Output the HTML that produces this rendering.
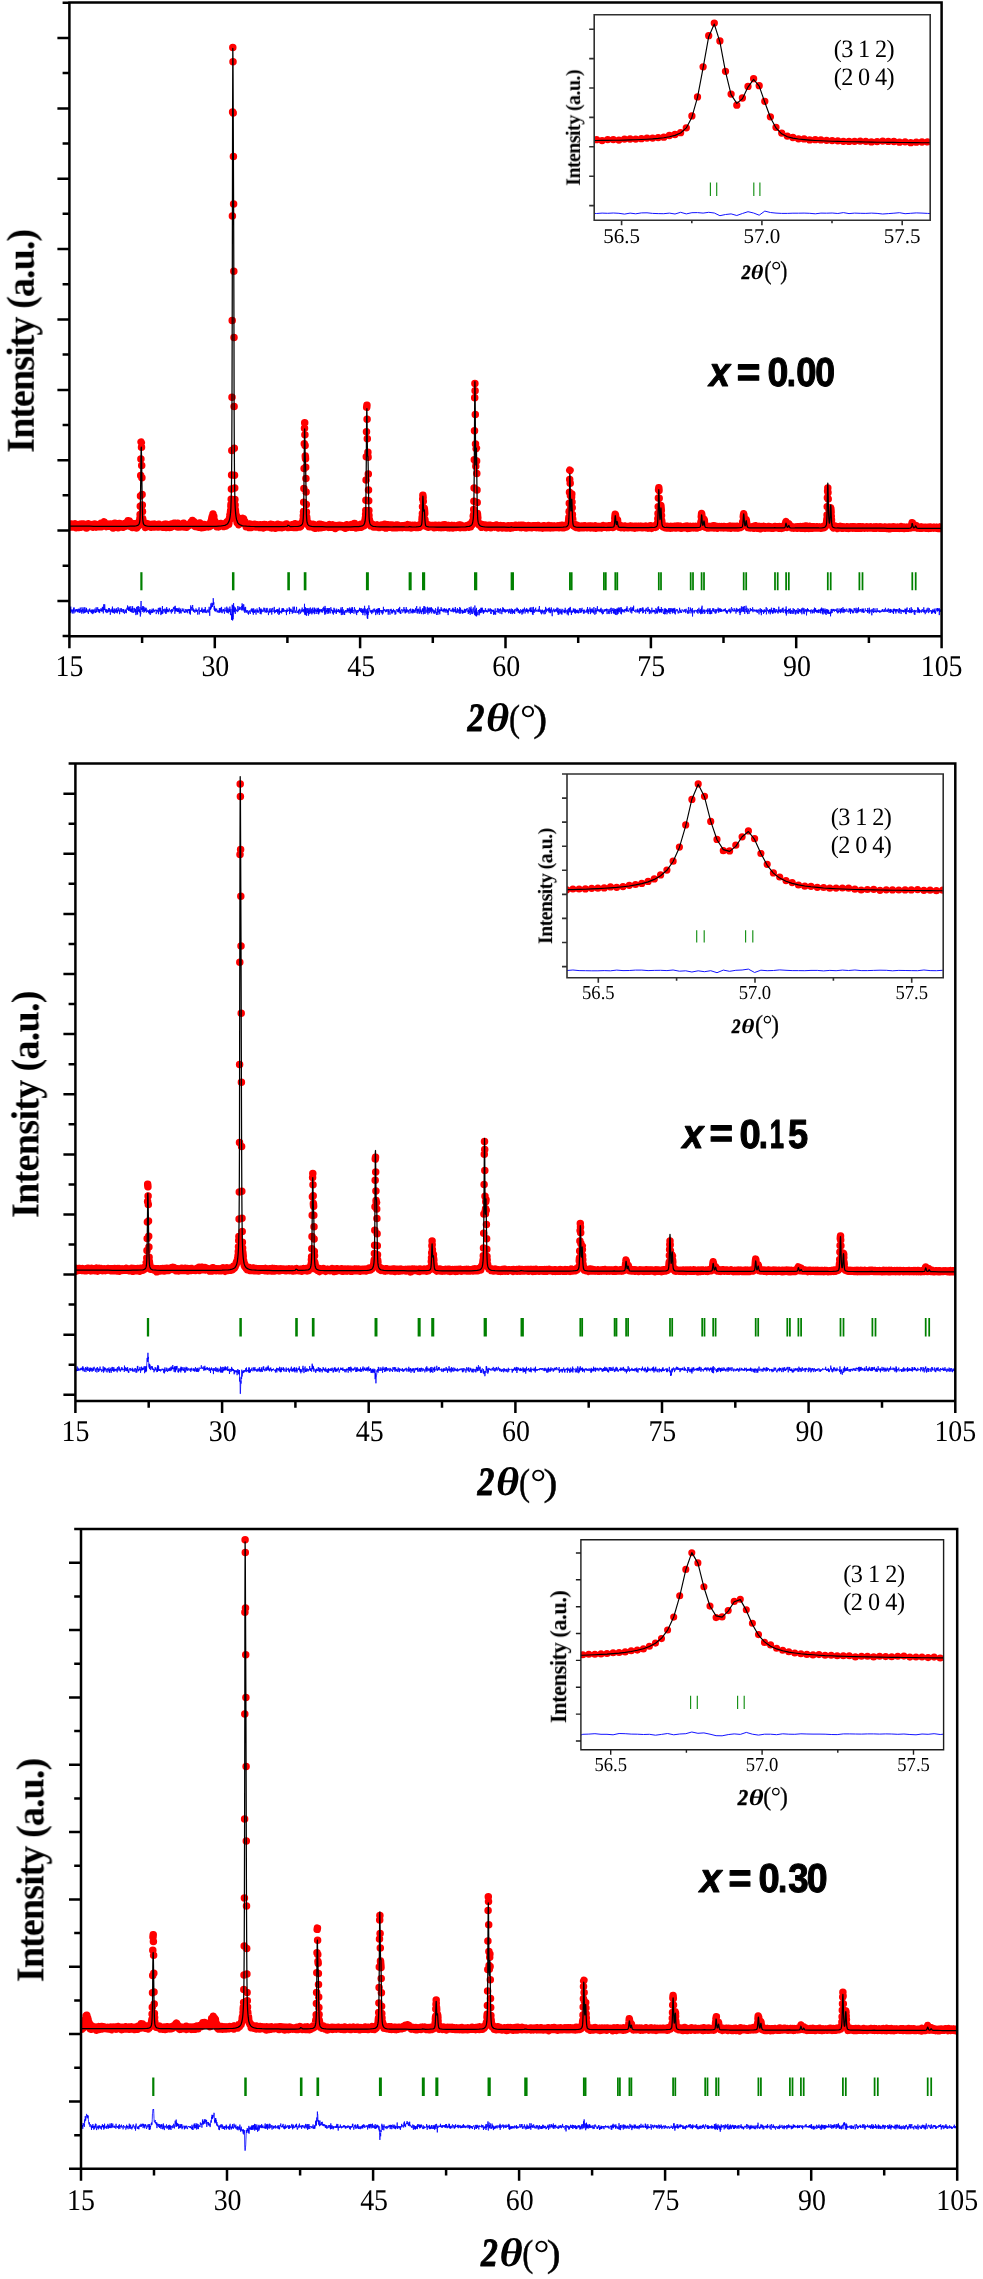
<!DOCTYPE html>
<html><head><meta charset="utf-8"><title>XRD Rietveld refinement</title>
<style>html,body{margin:0;padding:0;background:#fff}svg{display:block}text{fill:#000;text-rendering:geometricPrecision}</style></head>
<body>
<svg width="983" height="2279" viewBox="0 0 983 2279" font-family="Liberation Serif, serif">
<rect width="983" height="2279" fill="#fff"/>
<g><clipPath id="cp3"><rect x="69.4" y="-17.5" width="872.2" height="653.8"/></clipPath><path clip-path="url(#cp3)" d="M69.4,524.1h0l.2,1.1l.2,.3l.2,1.7l.2,-1.4l.2,.1l.2,-.2l.2,.4l.2,-.5l.1,.4l.2,.7l.2,-1.9l.2,0l.2,-.7l.2,1.5l.2,.3l.2,.2l.2,.8l.2,-2.1l.2,1.7l.2,.1l.2,-.8l.2,-1.5l.2,1.1l.2,1.1l.1,-.3l.2,-1.1l.2,.6l.2,.6l.2,-.5l.2,-.8l.2,-1.1l.2,2.8l.2,-.6l.2,.2l.2,1.4l.2,-1.3l.2,.1l.2,-1.9l.2,1.1l.2,1.3l.1,-1.9l.2,.8l.2,1.2l.2,-1l.2,0l.2,.3l.2,-.8l.2,1.9l.2,-1.7l.2,-1.1l.2,.2l.2,-.2l.2,0l.2,-.4l.2,2.3l.2,-1.7l.1,2.3l.2,-1.1l.2,1.2l.2,-2.6l.2,-.2l.2,1.3l.2,-1.7l.2,2.1l.2,-.7l.2,0l.2,1l.2,-1.2l.2,-1.3l.2,2.5l.2,-1.6l.2,.9l.1,-1.7l.2,1.1l.2,-.2l.2,.1l.2,.3l.2,1.4l.2,-2.4l.2,2.4l.2,-1.4l.2,-.3l.2,1.2l.2,-.8l.2,-.9l.2,1.1l.2,.7l.2,1.7l.2,-1.6l.1,-.4l.2,0l.2,.4l.2,-1.2l.2,.8l.2,-.4l.2,-.6l.2,1.3l.2,-.5l.2,-2.1l.2,1.1l.2,1.8l.2,-1l.2,-.5l.2,-.6l.2,.9l.1,.6l.2,.2l.2,-1.2l.2,.3l.2,.7l.2,-.3l.2,.2l.2,-1l.2,1.2l.2,-1l.2,-.3l.2,.3l.2,1.2l.2,-1.9l.2,1.7l.2,-.9l.1,1l.2,.8l.2,-1.6l.2,-.1l.2,.3l.2,-.3l.2,.8l.2,.1l.2,-.5l.2,-1.8l.2,1l.2,1.1l.2,-.9l.2,.9l.2,-.1l.2,-1.1l.1,1.2l.2,1l.2,-.7l.2,-.8l.2,-.1l.2,-.9l.2,1.7l.2,-1.3l.2,.3l.2,.5l.2,-.8l.2,.2l.2,1.2l.2,-1.6l.2,1.9l.2,-1.1l.1,.1l.2,-.4l.2,1l.2,-.6l.2,.1l.2,-1l.2,1.5l.2,-.7l.2,.3l.2,.8M101.2,523.2h0l.2,2.4l.2,1.2l.2,-2.7l.2,2.2l.2,-1.4l.1,-.6l.2,1.2l.2,-.3l.2,-.1l.2,-.6l.2,1.3l.2,-.5l.2,-1.3l.2,-1.3l.2,.3l.2,-1.1l.2,1.1l.2,1.3l.2,-.3l.2,2.1l.2,-.9l.2,.2l.1,-1.1l.2,-.2l.2,1.4l.2,.1l.2,1l.2,-1.1l.2,-.3l.2,-.1l.2,1.1l.2,-2.3l.2,.7l.2,1.1l.2,.4l.2,-.2l.2,-.4l.2,.2l.1,-.4l.2,-.3l.2,-.5l.2,.2l.2,1.1l.2,-.4l.2,.6l.2,.2l.2,-2.1l.2,2l.2,-2.1l.2,2l.2,-.5l.2,-.7l.2,.9l.2,-.3l.1,.5l.2,.2l.2,-.3l.2,.4l.2,-1.9l.2,1.5l.2,-1.6M113.2,528h0l.2,-2.3l.2,-.5l.2,.7l.2,-1.1l.2,.3l.2,.8l.2,-.6l.2,-2l.1,2.2l.2,-.1l.2,.7l.2,-.5l.2,1.2l.2,-.9l.2,-2.3l.2,1.2l.2,.3l.2,-.3l.2,-.7l.2,1.1l.2,-1.3l.2,.9l.2,.7l.2,-1.3M118,527.7h0l.2,-1.5l.2,-.7l.2,1l.2,-.7l.2,.4l.2,0l.2,-2.8l.2,1.8l.2,.5l.2,-1.1l.2,1.3l.2,-1l.2,.5l.2,-1.1l.2,2.6l.2,-1.9l.1,.6l.2,1.1l.2,-1.9l.2,1.6l.2,-2.1l.2,1l.2,-.2l.2,.5l.2,-.7l.2,2.4l.2,-1.7l.2,.6l.2,-.8l.2,.3l.2,-.6l.2,1.3l.1,-2.4l.2,-.4l.2,2.1l.2,-.2l.2,-.3l.2,-1l.2,-.7l.2,2.7l.2,-.7l.2,.2l.2,-.1l.2,.3l.2,-2.3l.2,1.3M127.2,521.9h0l.2,.3l.1,1.7l.2,-.2l.2,-.6l.2,-2.3l.2,2.3l.2,.7l.2,-1.6l.2,-.3l.2,1.2l.2,-2.2l.2,1.7l.2,.1l.2,1.6l.2,-.6l.2,.4l.2,2.3l.1,-2.2l.2,2.2l.2,-1.5l.2,1.5M131.4,523.3h0l.2,1.7l.2,-.4l.2,0l.2,2l.2,.9l.2,-1.7l.2,-1.1l.2,.8l.2,-.7l.2,-.1l.2,2.1l.1,-1.5l.2,-1.5l.2,2.2l.2,1.3l.2,-1.6l.2,.2l.2,-.8l.2,1.1l.2,-.9l.2,2l.2,-2.7l.2,-.7l.2,.2l.2,2.5l.2,-1.7l.2,3M136.9,524.8h0l.1,.3l.2,.8l.2,-1.3l.2,.1l.2,-.9l.2,.6l.2,-.2l.2,1.9l.2,-1l.2,-.9l.2,-1.1l.2,-.2l.2,-2.2l.2,1.8l.2,-2l.2,-2.6M140.1,514.5h0M140.3,506.3h0M140.5,496h0M140.7,475.6h0M140.9,459.1h0M141.1,442.1h0l.2,.5M141.5,447.3h0M141.7,465.4h0M141.9,477.8h0M142.1,494.6h0M142.3,505.1h0M142.5,511.4h0M142.7,518.8h0l.2,2.6l.2,1l.1,-.4l.2,2.8l.2,-1.6l.2,1.8l.2,.1l.2,-.5l.2,-.6l.2,1.1l.2,.1l.2,-.4l.2,.3l.2,2.3l.2,-2l.2,-.4l.2,-.8l.2,-.8l.1,1.3l.2,.5l.2,1l.2,-.9l.2,-.6l.2,-.4l.2,1.9l.2,-.9l.2,-.5l.2,-.9l.2,1.4l.2,.7l.2,.1l.2,-.2l.2,.2l.2,-1.2l.1,-.2l.2,.3l.2,-.4l.2,1.4l.2,-.7l.2,.7l.2,-.4l.2,-1l.2,1.1l.2,1.5l.2,-1.3l.2,.4l.2,.6l.2,-.6l.2,-1.4l.2,-.6l.1,1.8l.2,-1.3l.2,-.1l.2,2l.2,-1l.2,0l.2,-.1l.2,1.4l.2,-1l.2,-1.2l.2,-.1l.2,-.5l.2,1.8l.2,-1.8l.2,1l.2,1.7l.2,-1.8l.1,.9l.2,-.7l.2,.5l.2,-1.1l.2,.8l.2,.5l.2,-1.1l.2,.6l.2,.6l.2,-1.4l.2,1.4l.2,.2l.2,-.1l.2,.8l.2,-.8l.2,-2l.1,2.3l.2,-.7l.2,.9l.2,-.4l.2,-1.8l.2,.5l.2,1.3l.2,-.5l.2,.7l.2,-.1l.2,.1l.2,0l.2,-1l.2,-.2l.2,.1l.2,.5l.1,1l.2,-1.1l.2,.7l.2,-1.4l.2,.2l.2,-.1l.2,.9l.2,1.2l.2,-2.3l.2,-.2l.2,2.2l.2,-1.3l.2,-.9l.2,1.9l.2,-2.4l.2,1.8l.1,.6l.2,-2l.2,.9l.2,.7l.2,-1.2l.2,2.3M166.3,524.3h0l.2,2.2l.2,-.9l.2,.5l.2,-.7l.2,-.3l.2,1.4l.2,-1.3l.2,.8l.2,.4l.1,-.4l.2,.6l.2,-.1l.2,-1.5l.2,.9l.2,-1l.2,.6l.2,1.1l.2,.8l.2,-1l.2,-.8l.2,.2l.2,.7l.2,-1.5l.2,2.2l.2,-.4l.2,-1.1l.1,-1.7l.2,1.4l.2,1.2l.2,-1.4l.2,-.1l.2,-.2l.2,1.1l.2,.3l.2,-.9l.2,-.3l.2,-1.1l.2,-.6l.2,2.4l.2,-.3l.2,-.5l.2,.1l.1,-.8l.2,-.1l.2,.1l.2,-1.1l.2,1.4l.2,.8l.2,.4l.2,-.5l.2,0l.2,.8l.2,-2.3l.2,.5l.2,.7l.2,.5l.2,.7l.2,-.5l.1,-2.4M177.9,527.1h0l.2,-2l.2,-.5l.2,.6l.2,.5l.2,-.8l.2,1.6l.2,-1.3l.2,-.7l.2,2.1l.2,-.2l.2,-.7l.2,-.7l.2,-.3l.2,.6l.1,1.1l.2,.3l.2,-1.1l.2,-.1l.2,1.2l.2,-.9l.2,-.2l.2,-.6l.2,1.6l.2,-1.2l.2,1.4l.2,-.6l.2,-.3l.2,-1.3l.2,-1.4l.2,2.4l.1,-.2l.2,-.4l.2,1.9l.2,-1.7l.2,1.6l.2,-2.3l.2,.2l.2,.7l.2,1.1l.2,-2l.2,1.1l.2,.2l.2,-.4l.2,1.8l.2,-1.7l.2,-.5l.2,.6l.1,.1l.2,.9l.2,-1.3l.2,.3l.2,.2l.2,.4l.2,-1.2l.2,-.4l.2,.6l.2,-.5l.2,-.5l.2,-.3l.2,1l.2,.2l.2,0l.2,-.6l.1,-.7l.2,-.6l.2,1.1l.2,-.8l.2,.8l.2,-2.4l.2,1.4l.2,-.9l.2,.9l.2,-.6l.2,.4l.2,-2.5l.2,1.4l.2,.6l.2,.9l.2,-.2l.1,-1l.2,-.8M193.8,524.8h0l.2,-.3l.2,-.5l.2,.7l.2,1.2l.2,-1.4l.2,-.4l.2,2.3l.2,-1.5l.2,-.5l.2,.1l.2,1.3l.2,-2.2l.2,1.6l.1,1.2l.2,-1.5l.2,1.8l.2,-1.6l.2,1.7l.2,-1.6l.2,1.1l.2,-1.4l.2,.3l.2,.3l.2,.3l.2,-.8l.2,2.3l.2,-1.8l.2,0l.2,-.1l.1,-.2l.2,-2.3l.2,2.8l.2,-.5l.2,.5l.2,-1.1l.2,2.9M201,524.5h0l.2,1.9l.2,1.3l.2,-1l.2,-.7l.2,-.3l.2,.2l.2,-.7l.2,.7l.1,0l.2,1.7l.2,-2.2l.2,-.4l.2,1.2l.2,1.1l.2,-.4l.2,-2.4l.2,1.8l.2,.1l.2,.1l.2,-1.2l.2,1l.2,.2l.2,.5l.2,-1.1l.2,-.9l.1,.9l.2,-.8l.2,.6l.2,0l.2,0l.2,.1l.2,-.8l.2,.4l.2,.9l.2,-.6l.2,.1l.2,-.4l.2,.2l.2,-.2l.2,1.5l.2,-1.6l.1,-.9l.2,2.2l.2,-2.7l.2,.9l.2,.2l.2,1.1M210.3,523.1h0l.2,1.4l.2,-1l.2,-1.7l.2,.9l.2,-.8l.2,-.7l.2,-1.9l.2,-1.6l.2,-.5l.1,-.6l.2,.4l.2,-.8l.2,.8l.2,-3l.2,2.4l.2,2.9l.2,-.4l.2,-2.3M214,520.6h0l.2,-.2l.2,-.1l.2,2.4l.2,-1.5l.2,.1l.2,3l.1,-1.4l.2,2.3l.2,.4l.2,-.9l.2,.3l.2,.8l.2,-1.1l.2,2l.2,-.5l.2,.3l.2,-1.6l.2,0l.2,.1l.2,1.7l.2,-1.2l.2,-.3l.1,1.7l.2,-.7l.2,-1.2l.2,-.1l.2,.4l.2,-.3l.2,.2l.2,.1l.2,.3l.2,.6l.2,-.6l.2,.2l.2,-2.4l.2,1.8l.2,.2l.2,.1l.2,-.1l.1,.1l.2,-.7l.2,.5l.2,-.8l.2,1.3l.2,-.9l.2,-.5l.2,1.7l.2,-1.2l.2,-.1l.2,.5l.2,.1l.2,1.1l.2,-2.7l.2,1.8l.2,.3l.1,-1.8l.2,2.2l.2,-2.6l.2,.4l.2,-.2l.2,.6l.2,.8l.2,.6M226.4,522.7h0l.2,1.6l.2,-.1l.2,-2.1l.2,2l.2,-.6l.2,-.2l.2,-.3l.1,.6l.2,-.7l.2,-2.1l.2,.1M228.7,524.3h0l.2,-1.4l.2,-2.9l.2,-.1l.2,-.5l.2,-2.3l.2,2.1M230.1,514.6h0l.2,-.2l.2,-2.3l.2,-1.9M230.9,506.6h0l.1,-2.4M231.2,499.3h0M231.4,489h0M231.6,475.1h0M231.8,450.6h0M232,397.2h0M232.2,320.4h0M232.4,216h0M232.6,112.1h0M232.8,47.6h0M233,61.7h0M233.2,112.9h0M233.4,156.5h0M233.6,203.9h0M233.8,271.3h0M234,337.4h0M234.1,406.5h0M234.3,448.2h0M234.5,475.2h0M234.7,488.1h0M234.9,499.5h0M235.1,505.1h0M235.3,509.5h0l.2,2.6l.2,2.8l.2,-1.1l.2,1.9l.2,.7l.2,2.8l.2,-2.6M236.9,521h0l.2,1.6l.2,-1.3l.1,0l.2,-.2l.2,2l.2,-1.3l.2,-.8l.2,2.7l.2,0l.2,1l.2,-1.7l.2,-.6l.2,.1l.2,-.1l.2,-.6l.2,1.1l.2,-.9l.2,1.6l.1,-.4l.2,-1.3l.2,.8l.2,-1.7l.2,-1.2l.2,.7l.2,.8l.2,-.2l.2,-2.5l.2,2.1l.2,-1.1l.2,.3l.2,-.3l.2,-1.1l.2,1.9l.2,1.1l.1,-2.7l.2,1.6l.2,-.1l.2,1.1l.2,-.3l.2,-.1l.2,.3l.2,2l.2,.4l.2,-.3l.2,.5l.2,-.1l.2,1.4l.2,1.6l.2,-2.2l.2,-.2l.1,.3l.2,-.8l.2,.8l.2,1.1l.2,-1.1l.2,.9l.2,-1l.2,.8l.2,-.1l.2,.2l.2,.1l.2,1.3l.2,-1.2l.2,1.8l.2,-2.2l.2,-.4l.1,-.8l.2,1.3l.2,.9l.2,.7l.2,-2.8l.2,2.7l.2,-1.8l.2,2.5l.2,-1.8l.2,-.6l.2,.3l.2,.3l.2,.7l.2,0l.2,-1.5l.2,.5l.1,.5l.2,-.3l.2,.9l.2,-1.6l.2,-.1l.2,1.6l.2,-.7l.2,-.8l.2,1.4l.2,-2.1l.2,.4l.2,1.4l.2,-1l.2,-.5l.2,2.3l.2,-1.5l.2,.6l.1,.1l.2,-.8l.2,1l.2,.7l.2,0l.2,-1.1l.2,-.5l.2,.5l.2,.1l.2,-.1l.2,-1l.2,.6l.2,1l.2,-.3l.2,-1.2l.2,1.4l.1,-.2l.2,-.2l.2,.8l.2,-1.6l.2,2.4l.2,-2.8l.2,1.5l.2,.6l.2,-1.2l.2,1.6l.2,-1.8l.2,-.1l.2,1l.2,-.1l.2,-1.1l.2,1.3l.1,-.5l.2,-.3l.2,-.9l.2,1.6l.2,-.5l.2,-.8l.2,2.8l.2,-1.7l.2,1.2l.2,0l.2,-2.9l.2,1.3l.2,-.9l.2,1.3l.2,-.6l.2,.7l.1,.1l.2,-.3l.2,-.2l.2,-1.1l.2,1.3l.2,-.4l.2,.5l.2,-.3l.2,1.1l.2,-1.8l.2,1.2l.2,-.4l.2,.2l.2,-.9l.2,.3l.2,.4l.1,-.1l.2,-.1l.2,-.4l.2,.2l.2,-.6l.2,-.2l.2,.8l.2,1.4l.2,-2.3l.2,-.3l.2,1.9l.2,0l.2,1.3l.2,-2.2l.2,1.4l.2,-2.2M271.8,527.9h0l.1,-1.9l.2,-.5l.2,.8l.2,.3l.2,-.8l.2,.6l.2,-.1l.2,-.2l.2,.4l.2,-.3l.2,-.8l.2,.9l.2,-.4l.2,.7l.2,-1.2l.2,1.6l.1,-1.7M275.2,528.3h0l.2,-1.6l.2,.5l.2,-1.9l.2,.5l.2,1.2l.2,-.5l.2,-1.5l.2,1.1l.2,-.5l.2,1.6l.2,0l.2,-1.6l.2,-1.3l.2,2.2l.1,-.9l.2,1.2l.2,-1.7l.2,1.3l.2,0l.2,1.1l.2,-1.1l.2,-.5l.2,-.9l.2,2l.2,-1.7l.2,1l.2,0l.2,.5l.2,.6l.2,-.4l.1,-2.1l.2,2.1l.2,-.6l.2,-1.1l.2,2.4l.2,-1.9l.2,.7l.2,-.5l.2,-.6l.2,.8l.2,0l.2,-.7l.2,.1l.2,1l.2,-.4l.2,.9l.1,-2l.2,1.9l.2,-1.1l.2,-1.1l.2,.7l.2,.8l.2,.3l.2,-.1l.2,-1.1l.2,.4l.2,.3l.2,-2l.2,2.6l.2,-.3l.2,-.1l.2,-.5l.1,-.1l.2,.3l.2,-.9l.2,.1l.2,.6l.2,1.8l.2,-2.5l.2,1.4l.2,-.2l.2,-.4l.2,.9l.2,-.2l.2,-.7l.2,.4l.2,-.5l.2,.9l.2,-.5l.1,.7l.2,-.6l.2,-.4l.2,.4l.2,.9l.2,-1l.2,-.2l.2,-.8l.2,.9l.2,.3l.2,.5l.2,-2.4l.2,2.3l.2,.1l.2,-.7l.2,1.2l.1,-2.2l.2,.7l.2,-.3l.2,1.2l.2,-.4l.2,-1.1l.2,0l.2,-1.5l.2,1.3l.2,2.3l.2,-1.5l.2,.3l.2,-1.1l.2,.9l.2,-.5l.2,.6l.1,-.7l.2,-.7l.2,1.6l.2,1.1l.2,-.8l.2,-2.1l.2,1.1l.2,.4l.2,.5l.2,-1.7l.2,.6l.2,.3l.2,.3l.2,-.4l.2,.1l.2,-.8l.1,-.6l.2,2.6l.2,-.5l.2,-1.3l.2,-.2l.2,1.2l.2,-.9l.2,-.4l.2,-.1l.2,-.2l.2,-.7l.2,-1.2l.2,-.4l.2,-.4l.2,-.5l.2,0l.1,-1.8M303.3,515.7h0M303.5,511.6h0M303.7,502.2h0M303.9,488.6h0M304.1,468.4h0M304.3,443.7h0M304.5,428.2h0M304.7,422.7h0M304.9,434.8h0M305.1,445.5h0M305.3,456h0l.2,2.7M305.7,467.2h0M305.9,478.6h0M306.1,492h0M306.3,504.5h0M306.4,511.9h0M306.6,516.5h0l.2,2.1l.2,2.7l.2,.6l.2,1.2l.2,1l.2,-.6l.2,.1l.2,1.3l.2,-1.8l.2,2.2l.2,-1.1l.2,.4l.2,1.9l.2,-1.3l.1,1.3l.2,-1.1l.2,-.5l.2,-.9l.2,.9l.2,1.9l.2,-.9l.2,-1.4l.2,1.1l.2,-1.3l.2,2l.2,-.1l.2,.7l.2,-.8l.2,-1.2l.2,1.7l.1,-1.3l.2,.3l.2,-.3l.2,.8l.2,-.2l.2,-1.5l.2,2.5l.2,-1.5l.2,-.5l.2,.8l.2,-.9M314.8,528.3h0l.2,-2l.2,.6l.2,-.5l.2,-.2l.1,-.5l.2,1l.2,-1.3l.2,1.9l.2,-1.9l.2,.9l.2,1.1l.2,.1l.2,0l.2,-.6l.2,-.8l.2,-.9l.2,.4l.2,1.6l.2,.7l.2,-1.5l.1,.8l.2,-.9l.2,.4l.2,-2.4M319.6,527.5h0l.2,-1.5l.2,-1.1l.2,1.6l.2,.3l.2,-1.8l.2,2.8l.2,-.3l.2,-.4l.2,-1.2l.2,-.2l.2,.6l.2,-1.7l.1,1.8l.2,-.2l.2,.3l.2,-1.2l.2,.9l.2,.3l.2,-1.5l.2,.3l.2,.2l.2,1.7l.2,-.2l.2,-.6l.2,0l.2,.1l.2,-.1l.2,-.6l.1,1.2l.2,-.9l.2,.4l.2,.1l.2,-.2l.2,-.7l.2,.3l.2,.8l.2,-.8l.2,.1l.2,-.2l.2,.5l.2,-.9l.2,.4l.2,1.1l.2,.1l.1,.1l.2,-1.3l.2,.8l.2,-.2l.2,-.2l.2,-1l.2,-.7l.2,1.7l.2,-1.5l.2,1l.2,-.5l.2,1.1l.2,.7l.2,-1.2l.2,-.6l.2,2l.1,-1.1l.2,-.2l.2,-.2l.2,1.2l.2,-.4l.2,-1.1l.2,-.6l.2,1.2l.2,-.6l.2,.6l.2,-.2l.2,.6l.2,-.1l.2,.2l.2,-.5l.2,-.7l.1,.7l.2,-.4l.2,1l.2,-1l.2,2.8l.2,-1.3l.2,-.7l.2,1l.2,-1.7l.2,.3l.2,.8l.2,-.7l.2,1.1l.2,-.4l.2,-.4l.2,.9l.1,-1.9l.2,1.2l.2,-1.2l.2,.8l.2,-.3l.2,.9l.2,-.5l.2,.1l.2,-.4l.2,-.9l.2,1.4l.2,-.3l.2,-.3l.2,-.4l.2,.7l.2,.2l.2,.1l.1,-.4l.2,-.1l.2,.6l.2,-.3l.2,-.7l.2,.5l.2,.4l.2,-.9l.2,0l.2,.1l.2,0l.2,.7l.2,-.4l.2,-.1l.2,.1l.2,1.4l.1,-1.3l.2,-.2l.2,-.1l.2,.5l.2,-.2l.2,1.3l.2,-.2l.2,1l.2,-1.9l.2,-1.3l.2,-.1l.2,2l.2,-1.2l.2,-.5l.2,1.1l.2,1.2l.1,-2.4l.2,1.3l.2,0l.2,-1.5l.2,.9l.2,-.3l.2,-.5l.2,1.2l.2,.6l.2,-1.3l.2,.6l.2,-.5l.2,.2l.2,.8l.2,-.5l.2,.2l.1,-.1l.2,-.1l.2,-.3l.2,.1l.2,1.1l.2,-1.4l.2,1.5l.2,-2.6l.2,2.1l.2,-.5l.2,-1l.2,1.1l.2,.8l.2,.1l.2,-1.3l.2,-.1l.1,-.3l.2,.4l.2,.6l.2,-.7l.2,-.7l.2,1.6M354.5,523.5h0l.2,2.9l.2,-1.2l.2,-.5l.2,.7l.2,.5l.2,-.3l.2,-.5l.2,2.9l.2,-2.3l.2,.6l.1,.3l.2,-.6l.2,-.1l.2,-.2l.2,.7l.2,-1.2l.2,2.3l.2,-.8l.2,.2l.2,-1l.2,.4l.2,-.7l.2,.9l.2,-1.5l.2,.3l.2,1l.1,.8l.2,-.4l.2,.3l.2,-2.2l.2,.4l.2,1.5l.2,-2.5l.2,1.7l.2,1.4l.2,-2.6l.2,-.2l.2,.9l.2,.6l.2,-1.7l.2,1.3l.2,-.5l.1,-.5l.2,0l.2,.5l.2,.3l.2,-1.7l.2,2.2l.2,-2.4l.2,-.3l.2,-.7l.2,.2l.2,-1.2l.2,-1.4l.2,.5l.2,-2.9M365.6,514.3h0M365.8,510.5h0M365.9,500.2h0M366.1,480.1h0M366.3,456.8h0M366.5,431.8h0M366.7,407.3h0l.2,-2M367.1,419.3h0M367.3,438.8h0M367.5,456.2h0l.2,-.7M367.9,452.3h0M368.1,457.3h0M368.3,473.9h0M368.5,489.9h0M368.7,500.7h0M368.9,510.6h0M369,515.4h0M369.2,519.6h0l.2,0l.2,1.3l.2,.9l.2,2l.2,1l.2,0l.2,-1.2l.2,2.2l.2,-1.8l.2,-.7l.2,2l.2,-.2l.2,-.8l.2,.2l.2,1.3l.1,-.3l.2,-.2l.2,.4l.2,-.6l.2,.3l.2,-.7l.2,2.3l.2,-2.1l.2,.3l.2,.7l.2,-.4l.2,-.4l.2,.6l.2,.4l.2,-.4l.2,.8l.1,.4l.2,-.3l.2,0l.2,-.7l.2,-.4l.2,.4l.2,-.9l.2,1.1l.2,.4l.2,.1l.2,.1l.2,-.4l.2,-1.2l.2,2.1l.2,-1.5l.2,.5l.1,-.6l.2,.9l.2,-.8l.2,.8l.2,-.8l.2,1.8l.2,-1.7l.2,-.1l.2,1.6l.2,-1.7l.2,1.4l.2,-1.5l.2,.7l.2,-.5l.2,.2l.2,1.1l.1,-1.9l.2,.3l.2,1.5l.2,-1.1l.2,.1l.2,.8l.2,.2l.2,-1.6l.2,1.2l.2,-.9l.2,-.7l.2,1l.2,.9l.2,-1.2l.2,1.6l.2,-.3l.1,-2.7l.2,2.6l.2,-.8l.2,1l.2,-.7l.2,-.2l.2,2l.2,-1.4l.2,-.9l.2,-.1l.2,.3l.2,.9l.2,-.9l.2,.6l.2,.2l.2,-.5l.1,-1.6l.2,2.2l.2,-1.3l.2,.5l.2,1.2l.2,-.4l.2,-.5l.2,.2l.2,-.5l.2,.9l.2,0l.2,-1.4l.2,.7l.2,.6l.2,-.6l.2,-1.2l.2,1.6l.1,.6l.2,-1.6l.2,-.7l.2,.5l.2,1.7l.2,.5l.2,-2.2l.2,.9l.2,-.4l.2,.5l.2,-1.3l.2,1.1l.2,.2l.2,-.3l.2,.9l.2,-.9l.1,.2l.2,1.4l.2,-.7l.2,.1l.2,.2l.2,-1.3l.2,-.5l.2,.5l.2,1.3l.2,.2l.2,-1.8l.2,.8l.2,-.2l.2,.8l.2,.5l.2,-2.8l.1,1.9l.2,-.3l.2,.6l.2,-1.7l.2,1.2l.2,-.1l.2,-.1l.2,0l.2,-1l.2,2.2l.2,-1.6l.2,.8l.2,-.1l.2,.1l.2,-.7l.2,1.2l.1,-.5l.2,-.8l.2,.8l.2,-.1l.2,-.5l.2,.2l.2,.2l.2,-.2l.2,.6l.2,-1.2l.2,1.3l.2,.4l.2,-1.4l.2,1.2l.2,-.2l.2,-.5l.1,-.6l.2,.7l.2,0l.2,0l.2,-.5l.2,.6l.2,-.5l.2,-.8l.2,1.1l.2,.1l.2,.4l.2,-.2l.2,.4l.2,-.1l.2,-.4l.2,-.6l.2,-.1l.1,.6l.2,-.5l.2,1.1l.2,-2.2l.2,-.3l.2,1.7l.2,-.4l.2,.3l.2,-.5l.2,.9l.2,.6l.2,-1.7l.2,1.3l.2,-1.1l.2,.9l.2,-.1l.1,-1.1l.2,-.4l.2,1.2l.2,.2l.2,-.5l.2,.6l.2,.8l.2,-1.1l.2,1.5l.2,-1.8l.2,.6l.2,-.4l.2,1.1l.2,-.5l.2,-.9l.2,-.5l.1,.4l.2,.3l.2,1l.2,-1.2l.2,.3l.2,.3l.2,-1.1l.2,1.4l.2,-1.7l.2,1.6l.2,0l.2,-.3l.2,.8l.2,-.6l.2,-.4l.2,1.2l.1,-.6l.2,.4l.2,-.7l.2,-1l.2,1l.2,-.1l.2,-.3l.2,.9l.2,-1l.2,.5l.2,.1l.2,.7l.2,-.7l.2,-1.2l.2,-.2l.2,1l.1,-.3l.2,.3l.2,.5l.2,.4l.2,-2.5l.2,1.8l.2,-1l.2,-1.1l.2,1.3l.2,-.4l.2,-.6l.2,.1l.2,-1.1l.2,-.6M422,519.9h0l.2,-2.9M422.4,513.4h0M422.5,506.7h0M422.7,499h0M422.9,495.3h0l.2,2.3M423.3,501.2h0M423.5,508.2h0l.2,2.4l.2,-.6l.2,1l.2,-2.7l.2,2.2l.2,3M424.9,519.4h0l.2,2.3l.2,1.2l.2,1.5l.1,1.5l.2,-1.5l.2,1.1l.2,-.2l.2,1.1l.2,-1.3l.2,1l.2,.3l.2,-1l.2,-.1l.2,1.4l.2,-1.3l.2,-.4l.2,1l.2,1.2l.2,-1.4l.1,-.3l.2,1.4l.2,-1.8l.2,1.3l.2,0l.2,-.8l.2,.6l.2,-.7l.2,.8l.2,-.2l.2,.2l.2,-.1l.2,-.2l.2,0l.2,.6l.2,-.8l.1,.6l.2,-.8l.2,.4l.2,.5l.2,.4l.2,-.5l.2,-.9l.2,.8l.2,-.5l.2,.7l.2,.1l.2,.3l.2,.8l.2,-1.5l.2,.2l.2,.1l.1,-.6l.2,1.2l.2,-1.8l.2,2.1l.2,-1.1l.2,.9l.2,-.6l.2,-.9l.2,1.7l.2,-1.1l.2,.1l.2,-.1l.2,0l.2,-.4l.2,.2l.2,.1l.1,-.3l.2,.1l.2,.6l.2,.7l.2,-1.3l.2,.7l.2,-1.3l.2,1.4l.2,.5l.2,-1.5l.2,1.2l.2,.4l.2,-1.7l.2,1.7l.2,-1.8l.2,1.5l.2,-.9l.1,.1l.2,1.3l.2,-1.1l.2,.3l.2,-.4l.2,-.2l.2,-.7l.2,1.1l.2,0l.2,-1.5l.2,.9l.2,0l.2,1.5l.2,-.1l.2,-.6l.2,-.2l.1,-.4l.2,-1.4l.2,2.5l.2,-.5l.2,-.7l.2,.2l.2,-.5l.2,.9l.2,.4l.2,-1.9l.2,1l.2,1.1l.2,-.6l.2,-.2l.2,1l.2,-1.5l.1,.4l.2,.3l.2,.2l.2,-1.4l.2,1.1l.2,.4l.2,.8l.2,-.6l.2,-1.1l.2,-.5l.2,1.7l.2,.5l.2,-1.3l.2,.1l.2,-.6l.2,1l.1,-.5l.2,1.2l.2,-.4l.2,-.4l.2,-.1l.2,-.6l.2,-.5l.2,1.7l.2,-2l.2,1.6l.2,-.2l.2,-1l.2,2.2l.2,-.6l.2,-.4l.2,-.5l.1,-.7l.2,0l.2,1.3l.2,-1.1l.2,.8l.2,-1.2l.2,1.1l.2,-.9l.2,1.4l.2,-1.2l.2,1.4l.2,-1l.2,1.1l.2,-.9l.2,.4l.2,.1l.2,-.8l.1,-.3l.2,.4l.2,-.1l.2,-.3l.2,-.3l.2,.1l.2,.4l.2,-1l.2,1.6l.2,-.8l.2,1.2l.2,-2.3l.2,1.7l.2,-.2l.2,-.8l.2,1l.1,.4l.2,.6l.2,-1l.2,-1.5l.2,1.2l.2,-1l.2,.6l.2,.8l.2,.6l.2,-.8l.2,-.5l.2,.6l.2,-.3l.2,-.3l.2,.6l.2,.7l.1,-.7l.2,-.6l.2,.9l.2,.2l.2,-.1l.2,-.5l.2,-.1l.2,0l.2,.8l.2,-.9l.2,.4l.2,.2l.2,.6l.2,-.5l.2,-.3l.2,-.5l.1,-.2l.2,.2l.2,-.1l.2,.8l.2,-1.3l.2,0l.2,.1l.2,.7l.2,-.3l.2,.2l.2,.6l.2,-.7l.2,.8l.2,.1l.2,-1.7l.2,0l.1,-.3l.2,.9l.2,-.4l.2,-.5l.2,.6l.2,1.1M470.6,523.6h0l.2,.6l.2,-.2l.2,.7l.2,.4l.2,-.9l.2,-.4l.2,1l.2,-1.1l.2,-1.3l.2,-1.3l.1,0l.2,-.1l.2,-.5M473.3,515.9h0l.2,-1.1M473.7,509.4h0M473.9,501.3h0M474.1,487.9h0M474.3,459.7h0M474.5,430.7h0M474.7,397.8h0M474.9,383.5h0M475.1,390.7h0M475.3,414.6h0M475.5,444.1h0M475.7,461.5h0M475.8,466.3h0M476,460.8h0M476.2,448.7h0l.2,-.5M476.6,461h0M476.8,473.4h0M477,490h0M477.2,502.5h0M477.4,513.4h0l.2,2.8l.2,1.6M478,521.4h0l.2,.8l.2,.3l.2,2l.2,-1.3l.1,-.2l.2,.6l.2,-.3l.2,1.2l.2,.3l.2,.3l.2,.5l.2,.4l.2,-.1l.2,-.4l.2,.4l.2,-.4l.2,.1l.2,-.3l.2,.8l.2,1.2l.1,-.8l.2,-1.9l.2,.9l.2,.8l.2,-.1l.2,-.1l.2,.3l.2,-.4l.2,-.3l.2,-.3l.2,1l.2,0l.2,.1l.2,-.3l.2,-.6l.2,1.2l.1,-1.9l.2,1.1l.2,-.4l.2,1.3l.2,-.3l.2,.1l.2,-.4l.2,1.4l.2,-1.6l.2,1.4l.2,-1.3l.2,-.4l.2,.7l.2,0l.2,0l.2,.1l.1,-.3l.2,-.4l.2,.1l.2,-.5l.2,.9l.2,.4l.2,0l.2,.4l.2,-.5l.2,.1l.2,-1.4l.2,.7l.2,-.7l.2,2.3l.2,-1.4l.2,-.5l.2,.5l.1,.5l.2,-.4l.2,0l.2,0l.2,-.1l.2,-.4l.2,.5l.2,-.1l.2,.2l.2,-.3l.2,.7l.2,-.8l.2,.6l.2,-.7l.2,.9l.2,-.4l.1,.1l.2,.5l.2,-1.2l.2,.4l.2,.2l.2,-.7l.2,.9l.2,-.2l.2,-.7l.2,-.8l.2,1.5l.2,-1l.2,.9l.2,.6l.2,-.8l.2,-.4l.1,.6l.2,-.1l.2,.9l.2,.7l.2,-1.5l.2,1l.2,-.8l.2,.4l.2,-.5l.2,-.4l.2,1.5l.2,-.9l.2,0l.2,-.9l.2,.8l.2,.5l.1,-.1l.2,-1.4l.2,1.6l.2,-.6l.2,-.1l.2,.8l.2,-.2l.2,.7l.2,-.6l.2,-.9l.2,.2l.2,1.3l.2,-2l.2,1.6l.2,-.2l.2,-1.5l.1,.7l.2,.3l.2,-.9l.2,.9l.2,-.3l.2,.6l.2,-.3l.2,0l.2,-.7l.2,1l.2,-.2l.2,1.1l.2,-.2l.2,-1.4l.2,.6l.2,0l.2,-.6l.1,.6l.2,-.3l.2,.2l.2,1.1l.2,-1.6l.2,-.5l.2,.2l.2,.6l.2,-.1l.2,0l.2,-.7l.2,.2l.2,.9l.2,-.1l.2,0l.2,.2l.1,0l.2,-.3l.2,1.4l.2,-1.8l.2,.5l.2,.4l.2,-.7l.2,.4l.2,-1.1l.2,1.5l.2,-.7l.2,-.2l.2,.7l.2,.2l.2,-1l.2,.5l.1,.4l.2,.3l.2,-1.2l.2,-.5l.2,1.2l.2,-.6l.2,-.3l.2,0l.2,1l.2,-.7l.2,-.1l.2,-1l.2,1.3l.2,-.5l.2,.1l.2,.1l.1,1l.2,-.8l.2,-.7l.2,1.1l.2,-.3l.2,.5l.2,-.6l.2,0l.2,-.2l.2,.6l.2,0l.2,.1l.2,-.5l.2,.1l.2,-1.2l.2,1.7l.1,-.8l.2,.7l.2,0l.2,-.9l.2,.4l.2,-.1l.2,1.1l.2,-2.3l.2,.3l.2,1.6l.2,.4l.2,-.4l.2,-.5l.2,.6l.2,-.6l.2,.5l.2,-1.9l.1,1.6l.2,.2l.2,-1.4l.2,.9l.2,.2l.2,0l.2,-.3l.2,.6l.2,-.3l.2,.3l.2,.5l.2,-.6l.2,-.3l.2,-.8l.2,.8l.2,.3l.1,-.2l.2,-.3l.2,1.6l.2,-1l.2,.9l.2,-.2l.2,-.6l.2,-.3l.2,-.1l.2,0l.2,-.7l.2,.5l.2,0l.2,.4l.2,-1.3l.2,.4l.1,1l.2,0l.2,-.7l.2,-.1l.2,.7l.2,-.8l.2,1.3l.2,-.6l.2,-.6l.2,.8l.2,-.4l.2,.1l.2,.2l.2,.9l.2,-.9l.2,-.3l.1,0l.2,-.3l.2,-.1l.2,.7l.2,-.1l.2,-1l.2,.4l.2,.5l.2,.1l.2,-.7l.2,0l.2,.7l.2,-.3l.2,.2l.2,0l.2,-1l.1,1.7l.2,-1.1l.2,1l.2,-.2l.2,-.9l.2,1.2l.2,-.2l.2,.2l.2,-.3l.2,-.5l.2,-.5l.2,1l.2,-.9l.2,1.2l.2,-1.9l.2,1.5l.1,0l.2,-.4l.2,.1l.2,.1l.2,.9l.2,-1.4l.2,.1l.2,.6l.2,.4l.2,-.8l.2,-.5l.2,1.6l.2,-.3l.2,-.7l.2,.5l.2,-.2l.2,-.2l.1,-.5l.2,0l.2,-.1l.2,.1l.2,.8l.2,1l.2,-1.5l.2,-.1l.2,0l.2,.6l.2,-1.4l.2,2l.2,-1.4l.2,.1l.2,-.1l.2,-.3l.1,.5l.2,.1l.2,.3l.2,-.5l.2,.2l.2,-.3l.2,1.1l.2,.2l.2,-.9l.2,-.2l.2,1.1l.2,-.3l.2,-.3l.2,-.4l.2,0l.2,-.4l.1,.7l.2,-.4l.2,-.4l.2,.8l.2,-1.4l.2,1.5l.2,-.3l.2,1.1l.2,-1l.2,.3l.2,0l.2,-.5l.2,.8l.2,-.8l.2,1.3l.2,-.9l.1,-1l.2,.7l.2,-.3l.2,.9l.2,.2l.2,-1.5l.2,.2l.2,.1l.2,.5l.2,-.7l.2,.9l.2,-.6l.2,0l.2,.9l.2,-1.3l.2,.7l.1,-.4l.2,1.3l.2,-.2l.2,-.4l.2,-.5l.2,-.4l.2,.4l.2,.3l.2,-.4l.2,.5l.2,-.2l.2,-.2l.2,.6l.2,-.6l.2,1l.2,-.3l.2,-.8l.1,.7l.2,-.6l.2,.1l.2,.2l.2,-.9l.2,.6l.2,.6l.2,-.1l.2,-.3l.2,.9l.2,-1.5l.2,.7l.2,.9l.2,-.4l.2,-1.4l.2,.7l.1,-1.1l.2,1.2l.2,-.3l.2,-.8l.2,-.1l.2,1.7l.2,-1l.2,1l.2,-.3l.2,.7l.2,-1.3l.2,.9l.2,-.1l.2,-1.6l.2,.6l.2,.6l.1,.9l.2,-1.2l.2,1.4l.2,-.8l.2,-.9l.2,-.1l.2,.3l.2,-.4l.2,.3l.2,.6l.2,-.5l.2,-1.1l.2,1l.2,-.3l.2,-.2l.2,1.1l.1,-.3l.2,.2l.2,-1.4l.2,.3l.2,.3l.2,-.2l.2,-1.6l.2,-.6l.2,-.4l.2,-.7l.2,-2.2l.2,-2.9M569.1,511.4h0M569.3,503.3h0M569.5,492.2h0M569.7,479.4h0M569.8,470.2h0l.2,.1M570.2,483.3h0M570.4,495.4h0M570.6,502.9h0M570.8,508h0l.2,2.1l.2,-2.9M571.4,502.4h0M571.6,497.1h0M571.8,494h0M572,502.1h0M572.2,507.7h0M572.4,514.4h0M572.6,518.4h0l.2,2.7l.2,1.8l.1,1.8l.2,.6l.2,-.9l.2,.7l.2,.3l.2,-.1l.2,1l.2,-1.1l.2,1.3l.2,.3l.2,0l.2,-.4l.2,-1.6l.2,1.6l.2,-.1l.2,-.7l.1,1.1l.2,.6l.2,-.4l.2,-.1l.2,.7l.2,-.7l.2,-.2l.2,-1.1l.2,.7l.2,.4l.2,.4l.2,.1l.2,.7l.2,-1l.2,1.2l.2,-1.1l.1,-1l.2,1.1l.2,-.4l.2,.7l.2,.5l.2,-1.1l.2,.3l.2,-.4l.2,.2l.2,-.3l.2,.6l.2,-.5l.2,-.3l.2,.8l.2,-.1l.2,-.7l.1,.3l.2,.4l.2,.7l.2,-.7l.2,-.9l.2,1l.2,-.1l.2,.4l.2,-.5l.2,0l.2,-.2l.2,.5l.2,.3l.2,-1.7l.2,1l.2,.6l.1,-.4l.2,-.4l.2,-.3l.2,.4l.2,.4l.2,-.5l.2,1l.2,-.2l.2,-1.2l.2,.6l.2,.1l.2,.3l.2,.3l.2,-.7l.2,.1l.2,-.9l.1,1.4l.2,-.5l.2,.2l.2,.3l.2,-1.4l.2,.2l.2,.6l.2,.9l.2,-.9l.2,-.1l.2,.6l.2,.5l.2,-1.8l.2,1.7l.2,-1.3l.2,.9l.2,-.2l.1,-.7l.2,1.1l.2,-.4l.2,-.1l.2,-.7l.2,.1l.2,.5l.2,.7l.2,-1.3l.2,.9l.2,-.4l.2,1.1l.2,-.9l.2,-.3l.2,.4l.2,-.5l.1,-.3l.2,-.2l.2,1.1l.2,.5l.2,.5l.2,-1.1l.2,.7l.2,-1.1l.2,1.4l.2,-1.7l.2,.5l.2,.9l.2,-1l.2,-.1l.2,0l.2,.3l.1,-.4l.2,.1l.2,.4l.2,-.2l.2,.8l.2,-1.1l.2,1l.2,-.5l.2,.5l.2,-1.1l.2,.4l.2,.6l.2,-.7l.2,.3l.2,-.5l.2,.4l.1,0l.2,.1l.2,.7l.2,-1.1l.2,-.1l.2,.9l.2,-.8l.2,-.3l.2,.1l.2,-.2l.2,.1l.2,.7l.2,-1.5l.2,1.1l.2,.4l.2,-1.1l.1,1.2l.2,-.8l.2,.9l.2,-1l.2,-.1l.2,.9l.2,-.6l.2,-.1l.2,.5l.2,-.3l.2,.3l.2,.3l.2,.2l.2,-.7l.2,-.1l.2,-.1l.2,.1l.1,-.1l.2,.6l.2,-1.1l.2,1.3l.2,-.8l.2,.4l.2,.1l.2,-1.2l.2,.8l.2,.8l.2,-.8l.2,.5l.2,-1.3l.2,1.4l.2,-.4l.2,.3l.1,0l.2,-.7l.2,-.2l.2,-.1l.2,.7l.2,.2l.2,-.6l.2,.5l.2,-1.1l.2,1.6l.2,-1.1l.2,.9l.2,-.2l.2,.3l.2,-.3l.2,-1.1l.1,.4l.2,-.1l.2,-.7l.2,-1.4l.2,-2.2M614.8,518.3h0l.2,-2.2l.2,-1.9l.2,.3l.2,1.6M615.8,520.1h0l.2,1.4l.2,2.4l.2,.5l.2,-1.4l.2,-.5l.1,-1.1l.2,-.4l.2,-1.1l.2,-.1l.2,2.6l.2,1.3l.2,1.5l.2,-.1l.2,1.2l.2,-1.6l.2,1.6l.2,.2l.2,-.6l.2,1.3l.2,-.1l.2,0l.1,-.2l.2,-1.1l.2,1.5l.2,-1.8l.2,.8l.2,-.3l.2,.7l.2,.9l.2,-.1l.2,-1.3l.2,.8l.2,-.3l.2,0l.2,-.6l.2,.1l.2,.5l.2,.1l.1,-.4l.2,1l.2,-.2l.2,.4l.2,-.2l.2,.3l.2,-1.2l.2,.5l.2,-1l.2,1.1l.2,-.3l.2,.4l.2,-.7l.2,.1l.2,.5l.2,-.3l.1,.5l.2,-.1l.2,.2l.2,-.9l.2,.9l.2,.1l.2,-1l.2,.5l.2,.6l.2,-.1l.2,-.2l.2,.2l.2,-.5l.2,.6l.2,0l.2,-1l.1,-.4l.2,.1l.2,.9l.2,-.5l.2,.4l.2,-1l.2,.7l.2,-.1l.2,-.7l.2,.4l.2,.5l.2,.6l.2,-.3l.2,.5l.2,-1.5l.2,.9l.1,-.5l.2,.3l.2,.4l.2,-.5l.2,0l.2,.2l.2,0l.2,-.2l.2,.7l.2,-.5l.2,.2l.2,.2l.2,-.5l.2,1.2l.2,-.4l.2,-.6l.1,-.9l.2,.5l.2,.7l.2,-1.1l.2,.6l.2,.4l.2,-.2l.2,-.8l.2,.3l.2,.8l.2,.1l.2,-.8l.2,.9l.2,-.4l.2,-.5l.2,.8l.1,-.1l.2,-.5l.2,.2l.2,-.7l.2,.6l.2,-.3l.2,0l.2,.6l.2,-.7l.2,-.2l.2,.7l.2,.2l.2,-.2l.2,-.8l.2,.7l.2,.3l.2,.3l.1,-.6l.2,.7l.2,-1.1l.2,.8l.2,.2l.2,-1.1l.2,.4l.2,-.1l.2,.7l.2,-.9l.2,.3l.2,0l.2,-.3l.2,-.1l.2,.5l.2,-.8l.1,.5l.2,.3l.2,-.3l.2,.2l.2,-.7l.2,.7l.2,.2l.2,-.1l.2,-.4l.2,1.2l.2,-.2l.2,-.5l.2,-.3l.2,-.1l.2,.4l.2,.7l.1,.2l.2,-.9l.2,.1l.2,-.3l.2,-.4l.2,.9l.2,-1.1l.2,.9l.2,-.1l.2,-.2l.2,1l.2,-2.1l.2,1.3l.2,-.7l.2,.9l.2,.4l.1,-.2l.2,0l.2,.4l.2,.3l.2,-1.7l.2,.8l.2,-.5l.2,-.5l.2,.8l.2,-.3l.2,-.5l.2,.3l.2,.1l.2,.6l.2,-.1l.2,-.8l.1,.4l.2,-.6l.2,0l.2,.1l.2,-.2l.2,.2l.2,-.6l.2,1.7l.2,-.9l.2,-.7l.2,-.9l.2,1.6l.2,-.9l.2,-.9l.2,-1.1l.2,.1l.2,-.6M657.8,518.7h0M658,513.5h0M658.2,506.7h0M658.4,498h0M658.6,489.8h0l.2,-2l.2,2.6M659.2,498.3h0M659.4,507.3h0M659.6,514.2h0M659.8,517.7h0l.2,.4l.2,.2M660.4,514.4h0M660.6,511.4h0M660.8,508h0l.1,-2.5l.2,2.5l.2,2.5M661.5,515.6h0M661.7,520.6h0l.2,2.2l.2,2.5l.2,-.8l.2,.7l.2,.4l.2,1.1l.2,-1.4l.2,.3l.2,1l.2,.2l.2,0l.1,-.6l.2,.2l.2,.3l.2,.1l.2,.6l.2,-.3l.2,.6l.2,-1.4l.2,.6l.2,0l.2,.2l.2,.3l.2,.6l.2,-.6l.2,-.2l.2,0l.1,-.6l.2,0l.2,.9l.2,-.1l.2,-.9l.2,1.6l.2,-.9l.2,-.5l.2,.3l.2,.3l.2,-.6l.2,.6l.2,.2l.2,-.6l.2,.2l.2,-.3l.1,-.3l.2,-.1l.2,1.8l.2,-1.3l.2,-.1l.2,-.1l.2,.5l.2,0l.2,-.3l.2,.6l.2,.4l.2,-1.2l.2,.1l.2,.9l.2,-1.1l.2,.9l.2,-.6l.1,.8l.2,-.6l.2,.4l.2,-.1l.2,-.4l.2,-.2l.2,.8l.2,-1.2l.2,1.1l.2,.4l.2,-.6l.2,-1.1l.2,1.2l.2,.4l.2,-.3l.2,-.5l.1,-.1l.2,0l.2,-.3l.2,-.4l.2,.9l.2,-.2l.2,.2l.2,-.2l.2,-.4l.2,.4l.2,.7l.2,-.9l.2,-.3l.2,.6l.2,-.8l.2,.4l.1,1.2l.2,-.5l.2,.4l.2,-.3l.2,.1l.2,-.5l.2,-.2l.2,1.3l.2,-1.3l.2,.4l.2,-.5l.2,.6l.2,.9l.2,-1l.2,-.2l.2,0l.1,.2l.2,.4l.2,0l.2,-.1l.2,.1l.2,-.5l.2,-.1l.2,-.2l.2,.2l.2,.2l.2,-.3l.2,.3l.2,.4l.2,-.9l.2,.5l.2,0l.1,-.6l.2,.3l.2,-.1l.2,-.6l.2,.4l.2,.1l.2,.4l.2,1l.2,.2l.2,-.7l.2,-1.5l.2,1.1l.2,.2l.2,-.5l.2,-.3l.2,.4l.1,-.1l.2,.1l.2,.3l.2,.1l.2,.8l.2,-1.1l.2,0l.2,-.2l.2,-.4l.2,1.1l.2,0l.2,-.9l.2,1.2l.2,-.9l.2,.1l.2,-.2l.2,.6l.1,-.6l.2,.8l.2,-1l.2,.4l.2,.2l.2,-.3l.2,-.5l.2,1.1l.2,-.3l.2,.5l.2,-1.1l.2,.1l.2,.8l.2,-.3l.2,.4l.2,-.5l.1,-.5l.2,.7l.2,-.2l.2,.7l.2,-1.5l.2,1.3l.2,-.6l.2,.2l.2,-.7l.2,.6l.2,.1l.2,.4l.2,-1.2l.2,1.4l.2,-1.6l.2,.1l.1,-.3l.2,1.3l.2,-.1l.2,-.5l.2,-.6l.2,1l.2,-1.2l.2,1.1l.2,-1.2l.2,0l.2,-.6l.2,-.9l.2,-2.1l.2,-.9M701.3,516.6h0l.2,-1.7l.1,-1.5l.2,1.6l.2,1.8M702.2,519.9h0l.2,2.8l.2,1.8l.2,-.9l.2,1.2l.2,-1l.2,-.5l.2,-2.2l.2,-1.5l.2,-.4l.2,.4l.2,1.4M704.6,524.8h0l.1,.4l.2,1.1l.2,-.5l.2,.5l.2,.9l.2,-1.3l.2,.8l.2,-.6l.2,1.1l.2,-.7l.2,-.2l.2,.8l.2,-.3l.2,.2l.2,.2l.2,-.3l.2,1.1l.1,-1.3l.2,.3l.2,.7l.2,-.9l.2,1.2l.2,-.4l.2,-1l.2,.3l.2,.5l.2,-.9l.2,.8l.2,-.1l.2,-.1l.2,-.3l.2,.1l.2,.7l.1,-.3l.2,-.4l.2,-.3l.2,.4l.2,-.2l.2,0l.2,.8l.2,-.3l.2,-1.1l.2,1.1l.2,-.5l.2,.9l.2,-1.9l.2,1.7l.2,-.6l.2,0l.1,1l.2,-.6l.2,-.6l.2,.8l.2,-.7l.2,.5l.2,-.7l.2,-.4l.2,1.5l.2,-.7l.2,.5l.2,.1l.2,-.4l.2,-.1l.2,-.1l.2,0l.1,1.2l.2,-.8l.2,.7l.2,-1l.2,-.3l.2,.3l.2,.3l.2,-.4l.2,-.1l.2,.1l.2,.5l.2,-.1l.2,-.7l.2,.5l.2,-.1l.2,.1l.1,-.2l.2,0l.2,.4l.2,0l.2,-.1l.2,-.1l.2,-.2l.2,.8l.2,-1.2l.2,1.1l.2,-.5l.2,.5l.2,-.2l.2,-.2l.2,-.3l.2,.1l.1,-.2l.2,.5l.2,-.9l.2,1.4l.2,-.8l.2,0l.2,.3l.2,-.1l.2,.3l.2,-.5l.2,.3l.2,-.5l.2,.2l.2,0l.2,.1l.2,.4l.2,-.7l.1,0l.2,.5l.2,.3l.2,-.2l.2,-.7l.2,1.2l.2,-.9l.2,.3l.2,-.5l.2,1l.2,-.9l.2,.7l.2,-.7l.2,-.5l.2,.8l.2,-.9l.1,.8l.2,-.3l.2,-.7l.2,.6l.2,.2l.2,1.2l.2,-.6l.2,-.5l.2,.5l.2,.1l.2,-.7l.2,.9l.2,-.2l.2,-.8l.2,-.5l.2,1.2l.1,-.4l.2,-.2l.2,.5l.2,.1l.2,-.5l.2,.6l.2,-.1l.2,-1.2l.2,1.7l.2,-1.7l.2,.2l.2,.9l.2,-.8l.2,.4l.2,.5l.2,-.1l.1,0l.2,-1l.2,1.2l.2,.1l.2,-.4l.2,.1l.2,-1.2l.2,1.1l.2,.1l.2,.1l.2,0l.2,.5l.2,-.9l.2,.3l.2,-.2l.2,-.6l.1,0l.2,.1l.2,.8l.2,-.4l.2,.2l.2,-.1l.2,-.1l.2,.1l.2,-.7l.2,.7l.2,-1l.2,.4l.2,.2l.2,-.4l.2,.2l.2,-.2l.2,-1l.1,.1M742.7,522.2h0l.2,1.3l.2,-2.3M743.3,516.6h0l.2,-1.7l.2,-1.1l.2,1.4l.2,2.3M744.3,520.7h0l.2,1.5l.2,2.3l.2,.5l.2,-.1l.2,0l.2,-.2l.1,-.8l.2,-1.1l.2,-1.2l.2,-1.9l.2,1.5l.2,1.3l.2,1.2l.2,1.1l.2,.5l.2,.8l.2,.6l.2,.6l.2,-.6l.2,.3l.2,0l.2,.5l.1,-.5l.2,-.2l.2,.4l.2,-.3l.2,.3l.2,.1l.2,-.6l.2,.6l.2,-.2l.2,.8l.2,-1l.2,.5l.2,-.1l.2,.1l.2,-.3l.2,.4l.1,.2l.2,-.5l.2,0l.2,.3l.2,-.5l.2,-.2l.2,.8l.2,-.5l.2,0l.2,.9l.2,-.2l.2,.4l.2,-1.5l.2,.8l.2,0l.2,-.5l.1,-.4l.2,.5l.2,-.5l.2,.2l.2,-1.1l.2,2l.2,-.2l.2,.1l.2,-.6l.2,.7l.2,-.7l.2,1.1l.2,-1.2l.2,.2l.2,-.4l.2,.3l.2,.3l.1,-.1l.2,1l.2,-.8l.2,-.1l.2,-.7l.2,.7l.2,.7l.2,-1.6l.2,1.3l.2,-.4l.2,.5l.2,1l.2,-1.8l.2,.6l.2,-.6l.2,.6l.1,-.5l.2,-.4l.2,.4l.2,.3l.2,.2l.2,-.2l.2,.5l.2,-.6l.2,-.2l.2,.9l.2,-.1l.2,-1.3l.2,.8l.2,-.8l.2,.5l.2,0l.1,.2l.2,-.7l.2,.2l.2,.6l.2,.8l.2,-.3l.2,-.5l.2,.4l.2,-.7l.2,.1l.2,0l.2,-.1l.2,.2l.2,-.1l.2,.1l.2,.5l.1,-.4l.2,0l.2,-.4l.2,.5l.2,.3l.2,-1.2l.2,.5l.2,-.2l.2,-.2l.2,.8l.2,-.6l.2,.4l.2,.5l.2,-.5l.2,0l.2,-.2l.1,.4l.2,0l.2,.3l.2,-.8l.2,1.2l.2,-.8l.2,.2l.2,0l.2,-.3l.2,.2l.2,.6l.2,.2l.2,-.1l.2,-.5l.2,-.2l.2,0l.1,-.1l.2,-.1l.2,.2l.2,.4l.2,-.4l.2,0l.2,-1l.2,.3l.2,.8l.2,-.3l.2,-.5l.2,.4l.2,-.3l.2,.4l.2,-.1l.2,-.1l.2,.5l.1,0l.2,-.1l.2,-.7l.2,.3l.2,.7l.2,-.9l.2,.2l.2,-.2l.2,.3l.2,.1l.2,.9l.2,-1l.2,.9l.2,-.6l.2,-.9l.2,.7l.1,-.1l.2,.4l.2,-.4l.2,.7l.2,-.4l.2,-.3l.2,.3l.2,.3l.2,.5l.2,-.7l.2,.1l.2,-.1l.2,-.5l.2,1l.2,-1.1l.2,.9l.1,-1.7l.2,.5l.2,.3l.2,.6l.2,-.5l.2,0l.2,.2l.2,-.1l.2,-.9l.2,.1l.2,-1.5l.2,-.5l.2,-.6l.2,-1.7l.2,-.6l.2,.8l.1,-.1l.2,2l.2,0l.2,1.1l.2,2.1l.2,-.9l.2,.6l.2,-1.3l.2,.6l.2,-.6l.2,-.7l.2,.2l.2,-1l.2,-.5l.2,1.4l.2,.1l.1,1l.2,-.7l.2,.4l.2,1.1l.2,.1l.2,-.2l.2,.3l.2,0l.2,.2l.2,-.9l.2,-.2l.2,.7l.2,.9l.2,-.1l.2,-.8l.2,.7l.2,-.2l.1,-.3l.2,.3l.2,-.7l.2,1l.2,-.5l.2,.5l.2,-.6l.2,.9l.2,-.6l.2,-.6l.2,.7l.2,-.4l.2,.3l.2,-.2l.2,.2l.2,-.4l.1,.7l.2,-.4l.2,-.4l.2,.6l.2,-.6l.2,0l.2,.2l.2,1l.2,-1.6l.2,1.2l.2,-.5l.2,-.1l.2,-.5l.2,.6l.2,.4l.2,-.6l.1,-.4l.2,1l.2,-.6l.2,.2l.2,-.1l.2,.2l.2,-.2l.2,-.1l.2,-.7l.2,1.7l.2,-1.4l.2,.6l.2,.4l.2,.2l.2,-1.1l.2,1.2l.1,-1.4l.2,1.3l.2,-.7l.2,.5l.2,.2l.2,-.3l.2,-1.1l.2,.7l.2,0l.2,-.3l.2,-.1l.2,.9l.2,-.6l.2,.2l.2,.2l.2,.7l.1,-1.3l.2,.1l.2,.5l.2,-1.6l.2,1.9l.2,-.4l.2,-.2l.2,.4l.2,-.3l.2,-.6l.2,1l.2,.4l.2,-.5l.2,.1l.2,-.2l.2,.1l.2,-.2l.1,-1l.2,.9l.2,-.8l.2,.9l.2,.2l.2,.6l.2,-.9l.2,-.1l.2,-.9l.2,1.8l.2,-.4l.2,-.2l.2,0l.2,-.1l.2,.3l.2,-.3l.1,.4l.2,0l.2,-.5l.2,-.4l.2,.7l.2,.5l.2,-.5l.2,-.2l.2,0l.2,-.5l.2,.9l.2,-.3l.2,.1l.2,-.9l.2,.5l.2,.3l.1,.2l.2,-.7l.2,.9l.2,-1l.2,0l.2,.2l.2,.2l.2,0l.2,-.3l.2,.4l.2,-.4l.2,.9l.2,-1.1l.2,.6l.2,-.6l.2,.4l.1,.3l.2,-.1l.2,.2l.2,-.6l.2,.9l.2,0l.2,-1l.2,.3l.2,.5l.2,-.6l.2,.7l.2,-.5l.2,.5l.2,-.8l.2,.3l.2,-.1l.1,.9l.2,-.4l.2,.2l.2,-.5l.2,-.2l.2,.7l.2,-.5l.2,-.2l.2,-.2l.2,.2l.2,-.2l.2,-.4l.2,1.2l.2,-1.2l.2,1l.2,-.6l.1,.3l.2,-.5l.2,.1l.2,-.7l.2,1.2l.2,-1.3l.2,.1l.2,-.4l.2,.6l.2,-1.1l.2,.2l.2,-.6l.2,-.3l.2,-1.3l.2,-2.2l.2,-2.2M827.1,515h0M827.2,506.7h0M827.4,497.8h0M827.6,491.1h0M827.8,487.9h0M828,492.6h0M828.2,499h0M828.4,508.3h0M828.6,513.7h0M828.8,518.2h0l.2,2.2l.2,1.7l.2,.6l.2,.2l.2,-2.1l.2,.1M830.2,517.2h0M830.3,511.4h0l.2,-2.2l.2,-1.5l.2,1.5l.2,3M831.3,516.3h0M831.5,520.1h0M831.7,523.2h0l.2,1.4l.2,.5l.2,.9l.2,0l.2,1l.2,-.9l.2,.6l.2,.1l.1,.3l.2,.8l.2,-1.4l.2,.8l.2,-.2l.2,.1l.2,-.4l.2,.5l.2,-.8l.2,.5l.2,.5l.2,0l.2,-1.2l.2,1.4l.2,-.2l.2,.3l.1,-.5l.2,.1l.2,-.5l.2,.9l.2,.2l.2,-1.3l.2,1.8l.2,-1.1l.2,.7l.2,-.9l.2,.6l.2,-.6l.2,.4l.2,-.2l.2,.6l.2,-.5l.1,-.1l.2,0l.2,-.3l.2,0l.2,-.7l.2,1.6l.2,-.7l.2,.2l.2,-.2l.2,-.3l.2,-.3l.2,.2l.2,1l.2,0l.2,0l.2,-.4l.2,.6l.1,-.5l.2,.6l.2,-.6l.2,0l.2,-.5l.2,.5l.2,.1l.2,-.4l.2,.6l.2,-.8l.2,.5l.2,-.2l.2,.3l.2,-.2l.2,.2l.2,.1l.1,-.3l.2,-.2l.2,.8l.2,-.6l.2,-.3l.2,.5l.2,-.6l.2,.2l.2,.7l.2,-.2l.2,-.8l.2,.1l.2,.3l.2,.1l.2,.9l.2,-.8l.1,.6l.2,-.6l.2,0l.2,0l.2,-.2l.2,.1l.2,.5l.2,-.3l.2,-.5l.2,-.4l.2,1.2l.2,-.6l.2,-.3l.2,.3l.2,.2l.2,-.5l.1,-.2l.2,.6l.2,.4l.2,.2l.2,-.8l.2,-.2l.2,.5l.2,-.1l.2,.1l.2,-.8l.2,1.1l.2,-.6l.2,.5l.2,-.5l.2,.1l.2,-.3l.1,.5l.2,.2l.2,0l.2,.1l.2,-.7l.2,.4l.2,.6l.2,-.7l.2,.2l.2,.5l.2,-.5l.2,-.1l.2,.2l.2,0l.2,.2l.2,0l.2,-1.2l.1,1.2l.2,-.7l.2,0l.2,.1l.2,.8l.2,-1.2l.2,.7l.2,-1l.2,1l.2,.3l.2,-.9l.2,.6l.2,-.2l.2,-.3l.2,.7l.2,.2l.1,-.5l.2,-.4l.2,.4l.2,0l.2,-.6l.2,.1l.2,.4l.2,-.7l.2,.9l.2,-.2l.2,.4l.2,-.5l.2,-.2l.2,.4l.2,.5l.2,-.6l.1,.2l.2,-.2l.2,.5l.2,-.5l.2,.4l.2,-.6l.2,.3l.2,.1l.2,-.1l.2,-.2l.2,-.4l.2,.7l.2,-.2l.2,.4l.2,-.3l.2,.5l.1,-.4l.2,-.6l.2,.5l.2,.1l.2,.1l.2,.1l.2,-.5l.2,.4l.2,.1l.2,-.9l.2,.2l.2,.3l.2,.4l.2,-.8l.2,-.2l.2,.7l.1,-.1l.2,-.1l.2,-.3l.2,.3l.2,.1l.2,.2l.2,.1l.2,-.3l.2,0l.2,.2l.2,.3l.2,-.3l.2,.1l.2,-.2l.2,-.3l.2,0l.1,-.2l.2,1.2l.2,-1.2l.2,1l.2,-.6l.2,.2l.2,-.3l.2,.6l.2,-.6l.2,.9l.2,-1.1l.2,.8l.2,-1.1l.2,.9l.2,-.1l.2,0l.2,-.2l.1,.2l.2,.1l.2,.1l.2,-.2l.2,-.4l.2,.5l.2,-.2l.2,.2l.2,0l.2,-.3l.2,.1l.2,.5l.2,-.6l.2,.2l.2,-.1l.2,-.7l.1,.7l.2,.6l.2,-1l.2,.8l.2,-.1l.2,0l.2,-.4l.2,.7l.2,-.3l.2,.1l.2,-.5l.2,.1l.2,.1l.2,0l.2,.3l.2,.1l.1,-.7l.2,.5l.2,-.2l.2,.2l.2,.2l.2,.1l.2,-.6l.2,-.6l.2,.7l.2,-.5l.2,.6l.2,-.1l.2,-.2l.2,.6l.2,-.4l.2,.2l.1,-.4l.2,.9l.2,-1.1l.2,.1l.2,.2l.2,0l.2,.2l.2,0l.2,-.2l.2,.6l.2,-.2l.2,-.1l.2,-.9l.2,.8l.2,-.8l.2,.9l.1,.9l.2,-1l.2,-.1l.2,-.6l.2,.9l.2,-.4l.2,.4l.2,-.4l.2,-.1l.2,.5l.2,-.6l.2,.1l.2,.5l.2,-.6l.2,.5l.2,-.4l.2,.4l.1,.1l.2,-.7l.2,-.2l.2,.3l.2,.1l.2,.3l.2,-.8l.2,.6l.2,-.1l.2,.4l.2,.2l.2,-.6l.2,0l.2,.5l.2,-.1l.2,-.2l.1,0l.2,.4l.2,.1l.2,-.3l.2,-.3l.2,-.1l.2,.3l.2,-.7l.2,1l.2,-.2l.2,-.2l.2,0l.2,-.1l.2,.4l.2,0l.2,.2l.1,-.7l.2,.5l.2,-.3l.2,-.3l.2,.3l.2,.5l.2,-.4l.2,-.2l.2,-.5l.2,.5l.2,.4l.2,-1.4l.2,.8l.2,.2l.2,.4l.2,.1l.1,-.4l.2,-.1l.2,.3l.2,-.3l.2,.2l.2,.5l.2,-1.2l.2,1.2l.2,-.9l.2,.5l.2,.6l.2,-.5l.2,-.7l.2,.9l.2,-.3l.2,-.6l.1,.8l.2,-.6l.2,.7l.2,-.5l.2,.1l.2,-.1l.2,.3l.2,-.7l.2,1l.2,-1l.2,.4l.2,.3l.2,-.5l.2,0l.2,.2l.2,.1l.2,-.8l.1,.6l.2,.4l.2,-1l.2,.3l.2,.3l.2,.3l.2,-.7l.2,.5l.2,-.1l.2,0l.2,.2l.2,-1.4l.2,.3l.2,-.7l.2,-.2l.2,-1.8l.1,.7l.2,-2l.2,.8l.2,-.6l.2,1l.2,1.1l.2,1.6l.2,.1l.2,.4l.2,0l.2,-.2l.2,.6l.2,-.5l.2,0l.2,-.2l.2,.3l.1,-.4l.2,-.7l.2,-.3l.2,-.4l.2,.1l.2,0l.2,1l.2,0l.2,.8l.2,-.6l.2,.8l.2,.1l.2,.5l.2,-.7l.2,-.1l.2,.5l.1,-.3l.2,-.3l.2,.9l.2,-.6l.2,.4l.2,-.1l.2,.4l.2,-.4l.2,0l.2,-.2l.2,.4l.2,-.1l.2,-.8l.2,.7l.2,-.2l.2,.1l.1,.5l.2,-.4l.2,0l.2,.5l.2,-1.1l.2,.8l.2,.1l.2,-.3l.2,-.2l.2,0l.2,.2l.2,-.4l.2,.3l.2,.1l.2,-.1l.2,.3l.1,-.1l.2,-.2l.2,.4l.2,0l.2,-.3l.2,.1l.2,0l.2,.2l.2,-.7l.2,.5l.2,-.3l.2,.1l.2,.5l.2,-.4l.2,-.1l.2,-.2l.2,.9l.1,-.1l.2,-.7l.2,.6l.2,0l.2,-.5l.2,.2l.2,-.4l.2,1l.2,-.9l.2,0l.2,.4l.2,.1l.2,-.5l.2,.6l.2,-1l.2,.4l.1,.7l.2,-.4l.2,-.1l.2,-.2l.2,.4l.2,-.2l.2,.1l.2,.1l.2,0l.2,-.3l.2,.2l.2,-.2l.2,0l.2,.2l.2,-.5l.2,.2l.1,.1l.2,.5l.2,-.7l.2,.3l.2,0l.2,.3l.2,-.1l.2,-.6l.2,.3l.2,.2l.2,-.1l.2,.2l.2,-.3l.2,.3l.2,.1l.2,-.6l.1,.4l.2,-.3l.2,.5l.2,-.1l.2,-.3l.2,.1l.2,0l.2,.1l.2,.6l.2,-.8l.2,.2l.2,.5l.2,-.7l.2,-.1l.2,-.3l.2,.6l.1,-.2l.2,.7l.2,-1.2l.2,.7l.2,-.1l.2,.1l.2,.3l.2,.2l.2,-.6" fill="none" stroke="#ff0000" stroke-width="7.5" stroke-linecap="round" stroke-linejoin="round"/><path d="M69.4,526.2l4.1,0l4,0l4.1,0l4.1,0l4.1,0l4,.1l4.1,0l4.1,0l4,0l4.1,0l4.1,0l4,0l4.1,0l4.1,0l4.1,-.1l4,-.1l1.4,-.2l1,-.2l.5,-.2l.4,-.2l.4,-.2l.2,-.2l.2,-.2l.2,-.3l.2,-.3l.2,-.5l.2,-.5l.2,-.8l.2,-1.2l.2,-2l.1,-3.7l.2,-6.9l.2,-11.3l.2,-16.3l.2,-18.6l.2,-13.5l.2,-1.7l.2,7.3l.2,12l.2,15.1l.2,14.5l.2,11l.2,7.2l.2,4.2l.2,2.4l.2,1.4l.1,.8l.2,.6l.2,.4l.2,.4l.2,.3l.2,.2l.2,.2l.4,.2l.4,.2l.4,.2l.7,.2l1.2,.2l3.5,.2l4.1,0l4,.1l4.1,0l4.1,0l4.1,0l4,0l4.1,0l4.1,0l4,0l4.1,0l4.1,0l4,0l4.1,0l4.1,0l4.1,0l4,-.1l2.5,-.2l2.8,-.2l1.5,-.2l1,-.2l.8,-.2l.7,-.2l.4,-.2l.4,-.2l.4,-.2l.4,-.3l.4,-.3l.2,-.2l.2,-.2l.1,-.3l.2,-.3l.2,-.3l.2,-.3l.2,-.4l.2,-.5l.2,-.5l.2,-.6l.2,-.7l.2,-.8l.2,-1l.2,-1.2l.2,-1.5l.2,-1.7l.2,-2.3l.2,-2.9l.1,-3.8l.2,-5.3l.2,-8.5l.2,-14.7l.2,-27.2l.2,-48.3l.2,-76.8l.2,-103.4l.2,-108.1l.2,-63.7l.2,11.6l.2,49.5l.2,47.1l.2,47.7l.2,65.3l.2,72.5l.1,61.3l.2,43.7l.2,27.5l.2,15.9l.2,9.2l.2,5.5l.2,3.8l.2,2.7l.2,2.2l.2,1.7l.2,1.4l.2,1.1l.2,1l.2,.8l.2,.6l.2,.6l.2,.5l.1,.5l.2,.3l.2,.4l.2,.3l.2,.2l.2,.3l.2,.2l.2,.2l.4,.3l.4,.3l.4,.2l.4,.2l.5,.2l.6,.2l.6,.2l1,.2l1.3,.2l2.2,.2l3.8,.2l4.1,.1l4.1,0l4,.1l4.1,0l4.1,0l4.1,0l4,0l4.1,0l4.1,-.1l.2,-.2l.3,-.4l.2,-.4l.2,-.3l.6,.3l.4,.2l.4,.3l.2,.2l.4,.2l.6,.2l4,-.1l3.3,-.2l1.4,-.2l.7,-.2l.6,-.2l.4,-.2l.2,-.2l.4,-.3l.2,-.3l.2,-.3l.2,-.3l.2,-.4l.2,-.6l.2,-.7l.2,-1l.1,-1.4l.2,-2.5l.2,-4.4l.2,-8l.2,-13.4l.2,-19.4l.2,-22.7l.2,-18l.2,-2.8l.2,10.8l.2,12.4l.2,7.5l.2,4l.2,7l.2,12l.2,12.9l.2,10.6l.1,7.3l.2,4.5l.2,2.5l.2,1.5l.2,1l.2,.6l.2,.5l.2,.4l.2,.3l.2,.3l.2,.2l.2,.2l.4,.3l.4,.2l.5,.2l.6,.2l1.2,.2l2.3,.2l4.1,.1l4,0l4.1,.1l4.1,0l4.1,0l4,0l4.1,0l4.1,0l4,0l4.1,-.1l4.1,-.1l1.1,-.2l1.2,-.2l.8,-.2l.6,-.2l.3,-.2l.4,-.3l.2,-.2l.2,-.2l.2,-.2l.2,-.3l.2,-.4l.2,-.4l.2,-.5l.2,-.7l.2,-.9l.2,-1.2l.2,-1.8l.2,-3l.2,-5.5l.1,-9.9l.2,-16.4l.2,-23.6l.2,-27.4l.2,-21.5l.2,-2.5l.2,15.4l.2,18.6l.2,11.4l.2,2.7l.2,-.5l.2,5.3l.2,12.9l.2,15l.2,12.5l.2,8.8l.1,5.4l.2,3l.2,1.8l.2,1.1l.2,.8l.2,.6l.2,.5l.2,.4l.2,.3l.2,.2l.2,.2l.2,.2l.2,.2l.4,.2l.4,.2l.3,.2l.8,.2l1,.2l1.9,.2l4.1,.1l4.1,.1l4,0l4.1,.1l4.1,0l4,0l4.1,0l4.1,-.2l.4,-.2l1.9,.2l1,.2l4,-.1l2.6,-.2l1.1,-.2l.6,-.2l.2,-.2l.4,-.3l.2,-.3l.2,-.4l.2,-.5l.2,-1.1l.2,-1.9l.2,-3.3l.2,-5.1l.1,-6.8l.2,-6.7l.2,-3.6l.2,2.1l.2,5.4l.2,5l.2,2.6l.4,-1.1l.2,-.2l.2,2.2l.2,3.7l.2,3.5l.2,2.7l.2,1.8l.2,1l.1,.6l.2,.3l.2,.3l.4,.3l.4,.2l.8,.2l1.3,.2l4.1,.1l4.1,.1l4.1,0l4,0l4.1,0l4.1,0l4,0l4.1,-.1l4.1,-.1l1.3,-.2l1.4,-.2l1,-.2l.5,-.2l.6,-.2l.2,-.2l.4,-.2l.2,-.2l.2,-.2l.2,-.2l.2,-.3l.2,-.3l.2,-.4l.2,-.5l.2,-.6l.1,-.7l.2,-.9l.2,-1.2l.2,-1.8l.2,-2.7l.2,-4.9l.2,-8.8l.2,-15.3l.2,-23.6l.2,-31.2l.2,-32.1l.2,-17.9l.2,8.6l.2,26.4l.2,26.9l.2,17l.1,4.3l.2,-5.9l.2,-9l.2,-1.9l.2,10.5l.2,17l.2,16.2l.2,12.3l.2,8l.2,4.7l.2,2.7l.2,1.6l.2,1.1l.2,.7l.2,.6l.2,.5l.1,.4l.2,.3l.2,.3l.2,.2l.2,.2l.4,.3l.4,.2l.4,.2l.4,.2l.7,.2l1,.2l1.6,.2l3.6,.2l4.1,0l4.1,.1l4.1,0l4,0l4.1,.1l2.1,-.2l.4,-.2l1.2,.2l1.9,.2l4.1,0l4.1,0l4,0l4.1,0l4.1,.1l4,0l4.1,0l4.1,0l4.1,0l4,0l4.1,-.1l4.1,-.1l1.7,-.2l1.2,-.2l.6,-.2l.3,-.2l.2,-.2l.4,-.4l.2,-.2l.2,-.4l.2,-.4l.2,-.6l.2,-1l.2,-1.7l.2,-3.1l.2,-5.3l.2,-8.3l.2,-11.2l.2,-11.9l.1,-7.7l.2,1.8l.2,9.5l.2,11.2l.2,8.9l.2,4.8l.2,.8l.2,-2.7l.2,-4.6l.2,-4.1l.2,-.4l.2,4.1l.2,6.2l.2,5.7l.2,4.3l.2,2.7l.2,1.7l.1,.9l.2,.5l.2,.4l.2,.3l.2,.2l.4,.3l.4,.2l.6,.2l.9,.2l2,.2l4.1,.1l4,0l4.1,.1l4.1,0l4,0l4.1,0l.8,-.2l3.3,.2l4,-.1l2,-.2l.8,-.2l.2,-.2l.1,-.2l.2,-.4l.2,-.6l.2,-1.2l.2,-1.8l.2,-2.4l.2,-2.7l.2,-1.8l.2,.3l.2,2l.2,2.6l.2,2.1l.2,1.3l.2,.5l.2,-.2l.2,-.9l.1,-1.1l.2,-.9l.4,.9l.2,1.4l.2,1.2l.2,.9l.2,.6l.2,.4l.2,.2l.4,.2l.8,.2l4,.1l4.1,.1l4.1,0l4,0l4.1,0l4.1,0l4,0l4.1,-.1l1.8,-.2l.9,-.2l.8,-.2l.4,-.3l.4,-.3l.2,-.3l.2,-.4l.2,-.5l.2,-.9l.2,-1.5l.1,-2.8l.2,-4.6l.2,-6.6l.2,-8.3l.2,-7.6l.2,-3.1l.2,3.6l.2,7.7l.2,7.8l.2,6l.2,3.6l.2,1.2l.2,-.7l.2,-2.4l.2,-3.6l.2,-3.6l.1,-1.5l.2,1.7l.2,4l.2,4.2l.2,3.4l.2,2.3l.2,1.4l.2,.8l.2,.5l.2,.3l.2,.2l.4,.3l.6,.2l.5,.2l1.6,.2l4.1,.1l4,.1l4.1,0l4.1,0l4,0l4.1,-.2l1.4,.2l4,0l2.7,-.2l1,-.2l.4,-.2l.2,-.2l.2,-.3l.2,-.5l.2,-1l.2,-1.5l.2,-2.3l.2,-2.8l.2,-2.6l.1,-1.1l.2,1.1l.2,2.6l.2,2.7l.2,2.2l.2,1.3l.2,.7l.4,-.4l.2,-1l.2,-1.3l.2,-1.2l.2,-.5l.2,.6l.2,1.4l.2,1.4l.1,1.2l.2,.7l.2,.5l.2,.3l.2,.2l.6,.2l1.4,.2l4,.1l4.1,0l4.1,0l4,0l4.1,0l4.1,0l4.1,0l4,-.1l1,-.2l.8,-.2l.2,-.2l.2,-.2l.2,-.3l.1,-.6l.2,-1l.2,-1.6l.2,-2.5l.2,-3l.2,-2.8l.2,-1.2l.2,1.2l.2,2.7l.2,3l.2,2.3l.2,1.6l.2,.8l.2,.3l.2,-.2l.2,-.6l.1,-1.1l.2,-1.4l.2,-1.3l.2,-.6l.2,.7l.2,1.5l.2,1.5l.2,1.2l.2,.8l.2,.6l.2,.3l.4,.2l.4,.2l1.3,.2l4.1,.1l4.1,0l4,0l4.1,0l4.1,0l4,0l.6,-.2l1.2,.2l4.1,0l4,-.1l.6,-.2l.2,-.2l.2,-.2l.2,-.5l.2,-.8l.2,-.9l.2,-1.1l.2,-.8l.3,.8l.2,1.1l.2,.9l.2,.7l.2,.5l.2,.2l.6,-.2l.2,-.3l.2,-.5l.2,-.5l.2,-.3l.4,.4l.2,.5l.1,.5l.2,.4l.2,.2l.2,.2l.6,.2l4.1,.1l4.1,0l4,0l4.1,0l4.1,0l4,0l4.1,0l2.7,-.2l1.6,-.2l.9,-.2l.4,-.2l.4,-.2l.2,-.2l.2,-.2l.2,-.2l.2,-.4l.2,-.4l.2,-.7l.2,-1.1l.2,-2l.2,-3.5l.2,-5.6l.1,-8l.2,-9.5l.2,-8.7l.2,-3.4l.2,4.3l.2,8.9l.2,9.3l.2,7.5l.2,5.1l.2,3l.2,1.5l.2,.5l.2,-.3l.2,-1.2l.2,-2.4l.2,-3.6l.1,-4.5l.2,-4.3l.2,-1.9l.2,1.9l.2,4.4l.2,4.9l.2,3.9l.2,2.8l.2,1.8l.2,1l.2,.6l.2,.3l.2,.3l.4,.3l.3,.2l.6,.2l1,.2l2.1,.2l4.1,.1l4.1,0l4,0l4.1,.1l4.1,0l1.3,-.2l2.2,.2l1.3,-.2l1.2,.2l4.1,0l4,0l4.1,0l4.1,0l4,0l4.1,.1l4.1,0l4.1,0l4,0l4.1,0l4.1,0l1.7,-.2l.8,-.2l.4,-.4l.2,-.4l.2,-.7l.2,-1l.1,-1l.2,-.9l.4,.5l.2,1.1l.2,.9l.2,.8l.2,.5l.2,.3l.2,.2l1.2,-.3l.1,-.4l.2,-.5l.2,-.5l.2,-.3l.4,.5l.2,.6l.2,.4l.2,.4l.2,.2l.4,.2l1.1,.2l4.1,0l4.1,.1l4.1,0l4,0l4.1,0l2.9,0" fill="none" stroke="#000" stroke-width="1.25" stroke-linejoin="round"/><g stroke="#008000" fill="none"><path d="M141.4,572.2V590.3" stroke-width="2.2"/><path d="M233.2,572.2V590.3" stroke-width="2.5"/><path d="M288.6,572.2V590.3" stroke-width="2.6"/><path d="M305.1,572.2V590.3" stroke-width="2.7"/><path d="M366.8,572.2V590.3M368,572.2V590.3" stroke-width="1.75"/><path d="M409.5,572.2V590.3M410.8,572.2V590.3" stroke-width="1.75"/><path d="M422.9,572.2V590.3M424.3,572.2V590.3" stroke-width="1.75"/><path d="M474.9,572.2V590.3M476.4,572.2V590.3" stroke-width="1.75"/><path d="M511.5,572.2V590.3M513.1,572.2V590.3" stroke-width="1.75"/><path d="M569.9,572.2V590.3M571.7,572.2V590.3" stroke-width="1.75"/><path d="M603.9,572.2V590.3M605.8,572.2V590.3" stroke-width="1.75"/><path d="M615.3,572.2V590.3M617.3,572.2V590.3" stroke-width="1.75"/><path d="M658.8,572.2V590.3M661,572.2V590.3" stroke-width="1.75"/><path d="M690.7,572.2V590.3M693,572.2V590.3" stroke-width="1.75"/><path d="M701.6,572.2V590.3M704,572.2V590.3" stroke-width="1.75"/><path d="M743.7,572.2V590.3M746.2,572.2V590.3" stroke-width="1.75"/><path d="M775,572.2V590.3M777.7,572.2V590.3" stroke-width="1.75"/><path d="M786.1,572.2V590.3M788.8,572.2V590.3" stroke-width="1.75"/><path d="M827.8,572.2V590.3M830.7,572.2V590.3" stroke-width="1.75"/><path d="M859.4,572.2V590.3M862.5,572.2V590.3" stroke-width="1.75"/><path d="M912.3,572.2V590.3M915.7,572.2V590.3" stroke-width="1.75"/></g><path d="M69.4,611.9l.19,-2.3l.2,-1.5l.19,4.5l.2,-1.4l.19,-3.7l.19,5.6l.2,-6.5l.19,5.7l.19,-.5l.2,-2.3l.19,.5l.2,1.3l.19,-1l.19,.7l.2,2.5l.19,-2.6l.19,-1.4l.2,1.4l.19,.6l.2,-.8l.19,.4l.19,-3.3l.2,5.7l.19,-6l.2,3.4l.19,-.1l.19,.2l.2,-.1l.19,1.6l.19,-.9l.2,-1.4l.19,.7l.2,-1.5l.19,2.3l.19,-2.4l.2,-.2l.19,1.6l.2,0l.19,.3l.19,-1.8l.2,.9l.19,2l.19,-2.4l.2,2.5l.19,-1.2l.2,-2.3l.19,1.3l.19,1.5l.2,-.1l.19,.2l.19,1.3l.2,-4l.19,1.9l.2,.3l.19,1.6l.19,-5.1l.2,3.6l.19,-.6l.2,1.2l.19,-.3l.19,-.6l.2,.5l.19,-1.5l.19,3.8l.2,-6.4l.19,4.2l.2,.6l.19,.1l.19,-3.3l.2,1.5l.19,-.7l.2,1.3l.19,1.8l.19,.7l.2,-6.1l.19,3.6l.19,.1l.2,1.8l.19,-3.5l.2,-2.1l.19,4.1l.19,1l.2,-2.1l.19,2l.19,.1l.2,-3.5l.19,.8l.2,-1.8l.19,4l.19,-2.8l.2,2.1l.19,-.4l.2,1.6l.19,-.2l.19,0l.2,-1.4l.19,-.3l.19,3.5l.2,-2.3l.19,-.7l.2,-1.7l.19,.4l.19,1.7l.2,-2.3l.19,-.6l.2,2.7l.19,.8l.19,.1l.2,-1.2l.19,.1l.19,-1.2l.2,2.5l.19,-2l.2,2.8l.19,-1.1l.19,-.7l.2,-1.9l.19,4.5l.19,.2l.2,-4.2l.19,1.8l.2,.4l.19,-1.1l.19,-1.2l.2,3.6l.19,-3.3l.2,-.5l.19,.3l.19,.4l.2,0l.19,2l.19,-3.7l.2,.8l.19,3.4l.2,-1.6l.19,1.7l.19,-.5l.2,-5.1l.19,1.2l.2,3.5l.19,-1.2l.19,1.1l.2,-.9l.19,-2.1l.19,.5l.2,-2.1l.19,1.9l.2,1.6l.19,.7l.19,-2.4l.2,2.5l.19,.9l.19,-3.4l.2,2.6l.19,-2l.2,3.4l.19,-1.8l.19,-1.1l.2,-.2l.19,.9l.2,-1.1l.19,.8l.19,-2.3l.2,3.1l.19,-2.6l.19,.9l.2,1.3l.19,-1l.2,1.8l.19,-4.9l.19,.8l.2,2.5l.19,-.6l.2,-2.7l.19,6.5l.19,-5.6l.2,-3.5l.19,1.9l.19,3.8l.2,-1l.19,1.1l.2,-5.8l.19,2.6l.19,3.1l.2,0l.19,2.2l.19,-2.3l.2,-.9l.19,0l.2,2.5l.19,-2l.19,.8l.2,2.8l.19,-2.6l.2,.8l.19,-1.7l.19,.7l.2,2.3l.19,-1.7l.19,.6l.2,-1.3l.19,1.1l.2,-3.3l.19,2.8l.19,.6l.2,-3.2l.19,2l.2,1.4l.19,-1l.19,.8l.2,3.4l.19,-2.1l.19,-2.7l.2,-.7l.19,2.2l.2,-1.2l.19,1.1l.19,.2l.2,-.9l.19,-2.1l.19,4.1l.2,-6.1l.19,5.4l.2,-.1l.19,-.3l.19,-1.4l.2,2.9l.19,-3l.2,.3l.19,-1.9l.19,2.8l.2,-.1l.19,2.4l.19,-4.8l.2,2.4l.19,-.1l.2,.7l.19,-1.2l.19,1.6l.2,-2.8l.19,3.4l.19,-4.6l.2,2l.19,.7l.2,.3l.19,-1.1l.19,3.2l.2,-3l.19,1.8l.2,-1.3l.19,-3.6l.19,3.7l.2,0l.19,.2l.19,-2.4l.2,2.5l.19,0l.2,-.8l.19,3.8l.19,-3.3l.2,.6l.19,-3.2l.2,.5l.19,.9l.19,.3l.2,1.7l.19,-.6l.19,-2.9l.2,.3l.19,3.6l.2,-1.5l.19,-.2l.19,-1.2l.2,1.7l.19,.5l.19,-.1l.2,-.4l.19,2l.2,-3.7l.19,1.8l.19,-1.5l.2,.3l.19,3.1l.2,.9l.19,-1.3l.19,.1l.2,-1.4l.19,1.5l.19,-2.8l.2,1.4l.19,-1.6l.2,-.3l.19,1.1l.19,2.7l.2,-3.2l.19,-.4l.2,-1.8l.19,1.6l.19,.3l.2,-4.2l.19,1.8l.19,1l.2,1.3l.19,-1.2l.2,2.2l.19,-3.2l.19,3.5l.2,-4.5l.19,3l.19,-2l.2,3.2l.19,-1.2l.2,.2l.19,2l.19,-2.1l.2,1.7l.19,-5l.2,5.6l.19,-.8l.19,-.7l.2,-1.7l.19,3.5l.19,-1.8l.2,2.4l.19,-1.3l.2,-5.2l.19,3.8l.19,-1.8l.2,3.4l.19,1.3l.2,-1.8l.19,-.6l.19,-.3l.2,-.5l.19,-1.8l.19,3.7l.2,.1l.19,.5l.2,-3.5l.19,3.8l.19,-3.3l.2,.6l.19,5.3l.19,-3.8l.2,.9l.19,-2.6l.2,-2.7l.19,4.3l.19,3.1l.2,-3.2l.19,-.3l.2,3.6l.19,-7.8l.19,4.9l.2,-5.5l.19,3.7l.19,1.5l.2,-1.3l.19,1.1l.2,1l.19,-1.1l.19,-1.5l.2,3.2l.19,-5.7l.2,3.4l.19,6.2l.19,-5.3l.2,3.1l.19,-11.7l.19,-1.6l.2,5.6l.19,3.3l.2,-.7l.19,-1.3l.19,.8l.2,3.2l.19,-1.4l.19,-4.3l.2,2.7l.19,-.9l.2,2.9l.19,-1.3l.19,-3.3l.2,6.3l.19,-.5l.2,-2l.19,1.7l.19,-3.5l.2,-1l.19,4.1l.19,-1.9l.2,1.2l.19,-2.2l.2,2.3l.19,-.5l.19,-2.5l.2,4.8l.19,-1.5l.2,.2l.19,.2l.19,-1.8l.2,.9l.19,.4l.19,.9l.2,-.6l.19,.3l.2,-1.2l.19,2l.19,.6l.2,-2.5l.19,.2l.19,3.1l.2,-3.6l.19,2.8l.2,-3.9l.19,.5l.19,5.3l.2,-3.2l.19,.1l.2,-1l.19,-.3l.19,2.7l.2,-3.3l.19,.4l.19,1.8l.2,.8l.19,-4.2l.2,1.1l.19,2.9l.19,-1.2l.2,.8l.19,-.8l.2,-.5l.19,-2.4l.19,2.7l.2,-.2l.19,1.1l.19,-2.2l.2,1.3l.19,-.1l.2,-.4l.19,-1l.19,.8l.2,-.3l.19,.2l.19,-.9l.2,.3l.19,4.2l.2,-2.7l.19,-1.5l.19,.8l.2,.2l.19,-1.1l.2,.2l.19,1.1l.19,1.3l.2,-2.3l.19,.3l.19,-2.5l.2,6.3l.19,-2.6l.2,-.1l.19,.4l.19,-.6l.2,-3.6l.19,2.5l.19,1.2l.2,-3l.19,2.1l.2,.5l.19,-3.3l.19,7.4l.2,-4.7l.19,.5l.2,.9l.19,2l.19,-2.8l.2,3.1l.19,-2.7l.19,-5.4l.2,4.3l.19,3.2l.2,-3.1l.19,-.4l.19,.3l.2,.6l.19,-1.9l.2,1.6l.19,1.8l.19,-.1l.2,-.7l.19,-2.9l.19,.9l.2,.5l.19,.7l.2,2.7l.19,-3.6l.19,-1.1l.2,5l.19,-4.3l.19,.3l.2,-2.7l.19,5.2l.2,-3.4l.19,2.6l.19,.3l.2,-.6l.19,-1.9l.2,2.1l.19,0l.19,-.4l.2,-1l.19,2.2l.19,-1.8l.2,-2.1l.19,.1l.2,1.9l.19,.1l.19,-.6l.2,.4l.19,1l.2,.4l.19,-1.5l.19,1l.2,.6l.19,1.8l.19,-4.3l.2,1.3l.19,-.4l.2,.6l.19,.5l.19,.9l.2,-2.9l.19,1.9l.19,-.7l.2,-2.6l.19,-.5l.2,1.7l.19,-1l.19,1.1l.2,-2.5l.19,0l.2,.2l.19,7l.19,-2.9l.2,-5.1l.19,5.1l.19,.5l.2,-3l.19,2.2l.2,-1.7l.19,2.4l.19,-3.1l.2,.6l.19,.8l.2,1.5l.19,0l.19,.8l.2,-3.7l.19,3.8l.19,-1.7l.2,-1.5l.19,2.2l.2,-1.6l.19,2.6l.19,-4.3l.2,5.9l.19,-2.8l.19,-.1l.2,0l.19,.8l.2,-.7l.19,-2.1l.19,4.1l.2,-1.9l.19,2.6l.2,-3l.19,-.3l.19,.2l.2,.7l.19,-.3l.19,-2.4l.2,2.4l.19,-1l.2,1.1l.19,.6l.19,-.4l.2,.3l.19,-1.8l.2,-.9l.19,.4l.19,2l.2,1.6l.19,-1.6l.19,1.4l.2,-1l.19,1.2l.2,-1.2l.19,-1.5l.19,-.9l.2,.9l.19,2.1l.19,-1l.2,-1.5l.19,.6l.2,2l.19,-.1l.19,-2.3l.2,3.4l.19,-.6l.2,-3.3l.19,.6l.19,-.6l.2,0l.19,1.5l.19,-.8l.2,.3l.19,-1.3l.2,4.3l.19,-4l.19,1l.2,3.3l.19,-3.2l.2,4.2l.19,-4.8l.19,-4.4l.2,5l.19,-.6l.19,-1.2l.2,-1.2l.19,-.5l.2,1.8l.19,2l.19,-2.6l.2,-1.8l.19,-1.3l.19,3.7l.2,1.6l.19,-1.8l.2,3.3l.19,-1.7l.19,.4l.2,1.1l.19,-1.4l.2,-.5l.19,.3l.19,2.8l.2,-1.3l.19,.3l.19,-1.6l.2,.8l.19,.1l.2,-2.6l.19,1.1l.19,1.9l.2,-1.7l.19,1.9l.2,-.3l.19,.1l.19,-1.7l.2,1.6l.19,3.2l.19,-3.2l.2,-.1l.19,-.9l.2,-.8l.19,.5l.19,-.1l.2,-2.7l.19,7.1l.19,-3l.2,-.4l.19,.6l.2,-1.6l.19,1.2l.19,0l.2,-.2l.19,-.7l.2,1.7l.19,-1.9l.19,1.5l.2,-2.7l.19,1.4l.19,-2.7l.2,2.2l.19,.3l.2,2.3l.19,-1l.19,1.7l.2,-3.9l.19,2.7l.19,-1.8l.2,.8l.19,-.1l.2,1.4l.19,-.1l.19,-2.9l.2,1.6l.19,-.6l.2,2.6l.19,-5.8l.19,3.2l.2,-.5l.19,2.9l.19,-2l.2,.8l.19,.1l.2,.5l.19,1.1l.19,-1.8l.2,-.9l.19,-.2l.2,1.5l.19,-1.1l.19,-1.2l.2,.6l.19,.8l.19,1.7l.2,-.2l.19,-2.1l.2,-3.4l.19,2.9l.19,0l.2,6.1l.19,-5.9l.19,-1.2l.2,1.2l.19,-3l.2,2.4l.19,-5.8l.19,4.9l.2,-.2l.19,-2.3l.2,1.2l.19,-4.3l.19,3.5l.2,-.9l.19,1.4l.19,-3.5l.2,1.4l.19,.3l.2,-6.8l.19,2l.19,4.3l.2,-2.2l.19,4.5l.2,3l.19,-3.8l.19,1.9l.2,3.2l.19,-3.3l.19,1.7l.2,1.8l.19,-1.1l.2,-1.3l.19,2.3l.19,.3l.2,-2.1l.19,.6l.19,-1.4l.2,1.4l.19,.5l.2,1.9l.19,-1.7l.19,.9l.2,-.7l.19,0l.2,1.1l.19,.7l.19,-.3l.2,-2l.19,.8l.19,-.7l.2,-2.5l.19,4.7l.2,-3l.19,-1.2l.19,3.7l.2,-1l.19,-1.1l.2,-2.3l.19,2.2l.19,1.7l.2,.8l.19,-5.6l.19,4l.2,-.3l.19,2.6l.2,-.9l.19,-1.9l.19,0l.2,-1l.19,1.3l.19,-.2l.2,-1.4l.19,2.4l.2,-1.8l.19,1.7l.19,.5l.2,1.9l.19,-4.3l.2,-.6l.19,-1.3l.19,2.6l.2,.7l.19,-.2l.19,.4l.2,-1.3l.19,2.3l.2,-.9l.19,-1.7l.19,-2.8l.2,6.1l.19,-3.4l.2,1.1l.19,2l.19,-1.5l.2,-3.2l.19,3.3l.19,2.3l.2,-2.3l.19,.1l.2,-1.9l.19,2.2l.19,-.1l.2,-2l.19,2.7l.19,-5.5l.2,4.4l.19,.7l.2,3.4l.19,-4.2l.19,-2l.2,.3l.19,6l.2,-1.3l.19,5.8l.19,-4.9l.2,5l.19,-15.1l.19,11.2l.2,4.6l.19,-15.1l.2,13.7l.19,.1l.19,-1.7l.2,-14.4l.19,5.4l.2,3.5l.19,-4.9l.19,-.5l.2,5.6l.19,-2.5l.19,-1l.2,2.2l.19,3l.2,-6.3l.19,1.9l.19,.7l.2,-.6l.19,.3l.19,1l.2,-1l.19,0l.2,.1l.19,2.1l.19,-1.5l.2,-.7l.19,-3.9l.2,3.3l.19,.8l.19,1.1l.2,-.8l.19,-1.8l.19,1l.2,-2.9l.19,.7l.2,2.4l.19,-1.2l.19,.2l.2,-1.8l.19,1.8l.2,0l.19,.1l.19,.6l.2,.5l.19,-2.9l.19,-.7l.2,-.4l.19,4.5l.2,-7.1l.19,1.8l.19,-.2l.2,4.5l.19,-4.6l.19,5.4l.2,0l.19,-5.3l.2,-.8l.19,.4l.19,1.7l.2,5.3l.19,-4.1l.2,.9l.19,4.5l.19,-1.1l.2,-2.7l.19,1.6l.19,-3.8l.2,2.8l.19,2.6l.2,-1.5l.19,-.5l.19,2.2l.2,-1.1l.19,-.4l.19,.5l.2,-1.4l.19,.3l.2,1.3l.19,1.9l.19,-2.1l.2,-.2l.19,3.3l.2,-2.5l.19,.1l.19,0l.2,-1.9l.19,.4l.19,1.5l.2,0l.19,-.8l.2,2.6l.19,-2.5l.19,-1.2l.2,.4l.19,-.2l.2,-1.6l.19,.9l.19,1.8l.2,-3l.19,-.3l.19,2.2l.2,1.5l.19,-1.8l.2,-1.4l.19,4.1l.19,-2.1l.2,3.9l.19,-6l.19,-.4l.2,1.9l.19,2.4l.2,-1.6l.19,1.5l.19,.3l.2,-3.1l.19,2.6l.2,-1.8l.19,-.9l.19,1.1l.2,1.5l.19,2.4l.19,-4.1l.2,.2l.19,0l.2,1l.19,-3.2l.19,2.2l.2,1l.19,-1.7l.2,2.7l.19,-2.4l.19,1.5l.2,.7l.19,-.9l.19,-.7l.2,.6l.19,-1.1l.2,-3.3l.19,3.4l.19,-1.9l.2,2l.19,3.4l.19,-.3l.2,-4.9l.19,4.3l.2,-2.4l.19,3.6l.19,-5.6l.2,2.6l.19,-.5l.2,1.4l.19,-1.7l.19,.2l.2,.7l.19,-1.1l.19,-.7l.2,1.9l.19,.4l.2,-.4l.19,-1l.19,-2.8l.2,1.1l.19,2.3l.2,-.1l.19,0l.19,-3.1l.2,4.6l.19,-1.3l.19,-.7l.2,1.5l.19,-.6l.2,.9l.19,-1.2l.19,-2.7l.2,2.7l.19,1.6l.19,-3.1l.2,-1.7l.19,1l.2,1.2l.19,1.8l.19,-1l.2,0l.19,1.1l.2,3.1l.19,-2.3l.19,-1.2l.2,-1.5l.19,-.2l.19,-1.3l.2,4.1l.19,-1.7l.2,.4l.19,-.8l.19,.8l.2,-.2l.19,1.1l.2,-4.1l.19,3.8l.19,-2.5l.2,1.5l.19,3.6l.19,-3.4l.2,.8l.19,-1.7l.2,-1.2l.19,-1.2l.19,1.1l.2,1.7l.19,.4l.19,.6l.2,-1.1l.19,-.1l.2,0l.19,-3.6l.19,6.4l.2,-3.1l.19,.4l.2,.4l.19,1.7l.19,-2l.2,1l.19,-1.6l.19,.6l.2,-.9l.19,2.1l.2,-1.2l.19,-1.3l.19,1.3l.2,1.2l.19,-2.6l.2,4.2l.19,-3.6l.19,-.7l.2,.1l.19,.1l.19,2.1l.2,-1.6l.19,5.1l.2,-4.2l.19,-3.1l.19,6.2l.2,-2.8l.19,1.2l.19,.5l.2,-.4l.19,-1.3l.2,.4l.19,.9l.19,-1.3l.2,-.7l.19,.2l.2,2.8l.19,-2.2l.19,-2.9l.2,3.3l.19,-.4l.19,-2.8l.2,3.6l.19,-2.9l.2,2.8l.19,-3.7l.19,1.9l.2,-1l.19,.8l.2,1.8l.19,-.9l.19,-.5l.2,0l.19,.9l.19,-.5l.2,-.3l.19,.7l.2,-.1l.19,-1l.19,2.6l.2,-2l.19,4.5l.19,-4.8l.2,.9l.19,-2.7l.2,2.8l.19,-.3l.19,.8l.2,-1.9l.19,0l.2,.9l.19,-.7l.19,.6l.2,-.1l.19,-.3l.19,-3l.2,1.8l.19,5l.2,-5.8l.19,2.1l.19,-1.4l.2,2.7l.19,-.9l.19,.2l.2,-1.5l.19,-.6l.2,2.4l.19,-.4l.19,1l.2,-.3l.19,-1.1l.2,3.2l.19,-3l.19,1.3l.2,-.1l.19,-5.2l.19,5.5l.2,.7l.19,-.1l.2,-.4l.19,-4.1l.19,.5l.2,-2.1l.19,4.1l.2,.7l.19,1.4l.19,-2.3l.2,1l.19,-.2l.19,.4l.2,1.3l.19,-2.8l.2,.2l.19,-3.6l.19,4.1l.2,0l.19,-.1l.19,2l.2,-.8l.19,.2l.2,-1.2l.19,.5l.19,0l.2,1.2l.19,-2.9l.2,4.5l.19,-2.7l.19,-2.3l.2,-.6l.19,2.5l.19,-1.6l.2,1.4l.19,0l.2,2.5l.19,-1.5l.19,.5l.2,-.5l.19,-2.6l.2,.7l.19,1l.19,1l.2,-1.6l.19,-3l.19,3.3l.2,-.9l.19,1.5l.2,-.9l.19,-.9l.19,1.9l.2,-.9l.19,-1.5l.19,1.5l.2,1.9l.19,-2.4l.2,-6.4l.19,10.6l.19,0l.2,-5.4l.19,6.1l.2,-7.8l.19,4.7l.19,2.2l.2,-4.7l.19,1.3l.19,5l.2,-4.4l.19,-3.2l.2,1.7l.19,-1.7l.19,4.7l.2,-1l.19,-2.1l.2,-.7l.19,5l.19,1.6l.2,-5.3l.19,3.4l.19,-5.8l.2,6.2l.19,-3.1l.2,.4l.19,-2l.19,2l.2,-2.3l.19,-1.7l.19,4.2l.2,1.7l.19,-2.5l.2,.1l.19,1.5l.19,0l.2,-3.7l.19,5.6l.2,-2.3l.19,-1.2l.19,-.6l.2,-2.6l.19,5.5l.19,-1.4l.2,-1.1l.19,-.1l.2,-.8l.19,2.7l.19,.4l.2,-5.3l.19,6.6l.2,-3.2l.19,-3.1l.19,3.3l.2,-2l.19,1.3l.19,.3l.2,.9l.19,-2.1l.2,4.4l.19,-2.7l.19,-.8l.2,-.3l.19,1.2l.19,-3.5l.2,4l.19,-2.8l.2,2.5l.19,-1.3l.19,3.6l.2,-1.3l.19,-4.8l.2,6.6l.19,-3.2l.19,2l.2,-2.3l.19,-1.2l.19,2.2l.2,-3l.19,2.4l.2,-1l.19,.9l.19,-.6l.2,.4l.19,-1.8l.2,3.2l.19,-.3l.19,-1.1l.2,-1.8l.19,2.3l.19,-1.7l.2,1.1l.19,1.6l.2,-.4l.19,-4.2l.19,1.7l.2,1.3l.19,-1.8l.19,-2.3l.2,.7l.19,1.2l.2,1.9l.19,2.7l.19,-5.1l.2,6.6l.19,-8.9l.2,4.5l.19,.2l.19,2.5l.2,1l.19,-6l.19,4.1l.2,.2l.19,-2.4l.2,1l.19,1l.19,-1.6l.2,.7l.19,-3l.2,5.7l.19,.2l.19,-2.8l.2,-1.8l.19,3.4l.19,-4.6l.2,5.2l.19,-3.9l.2,-1.5l.19,2l.19,1.7l.2,0l.19,-.5l.19,1.4l.2,.7l.19,-1.6l.2,-4.5l.19,3.3l.19,-1.1l.2,1.4l.19,-.8l.2,.9l.19,-1.1l.19,1.4l.2,2.2l.19,-2.7l.19,.5l.2,1l.19,-1.9l.2,4.3l.19,-3.6l.19,-1.3l.2,-1.9l.19,2.7l.19,1l.2,1l.19,-3.8l.2,3.4l.19,-.4l.19,.1l.2,-.1l.19,-1.3l.2,.9l.19,2.5l.19,-3.3l.2,3l.19,-4.8l.19,2.1l.2,.1l.19,.6l.2,-1l.19,1.4l.19,-.9l.2,.7l.19,-2l.2,.8l.19,-1.5l.19,2.8l.2,-1.2l.19,1.8l.19,-2.1l.2,2l.19,-.3l.2,1.1l.19,-3.5l.19,.8l.2,1l.19,.7l.19,-4.6l.2,3.8l.19,3.8l.2,-5.5l.19,2.9l.19,-.9l.2,.4l.19,-5l.2,4.9l.19,2.9l.19,-2.6l.2,1l.19,-2.4l.19,-1.3l.2,.9l.19,-.2l.2,4.4l.19,-3.4l.19,2.2l.2,1.6l.19,-3.2l.2,1l.19,-.5l.19,-1.4l.2,-.9l.19,1.8l.19,-.3l.2,-1.5l.19,.6l.2,1.1l.19,1l.19,-.4l.2,-2.2l.19,-1.7l.19,2.8l.2,-2.5l.19,3.1l.2,-3.4l.19,2.7l.19,-1.1l.2,1l.19,-1.5l.2,3.5l.19,-1.2l.19,-.8l.2,-3.5l.19,3.5l.19,-1.3l.2,2.7l.19,1.7l.2,-4.7l.19,2.8l.19,-3.9l.2,3.6l.19,-2.7l.2,3.6l.19,-4.3l.19,-1.4l.2,.9l.19,5l.19,-5.5l.2,3.5l.19,-.3l.2,-.1l.19,-.5l.19,1.4l.2,.1l.19,2.1l.19,-.9l.2,-3l.19,-2.6l.2,2.5l.19,.8l.19,1.1l.2,-2.2l.19,1.6l.2,.2l.19,-.4l.19,2.7l.2,-2.1l.19,.4l.19,3.3l.2,-4.6l.19,-.5l.2,2.9l.19,-2.5l.19,-.3l.2,.8l.19,-.3l.2,.8l.19,.8l.19,-1.9l.2,-.6l.19,1.4l.19,-.1l.2,-.1l.19,-3.1l.2,3l.19,-2.8l.19,2.3l.2,-.5l.19,1.7l.19,-2.1l.2,2.7l.19,-2.1l.2,-1.8l.19,4.2l.19,-1l.2,-1.2l.19,2.6l.2,-2.7l.19,2.4l.19,-3.7l.2,6.3l.19,-3.2l.19,-1.5l.2,2l.19,-1.8l.2,-2.1l.19,4.3l.19,-2l.2,.4l.19,-5.4l.2,4.2l.19,5.4l.19,-6.9l.2,2.4l.19,.2l.19,1.6l.2,-2.2l.19,.7l.2,.5l.19,2.6l.19,-5.1l.2,1.3l.19,5.1l.19,2.7l.2,-9.9l.19,10.5l.2,-7.7l.19,3.9l.19,-3.2l.2,1.1l.19,-.7l.2,-6.9l.19,3.6l.19,-.1l.2,-.4l.19,-.4l.19,2.8l.2,-.2l.19,1.6l.2,0l.19,-2.1l.19,.1l.2,0l.19,2.1l.2,-1.9l.19,1.6l.19,2l.2,-4.1l.19,-.1l.19,.8l.2,1.4l.19,-1.5l.2,2.2l.19,-3.3l.19,.8l.2,-.4l.19,-.2l.19,-1l.2,3.5l.19,-2.4l.2,-.3l.19,-.8l.19,2.3l.2,0l.19,-.7l.2,-.2l.19,5l.19,-3.7l.2,-1l.19,1.2l.19,-2.6l.2,0l.19,3.8l.2,-2l.19,3.5l.19,-.3l.2,-4.3l.19,-.8l.19,3.3l.2,-4l.19,3.9l.2,-1.3l.19,1.8l.19,-4.5l.2,2.8l.19,4.1l.2,-6.7l.19,3.5l.19,-1.5l.2,.7l.19,-.9l.19,1.1l.2,-.7l.19,.6l.2,.6l.19,1.5l.19,-2.6l.2,.9l.19,-1.5l.2,1.5l.19,1.8l.19,1.2l.2,-4.4l.19,.3l.19,1.5l.2,1.5l.19,-6.6l.2,3l.19,1.3l.19,-1.1l.2,-.1l.19,-.3l.19,-.5l.2,1.1l.19,1l.2,-1.4l.19,.7l.19,1.7l.2,-1.4l.19,-.3l.2,.8l.19,-1.7l.19,1.2l.2,-1.1l.19,2.3l.19,-2.3l.2,.4l.19,.1l.2,.2l.19,-1.1l.19,2.2l.2,3.2l.19,-4l.2,1.1l.19,-2.7l.19,3.3l.2,-.5l.19,-.3l.19,0l.2,.7l.19,2.4l.2,-4.8l.19,.7l.19,-1.2l.2,1.4l.19,-.2l.19,-1.8l.2,2.1l.19,-.5l.2,2.8l.19,-2.6l.19,3l.2,-1.6l.19,-1.8l.2,2.2l.19,-1.5l.19,.6l.2,0l.19,-2.6l.19,2.2l.2,-.1l.19,-.2l.2,1.7l.19,-1.7l.19,.3l.2,-.9l.19,4.5l.2,-.9l.19,-2.5l.19,.3l.2,2.6l.19,-1.8l.19,-1.4l.2,-1.5l.19,-.2l.2,.8l.19,-.3l.19,-.5l.2,1.6l.19,-.2l.19,1.4l.2,-1.5l.19,-1.2l.2,2.4l.19,-2.3l.19,2.8l.2,-4.3l.19,1.5l.2,-.3l.19,1.8l.19,-4.1l.2,6.3l.19,-2l.19,-.6l.2,3l.19,-2.2l.2,2.5l.19,-2.4l.19,-1.2l.2,-.2l.19,-.8l.2,1.3l.19,-.7l.19,-.4l.2,.5l.19,1.2l.19,1.4l.2,-1.2l.19,-.7l.2,-.8l.19,1l.19,-.3l.2,-3.5l.19,4.4l.19,-1.3l.2,-1.2l.19,.2l.2,2.9l.19,1.3l.19,-2.8l.2,2.5l.19,-2l.2,-1.6l.19,2.7l.19,-5.1l.2,5.3l.19,-.9l.19,-1l.2,.7l.19,-.3l.2,-1.4l.19,1.3l.19,1.5l.2,-1.1l.19,0l.2,.7l.19,-1.7l.19,1l.2,2.5l.19,-3.4l.19,-.9l.2,.9l.19,-.5l.2,.3l.19,-.3l.19,1.2l.2,-2.4l.19,2.3l.19,2.4l.2,-.7l.19,-1.8l.2,1l.19,.7l.19,-.6l.2,-.5l.19,-2.6l.2,3.5l.19,-2.6l.19,3.7l.2,-4l.19,3l.19,-2.2l.2,1.5l.19,-2.4l.2,.6l.19,2.9l.19,-1.6l.2,-1.1l.19,.9l.2,.6l.19,1l.19,-.9l.2,-3.5l.19,3l.19,-.2l.2,-.5l.19,-3.3l.2,.3l.19,-1.4l.19,7.1l.2,-1.6l.19,-2.6l.19,2.1l.2,-.8l.19,3.3l.2,-4.3l.19,-.6l.19,2.8l.2,-.5l.19,-1.8l.2,1.4l.19,.9l.19,2.2l.2,-3l.19,0l.19,-4l.2,3.4l.19,2.3l.2,-2.9l.19,1.3l.19,1.3l.2,-1.1l.19,3.1l.19,-3.2l.2,.8l.19,-1.4l.2,-.8l.19,2.2l.19,-3.2l.2,2.1l.19,.4l.2,-2.6l.19,5.9l.19,-3.9l.2,.1l.19,-4.4l.19,7.5l.2,-1.8l.19,-1.5l.2,-3.9l.19,3.3l.19,4.2l.2,-1.9l.19,-1.7l.2,.2l.19,-3.2l.19,4.1l.2,1.1l.19,-1.2l.19,-.9l.2,-.2l.19,-.7l.2,3l.19,-.3l.19,-5.4l.2,6.6l.19,1.1l.19,-2.4l.2,.5l.19,-4.5l.2,.9l.19,2.2l.19,-3.5l.2,3.1l.19,1.1l.2,1.3l.19,-5.6l.19,2.4l.2,.2l.19,1.6l.19,-4.1l.2,2.7l.19,.2l.2,.3l.19,-3.6l.19,6.1l.2,-2l.19,-.5l.2,-.3l.19,-2l.19,3.1l.2,-.4l.19,-.7l.19,-.9l.2,0l.19,3.7l.2,-1.8l.19,-.5l.19,-.8l.2,.5l.19,.1l.19,2.9l.2,-3l.19,1.9l.2,-3.5l.19,-1l.19,3.1l.2,.6l.19,-.1l.2,1.5l.19,1.6l.19,-2.7l.2,.8l.19,-.7l.19,-3.3l.2,1.2l.19,-1.6l.2,6.3l.19,-8.2l.19,5.1l.2,-.7l.19,.5l.2,-.9l.19,2l.19,.1l.2,-1.6l.19,-1.8l.19,4.9l.2,-3.1l.19,-1.5l.2,.3l.19,1.1l.19,-1.4l.2,-1l.19,-1.5l.19,3.2l.2,-1.6l.19,2.3l.2,-1.3l.19,1.1l.19,0l.2,-.7l.19,.2l.2,1.3l.19,-3l.19,.6l.2,1.9l.19,-1.5l.19,-.5l.2,3.2l.19,-1.7l.2,-2.5l.19,2.4l.19,-1l.2,1.3l.19,-1.7l.2,-.1l.19,1.8l.19,1.7l.2,-2.1l.19,.5l.19,-2.3l.2,1.8l.19,-.5l.2,1.1l.19,1.7l.19,-3.1l.2,2.5l.19,-1.1l.19,0l.2,4l.19,-4.6l.2,1.4l.19,-3.3l.19,1.8l.2,-1l.19,-1.2l.2,1.2l.19,-1.3l.19,1.3l.2,1.1l.19,-.3l.19,.5l.2,-.8l.19,1.1l.2,.6l.19,-.9l.19,.5l.2,-.3l.19,-1.3l.2,.8l.19,1.3l.19,-.4l.2,-2.8l.19,1.9l.19,-2.6l.2,1.4l.19,3.1l.2,-.8l.19,-2.3l.19,1.5l.2,1.3l.19,-.6l.19,-1.4l.2,-.4l.19,-.5l.2,1.4l.19,-3.5l.19,5.2l.2,-2l.19,-1.1l.2,4.2l.19,-1.9l.19,.3l.2,-.9l.19,1.1l.19,.8l.2,-.5l.19,-4.1l.2,3.3l.19,1l.19,-1.8l.2,.2l.19,-.6l.2,-.6l.19,1.7l.19,1.9l.2,-3.8l.19,1.7l.19,-.5l.2,-3.6l.19,6.9l.2,-3.2l.19,.2l.19,-2.7l.2,3.4l.19,1.6l.19,-2.6l.2,-.1l.19,.7l.2,-.6l.19,-.9l.19,1.4l.2,-.5l.19,2.9l.2,-3l.19,2.9l.19,-2.9l.2,2l.19,-1l.19,-.3l.2,1.6l.19,-1.1l.2,1.3l.19,-4.2l.19,2.5l.2,-1.7l.19,0l.19,3.2l.2,-2.3l.19,-.7l.2,2.4l.19,-3.2l.19,1.4l.2,-1.2l.19,.9l.2,0l.19,-1l.19,-1.1l.2,3.7l.19,-.1l.19,-.3l.2,-.1l.19,-.8l.2,3.6l.19,-4.3l.19,2.6l.2,-.3l.19,-2.1l.2,-2.7l.19,5.2l.19,.5l.2,-1.9l.19,2.8l.19,1l.2,-6.3l.19,2.1l.2,.5l.19,-4.5l.19,5.4l.2,-1.1l.19,-.5l.19,3.4l.2,-4.9l.19,1.6l.2,1.4l.19,2.1l.19,0l.2,-.9l.19,-4.7l.2,-.9l.19,2.5l.19,1.8l.2,.7l.19,-.3l.19,-.6l.2,-.8l.19,4.1l.2,-9.4l.19,8.3l.19,1.9l.2,-.3l.19,-6l.2,4.3l.19,-1.8l.19,4.4l.2,-8.4l.19,8.3l.19,-4.3l.2,0l.19,-.1l.2,1.5l.19,-.1l.19,1.9l.2,-1.5l.19,-3.2l.19,.6l.2,.1l.19,-1l.2,3.3l.19,1.9l.19,-5.5l.2,3.7l.19,-4.4l.2,3.2l.19,-1.3l.19,1l.2,-1.7l.19,2.8l.19,-5.3l.2,4.3l.19,.6l.2,-4.8l.19,3.1l.19,-2.6l.2,3l.19,-3.7l.2,3.1l.19,.6l.19,-.8l.2,2l.19,-2l.19,3.2l.2,-3.9l.19,1.3l.2,1.1l.19,.2l.19,-1.3l.2,-.7l.19,1.6l.19,-1.7l.2,.7l.19,-2.7l.2,-.3l.19,3.5l.19,-.4l.2,-1.2l.19,1.6l.2,-.8l.19,1.3l.19,-1.3l.2,-.1l.19,0l.19,1.7l.2,-1.6l.19,-.4l.2,-.8l.19,-.9l.19,2.4l.2,.7l.19,-.4l.2,-2.8l.19,2.5l.19,-1.2l.2,1.5l.19,-.2l.19,-.5l.2,0l.19,-2.3l.2,2.8l.19,2.3l.19,-1.3l.2,1.7l.19,-4.5l.19,1.3l.2,-1l.19,2l.2,-1.3l.19,.2l.19,.8l.2,-1.5l.19,1.3l.2,-1.2l.19,1.2l.19,3.6l.2,-5l.19,1.7l.19,1.3l.2,.8l.19,-2.2l.2,3.1l.19,-2.6l.19,-2.1l.2,-1.4l.19,2.2l.2,4.1l.19,-2.3l.19,-.8l.2,-.3l.19,.4l.19,-.9l.2,1.1l.19,-.6l.2,.1l.19,-3.1l.19,2l.2,1.3l.19,.9l.19,-1l.2,-2.9l.19,3.7l.2,-.6l.19,.7l.19,-.9l.2,-.4l.19,-1.9l.2,1.8l.19,.6l.19,2.1l.2,-4.8l.19,-.6l.19,2.3l.2,-1.4l.19,1.6l.2,-.3l.19,.6l.19,-.4l.2,3.5l.19,-3l.2,-.5l.19,.7l.19,-1.3l.2,-2.9l.19,4.8l.19,-1.5l.2,-2.5l.19,1.1l.2,1.4l.19,-1.6l.19,2.4l.2,.8l.19,-2.1l.19,.5l.2,-1.5l.19,3.5l.2,.2l.19,-2.6l.19,1.6l.2,-1.4l.19,.1l.2,0l.19,1l.19,.5l.2,-1.8l.19,-.9l.19,2l.2,-1l.19,.5l.2,-1.1l.19,1.4l.19,.8l.2,-.6l.19,2.1l.19,-3.8l.2,.1l.19,.7l.2,-.5l.19,-1l.19,3.9l.2,-3.4l.19,.2l.2,.6l.19,.7l.19,3.2l.2,-3.2l.19,-1.2l.19,-1.1l.2,.3l.19,3.5l.2,-2.1l.19,.7l.19,3.2l.2,-5.1l.19,1.2l.2,2.4l.19,-2l.19,.2l.2,-.1l.19,2.1l.19,-2l.2,2l.19,.5l.2,-3.6l.19,4.3l.19,-3.3l.2,-1.5l.19,.6l.19,-.8l.2,-.2l.19,.2l.2,2.4l.19,-.4l.19,-.8l.2,1l.19,0l.2,-3.6l.19,3.2l.19,-2.3l.2,2l.19,-1.8l.19,1.5l.2,2.4l.19,-.9l.2,-2.6l.19,1.6l.19,1.5l.2,.8l.19,-2.6l.2,3.1l.19,-2.2l.19,-.4l.2,-.1l.19,2.4l.19,-2.9l.2,-1.1l.19,.8l.2,1l.19,-.1l.19,1.2l.2,-1.7l.19,.6l.19,3.6l.2,-4.4l.19,1.3l.2,-1.1l.19,-.9l.19,4.1l.2,-4.8l.19,2.1l.2,1.3l.19,-1.6l.19,.2l.2,-1.2l.19,.9l.19,-2.9l.2,1.7l.19,1.6l.2,2.6l.19,-2.9l.19,-.3l.2,1l.19,-1l.2,-1.3l.19,2.5l.19,.5l.2,-3.8l.19,.7l.19,2.7l.2,-1.5l.19,-.7l.2,2.5l.19,-1.9l.19,3.4l.2,-2.4l.19,-.9l.19,1.1l.2,-1.5l.19,1.3l.2,-1.3l.19,1l.19,.6l.2,-.6l.19,-2.9l.2,3l.19,-1.1l.19,2.4l.2,-4.6l.19,4.2l.19,-1.8l.2,2.1l.19,-1.8l.2,.7l.19,1.2l.19,-4.8l.2,4.1l.19,2.9l.2,-3.4l.19,-.2l.19,4.2l.2,-4.1l.19,-3.9l.19,5.5l.2,-1.7l.19,-.1l.2,2.3l.19,-1.7l.19,-1.5l.2,.1l.19,1.4l.19,-1.9l.2,.7l.19,-2.1l.2,-.2l.19,4.2l.19,-1.1l.2,-.8l.19,.8l.2,0l.19,-.4l.19,-.6l.2,.8l.19,.4l.19,0l.2,-.1l.19,1l.2,-2.6l.19,2.1l.19,-1.2l.2,.1l.19,-2.6l.2,0l.19,-1.7l.19,5.8l.2,.2l.19,-1.6l.19,-.7l.2,1.6l.19,-.6l.2,2.5l.19,.1l.19,-3.5l.2,1.4l.19,3.1l.19,-1.1l.2,-2.5l.19,1.2l.2,.1l.19,-2.3l.19,2.1l.2,1.5l.19,-2.5l.2,-.1l.19,.5l.19,.6l.2,-1l.19,3.5l.19,-3.7l.2,.9l.19,-1.7l.2,1.5l.19,.2l.19,2.6l.2,-2.3l.19,-4.9l.2,3.4l.19,-1.6l.19,-.3l.2,3.8l.19,-1.5l.19,.3l.2,-1.6l.19,1.1l.2,-1l.19,.2l.19,-.5l.2,-.5l.19,2.5l.19,-.1l.2,-1.3l.19,-1.9l.2,4.4l.19,-1l.19,-1.7l.2,1.1l.19,-3.2l.2,5.5l.19,.2l.19,-4l.2,2.1l.19,1.5l.19,-2.3l.2,.4l.19,.6l.2,-4l.19,2.9l.19,1.1l.2,1.7l.19,3l.19,-5.7l.2,1.1l.19,-1.2l.2,-.7l.19,.3l.19,.2l.2,.4l.19,-2l.2,1.8l.19,1.8l.19,-2l.2,.1l.19,1.8l.19,-2.4l.2,2l.19,-1.8l.2,-.6l.19,.2l.19,-.3l.2,1.3l.19,-.7l.2,1.6l.19,-2.6l.19,.5l.2,-1.7l.19,4.2l.19,-.7l.2,1.7l.19,-1.7l.2,-3.2l.19,7l.19,-4.1l.2,.2l.19,-.6l.19,4l.2,-3.7l.19,-1.8l.2,1.1l.19,1.1l.19,2.1l.2,-.5l.19,-1l.2,.7l.19,-2.9l.19,-.7l.2,5.3l.19,-3.4l.19,1.7l.2,-2l.19,4.2l.2,-5.1l.19,0l.19,-.6l.2,.3l.19,1.8l.2,1.5l.19,-.6l.19,-.8l.2,0l.19,.2l.19,-1.5l.2,2.2l.19,-2l.2,3.1l.19,-2.2l.19,2.3l.2,-5.4l.19,3l.19,-.1l.2,1.4l.19,-1.5l.2,-.3l.19,.9l.19,-.5l.2,.4l.19,.8l.2,2.4l.19,-4.9l.19,1.4l.2,2.6l.19,-2.2l.19,2.4l.2,1.7l.19,-4.9l.2,-2.2l.19,2.3l.19,.8l.2,-1.7l.19,-1.2l.2,3.5l.19,-4.2l.19,4.9l.2,-5.7l.19,1.2l.19,1.8l.2,-.1l.19,1.7l.2,-.7l.19,4.2l.19,-4l.2,.1l.19,1.3l.19,.6l.2,-2.5l.19,.8l.2,.4l.19,-.3l.19,.7l.2,-3.7l.19,2.6l.2,-1.9l.19,2.8l.19,-1.2l.2,-.2l.19,2.3l.19,-2.3l.2,-1.9l.19,4.8l.2,-4.4l.19,2.9l.19,1.5l.2,-3.2l.19,-.1l.2,2.2l.19,.1l.19,-2.4l.2,2.6l.19,-1.5l.19,-1.4l.2,1.1l.19,2.3l.2,-1.7l.19,-1l.19,.8l.2,-.6l.19,2.8l.19,-1.8l.2,1.2l.19,-2.1l.2,-2.2l.19,.9l.19,1.6l.2,-.3l.19,-2.6l.2,4.8l.19,-.7l.19,-1.4l.2,.6l.19,.4l.19,-2.5l.2,3.1l.19,-3.3l.2,.1l.19,-1.4l.19,3.4l.2,-.7l.19,.6l.2,-.3l.19,-.5l.19,1l.2,2.3l.19,-3.3l.19,.7l.2,-1.5l.19,4l.2,-3.2l.19,.1l.19,-.1l.2,2.3l.19,-.2l.19,-.9l.2,0l.19,.7l.2,-.3l.19,-.2l.19,-1.8l.2,.8l.19,1.9l.2,-.4l.19,-3.2l.19,.8l.2,-2.8l.19,5.6l.19,-.2l.2,-3.3l.19,5l.2,-4.3l.19,.3l.19,.7l.2,.7l.19,.3l.2,-.4l.19,-.6l.19,-3.4l.2,.2l.19,2.3l.19,4.2l.2,-4.9l.19,.6l.2,2.9l.19,0l.19,-1.3l.2,.5l.19,-2.8l.19,2l.2,-2.7l.19,2.2l.2,1.8l.19,-1.7l.19,-.9l.2,2.1l.19,-1l.2,2.5l.19,-1.9l.19,-4.4l.2,3.3l.19,1.4l.19,.2l.2,-.2l.19,3l.2,-4.5l.19,1l.19,.1l.2,.4l.19,-3.8l.19,5.8l.2,-4l.19,1.7l.2,-.2l.19,-.4l.19,-.6l.2,-1.1l.19,-3l.2,4.8l.19,-.3l.19,-1.2l.2,1.9l.19,-.7l.19,.1l.2,-1.5l.19,1.7l.2,-.7l.19,1.3l.19,.2l.2,.4l.19,-2.8l.2,1.6l.19,1.1l.19,-3.2l.2,1.7l.19,-1.3l.19,-1.5l.2,2.9l.19,1.5l.2,.9l.19,-3.2l.19,-.6l.2,3.1l.19,1.9l.19,-2.8l.2,-.5l.19,-1.3l.2,4.2l.19,-.7l.19,-1.8l.2,-.3l.19,.4l.2,.3l.19,-2.3l.19,1.8l.2,.2l.19,-1.7l.19,-.5l.2,.6l.19,.5l.2,-1.4l.19,2.2l.19,0l.2,-2l.19,1.3l.2,-1.9l.19,1.3l.19,4.2l.2,-4l.19,0l.19,-.7l.2,-.2l.19,.6l.2,-.4l.19,4l.19,-.5l.2,-2.3l.19,3.5l.19,-.1l.2,-2.4l.19,.2l.2,-2.9l.19,.6l.19,2.7l.2,-1.2l.19,-.4l.2,-2.1l.19,.6l.19,-1.4l.2,6.1l.19,-3.1l.19,-.6l.2,.7l.19,-.3l.2,-2.1l.19,2.6l.19,-.8l.2,.2l.19,-.2l.2,2.9l.19,-2.6l.19,2.3l.2,-4.6l.19,5.8l.19,-2.1l.2,-2.6l.19,3.1l.2,.1l.19,-.6l.19,2.5l.2,-5.4l.19,1.7l.19,4.2l.2,-4.5l.19,-.2l.2,.9l.19,-.9l.19,-1.6l.2,6.5l.19,-4.9l.2,3.6l.19,-5.2l.19,2.7l.2,-2.1l.19,4.6l.19,-6.3l.2,3.5l.19,-.6l.2,1.7l.19,-1.6l.19,-.3l.2,-2l.19,4l.2,-1.7l.19,-3.2l.19,1.3l.2,2.9l.19,.4l.19,1.8l.2,-1.7l.19,-4.8l.2,7.1l.19,-3.4l.19,-1.6l.2,-.4l.19,2.5l.19,-1l.2,-.9l.19,2.1l.2,-1.8l.19,2.5l.19,-.5l.2,-1.5l.19,.7l.2,-.1l.19,-.7l.19,-.7l.2,1.7l.19,1.3l.19,-3.3l.2,-.1l.19,1.6l.2,.1l.19,-1.3l.19,1.2l.2,.2l.19,-2.5l.2,2.2l.19,-2.5l.19,3.7l.2,-5.5l.19,4.5l.19,.2l.2,-.8l.19,.5l.2,-.7l.19,.9l.19,.7l.2,.3l.19,-1.2l.19,.2l.2,-2.3l.19,.3l.2,.6l.19,-.6l.19,-.6l.2,1.2l.19,3l.2,-1.2l.19,-.5l.19,-3.9l.2,3.3l.19,.6l.19,-1.5l.2,4.1l.19,-.1l.2,-4.9l.19,1.1l.19,1.1l.2,-.2l.19,-3.1l.2,3.2l.19,-2.8l.19,3.2l.2,-5.2l.19,4.9l.19,-.2l.2,.1l.19,.3l.2,.9l.19,.2l.19,-1.6l.2,.1l.19,.1l.19,-.8l.2,.6l.19,2.3l.2,-1.9l.19,.4l.19,0l.2,-.3l.19,-1.2l.2,-.3l.19,1l.19,2l.2,-3.6l.19,2.9l.19,-.8l.2,1.5l.19,-1.3l.2,-.2l.19,-.6l.19,-.4l.2,3.8l.19,-4.7l.19,-.1l.2,-.4l.19,3.2l.2,-1l.19,-2.3l.19,3l.2,.4l.19,-3.5l.2,2.5l.19,-.5l.19,.7l.2,-.4l.19,-.9l.19,.7l.2,-2.6l.19,2.5l.2,3.1l.19,-5.8l.19,.9l.2,.2l.19,4.3l.2,-1.8l.19,-.4l.19,.1l.2,.5l.19,-1.2l.19,.4l.2,.5l.19,-.2l.2,-1.3l.19,1.2l.19,3.2l.2,-4.1l.19,.7l.19,-2.6l.2,2.6l.19,-.2l.2,-.4l.19,.5l.19,.6l.2,-.1l.19,1.1l.2,-.6l.19,-4.5l.19,4.3l.2,-1l.19,-1.2l.19,.1l.2,1.6l.19,-.3l.2,3.7l.19,-4.9l.19,1.5l.2,1.6l.19,.3l.2,-.4l.19,-1.8l.19,1.8l.2,-.5l.19,1.9l.19,-3.1l.2,.7l.19,.2l.2,-3.7l.19,2l.19,1.2l.2,1.3l.19,-.4l.19,-1.4l.2,1.8l.19,-.3l.2,-1.6l.19,.9l.19,-1.3l.2,1.5l.19,.8l.2,-2.2l.19,2.3l.19,-1.7l.2,.1l.19,3.4l.19,-.4l.2,-1.4l.19,-1.3l.2,-2.9l.19,2.6l.19,.3l.2,2.2l.19,-3.9l.2,.5l.19,-.2l.19,4l.2,-2.7l.19,1.6l.19,-2.1l.2,-3.6l.19,4.5l.2,-4l.19,-.9l.19,4.4l.2,-1.9l.19,2.4l.19,1.2l.2,-3.5l.19,2.8l.2,.5l.19,-3l.19,2.4l.2,.1l.19,-2.8l.2,1.4l.19,1.8l.19,-5.1l.2,1.5l.19,4l.19,-2.5l.2,-.9l.19,1.1l.2,.1l.19,-.6l.19,-.9l.2,2.5l.19,.7l.2,1.9l.19,-1.8l.19,.2l.2,-2.4l.19,.1l.19,-.5l.2,4.7l.19,-5l.2,-1.3l.19,6.1l.19,-5.1l.2,2.8l.19,-2.4l.19,2.7l.2,-3l.19,0l.2,3l.19,-2l.19,4.2l.2,-1.2l.19,-2.4l.2,-.4l.19,1.3l.19,-1.8l.2,0l.19,3l.19,-3.5l.2,-.7l.19,2.1l.2,-2.7l.19,4.5l.19,-2.1l.2,1.9l.19,.6l.2,1.2l.19,-5.9l.19,2.9l.2,.5l.19,-1.9l.19,2.2l.2,-3.6l.19,.1l.2,1.2l.19,1.8l.19,-.6l.2,-1.5l.19,4.1l.19,-4.8l.2,2.2l.19,-2l.2,4.1l.19,-2.4l.19,-2.1l.2,2.3l.19,-.7l.2,.7l.19,-1.6l.19,4.3l.2,-5.5l.19,3.1l.19,.3l.2,3.1l.19,-4l.2,-.3l.19,-.4l.19,1.7l.2,-.8l.19,-.8l.2,-.2l.19,.8l.19,-1.3l.2,.8l.19,-.1l.19,1.4l.2,-.6l.19,2.4l.2,.5l.19,-1.2l.19,-1.1l.2,.6l.19,1l.19,.3l.2,-1.5l.19,-3.8l.2,2.6l.19,.4l.19,.5l.2,-1.5l.19,2.6l.2,-2.1l.19,.8l.19,1.9l.2,-1.5l.19,1.2l.19,-.3l.2,-1.9l.19,-1.2l.2,.4l.19,.8l.19,.4l.2,-.3l.19,0l.19,.5l.2,-.4l.19,1.5l.2,-.6l.19,-1.7l.19,-.1l.2,-.5l.19,2.2l.2,.2l.19,-.7l.19,.2l.2,-1.7l.19,1.8l.19,1.8l.2,-3.3l.19,-1l.2,1.5l.19,.3l.19,.9l.2,.2l.19,-.7l.2,-.3l.19,.4l.19,2.5l.2,-2.9l.19,2.9l.19,-3.9l.2,-2.4l.19,-.3l.2,4.3l.19,2l.19,-1.1l.2,-1.1l.19,-.9l.19,-.1l.2,.5l.19,.4l.2,-3.4l.19,2.9l.19,-.2l.2,3.1l.19,-2.5l.2,-.6l.19,-.9l.19,1.9l.2,.7l.19,-1.2l.19,-2.8l.2,8.5l.19,-5.3l.2,-.7l.19,0l.19,.8l.2,-.3l.19,-.3l.2,1.8l.19,-.1l.19,.9l.2,-2.7l.19,1.3l.19,-1.2l.2,-.8l.19,.9l.2,.3l.19,-.3l.19,-.5l.2,.4l.19,.8l.19,-1.3l.2,.6l.19,1l.2,.8l.19,.3l.19,-2l.2,-1.8l.19,3.6l.2,1l.19,-3l.19,-.4l.2,.6l.19,-2.5l.19,-.6l.2,3.4l.19,1.5l.2,-.1l.19,-2.3l.19,.6l.2,.9l.19,-2.7l.2,4.8l.19,.3l.19,-4.1l.2,2.5l.19,-.2l.19,-4.8l.2,6l.19,.3l.2,-8.2l.19,7.8l.19,-1.4l.2,.3l.19,-1l.19,-1.4l.2,1.9l.19,-1l.2,1.1l.19,-1.2l.19,-1.5l.2,4.6l.19,-1.1l.2,-2.7l.19,1.9l.19,1.2l.2,-1.3l.19,-1.1l.19,-.1l.2,-.8l.19,.4l.2,0l.19,.9l.19,-.6l.2,1.1l.19,-2l.2,1.1l.19,-.6l.19,3.7l.2,-5.1l.19,.6l.19,-.9l.2,2.6l.19,0l.2,-1l.19,1.8l.19,-.8l.2,3l.19,-1.3l.19,-3.9l.2,2.6l.19,-3.3l.2,2.4l.19,.1l.19,3.5l.2,-3.8l.19,3.1l.2,-2l.19,-.6l.19,-.2l.2,3.1l.19,-2.5l.19,-1.2l.2,1.1l.19,-.6l.2,-2.3l.19,2.5l.19,0l.2,-.1l.19,1l.2,-3.4l.19,2.2l.19,-1l.2,1.4l.19,.7l.19,-.6l.2,1l.19,1.3l.2,-1.7l.19,-2.3l.19,.9l.2,3.4l.19,-2l.19,-1.4l.2,1l.19,1.3l.2,-3.4l.19,1.2l.19,-.2l.2,-.1l.19,-.3l.2,.6l.19,1l.19,-3.7l.2,3.1l.19,-1.5l.19,3.6l.2,-1.5l.19,.6l.2,-1.7l.19,-1.7l.19,2.3l.2,-.6l.19,1l.2,-2.8l.19,3.4l.19,-1.3l.2,1l.19,-2.6l.19,1.9l.2,.9l.19,-2.3l.2,1.6l.19,.1l.19,.4l.2,-.7l.19,.1l.19,-.2l.2,-.9l.19,1.4l.2,-1.1l.19,.3l.19,-.7l.2,1.6l.19,-2l.2,1.2l.19,.4l.19,-1.8l.2,.3l.19,1.3l.19,-2.4l.2,1.5l.19,2.4l.2,-.5l.19,.3l.19,-1.4l.2,2.3l.19,-2.6l.19,1.1l.2,2.5l.19,-3.3l.2,2l.19,-1.5l.19,-.2l.2,.7l.19,-.3l.2,-1.2l.19,.5l.19,.3l.2,-2l.19,2.4l.19,-.3l.2,.7l.19,-2.2l.2,-.8l.19,.7l.19,3.9l.2,-2.7l.19,.2l.2,.4l.19,1.1l.19,-3.8l.2,-1.4l.19,.9l.19,1.3l.2,1.5l.19,-.2l.2,-1.6l.19,-.2l.19,1.9l.2,.8l.19,-.6l.19,-.8l.2,.6l.19,.5l.2,-.3l.19,-2.7l.19,2.4l.2,-.4l.19,1.3l.2,-.4l.19,-1.4l.19,1l.2,-.1l.19,-.1l.19,3.1l.2,-3.4l.19,-2.3l.2,.4l.19,3.6l.19,-.4l.2,-2.8l.19,2.8l.2,.2l.19,-.7l.19,-1l.2,.5l.19,-1.4l.19,1.7l.2,-.2l.19,-1.1l.2,1.2l.19,2l.19,-2l.2,-2.3l.19,1.6l.19,5.1l.2,-3.1l.19,1l.2,-2.2l.19,-2.3l.19,1.1l.2,2.6l.19,-5.8l.2,3.2l.19,.5l.19,1.2l.2,-.6l.19,-.1l.19,.6l.2,-4.3l.19,0l.2,4.9l.19,-5l.19,2.8l.2,2.2l.19,0l.2,-4l.19,-1.8l.19,4.7l.2,3.2l.19,-3.1l.19,.8l.2,-1.9l.19,-.8l.2,.5l.19,.8l.19,-4.5l.2,5.5l.19,1.1l.19,-1.6l.2,1.2l.19,-4.1l.2,3.8l.19,-.5l.19,3l.2,-1.4l.19,-2.4l.2,.6l.19,-2.1l.19,1.8l.2,2l.19,1.3l.19,-.7l.2,-.6l.19,-1.9l.2,.8l.19,.3l.19,-2.7l.2,-1.1l.19,2.9l.2,-1.2l.19,-.3l.19,.6l.2,.2l.19,-1.1l.19,1.4l.2,-.1l.19,-.7l.2,1.5l.19,-1.7l.19,-2.2l.2,2.2l.19,2.7l.19,-1.5l.2,0l.19,.2l.2,-1.6l.19,-.1l.19,.4l.2,.5l.19,1.2l.2,-1.4l.19,.9l.19,.5l.2,-.4l.19,.2l.19,-1.3l.2,0l.19,1.7l.2,.6l.19,-2.3l.19,.9l.2,-.9l.19,1.6l.2,1.5l.19,-2.5l.19,.2l.2,.8l.19,-.2l.19,-1.8l.2,1.4l.19,.2l.2,2.5l.19,.8l.19,-3.5l.2,0l.19,.4l.19,-1.5l.2,1.1l.19,-2.6l.2,2.3l.19,1l.19,-.9l.2,2.3l.19,-2.2l.2,4.5l.19,-6.2l.19,1.6l.2,-.2l.19,1.5l.19,-1.5l.2,1l.19,.2l.2,-1.1l.19,-.2l.19,-.5l.2,4.2l.19,-1.3l.2,-2l.19,2.1l.19,-1.9l.2,.8l.19,-2.3l.19,1.4l.2,-.7l.19,.3l.2,1.5l.19,-.9l.19,-.7l.2,-.1l.19,-3.1l.19,7.3l.2,-2.4l.19,-1.2l.2,-.6l.19,-1.8l.19,1.1l.2,1.6l.19,-.2l.2,-.4l.19,-.2l.19,1.2l.2,-.8l.19,2.7l.19,-3.3l.2,1.3l.19,-1.9l.2,-.3l.19,2.7l.19,-2.1l.2,1.8l.19,2.7l.19,-4.8l.2,1.3l.19,1.6l.2,-1.5l.19,-.7l.19,-2.5l.2,4l.19,-1.6l.2,1.3l.19,1.3l.19,-1.5l.2,-1l.19,3.8l.19,-3.5l.2,2.5l.19,-5.1l.2,2.7l.19,.4l.19,.5l.2,-1l.19,1.4l.2,-3.9l.19,2l.19,1.9l.2,1.3l.19,-2.5l.19,1.7l.2,-2l.19,-1.2l.2,.6l.19,2l.19,-1.1l.2,-1.1l.19,-.4l.19,1.8l.2,1.5l.19,-1.2l.2,0l.19,-.6l.19,2.9l.2,-1.7l.19,-1.5l.2,.6l.19,-4.3l.19,5.5l.2,-2.4l.19,.2l.19,1.4l.2,-.1l.19,.3l.2,-2.2l.19,3.6l.19,-1.2l.2,-1.7l.19,.5l.2,-1.3l.19,3l.19,-1.7l.2,.1l.19,-.2l.19,.4l.2,-2.8l.19,2l.2,.5l.19,1.8l.19,-4.7l.2,3.3l.19,1.7l.19,.1l.2,-.3l.19,-2.3l.2,.3l.19,-.8l.19,.7l.2,.1l.19,.5l.2,-.5l.19,-1.4l.19,4.2l.2,-3.8l.19,3.9l.19,-6.9l.2,9l.19,-4.7l.2,2.8l.19,-2.2l.19,-1.3l.2,1.5l.19,-.9l.2,.7l.19,-1.4l.19,.8l.2,-.7l.19,.6l.19,-1.9l.2,4.8l.19,-3.7l.2,-.8l.19,1.3l.19,-.9l.2,3.4l.19,-.9l.19,-3.6l.2,2.3l.19,3.2l.2,-2.8l.19,2.3l.19,.2l.2,-3.5l.19,.9l.2,.6l.19,-.4l.19,.1l.2,.4l.19,-1.1l.19,3.3l.2,-3.6l.19,-2.1l.2,1.4l.19,1.3l.19,2.6l.2,-4.1l.19,1.1l.2,-.2l.19,-1.1l.19,2.1l.2,.4l.19,-1.4l.19,4.1l.2,-3.2l.19,-.7l.2,3.7l.19,-2.1l.19,-2l.2,.9l.19,-1.2l.19,1.5l.2,1.4l.19,-2.1l.2,.3l.19,.3l.19,2.3l.2,-5.4l.19,2.6l.2,1.4l.19,1.6l.19,-3.1l.2,-.4l.19,2l.19,-3.1l.2,2l.19,.5l.2,-2l.19,1.4l.19,-1l.2,-.3l.19,2.9l.2,.2l.19,.1l.19,-2.9l.2,1.8l.19,-3.4l.19,5.9l.2,-2.1l.19,-1.8l.2,.3l.19,-.2l.19,-2.8l.2,2.2l.19,-1.1l.19,3.7l.2,.8l.19,-1.5l.2,-3.6l.19,6l.19,-2.7l.2,-1l.19,1.2l.2,.1l.19,-2.3l.19,1.5l.2,0l.19,-.5l.19,-1.3l.2,2.6l.19,-.6l.2,4.2l.19,-5.8l.19,2.6l.2,-2l.19,.5l.2,-2.6l.19,3l.19,-1.1l.2,-.9l.19,2.1l.19,-1.6l.2,1.8l.19,.2l.2,-.3l.19,-.3l.19,-.3l.2,-.6l.19,1.7l.19,-.2l.2,-.3l.19,-1.4l.2,2.6l.19,1l.19,-3.2l.2,-.5l.19,-.3l.2,.7l.19,1.4l.19,.1l.2,-1l.19,2.7l.19,-3l.2,-.6l.19,3.1l.2,-.2l.19,-.9l.19,-1.4l.2,.1l.19,-.5l.19,-1l.2,4.3l.19,-5.7l.2,3.1l.19,1l.19,.2l.2,-3.5l.19,3.3l.2,-3.2l.19,2.6l.19,-.3l.2,.3l.19,-1.1l.19,2.5l.2,-1.8l.19,1.4l.2,-1.5l.19,.4l.19,.7l.2,-1.8l.19,3.2l.2,-1l.19,-2.1l.19,-.5l.2,3.5l.19,-1.7l.19,-1.1l.2,1l.19,-1.6l.2,.3l.19,.4l.19,2.5l.2,.2l.19,-3.2l.19,-1l.2,4.6l.19,-2.8l.2,-1.9l.19,2.1l.19,-3.2l.2,3.2l.19,-.7l.2,.6l.19,-2.1l.19,5l.2,-2.8l.19,3.7l.19,-2.6l.2,-3.4l.19,2.9l.2,-.8l.19,1l.19,-1.6l.2,3.4l.19,-.5l.2,-2.2l.19,-2.2l.19,2.2l.2,-.8l.19,3.8l.19,-1.7l.2,-2.2l.19,5.2l.2,-4.2l.19,-1.5l.19,-.1l.2,2.3l.19,1.2l.19,-1.8l.2,-1.5l.19,4l.2,-.1l.19,-2.9l.19,3.4l.2,-1.9l.19,-2.1l.2,.9l.19,3.1l.19,-1l.2,.2l.19,.3l.19,-1l.2,1.7l.19,-.8l.2,-1.5l.19,4.6l.19,-5.2l.2,-.5l.19,-1.4l.2,4.1l.19,-2.1l.19,-2.3l.2,2.1l.19,.7l.19,1.1l.2,-1.3l.19,-1.8l.2,1.4l.19,-2.2l.19,1.8l.2,.1l.19,-1.4l.19,1.1l.2,-1l.19,-.2l.2,2.3l.19,-.9l.19,.2l.2,-.1l.19,-1.4l.2,1.6l.19,-.2l.19,-.7l.2,.9l.19,-1.2l.19,-.4l.2,2.1l.19,.7l.2,-1l.19,-2.9l.19,2.3l.2,2l.19,.8l.2,-2.1l.19,.9l.19,.6l.2,-2.2l.19,0l.19,1.1l.2,-3.2l.19,3.1l.2,-.3l.19,-.2l.19,.5l.2,-.7l.19,.8l.19,1.7l.2,-4.5l.19,1.8l.2,-1.9l.19,3.6l.19,-.2l.2,-4l.19,1.1l.2,.2l.19,2.2l.19,.9l.2,-.2l.19,-.2l.19,-5l.2,4.6l.19,-2.7l.2,1.5l.19,0l.19,2.5l.2,-2.1l.19,-1.1l.2,-.9l.19,2.3l.19,-2.4l.2,3l.19,-1.3l.19,-.3l.2,.3l.19,0l.2,.4l.19,.6l.19,-1l.2,-1.9l.19,1.4l.19,-.1l.2,-.2l.19,.5l.2,1.3l.19,.2l.19,.2l.2,-.6l.19,1l.2,-1.3l.19,-.1l.19,-1.2l.2,-1.4l.19,2.5l.19,-1l.2,-1.3l.19,3.7l.2,-3.2l.19,.3l.19,4.5l.2,-5.3l.19,1.4l.2,1.4l.19,.3l.19,-2.1l.2,1.4l.19,-.3l.19,-1.1l.2,1.1l.19,2.5l.2,-2.4l.19,.4l.19,.8l.2,-.6l.19,-.7l.19,2.5l.2,-.8l.19,-2.3l.2,-2.1l.19,2.8l.19,.1l.2,-.7l.19,-1.3l.2,-.2l.19,1.7l.19,.4l.2,2l.19,-1.6l.19,-3.4l.2,2.9l.19,-.5l.2,1.4l.19,1.7l.19,-3.2l.2,2.5l.19,-1.9l.19,-1l.2,.4l.19,-2.1l.2,4.3l.19,-5l.19,1.6l.2,2.1l.19,.5l.2,-.6l.19,-.5l.19,-.8l.2,1.3l.19,.4l.19,.4l.2,-1.2l.19,-1.5l.2,1.3l.19,.4l.19,-1.2l.2,.6l.19,.3l.2,2l.19,-.8l.19,-3l.2,1.4l.19,1.8l.19,-2.4l.2,3l.19,-.9l.2,-2.9l.19,3.7l.19,.7l.2,-1.3l.19,.8l.19,-1.3l.2,-.3l.19,.5l.2,.1l.19,-1.3l.19,-1.8l.2,1.1l.19,1.6l.2,-.7l.19,.5l.19,-.1l.2,-.4l.19,.1l.19,.9l.2,-1.3l.19,1.1l.2,-.6l.19,2.4l.19,-5l.2,3l.19,-.9l.2,.8l.19,.7l.19,-.7l.2,.5l.19,2.2l.19,-5.9l.2,3.6l.19,1.9l.2,-1.9l.19,-.6l.19,.7l.2,-.5l.19,.5l.19,-1.7l.2,.9l.19,-.2l.2,.6l.19,.5l.19,3.8l.2,-6.3l.19,2.9l.2,-1.1l.19,-.1l.19,-.7l.2,-.4l.19,-.7l.19,-.8l.2,4.9l.19,-2.1l.2,.1l.19,.9l.19,.2l.2,-1.2l.19,-.5l.2,-2l.19,3l.19,-.6l.2,1.3l.19,-1.2l.19,.2l.2,-.2l.19,1.7l.2,-1.8l.19,.3l.19,-1.2l.2,-1.7l.19,1.8l.19,.1l.2,1.4l.19,-1l.2,1.6l.19,-1l.19,.9l.2,-1.3l.19,.2l.2,-.3l.19,-.5l.19,.3l.2,2.3l.19,-.6l.19,-1l.2,.7l.19,.5l.2,-1.6l.19,.1l.19,.6l.2,.7l.19,-.7l.2,-.4l.19,-.6l.19,1.4l.2,-1l.19,-1.6l.19,2l.2,-.6l.19,-1.4l.2,1.3l.19,1.1l.19,-.9l.2,.8l.19,-.4l.19,1l.2,-1.2l.19,-1.6l.2,1.6l.19,-.4l.19,.8l.2,.7l.19,-4.2l.2,1.4l.19,-.1l.19,.8l.2,1.4l.19,-.9l.19,1.1l.2,-.1l.19,-.5l.2,-1.2l.19,-.2l.19,2.4l.2,-1.1l.19,.4l.2,-1.5l.19,-1.3l.19,2.2l.2,-.8l.19,1.1l.19,2l.2,-2l.19,-.9l.2,.9l.19,-.6l.19,-1.4l.2,2.7l.19,-2.5l.19,3.9l.2,-1.3l.19,-1.8l.2,1.6l.19,.5l.19,-1.4l.2,-1.2l.19,1.9l.2,-.3l.19,.6l.19,-.7l.2,1.4l.19,.8l.19,-.5l.2,-3.5l.19,4.9l.2,-5.2l.19,-.1l.19,1.1l.2,-1l.19,2l.2,.3l.19,-1.8l.19,.7l.2,1.9l.19,-1.5l.19,-1.1l.2,4.2l.19,-3l.2,.5l.19,-1.3l.19,-.6l.2,2.5l.19,-2l.19,1.1l.2,-.1l.19,-1.1l.2,1.1l.19,.5l.19,.9l.2,.6l.19,-1.8l.2,-.1l.19,-2.1l.19,4.7l.2,-3.3l.19,-1.8l.19,2.5l.2,.7l.19,0l.2,-1.3l.19,-.6l.19,1.3l.2,1.6l.19,1.5l.19,-4.1l.2,1.3l.19,-1l.2,.1l.19,.1l.19,1.7l.2,-.8l.19,-1.3l.2,.7l.19,1.2l.19,-.4l.2,-1.1l.19,2.1l.19,-2.4l.2,1.6l.19,-.7l.2,.2l.19,.5l.19,.6l.2,-3.5l.19,2.8l.2,-1.5l.19,-.9l.19,4.9l.2,-3.5l.19,3.7l.19,-5.5l.2,1.7l.19,.9l.2,-1.6l.19,-2.2l.19,3.8l.2,-.3l.19,.7l.19,-.6l.2,-.3l.19,.8l.2,-1.5l.19,1.5l.19,-.5l.2,-.2l.19,2l.2,-1.4l.19,-3.3l.19,3l.2,.1l.19,.9l.19,-2l.2,.9l.19,-.1l.2,2.1l.19,-5.9l.19,3.6l.2,1.8l.19,-2.1l.2,-.1l.19,-1.5l.19,1.7l.2,1.5l.19,-1.4l.19,-.1l.2,.3l.19,.1l.2,.6l.19,-1.3l.19,1l.2,2.1l.19,1l.19,-2.9l.2,-1.6l.19,5l.2,-4.5l.19,.1l.19,1.5l.2,-1l.19,0l.2,-.4l.19,.2l.19,.4l.2,-.4l.19,.3l.19,-.7l.2,2.3l.19,-1.8l.2,-.2l.19,-3.4l.19,2.6l.2,-2.1l.19,4.6l.2,-3.6l.19,2.4l.19,1l.2,-1.6l.19,2.5l.19,-3.6l.2,2.4l.19,-1.8l.2,1.1l.19,0l.19,-.2l.2,-.3l.19,.9l.19,-.3l.2,1.4l.19,-1.6l.2,-.9l.19,0l.19,1.5l.2,-2.7l.19,.8l.2,.3l.19,.8l.19,.8l.2,-.8l.19,.5l.19,.1l.2,-4.2l.19,5.1l.2,-1.3l.19,1.5l.19,-2.3l.2,1l.19,-1.4l.2,4.3l.19,-.3l.19,-1.6l.2,-1l.19,-.8l.19,-.6l.2,1.5l.19,-1l.2,2.2l.19,-3.9l.19,-.2l.2,.9l.19,1.5l.19,.5l.2,-.6l.19,-3.1l.2,2.3l.19,1.5l.19,1.6l.2,-2.4l.19,-.7l.2,-1.8l.19,.4l.19,1.7l.2,1.8l.19,-1l.19,.1l.2,-1.1l.19,.3l.2,-.4l.19,.8l.19,-.3l.2,-.3l.19,3.6l.2,-2.8l.19,.5l.19,-.3l.2,2.2l.19,-2.3l.19,-1.7l.2,2.2l.19,.7l.2,-1.9l.19,.7l.19,1l.2,-2.4l.19,-.5l.19,-.5l.2,3.7l.19,-2.6l.2,3.4l.19,-2.4l.19,.1l.2,3.1l.19,-2.3l.2,.6l.19,-3.8l.19,.8l.2,1.2l.19,-.1l.19,-.5l.2,-.8l.19,-.7l.2,-.3l.19,3.4l.19,-3.4l.2,2.5l.19,-.7l.2,.5l.19,-.4l.19,-1l.2,1.9l.19,-2.9l.19,7.1l.2,-4.2l.19,1l.2,-2.5l.19,2.3l.19,.2l.2,-.3l.19,-.4l.19,-1.5l.2,-.2l.19,2l.2,-.3l.19,-1.5" fill="none" stroke="#0000ff" stroke-width="0.8" stroke-linejoin="round"/><path d="M69.4,2.5H941.6V636.3H69.4ZM69.4,38h-12M69.4,108.4h-12M69.4,178.7h-12M69.4,249.1h-12M69.4,319.5h-12M69.4,389.9h-12M69.4,460.2h-12M69.4,530.6h-12M69.4,601h-12M69.4,2.7h-6.8M69.4,73.1h-6.8M69.4,143.4h-6.8M69.4,213.8h-6.8M69.4,284.2h-6.8M69.4,354.6h-6.8M69.4,424.9h-6.8M69.4,495.3h-6.8M69.4,565.7h-6.8M69.4,636h-6.8M69.4,636.3v12M214.8,636.3v12M360.1,636.3v12M505.5,636.3v12M650.9,636.3v12M796.2,636.3v12M941.6,636.3v12M142.1,636.3v6.8M287.4,636.3v6.8M432.8,636.3v6.8M578.2,636.3v6.8M723.5,636.3v6.8M868.9,636.3v6.8" fill="none" stroke="#000" stroke-width="2.5" stroke-linejoin="miter"/></g>
<g><clipPath id="cp11"><rect x="75.4" y="743.6" width="879.9" height="657.4"/></clipPath><path clip-path="url(#cp11)" d="M75.4,1268.4h0l.2,1.4l.2,.1l.2,1.4l.2,-1.7l.2,.2l.2,.1l.2,-.5l.2,-.1l.2,1l.2,-.1l.2,-.3l.1,-.8l.2,.1l.2,1.3l.2,-.2l.2,-1.2l.2,-.5l.2,1l.2,.4l.2,-1.1l.2,.9l.2,-.7l.2,-.5l.2,.6l.2,.4l.2,-.5l.2,.9l.2,-.3l.2,.3l.2,-.3l.2,.2l.2,-.2l.2,.2l.1,-.4l.2,.1l.2,-.2l.2,-.7l.2,1.9l.2,-1.8l.2,1l.2,.6l.2,-.7l.2,-.2l.2,-.6l.2,1.4l.2,-.8l.2,0l.2,1.2l.2,-.3l.2,-1.2l.2,0l.2,-.3l.2,.4l.2,.1l.2,.1l.1,-.7l.2,1.4l.2,-.5l.2,-.3l.2,1.2l.2,-1.8l.2,1.3l.2,-.4l.2,-1.5l.2,2l.2,-.2l.2,-1.4l.2,1.7l.2,-.4l.2,-.6l.2,0l.2,-.1l.2,.2l.2,-.7l.2,.3l.2,.2l.2,.9l.2,0l.1,.8l.2,-1.7l.2,1.6l.2,-1.8l.2,-.6l.2,1.9l.2,-.2l.2,-.2l.2,-.8l.2,1.1l.2,-.5l.2,.3l.2,-.2l.2,-1l.2,1.5l.2,-.7l.2,-.2l.2,-.3l.2,1.3l.2,-1.5l.2,.4l.2,-.2l.1,.5l.2,1.1l.2,-.7l.2,-.9l.2,.5l.2,.1l.2,-1.2l.2,-.3l.2,1.5l.2,-1.3l.2,2.5l.2,.1l.2,-1.9l.2,.7l.2,-.5l.2,0l.2,.4l.2,-.5l.2,.3l.2,1.1l.2,-1.1l.2,0l.2,-1.1l.1,2l.2,-.8l.2,.3l.2,-.2l.2,-1.1l.2,.8l.2,.5l.2,-.4l.2,-.4l.2,1.2l.2,-.5l.2,-1.2l.2,.5l.2,.6l.2,.2l.2,-.2l.2,.9l.2,-1.6l.2,.4l.2,.1l.2,1l.2,-.4l.1,-.8l.2,.2l.2,.5l.2,-.7l.2,-.3l.2,1.1l.2,-.1l.2,.2l.2,.2l.2,-1.3l.2,.2l.2,.1l.2,1l.2,-.1l.2,-.6l.2,.2l.2,-.3l.2,.5l.2,-.9l.2,-.7l.2,.1l.2,0l.1,1l.2,-.6l.2,.9l.2,-.8l.2,.8l.2,.1l.2,.1l.2,-.9l.2,.3l.2,0l.2,.9l.2,-.8l.2,1l.2,-1.9l.2,1l.2,-.2l.2,.2l.2,1l.2,-.2l.2,-.8l.2,-1l.2,1.7l.2,-.3l.1,-.4l.2,1l.2,0l.2,-.8l.2,-.2l.2,.2l.2,-1.2l.2,1.1l.2,-.4l.2,-.8l.2,0l.2,2.1l.2,-.8l.2,-1l.2,1.6l.2,-.3l.2,.3l.2,0l.2,-.1l.2,-.9l.2,-.7l.2,-.1l.1,.9l.2,1.3l.2,-1.2l.2,.2l.2,-.5l.2,.3l.2,1.1l.2,-1.4l.2,1.6l.2,-.9l.2,-.6l.2,-.1l.2,-.8l.2,2.6l.2,-1.8l.2,-.2l.2,.7l.2,-.7l.2,1.2l.2,-1.2l.2,.1l.2,1l.2,-.2l.1,-.3l.2,.3l.2,-1.1l.2,.5l.2,-.7l.2,.1l.2,.7l.2,.2l.2,.5l.2,-.1l.2,0l.2,-.8l.2,.8l.2,-.6l.2,-.1l.2,.5l.2,-.2l.2,-1.1l.2,-.1l.2,1.6l.2,-.4l.2,.1l.1,-.1l.2,-1.1l.2,.5l.2,-.4l.2,-.3l.2,1.4l.2,-.1l.2,-.2l.2,-.6l.2,.7l.2,-.5l.2,-.3l.2,0l.2,.5l.2,.8l.2,.5l.2,-1.8l.2,.5l.2,.9l.2,-.3l.2,-.1l.2,.8l.1,-1.2l.2,.7l.2,-.4l.2,-.6l.2,.5l.2,-.4l.2,.1l.2,.2l.2,0l.2,-1.2l.2,1.3l.2,-1.1l.2,1.6l.2,-1l.2,.3l.2,.6l.2,1.2l.2,-2.7l.2,1.8l.2,-.1l.2,-.8l.2,.1l.2,-.2l.1,.4l.2,.8l.2,-1.5l.2,1.1l.2,-.7l.2,-.3l.2,-.4l.2,.9l.2,.1l.2,-.1l.2,1.1l.2,-.7l.2,.1l.2,.1l.2,-.8l.2,.3l.2,-1.3l.2,.1l.2,2.2l.2,-1.3l.2,.7l.2,-1l.1,.2l.2,-.5l.2,.4l.2,-.3l.2,.7l.2,1.5l.2,-.9l.2,-.3l.2,-.2l.2,.3l.2,-1.8l.2,1.2l.2,-1l.2,1.1l.2,-1.4l.2,2l.2,-1.3l.2,1.3l.2,-1.3l.2,-.8l.2,2.2l.2,-.6l.2,-.8l.1,.3l.2,.7l.2,-1.8l.2,.7l.2,-1l.2,.6l.2,.9l.2,-.6l.2,-1.6l.2,1.8l.2,-.9l.2,-1.2l.2,-.8l.2,-.5l.2,1.1M146.4,1262.3h0l.2,-.2M146.8,1257.9h0M147,1250.5h0M147.2,1238.6h0M147.4,1222.1h0M147.6,1201.4h0M147.7,1184.3h0l.2,2.4M148.1,1196h0M148.3,1204.5h0M148.5,1221.1h0M148.7,1236.2h0M148.9,1247h0M149.1,1257.3h0M149.3,1261h0l.2,2.3l.2,.9l.2,1.1l.2,2.1l.2,.9l.2,-.5l.2,1.3l.2,-1.8l.2,1.3l.2,.1l.2,.5l.2,-1.6l.2,1l.1,.6l.2,-.6l.2,.5l.2,-.4l.2,-.5l.2,1.2l.2,-.5l.2,0l.2,-.4l.2,.4l.2,.4l.2,.5l.2,-.6l.2,.9l.2,-1.1l.2,.4l.2,-.3l.2,.7l.2,.2l.2,.1l.2,-1.3l.2,.9l.2,0l.1,1l.2,-1.1l.2,2.2M157.1,1268.7h0l.2,1l.2,-.1l.2,.9l.2,-.2l.2,-1.1l.2,.5l.2,-.4l.2,-.5l.2,.4l.2,1.6l.2,-.5l.2,.1l.2,-.2l.2,.8l.2,0l.2,-.9l.2,-.1l.2,-.7l.1,.6l.2,-1.1l.2,2l.2,-.2l.2,-1.1l.2,.3l.2,.5l.2,-1.1l.2,-.2l.2,-.2l.2,1.1l.2,-.2l.2,-.2l.2,.1l.2,-.6l.2,1l.2,-.5l.2,1.6l.2,-1.9l.2,-.5l.2,1l.2,-.7l.1,1.7l.2,-.8l.2,.8l.2,-1.2l.2,-.1l.2,1.2l.2,-.4l.2,-.1l.2,-1.9l.2,1.5l.2,-.1l.2,-.1l.2,0l.2,.3l.2,.7l.2,-.4l.2,-1.5l.2,.8l.2,.4l.2,.6l.2,-.9l.2,-.1l.2,.5l.1,-1.1l.2,.9l.2,-.3l.2,-.8l.2,.3l.2,-.7l.2,.9l.2,.1l.2,-.8l.2,.1l.2,-.7l.2,.4l.2,.3l.2,-.4l.2,-.2l.2,1.2l.2,-.7l.2,.1l.2,-1.1l.2,1.2l.2,-1.1l.2,1.7l.1,-.8l.2,-.8l.2,1l.2,-.9l.2,2.3l.2,-1.3l.2,0l.2,.3l.2,1l.2,-1.4l.2,2.1l.2,-2.2l.2,.6l.2,-.4l.2,.9l.2,.6l.2,-.4l.2,0l.2,-.6l.2,.6l.2,-.4l.2,-.1l.2,-.5l.1,2.1l.2,-.9l.2,-.7l.2,0l.2,.8l.2,-.2l.2,-.1l.2,-.1l.2,.4l.2,0l.2,.3l.2,-.4l.2,-1.1l.2,1.4l.2,-1.2l.2,-.6l.2,1.1l.2,-1.3l.2,1.5l.2,-1.1l.2,1.1l.2,.7l.1,-1l.2,-.9l.2,1.5l.2,-.7l.2,.9l.2,0l.2,-.8l.2,.3l.2,-.4l.2,-.5l.2,1.6l.2,-.3l.2,-.5l.2,-1.4l.2,1.6l.2,.1l.2,-.5l.2,-1.1l.2,1.7l.2,-.2l.2,-.2l.2,-.4l.1,-.9l.2,2.1l.2,.2l.2,-1.1l.2,-.2l.2,1.7l.2,-1l.2,-1l.2,.9l.2,-.6l.2,.2l.2,-.3l.2,.1l.2,.1l.2,-.6l.2,1.1l.2,-.4l.2,-.6l.2,1l.2,-.1l.2,.3l.2,.1l.2,-1.8l.1,.9l.2,-.9l.2,.7l.2,.4l.2,.3l.2,-.4l.2,.2l.2,-.6l.2,1.1l.2,-.6l.2,-.2l.2,.4l.2,0l.2,-.5l.2,0l.2,.4l.2,-.1l.2,.3l.2,-.7l.2,.4l.2,.9l.2,-.8l.1,-.6l.2,.2l.2,.7l.2,-1.1l.2,.1l.2,0l.2,-.7l.2,1.2l.2,-.6l.2,.5l.2,-.9l.2,-.2l.2,.4l.2,-.2l.2,1l.2,-1l.2,1.2l.2,-2.4l.2,.7l.2,1.8l.2,.7l.2,-2.8l.2,1.5l.1,-1.1l.2,1.3l.2,-1l.2,.5l.2,-1l.2,.7l.2,-1.3l.2,1.5l.2,-1.4l.2,.9l.2,-.4l.2,1.5l.2,.1l.2,-2l.2,1.6l.2,-.6l.2,0l.2,.5l.2,-.8l.2,1.2l.2,-.1l.2,-1.5l.1,1.3l.2,-1l.2,.1l.2,-.6l.2,.8l.2,1.6l.2,-.7l.2,-.1l.2,-1.1l.2,.7l.2,.6l.2,-.6l.2,.6l.2,-.6l.2,.3l.2,-.5l.2,.5l.2,-.4l.2,.7l.2,-.4l.2,.6l.2,-.5l.1,.3l.2,.2l.2,.2l.2,0l.2,-.5l.2,1.8l.2,-2.2l.2,2.2l.2,-1.3l.2,.1l.2,-.7l.2,.3l.2,.2l.2,-.1l.2,-.5l.2,-.8l.2,1.2l.2,1.5l.2,-1l.2,-.5l.2,-1.8l.2,2.5l.2,-.3l.1,-.5l.2,.1l.2,1l.2,-1.4l.2,1.4l.2,-.6l.2,-1l.2,1.6l.2,-.6l.2,-1.2l.2,1.2l.2,.4l.2,-.2l.2,-.9l.2,1.5l.2,-.6l.2,.5l.2,-.2l.2,-1.5l.2,.8l.2,.3l.2,-.6l.1,.7l.2,.3l.2,-1.4l.2,.1l.2,1.1l.2,-1l.2,-.4l.2,.6l.2,-.1l.2,1.1l.2,-.7l.2,1.1l.2,-1.9l.2,.8l.2,-.9l.2,1.3l.2,-1l.2,1.5l.2,-.7l.2,-.6l.2,.1l.2,.2l.2,1l.1,-1.8l.2,.4l.2,-.3l.2,0l.2,.9l.2,-.5l.2,-1.4l.2,2.2l.2,-.8l.2,.6l.2,-1.5l.2,1l.2,.8l.2,-.3l.2,.5l.2,.5l.2,.3l.2,-1.3l.2,.3l.2,-.9l.2,.7l.2,-.7l.1,-1l.2,1.9l.2,0l.2,-1.5l.2,-.9l.2,2.1l.2,.5l.2,-.9l.2,.1l.2,-.8l.2,1.1l.2,-.5l.2,0l.2,.8l.2,0l.2,-1.4l.2,-.1l.2,.9l.2,-1.6l.2,.4l.2,.3l.2,-.2l.1,.2l.2,-.3l.2,-.2l.2,.5l.2,1.4l.2,-1.3l.2,.4l.2,.2l.2,-1.3l.2,1.6l.2,-1.9l.2,.9l.2,.4l.2,-.4l.2,-2.4l.2,.5l.2,1.2l.2,-1.1l.2,-.7l.2,1.8l.2,-.6l.2,-1.1l.2,.1l.1,.4l.2,-1.8l.2,.5l.2,-.6l.2,-1.6l.2,1l.2,-2.3l.2,1.3l.2,-.3l.2,-1.1l.2,-1.7l.2,-1l.2,-1.2l.2,-.1l.2,-2.6M238.3,1251.6h0M238.5,1246.7h0M238.7,1240.5h0M238.9,1236.4h0M239.1,1218.9h0M239.3,1191.9h0M239.5,1142.6h0M239.6,1064.4h0M239.8,962.3h0M240,854.5h0M240.2,784.1h0M240.4,796.5h0M240.6,849.5h0M240.8,896.3h0M241,945.9h0M241.2,1013.3h0M241.4,1082.2h0M241.6,1146.6h0M241.8,1191.2h0M242,1218.2h0M242.2,1231.6h0M242.4,1242.2h0M242.6,1248.1h0M242.8,1252h0l.2,2.1l.2,2.3M243.4,1260h0l.2,.4l.2,1.5l.1,.2l.2,1l.2,2.3l.2,-2l.2,1.3l.2,2l.2,-1.9l.2,1.1l.2,.1l.2,.6l.2,.1l.2,.7l.2,1.1l.2,-.6l.2,-.4l.2,.2l.2,-.3l.2,.6l.2,1.7l.2,-2l.2,1.1l.2,.5l.2,-.6l.1,.8l.2,-1.2l.2,1l.2,-1.9l.2,1.5l.2,.3l.2,.1l.2,1.1l.2,-.9l.2,0l.2,-.2l.2,1.2l.2,-1.4l.2,-.8l.2,1.1l.2,-.2l.2,-.3l.2,.9l.2,-.2l.2,-.9l.2,.5l.2,.9l.1,.4l.2,-2.6l.2,1.2l.2,1.3l.2,-1.1l.2,-.3l.2,.4l.2,1.2l.2,-2.3l.2,.8l.2,.5l.2,-.5l.2,.6l.2,0l.2,-.7l.2,1.8l.2,-1.9l.2,.4l.2,-.2l.2,-.1l.2,-.4l.2,.1l.2,.3l.1,.8l.2,-.6l.2,.7l.2,.3l.2,-.9l.2,.1l.2,-.5l.2,2.1l.2,-1.7l.2,-.1l.2,.4l.2,-.9l.2,1.5l.2,-.7l.2,.4l.2,-.2l.2,.6l.2,-.5l.2,-.5l.2,.3l.2,-.1l.2,.7l.1,-1.5l.2,1.4l.2,-.4l.2,-.3l.2,.4l.2,-.5l.2,.3l.2,-.9l.2,.7l.2,.1l.2,.7l.2,-.7l.2,-.4l.2,.4l.2,.8l.2,-.2l.2,-.2l.2,-.2l.2,.9l.2,-2l.2,1.2l.2,-.1l.1,.3l.2,-.2l.2,-1.2l.2,1.7l.2,-.2l.2,.3l.2,-.3l.2,-1.2l.2,1.3l.2,-.1l.2,.8l.2,-.9l.2,-.3l.2,.4l.2,-.1l.2,-.7l.2,.2l.2,.4l.2,.4l.2,.4l.2,-1.9l.2,1.9l.2,-1.3l.1,.5l.2,.4l.2,-1l.2,1l.2,-1.2l.2,1.3l.2,-.9l.2,-.4l.2,1.3l.2,-1.8l.2,.7l.2,1.8l.2,-2.1l.2,-.3l.2,1.3l.2,0l.2,-.4l.2,1.4l.2,-1.2l.2,-.5l.2,.9l.2,-1l.1,-.6l.2,2.4l.2,-.1l.2,-.6l.2,-.8l.2,.1l.2,.8l.2,.1l.2,-.2l.2,-1.4l.2,1.5l.2,-.2l.2,-.9l.2,.7l.2,.4l.2,-1.4l.2,.7l.2,.6l.2,-.2l.2,-.8l.2,.8l.2,-.4l.2,-.3l.1,-.1l.2,1.6l.2,-.7l.2,-.1l.2,-.3l.2,-.4l.2,-.2l.2,.9l.2,.4l.2,-.7l.2,.4l.2,-1.3l.2,.8l.2,.1l.2,-.5l.2,.9l.2,-.1l.2,-.1l.2,-.5l.2,-.4l.2,.3l.2,0l.1,.6l.2,-.3l.2,.3l.2,-.8l.2,1l.2,-.3l.2,-.2l.2,-.3l.2,.9l.2,-.3l.2,.3l.2,.3l.2,-1.3l.2,.3l.2,1.1l.2,-.3l.2,-.8l.2,.6l.2,.3l.2,-1.3l.2,1l.2,-.1l.1,-.5l.2,.7l.2,-.4l.2,-.1l.2,-.3l.2,.8l.2,-1l.2,.4l.2,-.8l.2,.9l.2,.4l.2,0l.2,.3l.2,-.6l.2,0l.2,-.5l.2,.4l.2,.6l.2,-1.1l.2,.8l.2,-.4l.2,-.6l.2,.1l.1,1.1l.2,-.3l.2,-.9l.2,.2l.2,.3l.2,-.2l.2,1.7l.2,-1l.2,.6l.2,-.5l.2,-.1l.2,-.5l.2,-.4l.2,.2l.2,.3l.2,.3l.2,-1l.2,.5l.2,1.1l.2,-1.1l.2,-.4l.2,1l.1,-.7l.2,-.7l.2,1l.2,0l.2,0l.2,.6l.2,-.2l.2,.3l.2,-.4l.2,.4l.2,-1.1l.2,.7l.2,-.6l.2,1.2l.2,-.7l.2,-.3l.2,-.1l.2,.8l.2,-.3l.2,-.2l.2,.3l.2,0l.1,-.5l.2,1l.2,.3l.2,-.7l.2,-.5l.2,1.5l.2,-2.1l.2,.7l.2,-.3l.2,.8l.2,-.4l.2,-1.1l.2,-.1l.2,.7l.2,.6l.2,-.1l.2,-.9l.2,1.2l.2,.1l.2,-.5l.2,-.6l.2,1.2l.2,-.9l.1,0l.2,.1l.2,.2l.2,-.7l.2,.2l.2,1.2l.2,-1.9l.2,.7l.2,0l.2,.4l.2,-.1l.2,1.3l.2,-1.4l.2,-.6l.2,0l.2,.7l.2,1l.2,-.9l.2,-.6l.2,-1.1l.2,1.7l.2,-1.2l.1,-.6l.2,-.2l.2,.2l.2,1.5l.2,-2.8l.2,-.2l.2,-1l.2,.2l.2,-1.8M311.4,1259.8h0M311.6,1256.8h0M311.8,1248.8h0M312,1236.5h0M312.2,1215.3h0M312.4,1196.7h0M312.6,1177.6h0M312.8,1173.5h0M313,1184.7h0M313.2,1195.7h0M313.4,1203.6h0l.2,2.7M313.8,1215.2h0M314,1226.8h0M314.1,1239.1h0M314.3,1251.4h0M314.5,1255.7h0M314.7,1262h0l.2,.9l.2,1.2l.2,1.3l.2,1.2l.2,1.1l.2,1.4l.2,-1.5l.2,.7l.2,-1l.2,1.5l.2,-.5l.2,.8l.2,-.4l.2,.6l.2,-.1l.2,1.2l.2,-.7l.2,-.3l.1,-.8l.2,.7l.2,.9l.2,-1.7l.2,.8l.2,-.4l.2,1.2l.2,1.5l.2,-1.5l.2,.2l.2,-.8l.2,1.1l.2,-.4l.2,.3l.2,-.8l.2,.6l.2,-1.3l.2,.3l.2,0l.2,.6l.2,-.2l.2,-.4l.1,1l.2,-1.2l.2,.8l.2,-.8l.2,-.5l.2,.4l.2,1.5l.2,-1.3l.2,.9l.2,0l.2,-.1l.2,.6l.2,-.8l.2,.5l.2,-1l.2,.4l.2,1.7l.2,-.9l.2,0l.2,-.2l.2,0l.2,-.5l.2,.2l.1,.6l.2,-.9l.2,-.3l.2,.5l.2,-.6l.2,.4l.2,.6l.2,-.1l.2,-.2l.2,-.3l.2,.2l.2,-.5l.2,-.1l.2,1.2l.2,.1l.2,-.6l.2,-.3l.2,-.2l.2,.1l.2,0l.2,.9l.2,-.7l.1,.5l.2,-.5l.2,-.3l.2,.9l.2,-.3l.2,-1.5l.2,1.8l.2,-.1l.2,.3l.2,.2l.2,-1.3l.2,.9l.2,-.1l.2,.1l.2,1.1l.2,-1.9l.2,.7l.2,-.3l.2,-.7l.2,.8l.2,-.2l.2,0l.2,-.6l.1,1.4l.2,-.4l.2,.9l.2,-1.2l.2,-.3l.2,.5l.2,-1.3l.2,.6l.2,-.5l.2,.9l.2,-.9l.2,1.3l.2,-.5l.2,.1l.2,.3l.2,-1.1l.2,.2l.2,1.1l.2,-.8l.2,.3l.2,0l.2,-.2l.1,.6l.2,-.4l.2,-.1l.2,.5l.2,0l.2,-.8l.2,.5l.2,-1.3l.2,.1l.2,1.6l.2,-.6l.2,1.3l.2,-.7l.2,.1l.2,-.1l.2,.8l.2,-1.3l.2,.1l.2,.5l.2,-.4l.2,-.6l.2,-.3l.1,1.5l.2,-1.5l.2,1.8l.2,-.5l.2,-.3l.2,-1l.2,.5l.2,0l.2,-.5l.2,.7l.2,.4l.2,-1l.2,.9l.2,.5l.2,.3l.2,-1l.2,-1l.2,.6l.2,.4l.2,-.6l.2,1.4l.2,-1l.2,.5l.1,-1l.2,1.2l.2,-.9l.2,.3l.2,.1l.2,-.3l.2,.4l.2,-.8l.2,.9l.2,1l.2,-1.9l.2,0l.2,.5l.2,-.5l.2,.4l.2,.8l.2,.6l.2,-.5l.2,-.4l.2,-.4l.2,1l.2,-.3l.1,-1.3l.2,1.2l.2,0l.2,.1l.2,-1.3l.2,.4l.2,0l.2,-.4l.2,.3l.2,-.2l.2,.5l.2,-.2l.2,.1l.2,0l.2,1l.2,-.6l.2,.1l.2,.2l.2,-.3l.2,-1l.2,.4l.2,.5l.2,-.2l.1,-.5l.2,1.4l.2,-.9l.2,-.7l.2,0l.2,.4l.2,.2l.2,1.3l.2,-.6l.2,-.4l.2,-.2l.2,0l.2,1.4l.2,-.9l.2,-.4l.2,.5l.2,-.3l.2,-.4l.2,.1l.2,.1l.2,-.3l.2,-.2l.1,.7l.2,.5l.2,-.2l.2,-.2l.2,-.2l.2,.8l.2,-.4l.2,-.3l.2,-.9l.2,.5l.2,.3l.2,-.5l.2,.3l.2,0l.2,-.5l.2,.4l.2,.1l.2,-.3l.2,.7l.2,-.4l.2,1.2l.2,-.9l.1,-1.1l.2,1l.2,-.2l.2,.2l.2,.4l.2,-.9l.2,.3l.2,-.7l.2,1.1l.2,-.5l.2,.2l.2,.1l.2,-1l.2,1l.2,0l.2,-1.9l.2,1.4l.2,.1l.2,-.5l.2,.8l.2,-.8l.2,.8l.2,-.5l.1,0l.2,-1.2l.2,.3l.2,-.9l.2,0l.2,1.2l.2,-.9l.2,.4l.2,-.2l.2,-1.5l.2,-.5l.2,.3l.2,-.8l.2,-.8l.2,-1.2l.2,-1.7l.2,-1.9M374.4,1253.5h0M374.6,1245.2h0M374.8,1230.2h0M375,1206.8h0M375.2,1180.2h0M375.3,1159h0l.2,-1.8M375.7,1172h0M375.9,1190.9h0M376.1,1200.5h0l.2,2.7l.2,-.5M376.7,1208.9h0M376.9,1218.5h0M377.1,1233.8h0M377.3,1245.8h0M377.5,1254.7h0M377.7,1260.1h0l.2,2M378.1,1265.4h0l.2,.5l.2,.6l.2,0l.2,1l.2,-.7l.2,2.3l.2,-1.8l.1,.9l.2,-.2l.2,1l.2,-.7l.2,.9l.2,-.3l.2,1.1l.2,-1.1l.2,.3l.2,1.2l.2,-.9l.2,.1l.2,-.6l.2,.9l.2,-.4l.2,-.6l.2,1.2l.2,-1.5l.2,1l.2,.2l.2,.7l.2,.2l.2,-1.4l.1,.8l.2,.1l.2,-.9l.2,.2l.2,.3l.2,.9l.2,.2l.2,-1.5l.2,.5l.2,.2l.2,-1.2l.2,1.3l.2,-.4l.2,-1l.2,.8l.2,.7l.2,.1l.2,-1.1l.2,1.3l.2,-1.1l.2,-.4l.2,.9l.1,-.4l.2,.4l.2,-.7l.2,.6l.2,.5l.2,-.6l.2,.1l.2,.5l.2,-.2l.2,.5l.2,-.2l.2,-.8l.2,1.3l.2,-1.1l.2,.1l.2,.4l.2,-1.1l.2,.4l.2,.7l.2,-.4l.2,-.4l.2,1.3l.2,-.9l.1,.2l.2,-.3l.2,-.9l.2,1.4l.2,-.1l.2,.4l.2,-.7l.2,-.2l.2,1.6l.2,-2.1l.2,0l.2,2.2l.2,-.6l.2,-1l.2,.2l.2,-.6l.2,.7l.2,-.8l.2,1.4l.2,-.9l.2,.4l.2,0l.1,.7l.2,-.7l.2,-.9l.2,1l.2,-.2l.2,-.2l.2,.6l.2,-.6l.2,-.2l.2,.4l.2,.9l.2,-1.8l.2,.8l.2,0l.2,.1l.2,.2l.2,.6l.2,-.9l.2,-.1l.2,-.4l.2,-.3l.2,1.2l.1,-1.2l.2,.8l.2,-.3l.2,.8l.2,-.7l.2,.7l.2,-.8l.2,.9l.2,-.6l.2,.2l.2,-.4l.2,.1l.2,0l.2,.4l.2,-.7l.2,.1l.2,.7l.2,-.8l.2,.7l.2,-.3l.2,.1l.2,0l.2,-.5l.1,1.3l.2,-1.5l.2,1.5l.2,-1.5l.2,.3l.2,1.1l.2,-1l.2,.4l.2,.4l.2,-1.2l.2,.1l.2,.3l.2,-.6l.2,.7l.2,.2l.2,-.7l.2,1l.2,-.8l.2,-.2l.2,.5l.2,.1l.2,-.2l.1,.1l.2,.5l.2,1.4l.2,-1.5l.2,.4l.2,-1.2l.2,.7l.2,-.3l.2,-.3l.2,-.1l.2,1l.2,-1.6l.2,.6l.2,.2l.2,.8l.2,-1.5l.2,.7l.2,-.3l.2,.8l.2,-1.1l.2,.2l.2,.8l.2,-1.1l.1,1.5l.2,-.9l.2,.1l.2,0l.2,.7l.2,-.2l.2,-.7l.2,0l.2,.5l.2,.1l.2,.2l.2,-1l.2,.8l.2,.2l.2,.6l.2,0l.2,-.4l.2,.4l.2,-.9l.2,-.1l.2,.4l.2,-.2l.1,-.2l.2,.9l.2,-1.3l.2,1.8l.2,-2.4l.2,1.8l.2,-.7l.2,.2l.2,-.4l.2,.6l.2,-.6l.2,1l.2,-1.1l.2,.5l.2,-.3l.2,-.4l.2,1.1l.2,-.3l.2,.1l.2,-.3l.2,-.1l.2,-.3l.1,.2l.2,.2l.2,-.3l.2,-.3l.2,0l.2,-.5l.2,1.3l.2,-.4l.2,.8l.2,-.4l.2,-.6l.2,-.3l.2,.8l.2,-.5l.2,.2l.2,-.2l.2,.1l.2,.4l.2,.9l.2,-.4l.2,-1l.2,.2l.2,-1.1l.1,1l.2,-.5l.2,1.1l.2,.1l.2,-.9l.2,-.8l.2,.6l.2,.3l.2,-.5l.2,-.2l.2,-.1l.2,.1l.2,.4l.2,-.3l.2,-.9l.2,-1.1l.2,-.9M431.3,1261.5h0M431.5,1257.7h0M431.7,1252.7h0M431.9,1245.7h0M432.1,1241.1h0M432.2,1244.8h0M432.4,1249.6h0M432.6,1253.3h0M432.8,1257.4h0l.2,-.5l.2,-.9l.2,-1.4M433.6,1258.5h0l.2,1.7M434,1263.8h0l.2,2.2l.2,1.7l.2,-.3l.2,1.8l.2,.5l.2,-.6l.2,.6l.2,-.4l.2,.3l.2,.1l.2,0l.2,1l.2,.2l.1,-2l.2,1.6l.2,-.8l.2,.8l.2,-.5l.2,.1l.2,-.8l.2,.8l.2,.7l.2,0l.2,-.9l.2,-.2l.2,-.6l.2,0l.2,1.7l.2,-.6l.2,.5l.2,-.7l.2,-.3l.2,1.3l.2,-1.3l.2,.1l.1,.5l.2,.2l.2,-1.1l.2,.8l.2,.5l.2,-.6l.2,-.4l.2,.1l.2,1.3l.2,-.3l.2,-.4l.2,-.3l.2,0l.2,.7l.2,-1l.2,.2l.2,1l.2,-.3l.2,-.4l.2,.6l.2,-.7l.2,-.1l.1,.3l.2,-.5l.2,-.6l.2,1.2l.2,-.5l.2,.4l.2,-.9l.2,.1l.2,.6l.2,.3l.2,-.7l.2,.5l.2,.5l.2,-.1l.2,-.4l.2,-1.1l.2,.5l.2,-.1l.2,.2l.2,-.2l.2,-.1l.2,1.3l.2,-.9l.1,0l.2,.1l.2,0l.2,1.4l.2,-1.3l.2,.8l.2,-1.1l.2,.7l.2,-.1l.2,-.1l.2,.9l.2,-.9l.2,.5l.2,-1l.2,.7l.2,.3l.2,-1.2l.2,.8l.2,.3l.2,-.4l.2,0l.2,-.2l.1,.6l.2,-1l.2,.4l.2,-.6l.2,.5l.2,.7l.2,-1l.2,.7l.2,-.2l.2,1.2l.2,-.6l.2,-1.2l.2,.1l.2,1.4l.2,-1l.2,0l.2,-.5l.2,1.2l.2,.3l.2,-1l.2,.4l.2,0l.1,.2l.2,-1.1l.2,1l.2,-.8l.2,.1l.2,.6l.2,-.7l.2,-.2l.2,.5l.2,.2l.2,-.4l.2,.7l.2,-.6l.2,-.5l.2,1.4l.2,.2l.2,-1.2l.2,.7l.2,-.2l.2,-.2l.2,.3l.2,-.3l.2,.5l.1,-.2l.2,-.2l.2,-.3l.2,.4l.2,-.3l.2,-.2l.2,.1l.2,.3l.2,-.7l.2,1l.2,-.9l.2,0l.2,.1l.2,.7l.2,-.7l.2,.2l.2,.7l.2,-.3l.2,.4l.2,-.8l.2,-.5l.2,.3l.1,.9l.2,0l.2,-.4l.2,0l.2,-.5l.2,.5l.2,-.7l.2,.8l.2,-.7l.2,1.2l.2,-.5l.2,-.2l.2,-.4l.2,.1l.2,.7l.2,.2l.2,-.6l.2,0l.2,.1l.2,-.1l.2,.6l.2,-.9l.2,-.2l.1,.9l.2,-.1l.2,-1l.2,.1l.2,.9l.2,-.1l.2,.5l.2,-1l.2,.1l.2,.1l.2,-1.1l.2,1.1l.2,0l.2,-.2l.2,.2l.2,-.6l.2,.6l.2,-.2l.2,-1l.2,1.4l.2,.2l.2,-.6l.1,.3l.2,0l.2,-.4l.2,-.3l.2,1.1l.2,-.7l.2,.9l.2,-1.5l.2,1l.2,-.9l.2,-.6l.2,.2l.2,.4l.2,1.2l.2,-2l.2,1.1l.2,-.7l.2,.6l.2,-.2l.2,-1l.2,1.6l.2,-.3l.1,-.6l.2,-.9l.2,1.8l.2,-2.3l.2,.8l.2,-.9l.2,-1.4l.2,.9l.2,-.8l.2,-.7l.2,.3l.2,-1.1l.2,-.9l.2,-1.8l.2,-2.1M483.3,1255.8h0M483.5,1248h0M483.7,1233.2h0M483.9,1213.9h0M484.1,1184.5h0M484.3,1154.2h0M484.5,1141.5h0M484.7,1149.6h0M484.8,1170.4h0M485,1196.2h0M485.2,1211.3h0l.2,2.5M485.6,1208.8h0M485.8,1201.7h0l.2,-2M486.2,1210.3h0M486.4,1224.6h0M486.6,1238.7h0M486.8,1249.2h0M487,1256.4h0M487.2,1259.9h0M487.4,1263.5h0l.2,.7l.2,1.4l.2,1.5l.2,-.3l.2,.4l.2,.2l.2,.4l.2,.4l.1,.8l.2,-.2l.2,-.1l.2,-.1l.2,.1l.2,.3l.2,-.1l.2,-.3l.2,.7l.2,.4l.2,.6l.2,-.7l.2,-.3l.2,.6l.2,-.9l.2,1.2l.2,-.2l.2,-.2l.2,.7l.2,-1.1l.2,.9l.2,.2l.2,.3l.1,-1.3l.2,-.1l.2,1.1l.2,.2l.2,-.4l.2,-.2l.2,.2l.2,-.5l.2,.8l.2,-1.5l.2,.8l.2,-.3l.2,.7l.2,-.6l.2,-.3l.2,1.1l.2,-.4l.2,-.4l.2,.3l.2,.6l.2,-.2l.2,-.5l.1,.1l.2,.5l.2,-.5l.2,1.2l.2,-1l.2,-.4l.2,0l.2,.6l.2,-.3l.2,0l.2,.2l.2,.3l.2,.3l.2,-.4l.2,.3l.2,.5l.2,-1.5l.2,1.2l.2,-.4l.2,0l.2,.6l.2,-1l.1,1l.2,-1.6l.2,1.4l.2,-.2l.2,-.3l.2,0l.2,-.1l.2,-.5l.2,-.1l.2,-.5l.2,1.5l.2,-1l.2,.2l.2,.4l.2,.5l.2,-1.7l.2,.5l.2,1.4l.2,-1.5l.2,.5l.2,.1l.2,-.3l.2,.7l.1,-.3l.2,-.4l.2,.9l.2,.1l.2,.2l.2,-1.1l.2,.8l.2,-.3l.2,0l.2,-.5l.2,.1l.2,.6l.2,-1l.2,.4l.2,.1l.2,.3l.2,0l.2,-.1l.2,-.1l.2,-.2l.2,0l.2,.3l.1,0l.2,-.4l.2,-.2l.2,0l.2,.5l.2,.6l.2,-.6l.2,0l.2,0l.2,-.2l.2,.5l.2,-.3l.2,1.1l.2,-1.8l.2,.7l.2,.2l.2,-.4l.2,.4l.2,.2l.2,-.7l.2,.3l.2,.4l.1,-.7l.2,.2l.2,0l.2,.3l.2,-.6l.2,.9l.2,-.8l.2,-.3l.2,1.1l.2,-.5l.2,.9l.2,-.9l.2,.8l.2,-.1l.2,-.7l.2,-.4l.2,.2l.2,.4l.2,.2l.2,-.3l.2,-1.1l.2,.4l.2,1.3l.1,-.3l.2,.3l.2,-.9l.2,.4l.2,.5l.2,-.7l.2,.1l.2,.2l.2,-.3l.2,-.6l.2,.9l.2,-.2l.2,.5l.2,-.4l.2,-.9l.2,.4l.2,.6l.2,-.1l.2,-.8l.2,.7l.2,.2l.2,-.8l.1,.7l.2,.2l.2,-.5l.2,.7l.2,-.3l.2,.1l.2,-.4l.2,.1l.2,-.8l.2,.5l.2,.2l.2,-.2l.2,.4l.2,-.3l.2,-.1l.2,.1l.2,-.5l.2,.4l.2,.6l.2,-.5l.2,.6l.2,-1.3l.2,1.7l.1,-.8l.2,-.3l.2,.7l.2,-.2l.2,-.7l.2,1l.2,-.9l.2,.5l.2,0l.2,-1l.2,.5l.2,.2l.2,.3l.2,-.2l.2,.2l.2,-.9l.2,.7l.2,.4l.2,-.1l.2,-.4l.2,.7l.2,-.2l.1,.4l.2,.3l.2,-2l.2,1.1l.2,-.9l.2,.5l.2,.2l.2,.5l.2,-.4l.2,-.1l.2,.5l.2,-.7l.2,-.3l.2,.4l.2,.1l.2,.8l.2,-1.9l.2,.9l.2,.8l.2,0l.2,-.2l.2,.1l.1,-.4l.2,.3l.2,-.4l.2,.3l.2,-.1l.2,.4l.2,-.6l.2,0l.2,.4l.2,.4l.2,-.7l.2,.8l.2,-.5l.2,-.5l.2,-.3l.2,.6l.2,-.2l.2,-.5l.2,1l.2,-.2l.2,-.3l.2,-.5l.2,1.1l.1,0l.2,-.9l.2,-.1l.2,.8l.2,-.3l.2,-.4l.2,.5l.2,.7l.2,-.9l.2,-.3l.2,1l.2,-1.1l.2,.7l.2,.6l.2,-.9l.2,.8l.2,-1.3l.2,.4l.2,-.5l.2,1.4l.2,-.7l.2,-.6l.1,.1l.2,.3l.2,.1l.2,-.1l.2,-.2l.2,-.3l.2,1.5l.2,-.3l.2,-.2l.2,-.4l.2,0l.2,.3l.2,-.1l.2,-.4l.2,-.2l.2,.9l.2,-.3l.2,-.1l.2,-1l.2,1.3l.2,-.4l.2,.1l.2,.2l.1,-.6l.2,.5l.2,.1l.2,-.2l.2,-.1l.2,.4l.2,.1l.2,-.8l.2,.7l.2,-.6l.2,.4l.2,.3l.2,.1l.2,.3l.2,-1l.2,0l.2,.4l.2,.3l.2,-.2l.2,-.3l.2,-.5l.2,.9l.1,.4l.2,-.8l.2,.2l.2,.2l.2,.5l.2,-1.1l.2,-.3l.2,1l.2,.2l.2,-.4l.2,-.1l.2,-.3l.2,.2l.2,.7l.2,-.8l.2,0l.2,.3l.2,-.3l.2,.7l.2,-.4l.2,.4l.2,-.6l.1,-.3l.2,1.1l.2,-.8l.2,-.3l.2,.2l.2,-.6l.2,.7l.2,-.9l.2,.9l.2,.5l.2,-.4l.2,.2l.2,-.8l.2,-.2l.2,0l.2,.4l.2,.3l.2,.2l.2,.3l.2,-.8l.2,.8l.2,-.4l.2,-.2l.1,-.1l.2,.8l.2,-.1l.2,0l.2,-.9l.2,.9l.2,-.1l.2,-.7l.2,-.1l.2,-.4l.2,.8l.2,-.4l.2,1.1l.2,-1l.2,-.1l.2,-.1l.2,.6l.2,-.8l.2,0l.2,.6l.2,0l.2,.2l.1,0l.2,-.2l.2,.6l.2,0l.2,-.5l.2,.1l.2,-.6l.2,.5l.2,.3l.2,.4l.2,-.6l.2,.3l.2,.3l.2,-1.6l.2,1.6l.2,-1.5l.2,-.6l.2,1.2l.2,.3l.2,-.5l.2,.6l.2,-.4l.2,-.3l.1,.9l.2,-1.2l.2,.6l.2,-.1l.2,-.5l.2,1.2l.2,-.1l.2,-.7l.2,0l.2,.2l.2,0l.2,0l.2,.3l.2,.1l.2,-.2l.2,-.4l.2,-.2l.2,.7l.2,-1.3l.2,-.4l.2,.9l.2,.4l.1,-.3l.2,-.5l.2,.3l.2,-1l.2,.9l.2,-.8l.2,.1l.2,-1.1l.2,.6l.2,-.4l.2,.1l.2,-1.2l.2,-.9M579.3,1260.8h0l.2,-2.8M579.7,1250.9h0M579.9,1241h0M580.1,1230.4h0M580.3,1223.5h0M580.5,1227h0M580.7,1232.8h0M580.9,1243.5h0M581,1251.3h0M581.2,1254.3h0l.2,1.7l.2,-1.6M581.8,1250.4h0M582,1245.6h0l.2,.2M582.4,1249.4h0M582.6,1255.7h0M582.8,1259.8h0M583,1263.9h0l.2,2.5l.2,.3l.2,1.3l.2,.8l.2,-.3l.2,-.2l.2,1.8l.2,-1l.2,.4l.2,.3l.2,-.6l.2,.3l.1,.6l.2,-.7l.2,.7l.2,0l.2,.6l.2,-.6l.2,-.2l.2,.4l.2,-.1l.2,-.5l.2,.6l.2,.2l.2,-.9l.2,1l.2,.7l.2,-.4l.2,-.5l.2,.5l.2,-.1l.2,-.2l.2,-.2l.2,.1l.1,-.1l.2,-.5l.2,-.9l.2,.9l.2,.2l.2,.6l.2,-.3l.2,.5l.2,-.5l.2,.5l.2,-.9l.2,-.4l.2,.4l.2,-.7l.2,1.6l.2,-.8l.2,.4l.2,-.1l.2,.5l.2,-.4l.2,0l.2,.2l.1,-.7l.2,.2l.2,-.2l.2,.7l.2,0l.2,.2l.2,-.8l.2,0l.2,.4l.2,.3l.2,-.4l.2,-.1l.2,0l.2,.3l.2,-.6l.2,0l.2,.8l.2,-.4l.2,.1l.2,.5l.2,-.3l.2,-.3l.2,-.4l.1,.8l.2,-.1l.2,-.1l.2,.1l.2,.4l.2,-.9l.2,.4l.2,-.3l.2,-.1l.2,.5l.2,.2l.2,-.1l.2,-.1l.2,.1l.2,-.2l.2,.5l.2,-.4l.2,.1l.2,-.4l.2,-.1l.2,-.5l.2,.2l.1,.2l.2,.3l.2,0l.2,-.1l.2,.2l.2,-.1l.2,.3l.2,-.4l.2,.5l.2,-.2l.2,0l.2,-1.2l.2,1l.2,-.4l.2,.9l.2,-.7l.2,.3l.2,-.5l.2,.6l.2,.3l.2,-.8l.2,.3l.2,.5l.1,-.5l.2,.4l.2,-.7l.2,.3l.2,-.1l.2,.5l.2,-.9l.2,.7l.2,-.3l.2,.2l.2,-.1l.2,.5l.2,-.5l.2,-.1l.2,.6l.2,-.9l.2,.8l.2,-.2l.2,.1l.2,-.7l.2,.6l.2,0l.1,-.3l.2,.1l.2,-.4l.2,.6l.2,0l.2,.1l.2,0l.2,-.6l.2,.1l.2,.3l.2,-.1l.2,.8l.2,-1.2l.2,.1l.2,1l.2,-.6l.2,-.2l.2,-.6l.2,.5l.2,-.3l.2,-.2l.2,.4l.1,.6l.2,.2l.2,-.5l.2,-.4l.2,.2l.2,.7l.2,-.8l.2,.6l.2,-.2l.2,-.5l.2,.3l.2,.3l.2,.1l.2,-.3l.2,-.1l.2,.2l.2,.2l.2,-.5l.2,-.1l.2,.7l.2,-.7l.2,.5l.2,-.1l.1,-.5l.2,.9l.2,-.5l.2,-.7l.2,.1l.2,.8l.2,.2l.2,-1l.2,.4l.2,0l.2,.7l.2,-.7l.2,.7l.2,-.6l.2,-.8l.2,.2l.2,-.2l.2,.5l.2,-.2l.2,.3l.2,-1.2l.2,.9l.1,.1l.2,-1.1l.2,-1.7l.2,-.9l.2,-2.6l.2,-1.5l.2,-2.1l.2,.6l.2,1.7l.2,1.9l.2,1.5l.2,.6l.2,1.1l.2,.6l.2,-.8l.2,-.8l.2,-1.5l.2,.4l.2,.5l.2,1.7l.2,-.2l.2,1.7l.2,.1l.1,.8l.2,-.9l.2,1.6l.2,-.7l.2,-.3l.2,.6l.2,-.4l.2,.5l.2,-.5l.2,.5l.2,-.7l.2,1.3l.2,-.9l.2,.5l.2,0l.2,-.4l.2,.5l.2,0l.2,-.5l.2,.7l.2,-.3l.2,-.5l.1,.7l.2,-.8l.2,.9l.2,-.5l.2,.1l.2,.6l.2,-.9l.2,.9l.2,-1.1l.2,-.1l.2,.9l.2,-.3l.2,.1l.2,.5l.2,-.2l.2,-.3l.2,0l.2,-.5l.2,.6l.2,.1l.2,-.5l.2,0l.1,.3l.2,-.1l.2,.3l.2,-.2l.2,.8l.2,-.2l.2,-1l.2,.6l.2,.2l.2,-.6l.2,-.6l.2,.4l.2,.2l.2,.2l.2,-.7l.2,0l.2,.6l.2,.2l.2,-.2l.2,-.2l.2,.3l.2,.1l.2,.1l.1,.3l.2,-.4l.2,-.2l.2,.6l.2,-.2l.2,-.7l.2,.7l.2,-.5l.2,.6l.2,.3l.2,-.8l.2,-.1l.2,.1l.2,.1l.2,-.5l.2,.6l.2,.2l.2,-.4l.2,-.3l.2,.3l.2,-.3l.2,-.2l.1,.9l.2,-.2l.2,0l.2,-.3l.2,.8l.2,-.9l.2,.8l.2,-.6l.2,.2l.2,.1l.2,-.4l.2,.7l.2,-.7l.2,.3l.2,.4l.2,-.8l.2,.8l.2,-.7l.2,.4l.2,0l.2,-.7l.2,.4l.2,.2l.1,-.4l.2,.5l.2,-.8l.2,.9l.2,-.5l.2,.4l.2,-.4l.2,.5l.2,-.2l.2,-.3l.2,.7l.2,-.4l.2,-.2l.2,.3l.2,0l.2,-.4l.2,-.1l.2,.9l.2,-.2l.2,.6l.2,-.9l.2,-.3l.1,.6l.2,.1l.2,-.6l.2,.3l.2,-.9l.2,.2l.2,1.2l.2,-.9l.2,0l.2,0l.2,.3l.2,.5l.2,-.6l.2,.2l.2,-.8l.2,.4l.2,-.2l.2,.8l.2,-.4l.2,.1l.2,.3l.2,-.2l.1,.4l.2,-.6l.2,.4l.2,-.4l.2,-.1l.2,.2l.2,.2l.2,-.6l.2,.1l.2,.4l.2,-.5l.2,1.3l.2,-1l.2,-.2l.2,.2l.2,.6l.2,-.6l.2,-.4l.2,.3l.2,.6l.2,-.6l.2,-.6l.2,.2l.1,-.1l.2,.5l.2,-.3l.2,.3l.2,0l.2,.3l.2,-.4l.2,-.4l.2,.3l.2,.7l.2,-.9l.2,.6l.2,-.7l.2,.5l.2,-1l.2,.6l.2,-.6l.2,.8l.2,-.6l.2,-.3l.2,.3l.2,-.7l.1,-.7l.2,-1.5l.2,-2.1l.2,-2.5M669.4,1255.5h0M669.6,1249.5h0M669.8,1244.5h0M670,1241.1h0M670.2,1244.7h0M670.4,1250.7h0M670.6,1257.1h0M670.8,1262.3h0l.2,1.1l.2,.6l.2,-.3l.2,-1.9M671.8,1258.4h0l.2,-.9l.2,-2.4l.2,.6M672.6,1259.9h0l.2,2.2M672.9,1265.8h0l.2,1.9l.2,1.6l.2,-.4l.2,.2l.2,.3l.2,.3l.2,0l.2,.4l.2,.7l.2,-.7l.2,-.1l.2,-.8l.2,1.3l.2,-.2l.2,.7l.2,.1l.2,-.3l.2,-.9l.2,.5l.2,0l.2,.3l.2,-.3l.1,-.2l.2,.1l.2,.3l.2,-.1l.2,-.1l.2,-.1l.2,.1l.2,.3l.2,.4l.2,-.6l.2,.1l.2,0l.2,.2l.2,.2l.2,-.8l.2,.7l.2,-.3l.2,.2l.2,.3l.2,-.7l.2,.8l.2,-.5l.1,.1l.2,-.1l.2,.3l.2,-.7l.2,-.1l.2,.2l.2,.4l.2,.3l.2,-1.1l.2,1.4l.2,-.3l.2,-.5l.2,-.1l.2,.6l.2,-.6l.2,.7l.2,-.8l.2,.1l.2,.2l.2,-.4l.2,.3l.2,.9l.2,-1.1l.1,.2l.2,-.3l.2,.5l.2,-.4l.2,.4l.2,-.3l.2,-.1l.2,.5l.2,0l.2,-.2l.2,-.3l.2,.1l.2,.1l.2,-.2l.2,.1l.2,.5l.2,-.8l.2,0l.2,.1l.2,1l.2,-1l.2,.8l.1,-.4l.2,0l.2,-.6l.2,.2l.2,.4l.2,-.2l.2,.4l.2,.2l.2,-.6l.2,-.1l.2,.3l.2,-.6l.2,0l.2,.7l.2,-.2l.2,-.1l.2,.8l.2,-1l.2,0l.2,.2l.2,.2l.2,.1l.1,-.6l.2,.7l.2,-.4l.2,.2l.2,-.5l.2,0l.2,.4l.2,.1l.2,.4l.2,-.1l.2,-.4l.2,-.1l.2,.2l.2,.4l.2,-.1l.2,.7l.2,-.9l.2,.8l.2,-.2l.2,-.3l.2,-.7l.2,.7l.2,-.6l.1,-.4l.2,.4l.2,.1l.2,.6l.2,-.3l.2,.4l.2,-.8l.2,.1l.2,-.3l.2,.4l.2,-.1l.2,.4l.2,-.5l.2,-.3l.2,.2l.2,-.1l.2,.2l.2,-.1l.2,.2l.2,.4l.2,-.3l.2,-.3l.1,.2l.2,.1l.2,.3l.2,-.5l.2,.3l.2,-.1l.2,-.3l.2,-.1l.2,.6l.2,-.1l.2,-.4l.2,.4l.2,-.7l.2,.3l.2,.3l.2,.4l.2,-.7l.2,.2l.2,.6l.2,-.2l.2,-.2l.2,-.3l.2,.9l.1,-.7l.2,-.1l.2,-.7l.2,.7l.2,0l.2,.1l.2,-.1l.2,-.1l.2,.2l.2,-.2l.2,-.5l.2,.7l.2,-.3l.2,-.5l.2,.9l.2,-.3l.2,.1l.2,-.6l.2,-.2l.2,.1l.2,-.2l.2,-.5l.1,-1.1l.2,-1.8l.2,-1.4l.2,-2.1l.2,-1l.2,1.8l.2,.7l.2,1.9l.2,1.9l.2,1.7l.2,-.1l.2,-.7l.2,.7l.2,-1.8l.2,.1l.2,-1.2l.2,.1l.2,.3l.2,.5l.2,1.5l.2,.3l.2,.6l.1,-.2l.2,.8l.2,-1l.2,.2l.2,1.1l.2,0l.2,-.2l.2,-.3l.2,-.1l.2,0l.2,0l.2,.3l.2,.4l.2,-.1l.2,-.2l.2,.2l.2,-1.1l.2,1l.2,-.6l.2,.2l.2,.5l.2,.2l.2,-.4l.1,-.2l.2,.2l.2,-.4l.2,.5l.2,.1l.2,-.3l.2,-.6l.2,.4l.2,-.4l.2,.8l.2,-.5l.2,.2l.2,-.7l.2,1l.2,-.2l.2,.3l.2,.1l.2,-.6l.2,0l.2,.5l.2,-.6l.2,.3l.1,0l.2,-.6l.2,.4l.2,-.2l.2,-.1l.2,.4l.2,.2l.2,-.6l.2,-.1l.2,1.1l.2,-.2l.2,-.1l.2,.1l.2,-.7l.2,.5l.2,0l.2,-.2l.2,-.1l.2,.2l.2,-.1l.2,.5l.2,-.4l.2,.3l.1,-.3l.2,-.4l.2,.3l.2,.1l.2,-.4l.2,-.2l.2,.4l.2,.4l.2,-.7l.2,.5l.2,.3l.2,-.4l.2,.3l.2,0l.2,.2l.2,0l.2,-.5l.2,1l.2,-1l.2,-.1l.2,.1l.2,.2l.1,.4l.2,-.4l.2,-.2l.2,-.2l.2,.4l.2,.6l.2,-.4l.2,.2l.2,-.6l.2,.1l.2,.1l.2,.1l.2,.5l.2,-.5l.2,-.4l.2,.7l.2,-.1l.2,.2l.2,-.3l.2,-.3l.2,.7l.2,-.7l.1,.5l.2,-1.1l.2,.9l.2,-.3l.2,.7l.2,-.9l.2,.3l.2,.2l.2,-.6l.2,.5l.2,.1l.2,-.6l.2,.6l.2,-.4l.2,.4l.2,.2l.2,-.9l.2,.4l.2,-.2l.2,0l.2,.3l.2,-.1l.2,.3l.1,0l.2,-.3l.2,.8l.2,-.7l.2,.3l.2,-.3l.2,.4l.2,-.8l.2,.2l.2,.4l.2,-.4l.2,.8l.2,-.1l.2,-.7l.2,-.3l.2,.5l.2,-.2l.2,.1l.2,-.4l.2,.7l.2,.3l.2,-.3l.1,-.2l.2,-.2l.2,.4l.2,-.6l.2,.9l.2,-.6l.2,.4l.2,-.2l.2,.1l.2,-.6l.2,-.1l.2,1.2l.2,-.6l.2,-.2l.2,.3l.2,-.2l.2,0l.2,-.3l.2,.5l.2,-.5l.2,.3l.2,-.1l.1,.2l.2,-.2l.2,-.1l.2,-.8l.2,.5l.2,.2l.2,0l.2,.3l.2,-.7l.2,.7l.2,-.2l.2,-.6l.2,.3l.2,-.1l.2,-1.8l.2,.6l.2,-1.4l.2,-1.4l.2,-2.9l.2,-2.5l.2,-1.7l.2,1.5l.2,2.4l.1,2.5l.2,1.3l.2,1.6l.2,.4l.2,.9l.2,-.8l.2,.2l.2,-1.2l.2,-.4l.2,-1.2l.2,-1.6l.2,1.1l.2,1.6l.2,.2l.2,2.2l.2,-.1l.2,.8l.2,-.4l.2,0l.2,.5l.2,.1l.2,.1l.1,-.5l.2,.3l.2,-.6l.2,.6l.2,0l.2,.4l.2,0l.2,-.5l.2,.3l.2,-.4l.2,.1l.2,.4l.2,0l.2,-.5l.2,.1l.2,0l.2,.5l.2,-.3l.2,.3l.2,-.9l.2,.8l.2,-.1l.2,.1l.1,.1l.2,-.4l.2,.4l.2,-.2l.2,-.2l.2,.2l.2,.1l.2,-.3l.2,.2l.2,.4l.2,.3l.2,-.3l.2,-.4l.2,-.4l.2,.6l.2,-.2l.2,.4l.2,-.6l.2,-.3l.2,.8l.2,-.3l.2,-.6l.1,.8l.2,.1l.2,-.3l.2,-.1l.2,.2l.2,0l.2,-.4l.2,.6l.2,-.6l.2,.5l.2,-.4l.2,-.1l.2,.3l.2,.2l.2,.2l.2,.1l.2,-.7l.2,.8l.2,-.5l.2,.1l.2,-.4l.2,.4l.1,-.5l.2,.4l.2,-.7l.2,.8l.2,0l.2,.2l.2,-.7l.2,.5l.2,-.4l.2,.4l.2,.3l.2,-.8l.2,0l.2,.5l.2,-.4l.2,.8l.2,-.8l.2,.4l.2,-.2l.2,.1l.2,-.1l.2,.1l.2,.1l.1,-.1l.2,-.1l.2,-.2l.2,.2l.2,.3l.2,-.2l.2,.1l.2,-.7l.2,.9l.2,-.4l.2,.4l.2,-.5l.2,.3l.2,-.1l.2,.1l.2,-.4l.2,-.1l.2,.2l.2,-.1l.2,.2l.2,1l.2,-.6l.1,-.4l.2,.2l.2,.3l.2,.2l.2,-.4l.2,-.7l.2,.7l.2,-.6l.2,.6l.2,-.5l.2,.1l.2,.5l.2,-.1l.2,0l.2,-.4l.2,.6l.2,-.4l.2,.2l.2,-.7l.2,.8l.2,-.5l.2,.1l.2,-.5l.1,.1l.2,.8l.2,-1l.2,.6l.2,-.2l.2,.9l.2,-1.1l.2,.4l.2,0l.2,.2l.2,-.5l.2,1.2l.2,-.8l.2,.2l.2,-.2l.2,-.5l.2,.7l.2,-.2l.2,.3l.2,-.6l.2,.3l.2,-.4l.1,-.1l.2,1.2l.2,-.1l.2,-.4l.2,-.2l.2,.2l.2,-.4l.2,.2l.2,.4l.2,-.4l.2,.3l.2,.1l.2,-.4l.2,.1l.2,-.3l.2,.6l.2,.1l.2,-.7l.2,.2l.2,0l.2,0l.2,.4l.1,-.1l.2,-.5l.2,.1l.2,.1l.2,-.4l.2,-.2l.2,.4l.2,-.3l.2,-.3l.2,.2l.2,-.4l.2,-.2l.2,-1.6l.2,-.6l.2,-.5l.2,.3l.2,0l.2,1.8l.2,-.1l.2,.4l.2,.8l.2,.5l.2,0l.1,-.6l.2,.2l.2,-.6l.2,.1l.2,-.2l.2,-1.7l.2,1.3l.2,-.2l.2,.3l.2,.8l.2,.2l.2,.1l.2,-.3l.2,.6l.2,-.1l.2,-.3l.2,.8l.2,0l.2,-.3l.2,.1l.2,-.4l.2,.1l.1,.2l.2,-.2l.2,.3l.2,-.8l.2,.4l.2,.3l.2,-.7l.2,.7l.2,-.2l.2,.5l.2,0l.2,-.8l.2,.6l.2,.2l.2,-.1l.2,-.4l.2,.4l.2,.1l.2,.5l.2,-.5l.2,-.3l.2,.2l.1,0l.2,-.7l.2,.4l.2,.3l.2,-.3l.2,.4l.2,-.4l.2,-.3l.2,.5l.2,-.4l.2,.5l.2,.2l.2,-.2l.2,-.1l.2,-.3l.2,.2l.2,.3l.2,-.1l.2,-.1l.2,-.2l.2,.5l.2,-.1l.2,-.2l.1,.3l.2,-.6l.2,.3l.2,.3l.2,-.1l.2,-.5l.2,.4l.2,.2l.2,-.5l.2,-.1l.2,.8l.2,-.5l.2,-.5l.2,-.1l.2,.3l.2,.1l.2,.5l.2,-.5l.2,.4l.2,-.1l.2,-.3l.2,.4l.1,-.1l.2,-.6l.2,.3l.2,.7l.2,-.3l.2,.2l.2,-.5l.2,.4l.2,-.2l.2,-.1l.2,-.1l.2,.1l.2,0l.2,0l.2,.3l.2,-.5l.2,.2l.2,.2l.2,.2l.2,-.4l.2,-.2l.2,.2l.2,.4l.1,-.2l.2,.1l.2,-.2l.2,-.3l.2,.2l.2,.1l.2,.1l.2,0l.2,-.2l.2,.6l.2,-.4l.2,.4l.2,-.8l.2,.5l.2,-.5l.2,.7l.2,-.9l.2,.2l.2,.2l.2,.1l.2,0l.2,0l.1,-.3l.2,.1l.2,-.1l.2,.4l.2,-.1l.2,.4l.2,.1l.2,-.6l.2,.2l.2,-.2l.2,.1l.2,0l.2,0l.2,.5l.2,-.5l.2,-.1l.2,.1l.2,-.1l.2,.6l.2,-.8l.2,.1l.2,0l.1,.1l.2,-.1l.2,-.1l.2,.3l.2,-.1l.2,-.1l.2,.5l.2,-.6l.2,.4l.2,-.1l.2,.1l.2,-.3l.2,.4l.2,-.7l.2,.5l.2,.1l.2,-.7l.2,.4l.2,.5l.2,-.5l.2,-.2l.2,-.2l.2,.1l.1,.3l.2,-.8l.2,.7l.2,.5l.2,-1.1l.2,.1l.2,.1l.2,-.4l.2,.4l.2,.2l.2,-.2l.2,.3l.2,-.4l.2,.2l.2,0l.2,0l.2,-.6l.2,-.3l.2,0l.2,.1l.2,-.8l.2,-1.1l.1,-1.5l.2,-2.6M839.7,1259.5h0M839.9,1252.1h0M840.1,1245.4h0M840.3,1238.5h0l.2,-2.5M840.7,1239.9h0M840.9,1245.7h0M841.1,1253.8h0M841.3,1259.4h0M841.5,1263.5h0l.2,2.6l.2,.7l.2,.7l.2,-.5l.2,-1.1l.2,-2.3l.2,-1.7M843.1,1257.2h0M843.3,1253.8h0l.2,-.6l.2,1.2M843.8,1257.5h0M844,1262.1h0l.2,2.1M844.4,1267.5h0l.2,.6l.2,1l.2,.7l.2,.3l.2,-.1l.2,.3l.2,.1l.2,.1l.2,-.3l.2,.2l.2,.1l.2,0l.2,0l.2,-.2l.2,.4l.2,0l.2,.2l.2,.2l.1,-.1l.2,-.2l.2,.4l.2,-.7l.2,.6l.2,-.3l.2,.2l.2,-.2l.2,-.1l.2,-.2l.2,.7l.2,-.6l.2,.5l.2,-.6l.2,.8l.2,-.2l.2,-.2l.2,-.3l.2,.3l.2,-.2l.2,.1l.2,-.1l.1,.3l.2,0l.2,-.1l.2,.1l.2,.1l.2,0l.2,.3l.2,0l.2,-.2l.2,-.1l.2,.2l.2,-.8l.2,.7l.2,-.3l.2,-.1l.2,.4l.2,-.3l.2,.1l.2,.2l.2,-.4l.2,-.1l.2,-.4l.2,.4l.1,.6l.2,-.6l.2,.7l.2,-.3l.2,.5l.2,-.8l.2,.2l.2,-.5l.2,.3l.2,.3l.2,-.2l.2,-.1l.2,.4l.2,0l.2,-.2l.2,.5l.2,0l.2,-.5l.2,.1l.2,0l.2,-.7l.2,.6l.1,-.3l.2,.2l.2,.1l.2,.1l.2,.3l.2,-.4l.2,.1l.2,-.3l.2,.4l.2,0l.2,-.2l.2,.4l.2,-.2l.2,-.2l.2,.1l.2,0l.2,-.1l.2,0l.2,-.6l.2,.6l.2,.2l.2,-.4l.2,.1l.1,.2l.2,-.5l.2,.9l.2,-.6l.2,.2l.2,-.2l.2,0l.2,0l.2,-.1l.2,.4l.2,0l.2,-.4l.2,.2l.2,.1l.2,.2l.2,-.3l.2,.3l.2,-.6l.2,-.3l.2,.5l.2,.3l.2,-.4l.1,.6l.2,-.5l.2,.1l.2,-.2l.2,.3l.2,-.2l.2,-.2l.2,.3l.2,-.4l.2,.4l.2,-.1l.2,-.5l.2,.5l.2,-.1l.2,.2l.2,.1l.2,-.5l.2,.3l.2,.4l.2,-.2l.2,-.1l.2,-.2l.1,0l.2,.1l.2,.4l.2,-.8l.2,.6l.2,-.2l.2,.1l.2,-.4l.2,.3l.2,-.1l.2,.2l.2,.1l.2,-.1l.2,-.1l.2,-.1l.2,.1l.2,-.1l.2,.7l.2,-.5l.2,-.1l.2,-.1l.2,.4l.2,.2l.1,0l.2,-.1l.2,.1l.2,-.3l.2,-.3l.2,.5l.2,-.1l.2,0l.2,.1l.2,-.5l.2,.5l.2,-.4l.2,.3l.2,.2l.2,-.2l.2,0l.2,.2l.2,-.1l.2,-.4l.2,.2l.2,.6l.2,-.8l.1,.1l.2,0l.2,-.6l.2,1.1l.2,-.5l.2,-.1l.2,.6l.2,-.6l.2,.3l.2,.2l.2,-.7l.2,.2l.2,.4l.2,-.2l.2,.3l.2,-.9l.2,.9l.2,-.4l.2,.2l.2,-.5l.2,.3l.2,0l.1,-.1l.2,.2l.2,-.2l.2,-.3l.2,0l.2,1l.2,-.6l.2,-.1l.2,.1l.2,-.3l.2,.4l.2,-.3l.2,.5l.2,0l.2,.2l.2,-.6l.2,.1l.2,-.3l.2,.3l.2,-.1l.2,.3l.2,-.5l.2,.3l.1,0l.2,-.4l.2,.8l.2,-.4l.2,.1l.2,-.1l.2,0l.2,-.1l.2,.5l.2,-.3l.2,.2l.2,-.2l.2,.3l.2,-.4l.2,0l.2,-.3l.2,.8l.2,-.1l.2,-.3l.2,0l.2,.4l.2,-.1l.1,-.2l.2,-.2l.2,0l.2,.1l.2,-.4l.2,.1l.2,.2l.2,0l.2,-.1l.2,.2l.2,-.4l.2,.7l.2,-.3l.2,0l.2,-.1l.2,.3l.2,.2l.2,-.4l.2,-.4l.2,.5l.2,-.2l.2,-.1l.2,.2l.1,.1l.2,-.1l.2,-.4l.2,.3l.2,0l.2,.1l.2,0l.2,-.3l.2,0l.2,.2l.2,0l.2,-.2l.2,-.1l.2,.3l.2,.3l.2,.3l.2,-.2l.2,-.3l.2,-.1l.2,.2l.2,.1l.2,-.4l.1,.2l.2,.2l.2,.1l.2,-.5l.2,.3l.2,-.2l.2,0l.2,.1l.2,0l.2,-.1l.2,.4l.2,-.4l.2,.2l.2,0l.2,-.1l.2,.1l.2,-.1l.2,.1l.2,-.6l.2,.9l.2,-.4l.2,.2l.1,.1l.2,-.3l.2,-.3l.2,.4l.2,-.4l.2,.6l.2,-.3l.2,.2l.2,.1l.2,-.1l.2,0l.2,-.2l.2,-.3l.2,.1l.2,-.1l.2,.4l.2,.1l.2,-.5l.2,0l.2,.5l.2,-.2l.2,-.1l.2,.1l.1,.3l.2,-.4l.2,.5l.2,-.9l.2,.4l.2,.4l.2,-.5l.2,-.1l.2,0l.2,.3l.2,.3l.2,-.1l.2,-.6l.2,.5l.2,.1l.2,-.1l.2,.3l.2,-.3l.2,-.1l.2,.2l.2,-.6l.2,.6l.1,-.4l.2,.1l.2,-.2l.2,.2l.2,.5l.2,-.1l.2,-.3l.2,.2l.2,-.5l.2,.7l.2,-.6l.2,.3l.2,-.2l.2,-.1l.2,.7l.2,-.4l.2,-.2l.2,.1l.2,.3l.2,-.2l.2,-.1l.2,.1l.2,-.3l.1,-.2l.2,.2l.2,.4l.2,-.1l.2,-.3l.2,-.1l.2,.3l.2,-.1l.2,.4l.2,-1l.2,.1l.2,-.2l.2,-.9l.2,-.7l.2,-1.1l.2,0l.2,-.5l.2,.9l.2,.5l.2,1l.2,.8l.2,.3l.1,-.1l.2,.4l.2,-.1l.2,.6l.2,-.7l.2,.7l.2,-.6l.2,-.4l.2,-.8l.2,.1l.2,-.1l.2,-.3l.2,-.2l.2,.4l.2,.6l.2,0l.2,.4l.2,.5l.2,-.1l.2,0l.2,.4l.2,-.1l.1,-.2l.2,.1l.2,-.2l.2,.1l.2,.2l.2,-.3l.2,.2l.2,-.1l.2,-.5l.2,.8l.2,.2l.2,-.6l.2,.4l.2,0l.2,-.4l.2,.3l.2,.4l.2,-.7l.2,.3l.2,.1l.2,-.2l.2,0l.2,.2l.1,-.3l.2,.4l.2,-.3l.2,.1l.2,-.2l.2,0l.2,.3l.2,0l.2,-.5l.2,.2l.2,0l.2,0l.2,.1l.2,.4l.2,-.2l.2,-.1l.2,-.1l.2,.5l.2,-.8l.2,.5l.2,-.3l.2,.6l.1,-.5l.2,.2l.2,-.4l.2,.4l.2,-.4l.2,0l.2,.5l.2,0l.2,-.1l.2,-.1l.2,-.1l.2,.3l.2,-.1l.2,-.1l.2,-.1l.2,.3l.2,-.3l.2,0l.2,-.1l.2,.3l.2,-.4l.2,0l.2,.2l.1,.1l.2,-.1l.2,.2l.2,-.1l.2,-.2l.2,.2l.2,0l.2,0l.2,-.1l.2,-.1l.2,0l.2,.4l.2,-.2l.2,0l.2,-.2l.2,0l.2,.2l.2,.1l.2,.3l.2,-.5l.2,0l.2,.1l.1,.2l.2,-.2l.2,.1l.2,0l.2,-.1l.2,.3l.2,-.2l.2,.5l.2,-.7l.2,-.3l.2,.8l.2,-.5l.2,.1l.2,.1l.2,-.3l.2,.5l.2,-.4l.2,.2l.2,-.1l.2,.4l.2,-.4l.2,-.1l.1,.1l.2,.4l.2,-.6l.2,.1l.2,0l.2,0l.2,.2l.2,-.3l.2,.1l.2,.2l.2,-.1l.2,-.2" fill="none" stroke="#ff0000" stroke-width="7.5" stroke-linecap="round" stroke-linejoin="round"/><path d="M75.4,1270.2l4.1,0l4.1,0l4.1,0l4.1,0l4.1,0l4.1,0l4.1,0l4.1,0l4.2,.1l4.1,0l4.1,0l4.1,0l4.1,0l4.1,-.1l4.1,0l4.1,-.2l1.8,-.2l.7,-.2l.6,-.2l.4,-.2l.2,-.2l.4,-.3l.2,-.3l.2,-.3l.2,-.4l.2,-.6l.2,-.7l.2,-1.2l.2,-1.9l.2,-3.7l.2,-6.7l.2,-11.1l.2,-15.8l.2,-18.1l.1,-13.2l.2,-1.6l.2,7.1l.2,11.6l.2,14.8l.2,14.1l.2,10.7l.2,7l.2,4.2l.2,2.3l.2,1.3l.2,.8l.2,.6l.2,.5l.2,.3l.2,.3l.2,.2l.4,.3l.4,.2l.3,.2l.6,.2l1.2,.2l2.6,.2l4.1,.1l4.1,0l4.1,0l4.1,0l4.1,0l4.1,.1l4.1,0l4.1,0l4.1,0l4.1,0l4.1,0l4.1,0l4.1,-.1l4.1,0l4.1,0l4.1,-.1l3.8,-.2l2.7,-.2l1.6,-.2l.9,-.2l1,-.2l.6,-.2l.4,-.2l.6,-.3l.4,-.2l.4,-.3l.4,-.3l.2,-.2l.2,-.2l.1,-.3l.2,-.3l.2,-.3l.2,-.4l.2,-.4l.2,-.4l.2,-.6l.2,-.6l.2,-.7l.2,-.9l.2,-1l.2,-1.2l.2,-1.5l.2,-1.9l.2,-2.3l.2,-3l.2,-3.9l.2,-5.6l.2,-8.7l.2,-15.2l.2,-28.1l.2,-49.9l.1,-79.3l.2,-106.9l.2,-111.6l.2,-65.8l.2,11.9l.2,51.1l.2,48.7l.2,49.3l.2,67.5l.2,74.8l.2,63.4l.2,45.2l.2,28.4l.2,16.4l.2,9.4l.2,5.8l.2,3.9l.2,2.8l.2,2.3l.2,1.7l.2,1.4l.2,1.2l.1,1l.2,.8l.2,.7l.2,.6l.2,.5l.2,.5l.2,.4l.2,.3l.2,.3l.2,.3l.2,.2l.2,.3l.2,.2l.4,.3l.4,.3l.4,.2l.4,.2l.4,.2l.5,.2l.6,.2l1,.2l1.2,.2l1.7,.2l3.2,.2l4.1,.1l4.1,.1l4.1,0l4.1,.1l4.1,0l4.1,0l4.1,0l4.1,0l4.1,0l1.6,-.2l.4,-.3l.2,-.3l.2,-.3l.2,-.3l.5,.2l.4,.2l.4,.3l.2,.2l.2,.2l.4,.2l4.1,0l3.3,-.2l1.6,-.2l1,-.2l.6,-.2l.4,-.2l.2,-.2l.3,-.3l.2,-.2l.2,-.3l.2,-.3l.2,-.4l.2,-.6l.2,-.6l.2,-1l.2,-1.3l.2,-2.4l.2,-4.2l.2,-7.6l.2,-12.7l.2,-18.4l.2,-21.5l.2,-17.1l.2,-2.7l.2,10.2l.2,11.8l.2,7.1l.2,3.8l.2,6.6l.2,11.4l.1,12.4l.2,10l.2,6.9l.2,4.3l.2,2.4l.2,1.4l.2,.9l.2,.6l.2,.5l.2,.4l.2,.3l.2,.2l.2,.2l.2,.2l.4,.3l.4,.2l.6,.2l.7,.2l1.4,.2l3.3,.2l4.1,0l4.1,.1l4.2,0l4.1,0l4.1,0l4.1,0l4.1,0l4.1,0l4.1,0l4.1,-.1l2.9,-.2l1.6,-.2l1,-.2l.6,-.2l.5,-.2l.4,-.3l.4,-.3l.2,-.2l.2,-.3l.2,-.2l.2,-.4l.2,-.4l.2,-.6l.2,-.7l.2,-.9l.2,-1.2l.2,-1.8l.2,-3.1l.2,-5.6l.2,-10.1l.2,-16.7l.2,-23.9l.2,-27.9l.1,-21.9l.2,-2.5l.2,15.7l.2,18.9l.2,11.6l.2,2.7l.2,-.5l.2,5.4l.2,13.1l.2,15.2l.2,12.8l.2,8.9l.2,5.5l.2,3.1l.2,1.8l.2,1.2l.2,.8l.2,.6l.2,.4l.2,.4l.2,.3l.2,.3l.1,.2l.2,.2l.4,.3l.4,.2l.4,.2l.6,.2l1,.2l1.4,.2l3.3,.2l4.1,.1l4.1,0l4.1,0l4.1,0l4.1,.1l4.1,0l4.1,0l1.8,-.2l.4,-.2l1.9,.2l4.1,.1l3.6,-.2l1.1,-.2l.6,-.2l.4,-.2l.2,-.2l.2,-.2l.2,-.3l.2,-.6l.2,-.9l.2,-1.6l.2,-2.9l.2,-4.5l.2,-5.8l.2,-5.9l.2,-3.1l.1,1.8l.2,4.7l.2,4.3l.2,2.3l.4,-1l.2,-.2l.2,2l.2,3.2l.2,3.1l.2,2.3l.2,1.5l.2,.9l.2,.6l.2,.3l.2,.2l.4,.2l.4,.2l.7,.2l1.6,.2l4.1,.1l4.1,0l4.1,0l4.1,0l4.1,0l4.1,0l4.2,0l4.1,0l3.3,-.2l2.5,-.2l1.4,-.2l.8,-.2l.6,-.2l.4,-.2l.3,-.3l.4,-.3l.2,-.2l.2,-.2l.2,-.3l.2,-.4l.2,-.4l.2,-.5l.2,-.7l.2,-.8l.2,-1.2l.2,-1.6l.2,-2.5l.2,-4.4l.2,-8l.2,-13.9l.2,-21.6l.2,-28.4l.2,-29.2l.2,-16.3l.2,7.8l.1,24.1l.2,24.5l.2,15.4l.2,4l.2,-5.4l.2,-8.2l.2,-1.7l.2,9.5l.2,15.5l.2,14.8l.2,11.2l.2,7.3l.2,4.3l.2,2.4l.2,1.5l.2,.9l.2,.7l.2,.6l.2,.4l.2,.3l.2,.3l.2,.3l.1,.2l.2,.2l.4,.2l.2,.2l.4,.2l.6,.2l.8,.2l1.2,.2l2.1,.2l4.1,.1l4.1,.1l4.1,0l4.1,0l4.1,.1l4.2,-.1l1.1,-.2l.4,-.2l.8,.2l1.6,.2l4.1,.1l4.1,0l4.1,0l4.1,0l4.1,0l4.1,0l4.1,0l4.1,0l4.1,0l4.1,0l4.1,0l4.1,-.1l2.6,-.2l1.2,-.2l.5,-.2l.4,-.2l.2,-.2l.2,-.2l.2,-.2l.2,-.3l.2,-.3l.2,-.6l.2,-.8l.2,-1.5l.2,-2.6l.2,-4.5l.2,-7.1l.2,-9.5l.2,-10.2l.2,-6.5l.2,1.5l.2,8.1l.2,9.5l.1,7.6l.2,4.1l.2,.7l.2,-2.3l.2,-3.9l.2,-3.6l.2,-.3l.2,3.6l.2,5.2l.2,4.9l.2,3.6l.2,2.4l.2,1.3l.2,.8l.2,.5l.2,.3l.2,.2l.2,.2l.4,.3l.6,.2l.5,.2l1.6,.2l4.1,.1l4.1,.1l4.1,0l4.1,0l4.1,0l4.1,0l2.2,-.2l1.2,.2l4.1,0l3.9,-.2l.8,-.2l.4,-.3l.1,-.3l.2,-.6l.2,-.9l.2,-1.5l.2,-2.1l.2,-2.2l.2,-1.5l.2,.2l.2,1.7l.2,2.2l.2,1.7l.2,1.1l.2,.5l.2,-.2l.2,-.7l.2,-1l.2,-.8l.4,.8l.2,1.2l.2,1l.2,.8l.2,.5l.1,.2l.2,.2l.4,.2l1.4,.2l4.1,.1l4.1,0l4.1,0l4.1,0l4.1,0l4.1,0l4.1,0l4.2,-.2l1.7,-.2l.8,-.2l.6,-.2l.2,-.2l.4,-.3l.2,-.3l.2,-.3l.2,-.5l.1,-.9l.2,-1.5l.2,-2.7l.2,-4.4l.2,-6.5l.2,-8.1l.2,-7.4l.2,-3l.2,3.5l.2,7.5l.2,7.6l.2,5.8l.2,3.5l.2,1.2l.2,-.7l.2,-2.3l.2,-3.5l.2,-3.5l.2,-1.5l.2,1.7l.2,3.8l.2,4.1l.1,3.3l.2,2.3l.2,1.4l.2,.8l.2,.4l.2,.3l.2,.2l.2,.2l.4,.2l.6,.2l1,.2l2.7,.2l4.1,0l4.1,.1l4.1,0l4.1,0l4.1,0l2.2,-.2l1.8,.2l4.1,0l2.9,-.2l1,-.2l.4,-.3l.2,-.3l.2,-.6l.1,-.9l.2,-1.4l.2,-1.7l.2,-1.7l.2,-.7l.2,.8l.2,1.6l.2,1.6l.2,1.3l.2,.9l.2,.4l.4,-.3l.2,-.6l.2,-.8l.2,-.7l.2,-.3l.2,.4l.2,.8l.2,.9l.2,.7l.2,.5l.1,.3l.4,.2l.6,.2l4.1,.1l4.1,.1l4.1,0l4.2,0l4.1,0l4.1,0l4.1,0l4.1,-.1l2.5,-.2l.8,-.2l.2,-.2l.2,-.2l.2,-.5l.2,-.7l.2,-1.3l.2,-1.8l.2,-2.2l.2,-2.1l.2,-1l.2,.9l.2,2.1l.1,2.2l.2,1.7l.2,1.2l.2,.6l.2,.3l.2,-.2l.2,-.5l.2,-.8l.2,-1l.2,-1l.2,-.4l.2,.5l.2,1.1l.2,1.1l.2,.9l.2,.7l.2,.4l.2,.2l.4,.2l.9,.2l4.1,.1l4.2,0l4.1,.1l4.1,0l4.1,0l4.1,0l1.2,-.2l4.1,.1l4.1,0l1.9,-.2l.4,-.4l.2,-.4l.2,-.5l.2,-.8l.2,-.9l.2,-.6l.4,.6l.2,.9l.2,.7l.2,.6l.2,.4l.4,.2l.3,-.2l.2,-.2l.2,-.4l.2,-.4l.2,-.3l.4,.3l.2,.5l.2,.4l.2,.3l.4,.3l1.6,.2l4.1,0l4.1,0l4.1,0l4.1,0l4.1,0l4.1,0l4.1,-.1l3.3,-.2l1,-.2l.6,-.2l.4,-.2l.2,-.2l.2,-.2l.2,-.2l.2,-.4l.2,-.5l.2,-.9l.1,-1.5l.2,-2.8l.2,-4.3l.2,-6.2l.2,-7.4l.2,-6.8l.2,-2.6l.2,3.3l.2,7l.2,7.2l.2,5.8l.2,4l.2,2.3l.2,1.2l.2,.4l.2,-.2l.2,-1l.2,-1.8l.2,-2.9l.2,-3.5l.2,-3.3l.2,-1.5l.2,1.5l.1,3.4l.2,3.8l.2,3.1l.2,2.2l.2,1.3l.2,.8l.2,.5l.2,.2l.2,.2l.2,.2l.4,.2l.8,.2l1.3,.2l4.2,.1l4.1,.1l4.1,0l4.1,0l4.1,0l3.3,-.2l1.4,.2l4.1,0l4.1,.1l4.1,0l4.1,0l4.1,0l4.1,0l4.1,0l4.1,0l4.1,0l4.1,0l4.1,0l4.1,0l1.2,-.2l.6,-.2l.2,-.2l.2,-.4l.2,-.5l.2,-.8l.2,-.8l.2,-.7l.4,.4l.2,.8l.2,.8l.2,.6l.2,.5l.1,.2l.4,.2l1,-.3l.2,-.3l.2,-.4l.2,-.4l.2,-.3l.4,.5l.2,.4l.2,.4l.2,.2l.2,.2l.4,.2l4.1,.1l4.1,.1l4.1,0l4.1,0l4.1,0l4.1,0" fill="none" stroke="#000" stroke-width="1.25" stroke-linejoin="round"/><g stroke="#008000" fill="none"><path d="M148,1318V1336.5" stroke-width="2.3"/><path d="M240.6,1318V1336.5" stroke-width="2.5"/><path d="M296.5,1318V1336.5" stroke-width="2.6"/><path d="M313.2,1318V1336.5" stroke-width="2.7"/><path d="M375.4,1318V1336.5M376.6,1318V1336.5" stroke-width="1.75"/><path d="M418.5,1318V1336.5M419.8,1318V1336.5" stroke-width="1.75"/><path d="M432.1,1318V1336.5M433.4,1318V1336.5" stroke-width="1.75"/><path d="M484.5,1318V1336.5M486,1318V1336.5" stroke-width="1.75"/><path d="M521.4,1318V1336.5M523,1318V1336.5" stroke-width="1.75"/><path d="M580.3,1318V1336.5M582.2,1318V1336.5" stroke-width="1.75"/><path d="M614.6,1318V1336.5M616.5,1318V1336.5" stroke-width="1.75"/><path d="M626.1,1318V1336.5M628.1,1318V1336.5" stroke-width="1.75"/><path d="M670,1318V1336.5M672.2,1318V1336.5" stroke-width="1.75"/><path d="M702.2,1318V1336.5M704.5,1318V1336.5" stroke-width="1.75"/><path d="M713.2,1318V1336.5M715.6,1318V1336.5" stroke-width="1.75"/><path d="M755.7,1318V1336.5M758.2,1318V1336.5" stroke-width="1.75"/><path d="M787.3,1318V1336.5M789.9,1318V1336.5" stroke-width="1.75"/><path d="M798.4,1318V1336.5M801.1,1318V1336.5" stroke-width="1.75"/><path d="M840.5,1318V1336.5M843.5,1318V1336.5" stroke-width="1.75"/><path d="M872.4,1318V1336.5M875.5,1318V1336.5" stroke-width="1.75"/><path d="M925.7,1318V1336.5M929.2,1318V1336.5" stroke-width="1.75"/></g><path d="M75.4,1372.4l.2,-2.4l.19,-.3l.2,-.1l.19,1.5l.2,-1.7l.19,1.8l.2,-.9l.19,-.8l.2,-3l.2,3.5l.19,.9l.2,-.9l.19,1l.2,-3.2l.19,2.1l.2,-.6l.19,.7l.2,-.7l.2,1.4l.19,-1.1l.2,-.3l.19,.2l.2,-1l.19,.2l.2,1.2l.19,-.5l.2,.9l.19,-2.4l.2,2l.2,-.8l.19,-.7l.2,-.2l.19,1.4l.2,-.8l.19,-1.6l.2,2l.19,1l.2,-4l.2,5l.19,-1.3l.2,-1.3l.19,-.9l.2,1.4l.19,.4l.2,-.9l.19,3.1l.2,-1.5l.2,-.2l.19,-.2l.2,-.5l.19,-.1l.2,-2.1l.19,3.7l.2,1.3l.19,-3l.2,.8l.2,-1.8l.19,1l.2,.2l.19,-2.6l.2,2.8l.19,-.1l.2,1.3l.19,-3.5l.2,3.6l.2,-1.4l.19,-.1l.2,-.2l.19,-.4l.2,2.1l.19,-.8l.2,-.3l.19,2.3l.2,-4.1l.19,2l.2,-2.3l.2,3l.19,-1.3l.2,1l.19,-.7l.2,1l.19,-2.7l.2,1.8l.19,.5l.2,1.6l.2,-.5l.19,-2.2l.2,.7l.19,-1.4l.2,2.6l.19,-3.5l.2,.6l.19,1.5l.2,.9l.2,-2.6l.19,-1.1l.2,1.7l.19,.6l.2,-.4l.19,.1l.2,.9l.19,1.7l.2,.4l.2,-3l.19,1l.2,-.3l.19,-1.2l.2,-.5l.19,2.1l.2,2.6l.19,-.8l.2,-3.1l.2,-1.5l.19,2.7l.2,0l.19,.1l.2,-1.1l.19,.2l.2,3l.19,-3.4l.2,.4l.2,-.1l.19,1.2l.2,-.5l.19,1.1l.2,-4.1l.19,2.2l.2,1.2l.19,-.4l.2,.4l.19,-.7l.2,-.1l.2,1.1l.19,1.4l.2,.4l.19,-2.6l.2,1.2l.19,-.1l.2,-.1l.19,-.5l.2,.7l.2,-4.3l.19,3.5l.2,2.7l.19,-3.5l.2,-.2l.19,1.4l.2,-3l.19,2.5l.2,-1.6l.2,3.2l.19,-1.1l.2,-.4l.19,-2.1l.2,.5l.19,1.4l.2,-.3l.19,-.1l.2,-.4l.2,2.5l.19,-.6l.2,1.6l.19,-2.7l.2,-1.2l.19,1.4l.2,-1.1l.19,1.9l.2,0l.2,.1l.19,-2.5l.2,-.3l.19,-.5l.2,4.8l.19,-3.2l.2,3.6l.19,-2.1l.2,-.7l.19,-1.1l.2,.2l.2,1.6l.19,-1.6l.2,-1.2l.19,5l.2,-2.3l.19,-.2l.2,.7l.19,-3.2l.2,-.9l.2,3.7l.19,-.4l.2,-1.9l.19,-1.2l.2,3.9l.19,-1.8l.2,2.4l.19,-2.2l.2,-2l.2,3.1l.19,-1.5l.2,2.4l.19,-.7l.2,-.9l.19,-.9l.2,.1l.19,1l.2,-.4l.2,1.5l.19,-2l.2,.8l.19,-1.2l.2,.7l.19,1.8l.2,.1l.19,1l.2,-5.2l.2,.4l.19,2.9l.2,.2l.19,-.9l.2,-.3l.19,0l.2,-3.1l.19,3.5l.2,.5l.19,-.6l.2,-2.2l.2,2.9l.19,0l.2,-.5l.19,1.8l.2,-2.4l.19,-.2l.2,.3l.19,.6l.2,-2l.2,-.6l.19,1l.2,2l.19,-2.9l.2,1.4l.19,1l.2,-.3l.19,0l.2,-.2l.2,.4l.19,-.2l.2,.4l.19,-.3l.2,-1.1l.19,3.3l.2,-6.3l.19,4l.2,.4l.2,.6l.19,-3.3l.2,.3l.19,2.6l.2,0l.19,.6l.2,-1.2l.19,-1.8l.2,1.4l.2,1.9l.19,-2.4l.2,.4l.19,2.1l.2,-4.1l.19,2.8l.2,-.6l.19,1.5l.2,1.8l.2,-1.8l.19,2l.2,-2.3l.19,-1l.2,-.1l.19,.2l.2,-1l.19,-.6l.2,2.1l.19,.8l.2,-2.5l.2,.6l.19,.3l.2,.2l.19,-.1l.2,.7l.19,-.7l.2,.5l.19,1l.2,-3.1l.2,3.4l.19,-1.7l.2,.4l.19,1.9l.2,-.4l.19,-1.6l.2,.4l.19,-.7l.2,-.6l.2,-.3l.19,.8l.2,2.3l.19,-.3l.2,-2.9l.19,.6l.2,.2l.19,-1.1l.2,.4l.2,4.1l.19,-3.7l.2,.7l.19,.2l.2,2.6l.19,-3.1l.2,-.4l.19,-2.8l.2,3.2l.2,-3.5l.19,4.7l.2,.7l.19,-1.7l.2,1.2l.19,-1.6l.2,-.1l.19,.4l.2,.5l.19,-1.3l.2,1.6l.2,-3.4l.19,1.8l.2,.6l.19,3.5l.2,-1.5l.19,-2.4l.2,.8l.19,0l.2,-3l.2,2.1l.19,1.8l.2,-1.9l.19,-.8l.2,2.1l.19,-2.1l.2,1.4l.19,-.4l.2,.8l.2,-2l.19,1.1l.2,.4l.19,-.2l.2,-2.9l.19,3.2l.2,3.9l.19,-1.6l.2,-4.3l.2,1l.19,3.4l.2,-5.3l.19,.3l.2,5.4l.19,-6l.2,2.4l.19,2.5l.2,-7.8l.2,-1.4l.19,-3.9l.2,4l.19,-4l.2,-.3l.19,-4.8l.2,6.4l.19,-2.3l.2,5.1l.19,.5l.2,3.8l.2,1.2l.19,-3.7l.2,5.3l.19,-5l.2,1.9l.19,-.5l.2,.7l.19,.5l.2,3.4l.2,-3.2l.19,.4l.2,-1.2l.19,1.5l.2,.7l.19,-.5l.2,-1.2l.19,2.8l.2,-2.9l.2,2.2l.19,1l.2,-1.3l.19,1.3l.2,.3l.19,-.8l.2,0l.19,3.1l.2,-2.9l.2,.1l.19,.4l.2,1.1l.19,-1l.2,-2.9l.19,2.7l.2,-.3l.19,-1.5l.2,1.4l.2,.3l.19,-.7l.2,.2l.19,2.9l.2,-.7l.19,-2.1l.2,-2.4l.19,5l.2,-6.7l.2,4l.19,-.4l.2,2l.19,-5.1l.2,1.5l.19,2.6l.2,-.7l.19,1.9l.2,-1.5l.19,1l.2,-.9l.2,-.4l.19,.9l.2,1.3l.19,-1l.2,-1.1l.19,.7l.2,.7l.19,-.5l.2,-.4l.2,-.9l.19,-.1l.2,.7l.19,-.7l.2,1.3l.19,-.1l.2,.1l.19,-.3l.2,-.9l.2,1.9l.19,2l.2,-3l.19,.1l.2,3.5l.19,-4.5l.2,1l.19,-2.5l.2,2.1l.2,1.2l.19,.6l.2,.3l.19,-1.6l.2,-.4l.19,-.1l.2,1.5l.19,-3.3l.2,1.4l.2,-.2l.19,.3l.2,2.7l.19,-1.1l.2,-.5l.19,-.6l.2,-1.3l.19,2.4l.2,.3l.19,-1.8l.2,.3l.2,1.2l.19,-2l.2,-1l.19,2.2l.2,-1.6l.19,2.7l.2,-2.2l.19,-1.3l.2,.4l.2,-.9l.19,-.6l.2,.3l.19,3.6l.2,-2.2l.19,.6l.2,-1.5l.19,1.8l.2,-1l.2,-3.1l.19,3.6l.2,.3l.19,.3l.2,-1.3l.19,-.2l.2,1.1l.19,3l.2,-4.5l.2,1.7l.19,-2.6l.2,2.1l.19,3.8l.2,-6.1l.19,5.5l.2,-3.5l.19,-.2l.2,2.3l.2,-.9l.19,-3.2l.2,3.2l.19,-2.8l.2,-.7l.19,2.5l.2,.5l.19,.7l.2,.6l.19,2l.2,-2l.2,2.3l.19,-4.1l.2,1.3l.19,1.8l.2,-1.5l.19,.2l.2,-.7l.19,-1l.2,2.1l.2,-.8l.19,.3l.2,-1.8l.19,4.1l.2,-5.7l.19,3.1l.2,-2.6l.19,3.3l.2,-1.3l.2,-.1l.19,1l.2,-.5l.19,-.6l.2,-1.7l.19,1l.2,2.4l.19,-1.6l.2,1.2l.2,.4l.19,-1.2l.2,-2.2l.19,2.4l.2,2.8l.19,-2.9l.2,-.1l.19,-1.5l.2,1.2l.2,3.2l.19,-.6l.2,-1.9l.19,-3.1l.2,2.3l.19,-.8l.2,2l.19,-.8l.2,-2.2l.2,2.3l.19,1.1l.2,-1.9l.19,.2l.2,.2l.19,1.2l.2,-1.7l.19,0l.2,-.5l.19,-.1l.2,1.6l.2,-.1l.19,.9l.2,-.3l.19,-.6l.2,-.7l.19,.8l.2,-1.1l.19,3.3l.2,-2.8l.2,1l.19,-1.6l.2,-.7l.19,1.7l.2,1l.19,-.8l.2,.2l.19,.3l.2,-.4l.2,-.7l.19,-.7l.2,.8l.19,-.3l.2,2.2l.19,-2.5l.2,1.9l.19,-.1l.2,-1.3l.2,2.5l.19,-2.6l.2,-.4l.19,.4l.2,-1.9l.19,1.2l.2,2.9l.19,-1.8l.2,.3l.2,2l.19,-3.1l.2,1.1l.19,1.9l.2,-3.4l.19,3.5l.2,-1.4l.19,-1.9l.2,-.6l.19,1.8l.2,2.2l.2,.1l.19,-2.9l.2,1.7l.19,-.4l.2,-2.7l.19,.3l.2,.5l.19,-.2l.2,-.1l.2,.3l.19,0l.2,.4l.19,-.6l.2,-1.4l.19,-1.5l.2,3l.19,-.1l.2,-.7l.2,.7l.19,-.5l.2,1.3l.19,-.2l.2,.1l.19,-.6l.2,-1.8l.19,1.3l.2,2.8l.2,-.5l.19,0l.2,-1.6l.19,-1.1l.2,2.9l.19,-4.5l.2,3.5l.19,-.8l.2,1.6l.2,-1.4l.19,-.4l.2,1.9l.19,-.9l.2,-.2l.19,-1.2l.2,.6l.19,.5l.2,-2l.2,2.4l.19,.6l.2,-2.1l.19,1l.2,.5l.19,-.1l.2,-1l.19,1.1l.2,-.2l.19,1.9l.2,-1.6l.2,-1.9l.19,1.3l.2,1.7l.19,.2l.2,-2.1l.19,4.3l.2,-2.8l.19,-.1l.2,-1.3l.2,1.3l.19,-2.6l.2,1.8l.19,0l.2,-.1l.19,-.7l.2,.6l.19,1.6l.2,.1l.2,-1.3l.19,0l.2,4.6l.19,-5.7l.2,.8l.19,.2l.2,-1.3l.19,.5l.2,2l.2,-.9l.19,0l.2,.9l.19,-.6l.2,.8l.19,-3.7l.2,4.4l.19,-1.9l.2,-.7l.2,-.5l.19,2l.2,1.5l.19,-2.6l.2,0l.19,1.1l.2,-2l.19,-.5l.2,4.3l.19,-2.5l.2,0l.2,1l.19,-.2l.2,-.1l.19,.6l.2,-2.1l.19,-.2l.2,.5l.19,.8l.2,2.3l.2,-5.7l.19,2.2l.2,3.4l.19,-2.1l.2,2.5l.19,-4.9l.2,0l.19,-.3l.2,1.5l.2,3.1l.19,-1.7l.2,2.4l.19,-5.8l.2,3.9l.19,.5l.2,-2.2l.19,1.5l.2,-.5l.2,-3l.19,2.3l.2,.6l.19,-2l.2,2.5l.19,-.6l.2,-3.6l.19,3.9l.2,-2.9l.2,2.3l.19,.1l.2,-2.2l.19,-.2l.2,1.6l.19,.9l.2,-.8l.19,1.1l.2,.9l.19,-1.3l.2,-3.3l.2,3.4l.19,-.3l.2,1.3l.19,-1.8l.2,.3l.19,1.4l.2,-.3l.19,-.7l.2,4.3l.2,-3.7l.19,-1.6l.2,.3l.19,.9l.2,-.8l.19,1.4l.2,1.4l.19,-1l.2,-1.3l.2,.7l.19,-3.4l.2,4.2l.19,-.6l.2,-2.1l.19,2l.2,-1.3l.19,.7l.2,.4l.2,.8l.19,-1.8l.2,1.8l.19,-1.2l.2,.7l.19,3.8l.2,-4.2l.19,.4l.2,2.7l.2,-2.3l.19,.1l.2,.7l.19,.2l.2,-1.4l.19,.7l.2,-1l.19,1.9l.2,-1.1l.2,1.3l.19,-1.3l.2,4.2l.19,-4.7l.2,-1.1l.19,1.2l.2,1.5l.19,.8l.2,-3.3l.19,1.1l.2,3.2l.2,-1.4l.19,.8l.2,1.4l.19,-4.7l.2,11.5l.19,-4.1l.2,1.4l.19,15l.2,-.1l.2,-7.6l.19,-5.4l.2,2.9l.19,-6.8l.2,1.1l.19,1.1l.2,-9.3l.19,6.9l.2,-.7l.2,-1.1l.19,-3l.2,-.8l.19,2.1l.2,-.4l.19,-2.4l.2,2.4l.19,-.5l.2,-.7l.2,.2l.19,.5l.2,-.4l.19,-1.8l.2,1.4l.19,-1.2l.2,1.3l.19,-.4l.2,-2.8l.2,1.8l.19,.4l.2,-.5l.19,-2.5l.2,4.6l.19,-1.6l.2,.3l.19,-.1l.2,-.6l.19,.7l.2,.4l.2,-1.4l.19,1.1l.2,-1.3l.19,2.9l.2,-5.1l.19,2l.2,-1.3l.19,-.4l.2,5.2l.2,-2.4l.19,1.6l.2,-1.9l.19,2l.2,-1.5l.19,-1.4l.2,1.7l.19,-1.5l.2,.7l.2,-.7l.19,-1.3l.2,-.5l.19,2.3l.2,.8l.19,.1l.2,.3l.19,-.6l.2,-.9l.2,-2.3l.19,.1l.2,2.6l.19,-1l.2,2.1l.19,-.8l.2,-1.9l.19,1.5l.2,-2.9l.2,3l.19,-.4l.2,-.1l.19,1l.2,-1.1l.19,-.5l.2,.1l.19,2.3l.2,-.1l.19,-.8l.2,-.8l.2,1.7l.19,-1.4l.2,-.6l.19,-.8l.2,2.8l.19,-2l.2,-.6l.19,1.6l.2,-1.3l.2,.3l.19,.3l.2,-2.5l.19,3.5l.2,-1.6l.19,2.7l.2,-1.7l.19,.2l.2,-1l.2,.5l.19,2.3l.2,-1.9l.19,-2.8l.2,3.5l.19,-2.4l.2,1.2l.19,1.3l.2,1l.2,-1.6l.19,-.7l.2,-1.2l.19,-1.8l.2,3.4l.19,-.6l.2,-3.1l.19,3l.2,.8l.2,-.3l.19,-.7l.2,-.2l.19,2.3l.2,-1.2l.19,-.4l.2,.1l.19,-.5l.2,-1.7l.2,3.2l.19,-1l.2,-1.1l.19,1.8l.2,-.6l.19,-3.1l.2,3.3l.19,-1.8l.2,-.4l.19,-.8l.2,1.5l.2,-3l.19,4.8l.2,-2.9l.19,1.2l.2,.9l.19,-.9l.2,0l.19,2.6l.2,-2.4l.2,1.6l.19,-.9l.2,-1.2l.19,.8l.2,-1.7l.19,1.5l.2,.8l.19,1.2l.2,.5l.2,-2.5l.19,1.4l.2,-.1l.19,-1.3l.2,1.2l.19,-.8l.2,.7l.19,-.7l.2,.1l.2,-1l.19,1.3l.2,.1l.19,.4l.2,.2l.19,-.2l.2,.5l.19,.1l.2,-1.3l.2,.3l.19,2.6l.2,-2.9l.19,-.1l.2,-.1l.19,1.7l.2,-.6l.19,-2.7l.2,4.6l.19,-1.7l.2,-1.4l.2,-.2l.19,-.9l.2,1.7l.19,-.4l.2,.9l.19,-.3l.2,-1.6l.19,1.2l.2,-.9l.2,2.3l.19,-1.5l.2,-2.8l.19,2.9l.2,-.8l.19,3.1l.2,-1l.19,-1.7l.2,3l.2,-2.2l.19,-2.8l.2,4.5l.19,-1.5l.2,-2.2l.19,1.4l.2,.1l.19,.3l.2,-.7l.2,.8l.19,-1.1l.2,.2l.19,-2l.2,3.4l.19,.8l.2,-3.3l.19,2.2l.2,-.9l.2,.1l.19,.2l.2,.1l.19,2l.2,-.4l.19,-1l.2,-.6l.19,-.4l.2,.3l.19,-2.1l.2,4.3l.2,-2.4l.19,-.1l.2,-.2l.19,.7l.2,-.3l.19,0l.2,.3l.19,-1.3l.2,1.9l.2,.1l.19,-2.6l.2,.8l.19,3l.2,-1.7l.19,.8l.2,1.7l.19,-2.8l.2,.4l.2,-1.1l.19,1.6l.2,-1.2l.19,-.7l.2,.4l.19,-.9l.2,-1.5l.19,.1l.2,4.4l.2,-1.6l.19,0l.2,2l.19,-2.4l.2,1l.19,-1.6l.2,2.5l.19,.2l.2,-1.3l.2,-1.7l.19,2l.2,-.4l.19,-2.4l.2,3.9l.19,-4l.2,1.9l.19,3.1l.2,-2.6l.2,1l.19,-.8l.2,.4l.19,-1l.2,-1.6l.19,3.3l.2,-3.4l.19,2.6l.2,2.2l.19,-2.4l.2,.3l.2,.4l.19,-1.3l.2,-.8l.19,.9l.2,-1.3l.19,1.2l.2,-.8l.19,.9l.2,.1l.2,-3.3l.19,3.6l.2,-1.4l.19,2.4l.2,-.6l.19,1.6l.2,-2.9l.19,3.4l.2,.8l.2,-2.3l.19,.3l.2,-1.5l.19,-.4l.2,2.5l.19,.2l.2,-1.4l.19,-1.6l.2,-1.3l.2,0l.19,-2l.2,4.5l.19,-2l.2,1.3l.19,.1l.2,3.4l.19,-3.2l.2,-.2l.2,-1l.19,.6l.2,-2.4l.19,-.4l.2,5.5l.19,-2.3l.2,-.6l.19,2.4l.2,-1.4l.19,-.4l.2,.1l.2,1.9l.19,-3.5l.2,2.6l.19,-1.8l.2,.4l.19,-.1l.2,1.2l.19,0l.2,.9l.2,-2l.19,.7l.2,-.5l.19,.4l.2,-.3l.19,-.6l.2,-3.1l.19,2.9l.2,1.6l.2,-1.8l.19,.3l.2,1.9l.19,-.4l.2,-2.5l.19,2l.2,.8l.19,.9l.2,-2.3l.2,-2l.19,-3.7l.2,5.1l.19,-3.6l.2,4.1l.19,-2.1l.2,-1.2l.19,2.9l.2,-2l.2,4.6l.19,-2.9l.2,.6l.19,-.4l.2,.4l.19,.2l.2,.6l.19,1.5l.2,-.6l.19,-.7l.2,2.7l.2,-2.4l.19,-1.5l.2,2.3l.19,-2.4l.2,.8l.19,-1l.2,.5l.19,.4l.2,1.3l.2,-1.2l.19,1.3l.2,-1.9l.19,-2l.2,1.3l.19,1l.2,1.2l.19,-2.9l.2,4.1l.2,-1.5l.19,-.9l.2,-1l.19,3.8l.2,-2.2l.19,-.6l.2,-1.1l.19,1.5l.2,.7l.2,-1.2l.19,1.4l.2,-.7l.19,-.5l.2,.5l.19,2.4l.2,-.6l.19,-2.1l.2,-.3l.2,.9l.19,-3.2l.2,2.7l.19,.3l.2,-1.9l.19,.7l.2,-.1l.19,1.2l.2,-.8l.2,2l.19,-1.6l.2,-.2l.19,2l.2,-2.7l.19,-1.1l.2,1.7l.19,-.3l.2,2.9l.19,-1.7l.2,-.2l.2,-.7l.19,1l.2,.4l.19,2.1l.2,-3.4l.19,1.1l.2,-1l.19,-.1l.2,-1.2l.2,4.4l.19,-3.7l.2,2.1l.19,-1.1l.2,-1l.19,1l.2,-.5l.19,-.3l.2,1l.2,-.8l.19,.6l.2,1.1l.19,-3l.2,.8l.19,2.2l.2,0l.19,-1.3l.2,0l.2,-2l.19,2.4l.2,-.8l.19,.3l.2,.2l.19,2.7l.2,-2.6l.19,2.2l.2,-1.9l.2,-1.1l.19,-1.2l.2,1.9l.19,0l.2,-2.3l.19,3l.2,-3l.19,4.2l.2,-1.9l.19,1.6l.2,-2.6l.2,2.5l.19,-1.8l.2,.3l.19,-.9l.2,2.7l.19,-2.2l.2,-.6l.19,1.5l.2,.5l.2,-1.2l.19,-1.1l.2,1.2l.19,-2.2l.2,2.1l.19,0l.2,.3l.19,2.7l.2,-1.6l.2,-1l.19,-.5l.2,0l.19,.4l.2,.3l.19,-2.1l.2,-.5l.19,1.9l.2,-1.3l.2,1.7l.19,-1.2l.2,1.1l.19,-.4l.2,-1l.19,-.1l.2,2.3l.19,-2.1l.2,-.9l.2,1.9l.19,1.1l.2,.2l.19,-1.7l.2,.6l.19,0l.2,.7l.19,-.2l.2,-1l.19,3l.2,-2l.2,-.7l.19,.9l.2,-.7l.19,0l.2,2.6l.19,-3l.2,1l.19,-1.4l.2,1.3l.2,-1.7l.19,.6l.2,1l.19,-.1l.2,-1l.19,.5l.2,3.2l.19,-5.3l.2,.1l.2,2.4l.19,-2.8l.2,1.8l.19,.9l.2,.8l.19,-3.5l.2,3.4l.19,-1l.2,.5l.2,.5l.19,-3.8l.2,1l.19,4.5l.2,-4.5l.19,1.4l.2,0l.19,0l.2,.9l.2,-1.3l.19,.4l.2,1.4l.19,-1.5l.2,.1l.19,.8l.2,-1l.19,1.7l.2,-.9l.2,-1.6l.19,1l.2,0l.19,.5l.2,-.4l.19,-2.3l.2,2.3l.19,.1l.2,1.4l.19,1.2l.2,-3.3l.2,.9l.19,2.2l.2,-2.5l.19,-1.5l.2,3.9l.19,-4.3l.2,1.9l.19,.9l.2,1l.2,-1.9l.19,-.3l.2,.7l.19,1.1l.2,.4l.19,-2.3l.2,.2l.19,1.7l.2,-1.1l.2,1.2l.19,-.9l.2,.4l.19,1.6l.2,-4.4l.19,2.7l.2,-.8l.19,-.4l.2,1l.2,-.4l.19,2.2l.2,-1.4l.19,-1.6l.2,1.1l.19,.3l.2,-2.3l.19,1.1l.2,-2.5l.2,4.2l.19,.5l.2,-1.6l.19,.1l.2,-1l.19,1.3l.2,-2.4l.19,2.6l.2,-.2l.19,-1.3l.2,1.3l.2,.3l.19,-1.1l.2,.3l.19,1.5l.2,-3.4l.19,2.7l.2,-1.7l.19,1.1l.2,-.4l.2,.7l.19,-2.7l.2,2.8l.19,-1.3l.2,2.6l.19,-3.1l.2,-.3l.19,1.5l.2,-3l.2,3.5l.19,.5l.2,-1l.19,1.5l.2,-1.7l.19,1.5l.2,-.2l.19,-2.5l.2,2l.2,-1.6l.19,1.9l.2,2.4l.19,-3l.2,-.4l.19,3.1l.2,-1.2l.19,1.4l.2,-1.1l.2,-2.2l.19,2.2l.2,-2.8l.19,4.3l.2,-3.2l.19,1.8l.2,-1.6l.19,2.1l.2,-3.5l.19,1.2l.2,-.2l.2,2.3l.19,1l.2,-3.7l.19,9.9l.2,-6.2l.19,4.5l.2,-3.7l.19,9.5l.2,-7.3l.2,.2l.19,-.9l.2,-1l.19,-3.9l.2,1.5l.19,-2l.2,-.8l.19,1.5l.2,-.5l.2,2.6l.19,-5.8l.2,1.1l.19,2.7l.2,-3.3l.19,1.4l.2,.8l.19,1.2l.2,-.4l.2,-.3l.19,-.8l.2,.7l.19,.5l.2,-.7l.19,-2.4l.2,3.6l.19,-1l.2,-.3l.2,.2l.19,-.1l.2,-1.4l.19,1l.2,-.6l.19,4l.2,-3.9l.19,-2.2l.2,2.2l.2,1.1l.19,-.9l.2,.9l.19,-1l.2,-.8l.19,1.6l.2,-.2l.19,2.4l.2,-2.3l.19,-2.4l.2,2.2l.2,1.6l.19,-2.4l.2,2.6l.19,-3.9l.2,2.4l.19,-2.6l.2,1.8l.19,1.6l.2,.1l.2,-.5l.19,-.3l.2,-1.6l.19,2.3l.2,-1l.19,-.4l.2,.4l.19,-1.2l.2,.1l.2,.6l.19,1.3l.2,-.6l.19,.1l.2,2l.19,-4l.2,1.2l.19,.5l.2,.8l.2,-1.7l.19,.8l.2,.6l.19,-.4l.2,0l.19,1.1l.2,0l.19,-1l.2,.1l.2,2l.19,-2.3l.2,-2.4l.19,2.3l.2,-.2l.19,.1l.2,.3l.19,-2.3l.2,2l.19,.2l.2,-2.5l.2,.7l.19,3.8l.2,-1.4l.19,.4l.2,-2.6l.19,-.6l.2,3.2l.19,0l.2,.7l.2,-2.1l.19,.6l.2,1l.19,-1.6l.2,.5l.19,.1l.2,.1l.19,2.1l.2,-3.8l.2,-.7l.19,2.4l.2,.5l.19,-1.7l.2,.7l.19,-.3l.2,3.1l.19,-3.1l.2,-.8l.2,1.3l.19,-.3l.2,.9l.19,-.9l.2,.6l.19,.6l.2,-.4l.19,-.3l.2,.1l.2,1.1l.19,-1.7l.2,.9l.19,-2.1l.2,1.9l.19,.8l.2,1l.19,-.4l.2,-1.4l.19,.2l.2,1.4l.2,-2.5l.19,1.9l.2,-1.9l.19,.6l.2,.1l.19,-.9l.2,.5l.19,-1l.2,.2l.2,1.1l.19,0l.2,.8l.19,-2.7l.2,1.7l.19,.1l.2,1.9l.19,0l.2,-2.2l.2,-.4l.19,.1l.2,-.2l.19,1.1l.2,-.6l.19,2.2l.2,-1.8l.19,-2.9l.2,3.3l.2,-1l.19,2.4l.2,-1.8l.19,-.2l.2,0l.19,-1.5l.2,2.2l.19,-.3l.2,-1.6l.2,4.5l.19,-3.9l.2,.8l.19,.2l.2,1l.19,-1l.2,.2l.19,1.3l.2,-2.9l.2,1.9l.19,-.2l.2,-1l.19,.1l.2,1l.19,-2.1l.2,2.7l.19,1.9l.2,-2.2l.19,1.8l.2,-2.1l.2,-1.7l.19,.6l.2,-.5l.19,1.6l.2,-.8l.19,-1.5l.2,-.1l.19,1.7l.2,0l.2,.3l.19,-1.9l.2,1.3l.19,.4l.2,-1.5l.19,2.6l.2,-3.3l.19,4.5l.2,-.3l.2,-1.1l.19,-.4l.2,-.1l.19,-.9l.2,1l.19,.4l.2,-2.5l.19,3.5l.2,-1.1l.2,-1.3l.19,-1.1l.2,3.3l.19,-1.5l.2,1.8l.19,-1.6l.2,-2.4l.19,2.1l.2,-1.2l.2,-.6l.19,1.2l.2,.1l.19,1.9l.2,.1l.19,-1.1l.2,-1.9l.19,1.6l.2,-.3l.19,.9l.2,-.8l.2,-.2l.19,-.3l.2,.3l.19,1.9l.2,1l.19,-.9l.2,-.5l.19,-1.6l.2,.2l.2,-2.1l.19,2.3l.2,1.5l.19,-3l.2,1.1l.19,-3.1l.2,5.2l.19,-1.7l.2,-.7l.2,-.8l.19,-.5l.2,2.8l.19,-1.1l.2,1l.19,-1.7l.2,.2l.19,.1l.2,-.3l.2,1.1l.19,-.7l.2,.2l.19,1.8l.2,-3.2l.19,4.6l.2,-3.7l.19,-.3l.2,-1.6l.2,5.1l.19,-3l.2,2.8l.19,-1.9l.2,-3l.19,.1l.2,1.2l.19,.5l.2,.9l.19,3.1l.2,-3l.2,.3l.19,-1.7l.2,1.7l.19,-1.6l.2,1.3l.19,-2.5l.2,2.9l.19,1.7l.2,-5.2l.2,3.8l.19,-.8l.2,0l.19,-.4l.2,.2l.19,.4l.2,.4l.19,-.5l.2,-1.9l.2,-2.1l.19,1.7l.2,2.6l.19,-.6l.2,1.4l.19,-1.7l.2,.6l.19,-1.7l.2,1.3l.2,-2.3l.19,2l.2,.8l.19,.4l.2,-2.9l.19,-.1l.2,2.2l.19,.1l.2,-.3l.2,.5l.19,-.1l.2,-.3l.19,.9l.2,-.4l.19,.5l.2,-1.8l.19,1.8l.2,1.4l.2,-1.6l.19,.1l.2,0l.19,-.5l.2,.3l.19,-1.4l.2,3.4l.19,-2l.2,-1.3l.19,2.3l.2,-2.8l.2,1.9l.19,-.4l.2,.9l.19,-1.3l.2,-.9l.19,1l.2,-.4l.19,.9l.2,.8l.2,-1.1l.19,-2.7l.2,2l.19,.9l.2,-.4l.19,1l.2,-2.2l.19,1.4l.2,3l.2,-3l.19,.7l.2,-1.3l.19,1.2l.2,-.1l.19,-1.3l.2,1.1l.19,-3.8l.2,4.3l.2,-1.2l.19,0l.2,2.1l.19,-1.4l.2,-1.6l.19,1.6l.2,-.3l.19,-.7l.2,3.4l.2,-2.5l.19,-2.8l.2,1.6l.19,2.9l.2,-.7l.19,-.8l.2,-1.9l.19,2.2l.2,.7l.19,-2.2l.2,-1.4l.2,1l.19,.7l.2,2.4l.19,-1.4l.2,-.3l.19,0l.2,.4l.19,-2.5l.2,2.8l.2,-1.2l.19,-.5l.2,.1l.19,1.5l.2,-1.3l.19,-.1l.2,0l.19,1.8l.2,-1.2l.2,.2l.19,1.4l.2,-.2l.19,-2.7l.2,.8l.19,2.2l.2,-1.6l.19,0l.2,-.2l.2,-.1l.19,1.3l.2,-.9l.19,-.3l.2,-.8l.19,1.3l.2,-.4l.19,.2l.2,.2l.2,-.6l.19,.3l.2,-1.3l.19,-.1l.2,1.8l.19,-1.1l.2,-.5l.19,.6l.2,.5l.19,-.1l.2,2.2l.2,-2.1l.19,2.6l.2,-4.3l.19,1.8l.2,1.3l.19,-.4l.2,.8l.19,-3.3l.2,.2l.2,1.5l.19,.1l.2,.3l.19,-.3l.2,-1.2l.19,1.2l.2,.2l.19,-.4l.2,2.9l.2,-1.9l.19,-.6l.2,-1.5l.19,-1.5l.2,3.3l.19,-.5l.2,.2l.19,0l.2,-1.3l.2,.3l.19,-1.4l.2,1.5l.19,2.1l.2,-4.1l.19,.5l.2,1.9l.19,.8l.2,1.6l.2,-.6l.19,-1.7l.2,-.3l.19,-1.7l.2,2.3l.19,-1.1l.2,1.5l.19,-2.1l.2,1.3l.2,0l.19,.7l.2,1.8l.19,-1.1l.2,-1l.19,-.7l.2,2.4l.19,-.8l.2,-2.3l.19,3.9l.2,-1.8l.2,-1.5l.19,-.4l.2,1.1l.19,-.4l.2,.7l.19,-.8l.2,.3l.19,1.7l.2,-.4l.2,.5l.19,-2l.2,-.4l.19,3.2l.2,-.6l.19,-3l.2,-2l.19,2l.2,1.5l.2,-1.9l.19,1.4l.2,1.4l.19,-2.2l.2,-1.8l.19,3.8l.2,-2l.19,-3.8l.2,1l.2,1.9l.19,2.4l.2,.1l.19,-.4l.2,-2.6l.19,1.7l.2,-2.6l.19,.1l.2,3.7l.2,-.4l.19,2.7l.2,-2.7l.19,2.7l.2,-3.1l.19,1.9l.2,.8l.19,-1l.2,-2.1l.19,-.9l.2,.6l.2,.5l.19,0l.2,2.1l.19,1.7l.2,-4l.19,1.2l.2,.6l.19,3.1l.2,-2.4l.2,-.6l.19,3.4l.2,1.6l.19,-.7l.2,-1.7l.19,-2.9l.2,.3l.19,-.1l.2,1.7l.2,-6.6l.19,3.7l.2,-3.4l.19,3.5l.2,.8l.19,-1.8l.2,.6l.19,.5l.2,3.5l.2,-4.7l.19,-1l.2,4.4l.19,-3l.2,-.5l.19,0l.2,-.5l.19,-.1l.2,1.7l.2,-.5l.19,0l.2,.8l.19,-1.4l.2,1.2l.19,-.3l.2,0l.19,1l.2,-.8l.19,-.2l.2,-.6l.2,-.4l.19,.9l.2,-1.6l.19,1.1l.2,.1l.19,1.2l.2,-.6l.19,-2.9l.2,1.6l.2,1.8l.19,-.3l.2,.5l.19,0l.2,.7l.19,-1.5l.2,-1.8l.19,3.5l.2,-.8l.2,-2.1l.19,.8l.2,1.1l.19,-.2l.2,-1l.19,-2.2l.2,2.5l.19,-.1l.2,-1.1l.2,2.3l.19,-.8l.2,0l.19,-1l.2,-.3l.19,-.8l.2,-.9l.19,2.6l.2,.2l.2,-.2l.19,-.8l.2,1.6l.19,.7l.2,-2.7l.19,.3l.2,2.9l.19,-1.8l.2,-.4l.2,.8l.19,.3l.2,-.7l.19,.5l.2,.3l.19,1.6l.2,-2.8l.19,.1l.2,1.8l.19,-1.5l.2,.1l.2,-.7l.19,.1l.2,.9l.19,.8l.2,1.5l.19,-2.9l.2,-1.4l.19,2.1l.2,-.8l.2,1.9l.19,-2.2l.2,1.2l.19,-.1l.2,-.6l.19,.2l.2,1.7l.19,.2l.2,-.5l.2,-2.2l.19,2.6l.2,-1.1l.19,0l.2,-.9l.19,0l.2,0l.19,2.9l.2,-1.7l.2,-.1l.19,-2.8l.2,2.7l.19,1.1l.2,-.7l.19,-1.6l.2,.5l.19,-.9l.2,.5l.2,0l.19,.2l.2,-.2l.19,0l.2,.1l.19,.2l.2,0l.19,-.1l.2,-.4l.19,-.4l.2,1.7l.2,.1l.19,2.1l.2,-3.2l.19,2.2l.2,-2.6l.19,.5l.2,0l.19,-.5l.2,1.8l.2,-2.1l.19,.3l.2,.1l.19,-1.2l.2,1.6l.19,-2.4l.2,2.1l.19,1l.2,-2l.2,.3l.19,2.3l.2,-1.4l.19,0l.2,-2.6l.19,2.8l.2,-1l.19,4.3l.2,-5.8l.2,2.6l.19,.4l.2,.4l.19,-1.4l.2,.4l.19,-2l.2,.5l.19,1.2l.2,-1.2l.2,1.8l.19,-.3l.2,-.6l.19,.8l.2,1.3l.19,-1.9l.2,0l.19,1.8l.2,-3.1l.19,1.1l.2,1.7l.2,-1.4l.19,-.4l.2,1.6l.19,-1.3l.2,1.4l.19,-1.2l.2,.1l.19,-.4l.2,.2l.2,-1.9l.19,5l.2,-3.2l.19,2l.2,-2.3l.19,-.7l.2,.8l.19,3l.2,-3l.2,.2l.19,1.5l.2,1.2l.19,-3.5l.2,1.1l.19,4.1l.2,-3.8l.19,.6l.2,-.9l.2,-2.7l.19,3.6l.2,-.7l.19,.1l.2,-.4l.19,.8l.2,-1.1l.19,.4l.2,.9l.2,-1.3l.19,-1.1l.2,1.8l.19,-1.5l.2,1.8l.19,1.6l.2,-1.6l.19,1.1l.2,-1.2l.19,.7l.2,-1.7l.2,2.5l.19,-2.5l.2,-1.6l.19,1l.2,3.9l.19,-2.8l.2,.7l.19,-.8l.2,-.8l.2,.9l.19,.5l.2,-.8l.19,.3l.2,-.4l.19,1.4l.2,-.2l.19,-1l.2,.8l.2,.7l.19,-3l.2,1.6l.19,1.1l.2,-1.4l.19,1.1l.2,2.1l.19,.1l.2,-5.7l.2,3.4l.19,.8l.2,-1l.19,-.6l.2,.1l.19,.6l.2,-.5l.19,1.5l.2,-1.7l.2,.9l.19,-.4l.2,-.6l.19,.4l.2,.4l.19,-1l.2,.4l.19,.6l.2,-1.2l.2,1.5l.19,-1l.2,-.9l.19,.5l.2,.3l.19,-.2l.2,-.4l.19,.5l.2,-.8l.19,1.4l.2,-1.6l.2,1.5l.19,-.1l.2,.5l.19,-.3l.2,-.1l.19,-.4l.2,-1.1l.19,1.1l.2,-.8l.2,2.2l.19,0l.2,-.8l.19,.1l.2,.1l.19,-1.6l.2,1.6l.19,1.1l.2,-2.9l.2,-.4l.19,1.6l.2,.3l.19,-1.1l.2,1.6l.19,.8l.2,-1.1l.19,-.6l.2,.6l.2,2.6l.19,-2.5l.2,-1.6l.19,.3l.2,.4l.19,2.9l.2,.7l.19,-3.6l.2,.6l.2,-2.3l.19,2.4l.2,2l.19,-3.2l.2,1.9l.19,-.9l.2,.3l.19,-.8l.2,1l.19,1.7l.2,-2.9l.2,1.6l.19,-2.1l.2,-1l.19,3.1l.2,-.8l.19,-.2l.2,-.9l.19,1.1l.2,.8l.2,-.6l.19,-1.4l.2,-.1l.19,.6l.2,-.3l.19,3l.2,-1.4l.19,-1.1l.2,1.8l.2,-.6l.19,-.9l.2,-1.7l.19,1.9l.2,-.4l.19,-.5l.2,.3l.19,.2l.2,-1.6l.2,2.4l.19,-.4l.2,.4l.19,-2l.2,-1.1l.19,1.2l.2,-.2l.19,.9l.2,.3l.2,-.4l.19,0l.2,1.4l.19,-.4l.2,-.7l.19,1.2l.2,-1l.19,-.6l.2,-1.6l.19,5.8l.2,-2.7l.2,1.3l.19,-1.3l.2,-.7l.19,0l.2,1.8l.19,-.7l.2,.2l.19,-1.6l.2,-.3l.2,.8l.19,-.7l.2,2.4l.19,-1.6l.2,2.7l.19,-3.6l.2,.9l.19,-.8l.2,.7l.2,.8l.19,-1.6l.2,-1.4l.19,.6l.2,.9l.19,.1l.2,2.8l.19,-2.3l.2,3l.2,-3.3l.19,-.3l.2,1.3l.19,-.5l.2,-.4l.19,.5l.2,-.4l.19,-1.1l.2,1.4l.2,-.3l.19,.3l.2,-.6l.19,3.5l.2,-3.9l.19,-1.2l.2,2.7l.19,.3l.2,-1.3l.2,.7l.19,.5l.2,-2l.19,.4l.2,1.6l.19,-1l.2,3.1l.19,-3l.2,1.6l.19,1.1l.2,-.3l.2,-4.3l.19,1.2l.2,.5l.19,-.1l.2,.4l.19,1.9l.2,-2.1l.19,1.5l.2,-1.7l.2,1.2l.19,-3.9l.2,5.9l.19,-2.9l.2,-1.3l.19,.8l.2,.2l.19,-.3l.2,-.2l.2,.7l.19,.5l.2,-.4l.19,.3l.2,.3l.19,.9l.2,1.2l.19,-3.3l.2,-.5l.2,-.6l.19,.3l.2,.5l.19,3.2l.2,-2.5l.19,.7l.2,2.6l.19,-3l.2,.3l.2,-3.7l.19,3.5l.2,-.1l.19,1l.2,-.5l.19,3l.2,-1.2l.19,-4.4l.2,4.4l.19,-3.6l.2,.8l.2,.8l.19,.6l.2,-4.3l.19,2.5l.2,1.5l.19,-.8l.2,.2l.19,-1.8l.2,1.1l.2,1l.19,0l.2,-1.9l.19,2.8l.2,-3.3l.19,4.4l.2,-2.1l.19,1l.2,-1.5l.2,.6l.19,.3l.2,-1.6l.19,2l.2,-1.4l.19,3.1l.2,-2.2l.19,-.7l.2,-.6l.2,.5l.19,.3l.2,-.5l.19,-.9l.2,2.1l.19,-.9l.2,-.1l.19,-.8l.2,1.6l.2,-.9l.19,1l.2,.6l.19,-1.8l.2,.5l.19,-.1l.2,-.8l.19,.1l.2,2.1l.19,-.4l.2,-.1l.2,-.5l.19,-1.4l.2,.9l.19,1.4l.2,.1l.19,-.9l.2,-1.1l.19,.4l.2,.8l.2,2.5l.19,-2.7l.2,-2l.19,4.5l.2,-2.8l.19,.6l.2,.8l.19,-2.2l.2,1l.2,-.5l.19,-.4l.2,2.5l.19,-2.4l.2,1.9l.19,-4.2l.2,3l.19,-1l.2,-.8l.2,1.7l.19,1.1l.2,-.4l.19,-.4l.2,-2l.19,3.9l.2,-.9l.19,-3.2l.2,2l.2,-.1l.19,-.7l.2,.6l.19,-1l.2,1.8l.19,-.5l.2,.5l.19,-2.4l.2,1.5l.2,.3l.19,0l.2,0l.19,0l.2,-1.1l.19,2.6l.2,-1.9l.19,-.5l.2,.4l.19,.3l.2,-1.8l.2,.6l.19,1.5l.2,-.5l.19,-1.4l.2,.5l.19,1l.2,-.8l.19,.6l.2,-.7l.2,0l.19,2.9l.2,-2.4l.19,1l.2,-1.1l.19,2.9l.2,-2.1l.19,.9l.2,-.5l.2,-2.1l.19,3.1l.2,-.4l.19,-.4l.2,-.7l.19,1l.2,-3.8l.19,4l.2,.2l.2,-3.5l.19,2.8l.2,-.4l.19,-.3l.2,.5l.19,.6l.2,-.6l.19,-2.6l.2,1.9l.2,-1l.19,2.6l.2,-1.7l.19,2.5l.2,.3l.19,-2.4l.2,2l.19,-1.8l.2,2.5l.19,-2.4l.2,0l.2,-2.9l.19,2.5l.2,.8l.19,-1.2l.2,-1.9l.19,2.5l.2,.2l.19,.7l.2,-1.8l.2,-1.6l.19,3.7l.2,-2.9l.19,.3l.2,.9l.19,-.3l.2,-.5l.19,.9l.2,-.3l.2,1.9l.19,-3.4l.2,-.8l.19,2.7l.2,-.1l.19,.6l.2,-.6l.19,.9l.2,1.6l.2,.1l.19,-3.2l.2,.7l.19,.4l.2,1.5l.19,-2.8l.2,-.8l.19,0l.2,2.8l.2,-3.7l.19,1.4l.2,.7l.19,-.1l.2,2.2l.19,-3.4l.2,1.6l.19,.6l.2,-.5l.19,2.2l.2,-1.2l.2,-.1l.19,1l.2,-.5l.19,-.8l.2,-.2l.19,-.8l.2,.9l.19,-.7l.2,.9l.2,-.6l.19,-1.9l.2,3.2l.19,0l.2,-1.7l.19,.6l.2,-1.2l.19,1.9l.2,-1.7l.2,-1l.19,-.2l.2,2.7l.19,-1.4l.2,1l.19,-.1l.2,.2l.19,.6l.2,-3.6l.2,2.4l.19,1.4l.2,-1.7l.19,.8l.2,.1l.19,-1.3l.2,0l.19,3.3l.2,-2.6l.2,1.2l.19,-.3l.2,.3l.19,-1.2l.2,.1l.19,3.9l.2,-2.5l.19,-1.1l.2,-.5l.2,2.6l.19,-2.2l.2,.8l.19,.1l.2,-3.1l.19,-1.2l.2,3.2l.19,-.2l.2,1.6l.19,-1.4l.2,-1.7l.2,2.3l.19,1.7l.2,-1.9l.19,.8l.2,-.2l.19,-.2l.2,.3l.19,-1l.2,.9l.2,-1.3l.19,1.2l.2,-1l.19,0l.2,-1.4l.19,2.3l.2,-.5l.19,-.8l.2,.2l.2,1.8l.19,-1.8l.2,1.6l.19,-1.4l.2,.8l.19,-.5l.2,.8l.19,-1.2l.2,-.5l.2,1.3l.19,1.2l.2,-2.2l.19,-.5l.2,1.3l.19,.5l.2,-1.9l.19,1.4l.2,-.1l.2,1.7l.19,-1.9l.2,-1.9l.19,4.5l.2,-2.1l.19,-.9l.2,-.1l.19,1.8l.2,1.8l.19,-2.4l.2,.3l.2,-.1l.19,-2l.2,.4l.19,.8l.2,-1.4l.19,1.2l.2,.1l.19,-.7l.2,0l.2,.3l.19,.4l.2,-.7l.19,.8l.2,.4l.19,.4l.2,.7l.19,-2.6l.2,1.8l.2,-1.7l.19,.7l.2,-2.7l.19,3l.2,-1l.19,.6l.2,1l.19,.2l.2,-1.4l.2,-.2l.19,.2l.2,2.2l.19,.2l.2,-2.5l.19,-1.1l.2,1.2l.19,1.7l.2,-3l.2,1.4l.19,1l.2,-.8l.19,3.2l.2,-2.3l.19,-.2l.2,2l.19,-2.5l.2,1.8l.19,-1.7l.2,2.5l.2,-5.3l.19,3.2l.2,-1.8l.19,2.7l.2,-.6l.19,-.1l.2,.1l.19,-1.1l.2,0l.2,0l.19,1.3l.2,-2l.19,.8l.2,1.5l.19,.1l.2,.2l.19,-.6l.2,-1.5l.2,1.2l.19,-1.6l.2,-.1l.19,.9l.2,.2l.19,.5l.2,-.2l.19,-2.2l.2,3.4l.2,-3.7l.19,2.9l.2,-.5l.19,-3.1l.2,4.1l.19,1.7l.2,-4l.19,2.3l.2,-.9l.2,.1l.19,.9l.2,.2l.19,-2.8l.2,1.2l.19,-2.7l.2,4.5l.19,-.7l.2,.2l.2,-1.1l.19,-.8l.2,.7l.19,.2l.2,2.4l.19,-2.5l.2,-.4l.19,-.5l.2,.9l.19,.1l.2,-.5l.2,1.2l.19,.7l.2,1.2l.19,-2l.2,-1.9l.19,1.9l.2,-.8l.19,1.7l.2,-1.3l.2,-.4l.19,.9l.2,-1.2l.19,1.9l.2,-.2l.19,-.5l.2,1.6l.19,-2.6l.2,.6l.2,-1.5l.19,2.3l.2,-3l.19,1.7l.2,-2.3l.19,2.5l.2,1l.19,-1.3l.2,1.6l.2,-.9l.19,.1l.2,-.8l.19,1.2l.2,-.3l.19,-.2l.2,-.7l.19,.4l.2,-1.1l.2,.4l.19,-.5l.2,.4l.19,.4l.2,2.2l.19,-3.2l.2,.5l.19,3.2l.2,-2.8l.19,-.8l.2,2.8l.2,-1.7l.19,.1l.2,.7l.19,-.2l.2,-.3l.19,.5l.2,-1.3l.19,-2.4l.2,.2l.2,4.6l.19,-.6l.2,.8l.19,.9l.2,-2.2l.19,5.2l.2,-1.5l.19,1.6l.2,-3l.2,2l.19,-4.5l.2,-1.5l.19,1.4l.2,2.1l.19,-3.8l.2,2.2l.19,-1.7l.2,.8l.2,.3l.19,-2.6l.2,.1l.19,1l.2,.9l.19,-.3l.2,-.8l.19,3.7l.2,-2l.2,.8l.19,-1l.2,-.6l.19,.3l.2,-.6l.19,-1.3l.2,2.1l.19,-.1l.2,-.3l.19,-2.7l.2,2l.2,0l.19,-1.5l.2,.2l.19,-.3l.2,2.9l.19,-2.3l.2,2l.19,.3l.2,-.9l.2,.4l.19,-1.3l.2,.7l.19,.7l.2,-1l.19,.9l.2,2.6l.19,-2.2l.2,.7l.2,-2.3l.19,1.1l.2,-.3l.19,1.3l.2,-1.3l.19,.1l.2,-.9l.19,1.6l.2,-.1l.2,-1.4l.19,1.6l.2,-2.3l.19,2.4l.2,-.4l.19,-.1l.2,.4l.19,-.1l.2,-.1l.2,.9l.19,-3.9l.2,3.2l.19,.4l.2,-1.2l.19,1l.2,-2l.19,.6l.2,1.1l.2,-.5l.19,1.5l.2,-.7l.19,.1l.2,.3l.19,-.3l.2,-.4l.19,.2l.2,2.6l.19,-1.1l.2,-4.5l.2,2.9l.19,-.6l.2,1.3l.19,-1.9l.2,-1.6l.19,2.1l.2,.3l.19,-.5l.2,2.6l.2,.4l.19,-.7l.2,-1.8l.19,-.5l.2,0l.19,.5l.2,2.6l.19,-3.4l.2,1.3l.2,1.9l.19,-3l.2,4.5l.19,-5.9l.2,2.6l.19,-1.1l.2,.1l.19,1.5l.2,.9l.2,-3.8l.19,1.7l.2,-2.2l.19,1.6l.2,.9l.19,.2l.2,.6l.19,-1.2l.2,-.6l.2,1.3l.19,-1.3l.2,1l.19,-.5l.2,.3l.19,.7l.2,-.7l.19,-.2l.2,.9l.19,-2l.2,1.8l.2,-2l.19,1.7l.2,.5l.19,-2.4l.2,1.8l.19,1.3l.2,-1.5l.19,-.3l.2,-1.5l.2,2.1l.19,.2l.2,-3.2l.19,3.6l.2,-.7l.19,-2.8l.2,1.1l.19,2.1l.2,-.3l.2,.2l.19,1.8l.2,-3l.19,-1.1l.2,1.9l.19,.3l.2,.4l.19,-.9l.2,.3l.2,-.6l.19,1l.2,-.9l.19,0l.2,2.2l.19,0l.2,-1.7l.19,-.2l.2,.4l.2,-1.4l.19,1.2l.2,.4l.19,-2l.2,.9l.19,-1.4l.2,1.7l.19,.7l.2,-.8l.19,-1.7l.2,2.5l.2,-1.7l.19,1.6l.2,1.4l.19,-1.3l.2,-.7l.19,-.1l.2,-.8l.19,1.2l.2,-2.3l.2,2.1l.19,.9l.2,-.9l.19,.2l.2,-1.2l.19,1.5l.2,-.8l.19,2.2l.2,-2l.2,-.8l.19,.2l.2,1.4l.19,-2l.2,1.8l.19,-2.5l.2,1.5l.19,-.8l.2,1.7l.2,-.1l.19,2.1l.2,-3.2l.19,3l.2,1.3l.19,-5.6l.2,2.7l.19,.6l.2,-4.5l.2,7.1l.19,-.1l.2,-4.1l.19,.9l.2,-2.5l.19,0l.2,.2l.19,1.1l.2,0l.2,-.3l.19,1.4l.2,.4l.19,-.1l.2,.9l.19,-.6l.2,-1l.19,2.9l.2,-3l.19,.6l.2,-.3l.2,-.7l.19,2.9l.2,-3.7l.19,1.6l.2,1.9l.19,-3.4l.2,1.7l.19,-2.1l.2,.9l.2,-.9l.19,-.1l.2,2.8l.19,-2.1l.2,.5l.19,-.7l.2,1.1l.19,2.8l.2,-3.8l.2,3.1l.19,-2.7l.2,.3l.19,1.9l.2,-1.4l.19,-1.7l.2,-.2l.19,2.6l.2,-1.1l.2,1.8l.19,-2.1l.2,.1l.19,.8l.2,1l.19,-.4l.2,-2.9l.19,.3l.2,2.3l.2,-1.3l.19,-.3l.2,2.2l.19,-1.5l.2,.3l.19,1l.2,-1l.19,1.7l.2,.4l.19,-2.7l.2,.1l.2,.9l.19,.6l.2,-.4l.19,-2.3l.2,2.3l.19,0l.2,-.8l.19,2.3l.2,.4l.2,-4.8l.19,2.6l.2,-.3l.19,-.4l.2,1.8l.19,-2.8l.2,-.3l.19,1.5l.2,.5l.2,-1l.19,.9l.2,.3l.19,-.2l.2,-2.2l.19,2l.2,1.6l.19,-1.1l.2,-.3l.2,-1.9l.19,-.6l.2,.3l.19,1.9l.2,1l.19,-.1l.2,-.2l.19,-.7l.2,0l.2,2.1l.19,-1.7l.2,-1.3l.19,1l.2,.3l.19,.1l.2,-.5l.19,.5l.2,1.3l.19,-1.6l.2,-.3l.2,-.2l.19,0l.2,1.7l.19,-.5l.2,-1.3l.19,1.4l.2,-1.8l.19,1.6l.2,-1.7l.2,-.1l.19,1.8l.2,-.4l.19,.4l.2,-1.2l.19,.6l.2,.5l.19,1.8l.2,-3.2l.2,1.9l.19,-.4l.2,-2l.19,-.5l.2,1.7l.19,0l.2,.2l.19,.8l.2,-.6l.2,.5l.19,-.8l.2,-1.6l.19,.4l.2,1.9l.19,-1.8l.2,1.2l.19,.4l.2,0l.2,-.9l.19,1.1l.2,.7l.19,-.7l.2,-1.1l.19,1l.2,-.2l.19,.2l.2,.5l.2,-2.8l.19,2.6l.2,-1l.19,.9l.2,-1.4l.19,-.3l.2,.8l.19,-.7l.2,.1l.19,-1l.2,3.8l.2,-1.2l.19,-.9l.2,-.6l.19,1.9l.2,-1.2l.19,.5l.2,-1.1l.19,2l.2,-1.6l.2,-.3l.19,.9l.2,-1.2l.19,1.2l.2,-1.1l.19,1.8l.2,-.9l.19,0l.2,-.3l.2,-1l.19,2.2l.2,-3.1l.19,3.1l.2,-2.3l.19,2.4l.2,.7l.19,-1.3l.2,-.1l.2,-1.5l.19,1.5l.2,-.5l.19,-.2l.2,0l.19,2.2l.2,-1.8l.19,-1l.2,.5l.2,2.5l.19,-2.5l.2,.3l.19,3.1l.2,-3.9l.19,1l.2,1.3l.19,-2.4l.2,-.3l.19,1.4l.2,-.5l.2,2.1l.19,1.4l.2,-3.6l.19,1.4l.2,.2l.19,-1.2l.2,.3l.19,-1.4l.2,3.8l.2,-2l.19,2.3l.2,-3.2l.19,0l.2,1.1l.19,-.8l.2,-.6l.19,-2.5l.2,2.9l.2,.2l.19,1l.2,-.6l.19,-.7l.2,-.7l.19,1.3l.2,-.1l.19,-.1l.2,-.3l.2,1.9l.19,-1l.2,-1.5l.19,.7l.2,-.1l.19,.2l.2,.5l.19,0l.2,-1.5l.2,3.1l.19,-2l.2,-.8l.19,-1.2l.2,1.9l.19,.6l.2,-2.5l.19,.6l.2,1.3l.19,.6l.2,-2.1l.2,1.5l.19,0l.2,.5l.19,-.9l.2,.9l.19,1.3l.2,-4.2l.19,2.9l.2,.4l.2,-3l.19,1.5l.2,-1.3l.19,3.2l.2,-1.4l.19,-.6l.2,.5l.19,-.3l.2,.2l.2,-1.3l.19,1.1l.2,.5l.19,-.4l.2,.3l.19,1.7l.2,-2.2l.19,.6l.2,0l.2,.2l.19,0l.2,.4l.19,-1.2l.2,.6l.19,-.1l.2,1.4l.19,-2l.2,.2l.2,3l.19,-2.4l.2,.5l.19,.8l.2,-1.6l.19,-.6l.2,1l.19,1.7l.2,-.5l.2,-1l.19,-2.6l.2,.2l.19,.4l.2,2l.19,.7l.2,-1.2l.19,-1.7l.2,1.4l.19,-1.5l.2,1.3l.2,.9l.19,1l.2,.2l.19,.8l.2,-.6l.19,1l.2,-2.1l.19,-.6l.2,1.3l.2,-.9l.19,-.9l.2,.3l.19,-1.1l.2,2l.19,-1.1l.2,0l.19,.4l.2,1.6l.2,-3.7l.19,2.6l.2,-.9l.19,1.1l.2,-2l.19,1.3l.2,-1.6l.19,2.1l.2,-.1l.2,-.3l.19,1l.2,1.3l.19,-3.2l.2,.3l.19,-1.5l.2,1.7l.19,.6l.2,-.1l.2,-.7l.19,2.9l.2,-3.1l.19,-1.2l.2,0l.19,2.7l.2,-2.4l.19,-.9l.2,1.5l.19,.2l.2,1.9l.2,-1.7l.19,.9l.2,1l.19,-1.8l.2,.6l.19,-2.1l.2,2l.19,0l.2,-.3l.2,.2l.19,-.4l.2,-2.3l.19,2.1l.2,.4l.19,0l.2,2.9l.19,0l.2,-1.4l.2,-1.4l.19,-2.6l.2,3.2l.19,-1.1l.2,.9l.19,-2.9l.2,3.6l.19,-.8l.2,-.1l.2,-.1l.19,1.4l.2,-1.9l.19,1.2l.2,-1.5l.19,1.1l.2,1.2l.19,-2.4l.2,1.7l.2,1.9l.19,-2l.2,-.4l.19,1.6l.2,1.1l.19,-2.5l.2,1.6l.19,-1.3l.2,-.9l.19,-1.2l.2,2.1l.2,.9l.19,-1.7l.2,-.3l.19,.4l.2,-.7l.19,1.4l.2,-2.2l.19,1.1l.2,1.2l.2,-.2l.19,0l.2,-1.4l.19,1.2l.2,-1.8l.19,-.1l.2,2l.19,-.8l.2,-.8l.2,3.2l.19,0l.2,-2l.19,1.7l.2,-2l.19,-2.8l.2,1.3l.19,1.7l.2,.3l.2,-2l.19,1.7l.2,2l.19,-3.2l.2,1l.19,.2l.2,.3l.19,-1.7l.2,3.2l.2,.1l.19,-2.3l.2,.8l.19,.9l.2,-3.8l.19,.7l.2,1.2l.19,.7l.2,.5l.2,.3l.19,-1.6l.2,.6l.19,0l.2,.7l.19,-2.1l.2,1.2l.19,0l.2,-.4l.19,.2l.2,2.9l.2,-3.9l.19,1.4l.2,.8l.19,-1.7l.2,-.8l.19,1l.2,-.4l.19,1.5l.2,-.8l.2,-.5l.19,.4l.2,.4l.19,0l.2,0l.19,.6l.2,2l.19,-2l.2,-2.5l.2,1.4l.19,.9l.2,1.2l.19,-.8l.2,-1.2l.19,-1.4l.2,1.7l.19,-.2l.2,-.6l.2,-.2l.19,4l.2,-1.4l.19,-2.6l.2,1l.19,2l.2,-2.1l.19,.3l.2,.9l.2,-.5l.19,-1.9l.2,1.4l.19,-.8l.2,1.2l.19,-.8l.2,1.4l.19,1.6l.2,-1.5l.19,-2.3l.2,-.2l.2,1.8l.19,.3l.2,.4l.19,-1l.2,-.2l.19,2.3l.2,-2.4l.19,-.1l.2,-.1l.2,1.9l.19,-1.4l.2,-.3l.19,1.1l.2,-.1l.19,.1l.2,-1.6l.19,1.7l.2,-1.2l.2,0l.19,-.5l.2,.5l.19,-.6l.2,0l.19,-.4l.2,3.3l.19,-2l.2,-.3l.2,.3l.19,.3l.2,1l.19,1l.2,-2.4l.19,.4l.2,1.1l.19,0l.2,-1.2l.2,.2l.19,.4l.2,-1.4l.19,.7l.2,.1l.19,-.6l.2,-1l.19,1.4l.2,.3l.19,-.1l.2,.2l.2,-.8l.19,-.2l.2,.1l.19,-.3l.2,.3l.19,.1l.2,.5l.19,-.5l.2,-.3l.2,1.1l.19,-3.2l.2,2.5l.19,.4l.2,-.3l.19,1.4l.2,-.5l.19,-1l.2,1.6l.2,-1.8l.19,.6l.2,.5l.19,0l.2,.1l.19,-2.1l.2,1.8l.19,1.8l.2,-2.3l.2,.2l.19,2.4l.2,-2.3l.19,.6l.2,-.5l.19,.2l.2,-.7l.19,-.9l.2,.1l.2,-3l.19,3.9l.2,-1.1l.19,0l.2,-.5l.19,2.8l.2,1l.19,-2.5l.2,2.3l.2,.8l.19,-3.3l.2,.5l.19,.7l.2,-.5l.19,-.5l.2,-1.4l.19,3.6l.2,-4.2l.19,1.3l.2,.9l.2,-.7l.19,-.8l.2,1.5l.19,.4l.2,-.3l.19,1.2l.2,-1.4l.19,2l.2,-2.1l.2,1.6l.19,-.3l.2,-.6l.19,-2.2l.2,2.8l.19,-.3l.2,-.5l.19,-.1l.2,.6l.2,-.6l.19,.4l.2,.2l.19,-.1l.2,.1l.19,-.7l.2,.8l.19,1.8l.2,-2.8l.2,-2.9l.19,3.7l.2,.8l.19,-1.1l.2,4.3l.19,-2.9l.2,-.8l.19,1.4l.2,-2.3l.2,2.2l.19,1.5l.2,0l.19,1.5l.2,-2.8l.19,1.1l.2,-1.6l.19,-1.2l.2,-1.6l.19,2.1l.2,1.9l.2,-1.2l.19,-3.3l.2,1.3l.19,-3l.2,5.1l.19,-3.3l.2,2.4l.19,-.4l.2,-.6l.2,1.5l.19,-1.1l.2,-2.3l.19,2.3l.2,-1.6l.19,.2l.2,2.3l.19,-1.4l.2,1.1l.2,.3l.19,-3.9l.2,2.4l.19,-.2l.2,-.2l.19,.8l.2,0l.19,.7l.2,-.8l.2,1.9l.19,-2.4l.2,.6l.19,-.2l.2,-.2l.19,-.4l.2,2.8l.19,-2.1l.2,-.1l.2,.6l.19,-1.4l.2,1l.19,-.8l.2,.9l.19,.2l.2,-.3l.19,1.3l.2,-1.7l.19,.4l.2,-.4l.2,-1.1l.19,.4l.2,1l.19,.4l.2,-1.6l.19,0l.2,2.2l.19,-.9l.2,-.7l.2,-.3l.19,.6l.2,-1l.19,2.4l.2,-.8l.19,.1l.2,.7l.19,-3l.2,.6l.2,.6l.19,-1.2l.2,1.3l.19,-1.2l.2,.9l.19,.3l.2,-1l.19,1.2l.2,1.2l.2,-.8l.19,-2.7l.2,2.2l.19,-.1l.2,2.8l.19,-5.1l.2,3.8l.19,-1.1l.2,-1l.2,.8l.19,1.3l.2,-.2l.19,-3.2l.2,3.4l.19,-3.7l.2,3.2l.19,-.4l.2,-.2l.2,-.1l.19,-1.3l.2,2l.19,-1.3l.2,-.3l.19,-.1l.2,1.1l.19,1.1l.2,-1l.19,.1l.2,0l.2,.2l.19,-1.8l.2,2.1l.19,.9l.2,-3.5l.19,2.8l.2,.6l.19,-.7l.2,.5l.2,-.3l.19,-1.6l.2,-1.2l.19,-1.6l.2,3.7l.19,-1l.2,1.6l.19,-1l.2,.2l.2,1.6l.19,-2l.2,.3l.19,-1.3l.2,3l.19,-2.7l.2,.6l.19,.7l.2,-.8l.2,-2.2l.19,3.1l.2,-1l.19,.4l.2,-.5l.19,1.9l.2,-1l.19,-.9l.2,2l.2,0l.19,-3.4l.2,.9l.19,-.1l.2,2.9l.19,-3.8l.2,2.6l.19,.8l.2,-3.4l.19,2.3l.2,.1l.2,-.1l.19,-.4l.2,-.2l.19,-1.5l.2,2.6l.19,-.3l.2,-2.9l.19,2.6l.2,.4l.2,-.7l.19,-.2l.2,2.5l.19,-1.3l.2,.3l.19,-1.4l.2,1.4l.19,-2.6l.2,3.7l.2,-1.3l.19,.1l.2,-.8l.19,2.2l.2,-1.9l.19,-.9l.2,.8l.19,-3.6l.2,2.4l.2,1.6l.19,-1.5l.2,1.1l.19,-.6l.2,-.5l.19,1.7l.2,-.6l.19,0l.2,-.2l.2,-1.2l.19,3.9l.2,-3.5l.19,1.6l.2,-1.1l.19,1.2l.2,-.9l.19,.2l.2,-.7l.19,-2.2l.2,.9l.2,3l.19,-.6l.2,-1.2l.19,.4l.2,.4l.19,-1.1l.2,-1.2l.19,2.6l.2,-1l.2,2.6l.19,-2.8l.2,.6l.19,-.1l.2,-1.7l.19,1.9l.2,-1l.19,1.2l.2,1.5l.2,-2.2l.19,2.3l.2,-2.6l.19,-.1l.2,.7l.19,.4l.2,.8l.19,-3l.2,2.2l.2,-.2l.19,-.3l.2,-.5l.19,2.1l.2,-.2l.19,1.1l.2,-2.2l.19,-1.2l.2,-.3l.2,1.6l.19,.6l.2,-2.4l.19,1.9l.2,.1l.19,-1.1l.2,-2.3l.19,2.2l.2,.9l.2,-.5l.19,.1l.2,.1l.19,-.8l.2,.6l.19,.5l.2,0l.19,.4l.2,-.4l.19,-1.9l.2,1.1l.2,.1l.19,.1l.2,.7l.19,-1.9l.2,2.5l.19,.5l.2,.4l.19,.3l.2,-3.3l.2,1.6l.19,1.3l.2,-1.1l.19,-.1l.2,-.8l.19,-2.7l.2,6l.19,-5.2l.2,.6l.2,3.9l.19,-2.6l.2,.9l.19,-.6l.2,.5l.19,.5l.2,-.8l.19,.6l.2,-.2l.2,-2.2l.19,-.2l.2,1.3l.19,2.4l.2,-.4l.19,-.3l.2,-.3l.19,-.5l.2,.3l.2,-.6l.19,.1l.2,.9l.19,-.8l.2,-.4l.19,.3l.2,2.3l.19,-2.7l.2,1.5l.19,.8l.2,-1.1l.2,-1l.19,-.9l.2,.7l.19,2.4l.2,-1.6l.19,-.7l.2,-2l.19,3.9l.2,-2.8l.2,2.1l.19,-.8l.2,-.5l.19,2.1l.2,-2.7l.19,.5l.2,.9l.19,.1l.2,-.5l.2,.2l.19,-.6l.2,-.7l.19,.9l.2,-.3l.19,1.7l.2,-.5l.19,1.6l.2,-4.8l.2,3.7l.19,-1.5l.2,.8l.19,1l.2,-2.4l.19,.8l.2,1.1l.19,.2l.2,-2l.2,.7l.19,-1.5l.2,2.6l.19,-1.5l.2,.8l.19,-.5l.2,1l.19,.3l.2,-1.4l.19,1.4l.2,-1.4l.2,1.2l.19,-.8l.2,-2.7l.19,4.6l.2,-3.9l.19,1.9l.2,-.1l.19,.3l.2,-1.1l.2,1.2l.19,-.1l.2,.5l.19,-.8l.2,-2.5l.19,2.9l.2,-2.3l.19,2.4l.2,-.8l.2,-.1l.19,-1.2l.2,2.1l.19,-.4l.2,1.2l.19,0l.2,-1.8l.19,.1l.2,2.1l.2,-.8l.19,.5l.2,-1l.19,-.2l.2,-1.9l.19,2.6l.2,-.6l.19,-.2l.2,.1l.2,.5l.19,-1.3l.2,.2l.19,.6l.2,-.3l.19,0l.2,-.3l.19,-.2l.2,.6l.2,1.9l.19,-1.9l.2,-2.4l.19,2.2l.2,-1.7l.19,1.6l.2,.2l.19,-.5l.2,1.5l.19,-.1l.2,.2l.2,.8l.19,-1.7l.2,-2.6l.19,2.5l.2,1l.19,-2.2l.2,.5l.19,.9l.2,2.7l.2,-3.3l.19,-.2l.2,0l.19,-.8l.2,1l.19,-2.3l.2,1.6l.19,-1.8l.2,4.9l.2,.1l.19,-2.4l.2,3.4l.19,-3.2l.2,.1l.19,0l.2,-1.6l.19,.4l.2,1.9l.2,1.6l.19,-3.3l.2,1.1l.19,-1.3l.2,3.6l.19,-2.4l.2,.2l.19,.4l.2,-.2l.2,-.4l.19,-.6l.2,-.5l.19,1.3l.2,.9l.19,-.4l.2,-.8l.19,2.6l.2,-2.1l.19,-.2l.2,-.3l.2,-2.4l.19,2.6l.2,-2.1l.19,2.8l.2,-1l.19,.9l.2,-.5l.19,.2l.2,.1l.2,.2l.19,-1l.2,-.7l.19,.1l.2,-1.1l.19,3.1l.2,-.7l.19,-.3l.2,2.4l.2,-1.4l.19,-.7l.2,2.3l.19,-3.3l.2,-1l.19,1.1l.2,1.4l.19,-2.1l.2,-.5l.2,1.9l.19,0l.2,-1.5l.19,2.5l.2,-1.7l.19,-1.7l.2,2.3l.19,.2l.2,1.2l.2,-.2l.19,-1l.2,-.7l.19,.6l.2,0l.19,1.3l.2,.7l.19,-2l.2,-1.6l.19,1.7l.2,-.5l.2,.1l.19,-.3l.2,1l.19,-1.3l.2,.8l.19,-.7l.2,1l.19,-.2l.2,.4l.2,-2.4l.19,2l.2,.2l.19,.6l.2,.4l.19,-2.4l.2,2.4l.19,-2l.2,.4l.2,.2l.19,.7l.2,-3l.19,2.1l.2,1.4l.19,-1l.2,.5l.19,-1.1l.2,.3l.2,.3l.19,.6l.2,1.8l.19,-.5l.2,-3l.19,1.3l.2,.6l.19,-.7l.2,.2l.2,-1l.19,2.3l.2,-1.5l.19,.3l.2,-.9l.19,-1.6l.2,.8l.19,.5l.2,.6l.2,2.3l.19,-3.5l.2,3l.19,-1.1l.2,-1.5l.19,1l.2,-.1l.19,-.4l.2,-1l.19,1.8l.2,1.6l.2,-.5l.19,-1.4l.2,-.1l.19,2.6l.2,-1.6l.19,-.9l.2,-1.2l.19,2.4l.2,-1.4l.2,.7l.19,-.5l.2,.7l.19,-.3l.2,1.3l.19,-1.9l.2,1.3l.19,-2.7l.2,4.2" fill="none" stroke="#0000ff" stroke-width="0.8" stroke-linejoin="round"/><path d="M75.4,763.6H955.3V1401H75.4ZM75.4,793.7h-12M75.4,853.8h-12M75.4,913.9h-12M75.4,974h-12M75.4,1034.1h-12M75.4,1094.2h-12M75.4,1154.4h-12M75.4,1214.5h-12M75.4,1274.6h-12M75.4,1334.7h-12M75.4,1394.8h-12M75.4,763.6h-6.8M75.4,823.7h-6.8M75.4,883.8h-6.8M75.4,943.9h-6.8M75.4,1004h-6.8M75.4,1064.2h-6.8M75.4,1124.3h-6.8M75.4,1184.4h-6.8M75.4,1244.5h-6.8M75.4,1304.6h-6.8M75.4,1364.7h-6.8M75.4,1401v12M222.1,1401v12M368.7,1401v12M515.4,1401v12M662,1401v12M808.6,1401v12M955.3,1401v12M148.7,1401v6.8M295.4,1401v6.8M442,1401v6.8M588.7,1401v6.8M735.3,1401v6.8M882,1401v6.8" fill="none" stroke="#000" stroke-width="2.5" stroke-linejoin="miter"/></g>
<g><clipPath id="cp29"><rect x="81" y="1509.1" width="876.2" height="659.7"/></clipPath><path clip-path="url(#cp29)" d="M81,2028.2h0l.2,-.8l.2,-.8l.2,2.7l.2,-2l.2,.2l.2,-.3l.2,-.1l.2,0l.2,1.1l.1,-.7l.2,.2l.2,.4l.2,-1.9l.2,-.6l.2,1.3l.2,-1.8l.2,-.6l.2,-2l.2,1.2l.2,-.7l.2,-2.6l.2,1l.2,-2.3l.2,.1l.2,.5M86.1,2016.1h0l.2,1.8l.2,-.9l.1,.6l.2,-2.3l.2,1.7l.2,2.1l.2,-.7l.2,-1l.2,1.5l.2,.1l.2,1.7l.2,.9l.2,0l.2,.7l.2,2.8l.2,-2l.2,2.9l.2,-.3l.2,1l.2,.6l.2,-2.6M90.3,2028.9h0l.2,-1.7l.2,.5l.2,.7l.2,.9l.2,-1.6l.2,-.4l.2,0l.2,1.6l.2,-.7l.2,-2l.2,2.8l.2,-.8l.2,-1.1l.2,.8l.2,-.6l.2,.5l.2,.2l.2,.6l.1,-.5l.2,-.4l.2,-.3l.2,1.2l.2,-.4l.2,.5l.2,-1.4l.2,.5l.2,.5l.2,-.6l.2,-.8l.2,0l.2,.7l.2,2.6l.2,-2.4l.2,.1l.2,-.5l.2,.9l.2,.4l.1,-.9l.2,.8l.2,-.8l.2,-.3l.2,-.4l.2,.2l.2,-.6l.2,1.4l.2,-.1l.2,1.4l.2,-1.1l.2,-.5l.2,-1l.2,1l.2,-1.1l.2,1.8l.2,.5l.2,-1.4l.1,.6l.2,-.2l.2,-1.5l.2,1.8l.2,-.6l.2,-.5l.2,1.3l.2,.2l.2,-.9l.2,.6l.2,-1.6l.2,.7l.2,-.3l.2,0l.2,.6l.2,.4l.2,-.3l.2,-.1l.2,.6l.1,-.6l.2,.7l.2,-1.4l.2,1.2l.2,-.9l.2,.6l.2,.2l.2,-.3l.2,-.1l.2,.8l.2,-1l.2,0l.2,.6l.2,-.5l.2,-.2l.2,1.2l.2,-.2l.2,.4l.2,-.5l.1,-.1l.2,-.2l.2,.2l.2,.2l.2,-.6l.2,.6l.2,-.6l.2,.1l.2,-.5l.2,1.5l.2,-1.2l.2,.2l.2,-.1l.2,-.7l.2,.8l.2,.4l.2,1.3l.2,-1.4l.2,-.9l.1,1l.2,.1l.2,-.4l.2,-.1l.2,-.4l.2,0l.2,-.6l.2,.9l.2,.2l.2,-.3l.2,.4l.2,-.5l.2,.7l.2,-.7l.2,.4l.2,-.2l.2,-.9l.2,1.1l.2,-.6l.1,.2l.2,.2l.2,1.2l.2,-.7l.2,-.9l.2,1.6l.2,-.8l.2,-.4l.2,.4l.2,-.7l.2,.6l.2,-.1l.2,-1.7l.2,1.4l.2,.6l.2,-.9l.2,-.2l.2,.6l.2,-.2l.1,0l.2,-.7l.2,.7l.2,0l.2,.4l.2,.4l.2,-.2l.2,.4l.2,.3l.2,-.4l.2,-.2l.2,1.2l.2,-2.4l.2,1.4l.2,.2l.2,-.7l.2,-.3l.2,-.3l.2,.1l.1,.2l.2,1l.2,.1l.2,-.8l.2,.2l.2,-.8l.2,1.4l.2,-1.5l.2,.6l.2,1l.2,-1.3l.2,.6l.2,-1.5l.2,.7l.2,-.5l.2,.2l.2,0l.2,.6l.2,.8l.1,-.9l.2,-.3l.2,1.6l.2,-1.1l.2,.5l.2,-1.1l.2,.8l.2,.5l.2,-.4l.2,-1.2l.2,2.2l.2,-.3l.2,-1.2l.2,1.6l.2,-1.5l.2,-.1l.2,.1l.2,.8l.2,-.3l.1,-.2l.2,-.2l.2,-.2l.2,1.2l.2,-.8l.2,-1.2l.2,.1l.2,.8l.2,-.6l.2,.4l.2,1.3l.2,-.8l.2,.6l.2,-.5l.2,-.6l.2,1.1l.2,-.1l.2,0l.2,.9l.1,-1l.2,.6l.2,-1l.2,-.7l.2,1.9l.2,-1.8l.2,0l.2,.6l.2,.5l.2,-.3l.2,.1l.2,-1.5l.2,.4l.2,-.2l.2,1.9l.2,-1l.2,-.5l.2,1.7l.2,-.1l.1,-1.7l.2,1l.2,-.4l.2,-2.1l.2,1.2l.2,-.2l.2,.1l.2,-.4l.2,1.2l.2,-1.4l.2,.6l.2,.9l.2,-1l.2,1.1l.2,-3l.2,-1.1M141.4,2027.3h0l.2,-1.5l.1,-.2l.2,.1l.2,-.3l.2,.5l.2,-1.9l.2,2.5l.2,-.6l.2,-.2l.2,.2l.2,1.3l.2,-.2l.2,-.2l.2,.8l.2,-.9l.2,-.1l.2,1.4l.2,-.3l.2,.4l.2,-.3l.1,-.4l.2,-.9l.2,-.6l.2,1.7l.2,0l.2,.7l.2,-.9l.2,-.5l.2,.3l.2,.6l.2,-.5l.2,.1l.2,.4l.2,1l.2,.1l.2,-1.6l.2,-.7l.2,-.5l.2,.7l.1,0l.2,1.2l.2,-1l.2,0l.2,-.7l.2,-.6l.2,1.2l.2,-.3l.2,-2.5l.2,-.1l.2,.3l.2,.9l.2,-2.9l.2,-.9l.2,-2M152.1,2014.1h0M152.3,2007.2h0M152.5,1992.8h0M152.7,1975.5h0M152.8,1950.2h0M153,1937.1h0l.2,-2.4M153.4,1941.4h0M153.6,1955.2h0M153.8,1973.2h0M154,1992.1h0M154.2,2003.9h0M154.4,2013.4h0M154.6,2017.5h0M154.8,2021.6h0l.2,2.4l.2,.9l.2,0l.2,1.4l.2,-1.6l.2,.4l.2,2.1l.2,-.6l.1,.2l.2,.3l.2,-.6l.2,.8l.2,.1l.2,-.8l.2,.3l.2,.6l.2,-.5l.2,.7l.2,-.2l.2,.2l.2,-.1l.2,-.6l.2,-.2l.2,-.2l.2,-.4l.2,1.5l.2,-1l.1,.2l.2,1l.2,1.1l.2,-.3l.2,-1.2l.2,.8l.2,-.2l.2,0l.2,-.7l.2,.5l.2,-.7l.2,1.1l.2,-.2l.2,-.6l.2,1.7l.2,-1.2l.2,0l.2,-.7l.2,.2l.1,-.1l.2,1.1l.2,-.9l.2,-.3l.2,1.2l.2,.6l.2,-1.7l.2,2.1l.2,-1.9l.2,1.1l.2,-1.2l.2,.8l.2,-.3l.2,.6l.2,.1l.2,.2l.2,-2.1l.2,1.2l.2,.2l.1,-1l.2,1.6l.2,-.5l.2,-.2l.2,.6l.2,-1.1l.2,-.4l.2,0l.2,.6l.2,.7l.2,-.4l.2,-.2l.2,.5l.2,.3l.2,-1.2l.2,.2l.2,.6l.2,-.4l.2,-.1l.1,-1l.2,2l.2,-.8l.2,.4l.2,-.7l.2,-1.2l.2,.7l.2,1.1l.2,-2.1l.2,1.5l.2,-.5l.2,-.5l.2,.5l.2,-.5l.2,.4l.2,.3l.2,-1.8l.2,.6l.2,.3l.1,-.3l.2,-1.2l.2,0l.2,-.5l.2,-.8l.2,1.5l.2,-1.8l.2,-.3l.2,1l.2,-.7l.2,.8l.2,.1l.2,.3l.2,1.7l.2,.4l.2,-.3l.2,.2l.2,.2l.2,.3l.1,.9l.2,.3l.2,.4l.2,-.7l.2,-.5l.2,1.4l.2,.3l.2,-.2l.2,-.7l.2,-.1l.2,1l.2,-1l.2,-.4l.2,.8l.2,-.2l.2,.2l.2,-1.5l.2,.2l.1,.9l.2,-1l.2,1l.2,-.4l.2,.2l.2,.5l.2,-.3l.2,-.1l.2,-.3l.2,.5l.2,-.2l.2,.2l.2,-.1l.2,-.3l.2,.4l.2,-1.2l.2,1.1l.2,.3l.2,-.7l.1,.5l.2,.9l.2,-2.9l.2,2l.2,1.1l.2,-.5l.2,-1.2l.2,.5l.2,.9l.2,-1.2l.2,-.3l.2,-.3l.2,.7l.2,.6l.2,-.2l.2,0l.2,-.9l.2,.8l.2,.1l.1,.4l.2,-1.7l.2,1.1l.2,-.1l.2,-.1l.2,-.5l.2,-.3l.2,.3l.2,1.4l.2,.3l.2,-1.8l.2,.2l.2,1.3l.2,-.7l.2,.6l.2,-1.7l.2,.3l.2,.5l.2,.2l.1,.4l.2,-.1l.2,.9l.2,-1.1l.2,-.3l.2,-.3l.2,.5l.2,-.1l.2,-1.1l.2,1.6l.2,.8l.2,-.8l.2,-.1l.2,.3l.2,-1.1l.2,.1l.2,-.1l.2,.5l.2,.4l.1,-2.5l.2,1.7l.2,-1.1l.2,.9l.2,-.5l.2,-.2l.2,2l.2,-1l.2,-1.6l.2,.4l.2,.9l.2,.1l.2,-.1l.2,-1.7l.2,-.3l.2,-.1l.2,.4l.2,.8l.2,-.3l.1,.6l.2,-1.4l.2,.3l.2,0l.2,-.1l.2,-.6l.2,.1l.2,-1.2l.2,-.6l.2,.3l.2,.6l.2,-1.4l.2,1l.2,.4l.2,-.5l.2,.1l.2,-.8l.2,2.3l.2,-2.4l.1,1.3l.2,-1.9l.2,.4l.2,.7l.2,-.5l.2,1.9l.2,-.8l.2,-.3l.2,-.5l.2,1.2l.2,-1.4l.2,1.6l.2,-.1l.2,-.2l.2,.6l.2,.1l.2,-.3l.2,-.8l.2,1.5l.1,0l.2,-.8l.2,-.2l.2,1.2l.2,-.3l.2,-.4l.2,-1.9M209.5,2026.2h0l.2,.4l.2,-1.7l.2,1.7M210.3,2023.2h0l.2,1l.2,-.2l.2,-2l.2,.5l.2,-.7l.2,.1M211.7,2018.4h0l.1,1.4l.2,.3l.2,-.4l.2,-.7l.2,.1l.2,-1.4l.2,-.1l.2,.4l.2,-1.7l.2,.9l.2,1.3l.2,-.7l.2,2.8l.2,-2.8l.2,.3l.2,2.4l.2,.7l.2,.2l.2,-1.8l.1,2l.2,1.2l.2,.6l.2,.1l.2,.7l.2,1.2l.2,.3l.2,-1.4l.2,3l.2,.4l.2,-1l.2,.8l.2,1.2l.2,.1l.2,-.3l.2,-.9l.2,-.4l.2,.2l.2,.6l.1,0l.2,-.1l.2,-.3l.2,-.1l.2,1.6l.2,-.9l.2,.2l.2,-.4l.2,-1l.2,1.5l.2,0l.2,-1.3l.2,1.3l.2,-2.1l.2,.6l.2,1.1l.2,-.5l.2,.1l.1,1.5l.2,-2.3l.2,1.7l.2,-.3l.2,-.7l.2,.3l.2,1l.2,-.4l.2,-1.5l.2,.2l.2,1.4l.2,-1.3l.2,1l.2,.7l.2,-2.1l.2,1.8l.2,-1.7l.2,1.7l.2,.1l.1,-.3l.2,.1l.2,-1.1l.2,.3l.2,-.1l.2,.6l.2,-1.3l.2,.6l.2,.4l.2,-.4l.2,1l.2,-.9l.2,.2l.2,.3l.2,.4l.2,-1.6l.2,-.2l.2,1.2l.2,.1l.1,-.3l.2,-.4l.2,-.1l.2,.5l.2,-.7l.2,-.1l.2,1.2l.2,-.6l.2,-.6l.2,.7l.2,-.1l.2,-.2l.2,.5l.2,-.1l.2,-.9l.2,1.3l.2,-1.6l.2,1.4l.2,-.4l.1,1.3l.2,-3l.2,.5l.2,-.2l.2,1.3l.2,.8l.2,-.5l.2,.5l.2,-1.3l.2,-.1l.2,.3l.2,-.4l.2,.7l.2,.4l.2,-.7l.2,-.2l.2,-.2l.2,0l.2,.9l.1,-1.4l.2,1.8l.2,-1.8l.2,-.2l.2,-.8l.2,-.5l.2,2.1l.2,-.7l.2,.2l.2,.1l.2,0l.2,-1.6l.2,.4l.2,.5l.2,-1.6l.2,1l.2,-.4l.2,-.6l.2,.7l.1,-2l.2,.7l.2,-1.7l.2,-.9l.2,.5M242.2,2018.2h0l.2,-1.3l.2,.9l.2,-1.4M243,2012.4h0M243.2,2009h0l.2,-2.3M243.6,2002.4h0M243.8,1989.5h0M244,1974.9h0M244.2,1946.1h0M244.4,1897.9h0M244.6,1819h0M244.8,1713.9h0M244.9,1612.3h0M245.1,1539.7h0M245.3,1552.5h0M245.5,1608h0M245.7,1654.8h0M245.9,1697.5h0M246.1,1766.4h0M246.3,1841h0M246.5,1905.9h0M246.7,1948.6h0M246.9,1974.1h0M247.1,1992.4h0M247.3,2000.7h0M247.5,2007.1h0M247.7,2011.9h0l.2,2.7l.2,1.2l.2,1l.2,.1l.1,1.3l.2,2.8l.2,.6l.2,-.3l.2,1.9l.2,0l.2,-.4l.2,1.3l.2,-.4l.2,-.2l.2,1.1l.2,.2l.2,.6l.2,2.3l.2,-1.5l.2,-1.2l.2,1.4l.2,-.3l.2,-.1l.1,.1l.2,0l.2,-.8l.2,1.5l.2,.6l.2,0l.2,-.3l.2,-.1l.2,1.1l.2,-1l.2,.6l.2,-1.3l.2,1.4l.2,-.3l.2,-.6l.2,1.5l.2,-.7l.2,-.3l.2,.4l.1,.1l.2,-1.8l.2,2.8l.2,-.9l.2,-.6l.2,-.4l.2,.2l.2,.5l.2,-.3l.2,1l.2,-.8l.2,.2l.2,-.8l.2,0l.2,.4l.2,-.2l.2,.2l.2,1.5l.2,-1l.1,.9l.2,-.8l.2,.3l.2,-1.8l.2,.8l.2,1.6l.2,-1.2l.2,.9l.2,-.1l.2,-.8l.2,-1l.2,.9l.2,.7l.2,-.2l.2,-.4l.2,-.5l.2,1.1l.2,-1.3l.1,1l.2,.5l.2,-.2l.2,-1l.2,1.1l.2,.1l.2,-.8l.2,0l.2,-.5l.2,.7l.2,.5l.2,.4l.2,.1l.2,-1.1l.2,.5l.2,-.2l.2,1.9l.2,-1l.2,-.4l.1,-.3l.2,-1.4l.2,1.5l.2,-.5l.2,.7l.2,-.8l.2,-.2l.2,2l.2,-1.7l.2,1.7l.2,-1l.2,-.7l.2,.4l.2,-1.2l.2,.2l.2,.3l.2,.9l.2,-1.1l.2,.3l.1,.1l.2,.8l.2,.6l.2,-2.1l.2,-.2l.2,1.1l.2,.8l.2,-.8l.2,-.3l.2,-.5l.2,.9l.2,-.6l.2,.1l.2,.3l.2,.5l.2,.1l.2,-.5l.2,.8l.2,-.9l.1,.4l.2,0l.2,-.1l.2,-.9l.2,.4l.2,.8l.2,-1.1l.2,1.1l.2,-.2l.2,-1l.2,.9l.2,.1l.2,-.5l.2,.4l.2,-.2l.2,-.9l.2,.5l.2,.2l.2,.1l.1,-.4l.2,.3l.2,1.2l.2,-.7l.2,-.5l.2,1.7l.2,0l.2,-.9l.2,-1.8l.2,2.4l.2,-2.1l.2,.9l.2,.1l.2,.4l.2,-.5l.2,.7l.2,-.7l.2,.1l.2,-1.2l.1,.5l.2,1.1l.2,-.1l.2,.5l.2,-.2l.2,-.9l.2,-.1l.2,-.6l.2,1l.2,-.3l.2,.1l.2,.3l.2,0l.2,.6l.2,-1.4l.2,2.6l.2,-1.3l.2,-1.5l.2,.6l.1,-.6l.2,.8l.2,1l.2,-1.2l.2,.6l.2,.6l.2,-1l.2,-.5l.2,.3l.2,1l.2,-.2l.2,-.1l.2,-.8l.2,.5l.2,.8l.2,-.9l.2,.3l.2,1.2l.2,-1.7l.1,.7l.2,-.1l.2,.4l.2,-1.9l.2,1l.2,1.2l.2,-1.2l.2,.6l.2,-.3l.2,-.2l.2,-.4l.2,.1l.2,.3l.2,-.3l.2,.9l.2,-.1l.2,-.4l.2,-.2l.2,.9l.1,-.6l.2,0l.2,.9l.2,-.6l.2,.1l.2,-.6l.2,.2l.2,-.1l.2,0l.2,.1l.2,-.1l.2,.5l.2,-.1l.2,-.7l.2,.4l.2,-.2l.2,-.6l.2,-.1l.2,2.2l.1,-1.8l.2,1.1l.2,-1.1l.2,.4l.2,.3l.2,-.7l.2,.5l.2,-.2l.2,0l.2,-.4l.2,.3l.2,.2l.2,.5l.2,.6l.2,-1.3l.2,-.6l.2,0l.2,1l.1,-.8l.2,-1l.2,.7l.2,0l.2,.2l.2,.6l.2,-.4l.2,.2l.2,.7l.2,-.1l.2,-.1l.2,0l.2,-1l.2,2.1l.2,-1.7l.2,-.1l.2,0l.2,1.5l.2,-1.1l.1,.2l.2,-.3l.2,.6l.2,0l.2,.1l.2,-1l.2,-.7l.2,2.4l.2,-1.3l.2,-.2l.2,.2l.2,1l.2,.3l.2,-1.4l.2,-1l.2,1.1l.2,1.3l.2,-.3l.2,-1.6l.1,1l.2,-1.1l.2,-.4l.2,.9l.2,.5l.2,-.4l.2,.2l.2,.4l.2,-.1l.2,-.4l.2,1.6l.2,-1.1l.2,.7l.2,-.7l.2,-.6l.2,-.2l.2,.6l.2,1l.2,-1.6l.1,-.6l.2,1.6l.2,-.8l.2,.6l.2,-1.4l.2,.9l.2,-.5l.2,-.2l.2,.8l.2,-1.2l.2,-1l.2,1.1l.2,.5l.2,-1l.2,-.1l.2,1.2l.2,-1.8l.2,.7l.2,.3l.1,-.7l.2,.3l.2,-1.1l.2,-1l.2,-1.8l.2,-2.6l.2,1M316.2,2014.8h0M316.4,2003.4h0M316.6,1992.4h0M316.8,1972.8h0M317,1952.8h0M317.2,1929.3h0l.2,-1.2M317.6,1940.2h0M317.8,1954.6h0M318,1961.4h0l.2,1.9M318.4,1973.5h0M318.5,1984.4h0M318.7,1997.1h0M318.9,2007.5h0M319.1,2014.6h0M319.3,2020.3h0l.2,1.8l.2,1.3M319.9,2026.5h0l.2,-2l.2,1.3l.2,1.3l.2,-1.1l.2,-.4l.2,1.2l.2,.6l.2,.1l.2,.5l.2,-.7l.2,.2l.1,.1l.2,-1.8l.2,1.8l.2,-.5l.2,.2l.2,-1.4l.2,2l.2,.3l.2,-.1l.2,-.1l.2,-1.3l.2,.5l.2,.3l.2,.6l.2,.8l.2,-1.2l.2,1.3l.2,-.3l.2,-.9l.1,-.6l.2,.3l.2,.1l.2,.2l.2,1.3l.2,-.9l.2,-.6l.2,2.4l.2,-2.7l.2,1.5l.2,-.5l.2,-.4l.2,.4l.2,.4l.2,-.3l.2,.1l.2,-.7l.2,.4l.2,-.1l.1,1l.2,-.5l.2,-.6l.2,.3l.2,-.3l.2,.1l.2,-.2l.2,.6l.2,-.3l.2,.1l.2,-.5l.2,.9l.2,-1.4l.2,.3l.2,1.6l.2,-.5l.2,.6l.2,-1.3l.2,-.4l.1,1.2l.2,.2l.2,-1l.2,-.1l.2,.4l.2,-.8l.2,.6l.2,.5l.2,-.7l.2,.3l.2,.7l.2,-.2l.2,-.4l.2,.1l.2,.1l.2,-.5l.2,-.3l.2,1.4l.2,-1.2l.1,.4l.2,.3l.2,-.8l.2,.5l.2,0l.2,-.2l.2,-.7l.2,.8l.2,-.9l.2,0l.2,.2l.2,.7l.2,-.7l.2,1.5l.2,-.7l.2,.1l.2,.5l.2,-.2l.1,-.2l.2,-.6l.2,1.4l.2,-1.1l.2,.6l.2,-.4l.2,-.7l.2,.8l.2,-.2l.2,-.4l.2,.6l.2,-.6l.2,-.1l.2,1.1l.2,-1.4l.2,.7l.2,1.2l.2,-1.3l.2,-.7l.1,.6l.2,.2l.2,1l.2,-1.8l.2,-.2l.2,2.2l.2,-1.3l.2,.8l.2,-1l.2,1.3l.2,-1.1l.2,.8l.2,-.6l.2,.1l.2,-.4l.2,1l.2,-.1l.2,-.1l.2,-.1l.1,-.9l.2,.7l.2,-.7l.2,.4l.2,.4l.2,.2l.2,-.9l.2,1.2l.2,-.3l.2,-.1l.2,-.5l.2,-.8l.2,1.5l.2,.5l.2,-1.1l.2,-.3l.2,.4l.2,.3l.2,.7l.1,-.4l.2,-.4l.2,-.5l.2,-.4l.2,.3l.2,.9l.2,-.4l.2,-.4l.2,.8l.2,-.2l.2,-.3l.2,-1.3l.2,1.7l.2,-.3l.2,0l.2,.3l.2,.3l.2,-1.3l.2,1.2l.1,-1l.2,1l.2,-.7l.2,1l.2,-.9l.2,.2l.2,-.1l.2,.2l.2,.1l.2,-.1l.2,0l.2,-1.4l.2,1.8l.2,-1.1l.2,.1l.2,.8l.2,-1.4l.2,1.2l.2,-.4l.1,0l.2,.9l.2,-1.2l.2,.2l.2,1.6l.2,-.5l.2,-1.3l.2,-.2l.2,-.1l.2,.8l.2,.3l.2,.1l.2,-1.1l.2,.7l.2,.2l.2,-.3l.2,.1l.2,-.4l.2,0l.1,.9l.2,-.3l.2,.5l.2,-1.2l.2,.5l.2,-.7l.2,.3l.2,.5l.2,.5l.2,-1.1l.2,-.4l.2,1.7l.2,-1.2l.2,-1.1l.2,2.1l.2,-.5l.2,.3l.2,-.7l.2,.5l.1,-.8l.2,-.4l.2,1.6l.2,-.4l.2,-.2l.2,-1l.2,.7l.2,-.2l.2,1.6l.2,-2.4l.2,.7l.2,.3l.2,.4l.2,0l.2,-.6l.2,.1l.2,.3l.2,.3l.2,-.6l.1,.3l.2,.5l.2,-.1l.2,-.7l.2,.6l.2,.2l.2,-.3l.2,-.8l.2,-.9l.2,-.2l.2,2.5l.2,-2.4l.2,.9l.2,.7l.2,.1l.2,-1.1l.2,-.1l.2,-.2l.2,1.4l.1,.1l.2,-1.1l.2,.8l.2,0l.2,-.8l.2,2l.2,-1.1l.2,-1.9l.2,.6l.2,1.3l.2,-1.6l.2,.6l.2,.4l.2,0l.2,-.8l.2,-.8l.2,-1l.2,.9l.2,0l.1,-1.2l.2,.1l.2,-1.6l.2,-.4l.2,-3l.2,-2M378.7,2012.4h0M378.9,2003.1h0M379.1,1987.4h0M379.3,1967h0M379.5,1938.9h0M379.7,1919.9h0M379.9,1915.4h0M380.1,1933.5h0M380.3,1948.1h0M380.5,1960.9h0l.2,2.4l.2,2.5l.1,1.9M381.2,1978.4h0M381.4,1992.8h0M381.6,2006.3h0M381.8,2013.5h0M382,2018.1h0M382.2,2021.9h0l.2,-.4l.2,1.3l.2,1.2l.2,1.5l.2,-1l.2,-.1l.2,2.5l.2,-1.2l.2,2.4l.2,-1.2l.2,-.2l.2,1.5l.1,-1.6l.2,1.4l.2,.1l.2,-.2l.2,-.3l.2,-.9l.2,.5l.2,1.2l.2,-1.2l.2,1l.2,.4l.2,-.1l.2,-.2l.2,.5l.2,0l.2,-.1l.2,-.5l.2,-.7l.2,0l.1,.1l.2,.4l.2,-.2l.2,-1l.2,1.6l.2,-.2l.2,.9l.2,-1l.2,-.7l.2,.8l.2,.2l.2,-.8l.2,1l.2,-.2l.2,-1.7l.2,1.1l.2,.7l.2,-.1l.2,1l.1,-1.5l.2,1.3l.2,-.5l.2,-.5l.2,.7l.2,-1.4l.2,.4l.2,.7l.2,-.4l.2,.4l.2,0l.2,-.3l.2,-.9l.2,1.3l.2,-.2l.2,0l.2,.9l.2,-2.1l.2,1.4l.1,-.1l.2,-.1l.2,.2l.2,.4l.2,.4l.2,-.2l.2,-.9l.2,.3l.2,.1l.2,-.1l.2,-.1l.2,-.1l.2,.6l.2,-1.1l.2,-.8l.2,.7l.2,.2l.2,.5l.2,-.4l.1,-.9l.2,.9l.2,.6l.2,-.9l.2,.9l.2,-.1l.2,-1.2l.2,.2l.2,.4l.2,0l.2,.1l.2,-.6l.2,1.1l.2,-.2l.2,-.1l.2,-.5l.2,-.6l.2,0l.2,.3l.1,.8l.2,-1.9l.2,1.5l.2,-1.5l.2,-.2l.2,1.1l.2,.5l.2,-1.5l.2,1.1l.2,-.5l.2,-.2l.2,.4l.2,-1.9l.2,.2l.2,-.2l.2,.1l.2,0l.2,-.1l.2,0l.1,1l.2,-.7l.2,.4l.2,.4l.2,-1.7l.2,.9l.2,.5l.2,-.7l.2,.8l.2,-1l.2,1.7l.2,-.7l.2,-.2l.2,1l.2,.5l.2,-.1l.2,-.8l.2,.4l.2,.3l.1,.6l.2,-.1l.2,.3l.2,-.5l.2,1.5l.2,-.5l.2,-.1l.2,-1.3l.2,1.2l.2,-.8l.2,.5l.2,.6l.2,-.8l.2,.7l.2,-1.1l.2,1.4l.2,-.3l.2,-1l.2,1.1l.1,-.1l.2,-.3l.2,.6l.2,-.5l.2,1.1l.2,-.1l.2,.2l.2,-1.3l.2,.3l.2,0l.2,-1l.2,.7l.2,1.1l.2,-1.3l.2,1.6l.2,-1.2l.2,.3l.2,-.5l.2,.7l.1,-.5l.2,-.6l.2,.6l.2,.4l.2,.3l.2,-.4l.2,0l.2,-.1l.2,.2l.2,-.7l.2,.3l.2,.6l.2,-.3l.2,.3l.2,-1.1l.2,.3l.2,-1.1l.2,1.6l.1,.6l.2,-.3l.2,-1.5l.2,.9l.2,.3l.2,-1.4l.2,-.3l.2,1.3l.2,.2l.2,0l.2,-.4l.2,-.8l.2,.9l.2,.4l.2,-.4l.2,.2l.2,.2l.2,-.4l.2,-1.2l.1,1.5l.2,.4l.2,.4l.2,0l.2,-1.8l.2,.1l.2,1.5l.2,.1l.2,-.9l.2,.8l.2,-.3l.2,-.8l.2,.9l.2,.2l.2,-1.3l.2,-.3l.2,1.1l.2,.2l.2,-.8l.1,.3l.2,1.2l.2,-.3l.2,-.7l.2,.3l.2,-.3l.2,-1l.2,.8l.2,1.2l.2,-.4l.2,-.1l.2,-.8l.2,0l.2,-.1l.2,-.6l.2,-.3l.2,2.2l.2,-2.1l.2,1.3l.1,-.2l.2,-.1l.2,-1.3l.2,.9l.2,.5l.2,-.1l.2,.2l.2,-.8l.2,-.3l.2,-.5l.2,.2l.2,.1l.2,-2l.2,-2.7M435.4,2019.2h0l.2,-2.7M435.8,2008.9h0M436,2004.3h0M436.2,2000h0M436.3,2003.2h0M436.5,2007h0l.2,2.8M436.9,2014.7h0l.2,-.6l.2,-.2l.2,.9l.2,.1l.2,2.9M438.1,2021h0M438.3,2024.6h0l.2,2.5l.2,-.8l.2,-1.1l.2,2l.2,2l.2,-1l.2,-.6l.2,.3l.1,-.1l.2,1.1l.2,-1.8l.2,.3l.2,.4l.2,.5l.2,.1l.2,-.2l.2,-1.2l.2,1.9l.2,-.8l.2,.4l.2,.3l.2,-.6l.2,-.2l.2,1.4l.2,-.6l.2,-.7l.2,.2l.1,-.2l.2,.4l.2,-1.4l.2,1.2l.2,.4l.2,-.6l.2,-.7l.2,.5l.2,1.2l.2,-.4l.2,-1l.2,.6l.2,0l.2,1l.2,.7l.2,-1.2l.2,-1.2l.2,0l.2,.9l.1,.7l.2,-.2l.2,-.8l.2,-.8l.2,1.5l.2,-.1l.2,-.2l.2,-.5l.2,0l.2,.6l.2,-.7l.2,-.2l.2,1.2l.2,-1l.2,-.1l.2,1.1l.2,-1.4l.2,.9l.2,.3l.1,-.8l.2,.1l.2,.6l.2,0l.2,-.2l.2,.6l.2,-.5l.2,-1.2l.2,1.5l.2,0l.2,-.9l.2,.4l.2,-.3l.2,.3l.2,.8l.2,-.3l.2,-1.2l.2,1.2l.2,-.6l.1,.7l.2,-1.1l.2,.7l.2,.8l.2,-.7l.2,.1l.2,-.4l.2,.7l.2,-1l.2,.4l.2,-.5l.2,1.5l.2,-1.6l.2,.1l.2,.5l.2,1l.2,-1.5l.2,.4l.2,-.1l.1,.9l.2,-.6l.2,-.1l.2,.4l.2,0l.2,.3l.2,.2l.2,-.4l.2,-.9l.2,.5l.2,.1l.2,.1l.2,.2l.2,-.3l.2,.2l.2,.3l.2,-.2l.2,-.4l.1,-1l.2,.8l.2,.5l.2,.9l.2,-1.6l.2,.3l.2,-.3l.2,.6l.2,-.5l.2,0l.2,.8l.2,.3l.2,-1.1l.2,1l.2,-.4l.2,.3l.2,.3l.2,-.3l.2,-1.1l.1,1.3l.2,-.3l.2,-.6l.2,.1l.2,.7l.2,0l.2,-.4l.2,.2l.2,.5l.2,-1.3l.2,-.2l.2,1.1l.2,.2l.2,-.4l.2,.5l.2,-1.3l.2,.3l.2,.3l.2,-.2l.1,0l.2,.1l.2,.6l.2,-1.1l.2,.5l.2,.1l.2,-.8l.2,.8l.2,-.3l.2,-.4l.2,.6l.2,-.3l.2,.2l.2,.4l.2,-1.8l.2,.8l.2,1.1l.2,-1.2l.2,.4l.1,.8l.2,-.4l.2,-.1l.2,.1l.2,-.9l.2,1.3l.2,-.7l.2,.9l.2,-.8l.2,-.5l.2,-.2l.2,.1l.2,.1l.2,1l.2,.5l.2,-2l.2,.9l.2,.8l.2,-1l.1,.6l.2,-.8l.2,.2l.2,.1l.2,-.2l.2,.1l.2,.8l.2,-.4l.2,0l.2,-.3l.2,0l.2,-1.3l.2,1.8l.2,-1.2l.2,1.9l.2,-1.8l.2,-.5l.2,1.5l.2,.6l.1,-.9l.2,-1.3l.2,.9l.2,.2l.2,-.1l.2,0l.2,.3l.2,-1.1l.2,.9l.2,-.1l.2,1.2l.2,-.8l.2,.2l.2,-.6l.2,.2l.2,.4l.2,-.8l.2,-.7l.2,-.4l.1,.9l.2,.1l.2,-1.4l.2,.1l.2,-.5l.2,.7l.2,-1.1l.2,-.5l.2,.3l.2,.4l.2,-2.4l.2,-1.1l.2,-.5l.2,-.5M487,2017h0l.2,-2.7M487.4,2005.5h0M487.6,1991.1h0M487.8,1969.6h0M487.9,1941.1h0M488.1,1910.5h0M488.3,1896.7h0M488.5,1901.4h0M488.7,1924.8h0M488.9,1951.6h0M489.1,1965.4h0M489.3,1969.2h0M489.5,1966h0M489.7,1957.2h0M489.9,1954.1h0M490.1,1966.6h0M490.3,1979.7h0M490.5,1998.4h0M490.7,2007.6h0M490.9,2015.5h0M491.1,2019.6h0l.2,2.4l.2,1.7l.1,.4l.2,.3l.2,2.2l.2,-.8l.2,-.3l.2,-.4l.2,2l.2,-.9l.2,1.3l.2,-1l.2,.2l.2,1.1l.2,-.5l.2,1.9l.2,-1.6l.2,-.1l.2,.4l.2,-.1l.2,.6l.1,-.7l.2,.5l.2,.1l.2,0l.2,.9l.2,.4l.2,-.5l.2,-.4l.2,.2l.2,-.3l.2,-.4l.2,0l.2,-1.5l.2,1.8l.2,-.3l.2,.6l.2,.7l.2,-1.1l.2,-.7l.1,.7l.2,-.1l.2,-.3l.2,.8l.2,-.8l.2,-.6l.2,1.5l.2,-.2l.2,.7l.2,-.8l.2,-.7l.2,.5l.2,-.2l.2,-.1l.2,.2l.2,1.7l.2,-.8l.2,.1l.1,-.3l.2,-.2l.2,.2l.2,-.3l.2,-.2l.2,0l.2,.2l.2,-.6l.2,.4l.2,.6l.2,-.6l.2,-.3l.2,0l.2,.7l.2,-1l.2,.2l.2,.7l.2,-.3l.2,-.2l.1,-.3l.2,.8l.2,1.7l.2,-1.1l.2,-1.2l.2,.5l.2,.3l.2,1.2l.2,-.7l.2,-.7l.2,-.3l.2,-.9l.2,2.3l.2,-1.5l.2,1l.2,-.5l.2,-.1l.2,-.4l.2,.1l.1,-.6l.2,-.2l.2,.2l.2,1.3l.2,0l.2,-.8l.2,1.1l.2,-1.4l.2,-.1l.2,.5l.2,.1l.2,.2l.2,-.3l.2,-.4l.2,1.2l.2,-.3l.2,1.2l.2,-.4l.2,-1.2l.1,.5l.2,-.2l.2,-.8l.2,1l.2,-.3l.2,.5l.2,.7l.2,-1.3l.2,-.5l.2,-.7l.2,2.2l.2,-.3l.2,.6l.2,-.5l.2,-1.4l.2,1.1l.2,-.6l.2,.4l.2,0l.1,-.2l.2,-1.4l.2,.4l.2,2.1l.2,-1.9l.2,.5l.2,.3l.2,-1.4l.2,1.4l.2,.3l.2,-.3l.2,-.1l.2,.1l.2,-.2l.2,.9l.2,-.6l.2,-.2l.2,-.4l.2,1.2l.1,-.9l.2,.4l.2,-.3l.2,0l.2,1l.2,-1.5l.2,.3l.2,-1.1l.2,1.6l.2,-.4l.2,0l.2,.3l.2,.2l.2,-.8l.2,.3l.2,-.1l.2,-.2l.2,.8l.2,-.7l.1,.4l.2,.5l.2,-.2l.2,-.5l.2,.2l.2,-.2l.2,.9l.2,-1.5l.2,1.2l.2,-.6l.2,1.2l.2,-1l.2,-.2l.2,.4l.2,0l.2,-.3l.2,.1l.2,-.1l.2,.8l.1,-.5l.2,.1l.2,-.1l.2,.1l.2,-.6l.2,.5l.2,-.5l.2,.5l.2,0l.2,-.1l.2,.7l.2,-1.5l.2,1.6l.2,.1l.2,-.3l.2,.1l.2,-1.7l.2,.9l.2,-.1l.1,.5l.2,.1l.2,-1l.2,1.2l.2,-1l.2,0l.2,.1l.2,-.1l.2,1.4l.2,-1.3l.2,.7l.2,-.4l.2,-.4l.2,.8l.2,-.6l.2,-.3l.2,.2l.2,.2l.2,.6l.1,-.3l.2,-.4l.2,-.1l.2,.4l.2,.5l.2,.2l.2,-.8l.2,-1.1l.2,1.3l.2,-.1l.2,-.6l.2,.1l.2,.5l.2,-.4l.2,.3l.2,.7l.2,-.3l.2,-.2l.1,-.6l.2,.6l.2,.6l.2,-.3l.2,-.4l.2,-.1l.2,.1l.2,-.3l.2,-.9l.2,1.9l.2,-.4l.2,-1l.2,.4l.2,.5l.2,-1.2l.2,.8l.2,-.3l.2,.5l.2,-.1l.1,-.3l.2,1.4l.2,-.6l.2,-.5l.2,0l.2,0l.2,-.3l.2,1l.2,.1l.2,-1.5l.2,1.3l.2,-.1l.2,-.7l.2,.2l.2,.7l.2,-1l.2,.8l.2,-1.1l.2,.8l.1,-.3l.2,.6l.2,-.1l.2,.6l.2,-.6l.2,.2l.2,-.1l.2,-1.6l.2,1.5l.2,.1l.2,1.3l.2,-2.3l.2,-.5l.2,.2l.2,.8l.2,-.7l.2,.9l.2,.3l.2,-.2l.1,-.7l.2,.6l.2,-.3l.2,.3l.2,-.5l.2,.4l.2,-.5l.2,1l.2,-.7l.2,-.9l.2,1.1l.2,-.4l.2,.3l.2,-.2l.2,.3l.2,-.4l.2,.8l.2,-.4l.2,.1l.1,-1.6l.2,1.8l.2,-1.4l.2,1.4l.2,.1l.2,-.8l.2,.6l.2,-.1l.2,-1.1l.2,.4l.2,1l.2,-.9l.2,.3l.2,.7l.2,-1l.2,.5l.2,.4l.2,-1.2l.2,2l.1,-1.3l.2,.1l.2,1l.2,-1l.2,-.9l.2,.5l.2,.6l.2,-.4l.2,-.5l.2,-.1l.2,.3l.2,.7l.2,0l.2,-.9l.2,1.5l.2,-2.1l.2,1l.2,.5l.2,-.1l.1,.1l.2,-.7l.2,.7l.2,-.3l.2,.6l.2,-1l.2,1.1l.2,-1l.2,.5l.2,.5l.2,-.8l.2,.4l.2,-.1l.2,-.4l.2,.3l.2,.4l.2,-.9l.2,-.5l.2,1l.1,0l.2,0l.2,-.2l.2,.3l.2,-.8l.2,.5l.2,-.9l.2,1.9l.2,-1.1l.2,.4l.2,-.9l.2,.5l.2,1.1l.2,-.8l.2,-1.3l.2,1.4l.2,-.8l.2,.6l.2,.1l.1,-.1l.2,.9l.2,0l.2,-1.5l.2,.5l.2,.2l.2,-1.2l.2,1.2l.2,-1l.2,1.2l.2,-.1l.2,.2l.2,-.5l.2,.4l.2,-.8l.2,-.2l.2,.5l.2,.5l.2,-.9l.1,.4l.2,-.1l.2,.4l.2,.6l.2,-1.5l.2,1l.2,.3l.2,-1.2l.2,.6l.2,.6l.2,-1.2l.2,.9l.2,.3l.2,.4l.2,-1.1l.2,-.1l.2,-.2l.2,.2l.2,-1.4l.1,1.1l.2,.5l.2,.7l.2,-.8l.2,-.4l.2,0l.2,1.3l.2,-.3l.2,-1.4l.2,1l.2,-.6l.2,.9l.2,-.5l.2,.8l.2,-.5l.2,-.6l.2,-.9l.2,-.2l.1,2.1l.2,-.7l.2,-.1l.2,.4l.2,-.7l.2,.2l.2,-1.4l.2,1.1l.2,-.3l.2,.4l.2,-1.1l.2,.4l.2,-1.9l.2,-.3M582.6,2022.1h0l.2,-1.6M583,2014.9h0M583.2,2007.1h0M583.4,1998.7h0M583.5,1986.5h0M583.7,1980.8h0l.2,-.5M584.1,1992.4h0M584.3,2001h0M584.5,2006.4h0M584.7,2014.6h0l.2,-.5l.2,-1.4M585.3,2007.8h0M585.5,2002.6h0l.2,0M585.9,2008h0M586.1,2013.7h0M586.3,2018h0M586.5,2022.2h0l.2,2.8l.2,2.2l.2,-.4l.1,.1l.2,-.1l.2,1.1l.2,-1.2l.2,.7l.2,1.7l.2,-1.2l.2,1.2l.2,-1.2l.2,1l.2,.5l.2,-1.2l.2,.3l.2,0l.2,-.7l.2,2.5l.2,-1l.2,0l.2,-.5l.1,-.9l.2,1l.2,.1l.2,.5l.2,-.5l.2,.2l.2,.3l.2,-.2l.2,-.9l.2,-.1l.2,1.4l.2,-.8l.2,1.1l.2,-1.6l.2,.4l.2,.2l.2,-.2l.2,-.9l.2,.5l.1,1.4l.2,-1.2l.2,.1l.2,-.5l.2,-.7l.2,1.2l.2,.6l.2,-1.6l.2,1.4l.2,0l.2,-1.2l.2,1.5l.2,-.8l.2,.3l.2,-.4l.2,0l.2,.7l.2,-.2l.2,-.2l.1,.8l.2,-.2l.2,.6l.2,-.5l.2,-.9l.2,-.2l.2,.3l.2,-.4l.2,2.1l.2,-1.8l.2,.5l.2,.5l.2,-.6l.2,.2l.2,.3l.2,-.9l.2,.6l.2,.3l.2,.5l.1,-1.9l.2,.4l.2,1.5l.2,-1.3l.2,-.1l.2,.3l.2,-.1l.2,0l.2,.5l.2,-.2l.2,.5l.2,-.8l.2,-.3l.2,1l.2,-.6l.2,0l.2,-.8l.2,1.4l.2,-.8l.1,.6l.2,-.4l.2,-.4l.2,1l.2,-.4l.2,1.2l.2,-1.2l.2,-.3l.2,-.8l.2,.9l.2,.8l.2,-.7l.2,.4l.2,-.7l.2,.7l.2,-.9l.2,.6l.2,-.2l.2,-.3l.1,.4l.2,-.1l.2,-.1l.2,.2l.2,-.7l.2,.3l.2,.8l.2,0l.2,0l.2,-.3l.2,-.4l.2,.6l.2,-.1l.2,.3l.2,-.9l.2,.3l.2,1.1l.2,.7l.2,-1.7l.1,1.3l.2,-1.5l.2,-.2l.2,-.2l.2,-.2l.2,.1l.2,-.4l.2,.5l.2,.5l.2,0l.2,.7l.2,-1.3l.2,1l.2,.1l.2,-.4l.2,.3l.2,-.9l.2,2l.2,-1l.1,.6l.2,-1l.2,0l.2,-1.2l.2,2l.2,-.6l.2,0l.2,.5l.2,-.7l.2,.3l.2,.1l.2,-.2l.2,-.2l.2,.3l.2,-.3l.2,-.8l.2,1.5l.2,-.8l.1,-.2l.2,0l.2,.7l.2,.1l.2,-1.1l.2,.8l.2,-.8l.2,1l.2,-.1l.2,.3l.2,-1.1l.2,.5l.2,-.3l.2,.7l.2,.9l.2,-1.3l.2,-.9l.2,.7l.2,-.9l.1,.4l.2,.8l.2,-.2l.2,.3l.2,-.5l.2,.6l.2,.5l.2,-2l.2,1.5l.2,.5l.2,-.9l.2,.8l.2,-.3l.2,-.1l.2,0l.2,-.5l.2,-.7l.2,.3l.2,.6l.1,-.4l.2,-.1l.2,-1.2l.2,-.1l.2,-1l.2,-.1l.2,-2.5l.2,-2l.2,-2.8l.2,1.4l.2,.9l.2,2.4l.2,1.8l.2,1.2l.2,-.2l.2,.1l.2,-.1l.2,-1.4l.2,-1.2l.1,.2l.2,1.7l.2,1.9l.2,-.5l.2,0l.2,.6l.2,.6l.2,.2l.2,.7l.2,.6l.2,-.6l.2,.8l.2,-.2l.2,-.9l.2,.6l.2,-.4l.2,-.3l.2,-.5l.2,0l.1,1.3l.2,-.8l.2,.8l.2,-.4l.2,-.6l.2,.5l.2,-.6l.2,-.2l.2,.7l.2,.8l.2,-.6l.2,-.7l.2,.7l.2,-.5l.2,.6l.2,-.4l.2,-.6l.2,.6l.2,.5l.1,-.2l.2,0l.2,-.3l.2,-.3l.2,-.2l.2,1l.2,-.3l.2,.1l.2,.4l.2,.7l.2,-.7l.2,-.6l.2,.4l.2,-.8l.2,-.4l.2,.4l.2,.6l.2,.5l.2,-1.1l.1,.2l.2,.4l.2,.9l.2,-.4l.2,.5l.2,-.1l.2,-1.1l.2,.6l.2,-.8l.2,.1l.2,-.1l.2,.5l.2,.4l.2,-.6l.2,.5l.2,-.1l.2,.1l.2,-.3l.2,0l.1,-1.5l.2,.5l.2,1.3l.2,-.3l.2,.1l.2,-.2l.2,-.6l.2,.1l.2,0l.2,.7l.2,.6l.2,.1l.2,-1.5l.2,.4l.2,-.3l.2,.2l.2,1.1l.2,-1.2l.2,.8l.1,.1l.2,-.8l.2,-.7l.2,1.3l.2,-.2l.2,.3l.2,-.8l.2,-.6l.2,1.3l.2,-1.4l.2,.8l.2,.1l.2,1l.2,-1.4l.2,.5l.2,.5l.2,-.3l.2,-.2l.2,.9l.1,-.3l.2,-.9l.2,.1l.2,.6l.2,-.4l.2,-.6l.2,-.3l.2,1.3l.2,.4l.2,-.8l.2,-.6l.2,1.5l.2,-1.4l.2,.6l.2,1.3l.2,-1.1l.2,.9l.2,-1.3l.2,-.2l.1,1.1l.2,-.6l.2,.7l.2,-.5l.2,-.9l.2,.8l.2,-.1l.2,.4l.2,-.7l.2,.4l.2,-.3l.2,.5l.2,-.8l.2,.7l.2,-.7l.2,1l.2,-1.3l.2,.8l.1,0l.2,-.2l.2,.6l.2,-.6l.2,-.2l.2,0l.2,.3l.2,.3l.2,-.3l.2,-.9l.2,1.4l.2,-1.1l.2,1l.2,.2l.2,-.1l.2,-.5l.2,.5l.2,-1l.2,0l.1,.7l.2,-.3l.2,.6l.2,-.6l.2,-.2l.2,0l.2,.4l.2,-.6l.2,.8l.2,-.3l.2,-.8l.2,.9l.2,-.8l.2,1.8l.2,-.3l.2,-1.5l.2,-.6l.2,1.1l.2,-.5l.1,1l.2,.5l.2,-.8l.2,-1l.2,.8l.2,0l.2,.2l.2,0l.2,-.7l.2,0l.2,-.5l.2,1.1l.2,-.5l.2,.2l.2,-1.3l.2,-.4l.2,.1l.2,.9l.2,-2.6l.1,-1l.2,-.9M672.3,2018.3h0M672.5,2012.6h0M672.7,2005.1h0M672.9,1998h0l.2,-2.4l.2,3M673.5,2005h0M673.7,2011.9h0M673.9,2018.3h0l.2,2.3l.2,2l.2,-.2l.2,-2.1M674.9,2016.6h0M675.1,2012.9h0l.2,-1.2l.2,1.4M675.6,2016.2h0M675.8,2021.1h0l.2,2.6l.2,2.1l.2,.5l.2,1.3l.2,-.6l.2,1.8l.2,-1.2l.2,1l.2,-1.6l.2,.5l.2,1.3l.2,-.8l.2,1.3l.2,-.3l.2,.7l.2,-.7l.2,-.3l.1,1l.2,-.6l.2,-.3l.2,.1l.2,0l.2,.7l.2,-.7l.2,-.4l.2,.4l.2,-.7l.2,1.5l.2,-.2l.2,-.2l.2,-1l.2,.1l.2,.3l.2,.9l.2,.9l.2,-1.5l.1,.8l.2,-.4l.2,-.3l.2,.6l.2,-.7l.2,.2l.2,-.6l.2,.5l.2,-1.6l.2,1.8l.2,.5l.2,.4l.2,-1.7l.2,.8l.2,-.9l.2,-.5l.2,.9l.2,.4l.2,-.1l.1,.8l.2,-1.3l.2,1l.2,.9l.2,-1.5l.2,-.2l.2,.3l.2,-.5l.2,.9l.2,-.8l.2,.4l.2,-.1l.2,0l.2,.1l.2,-.5l.2,.2l.2,.9l.2,-.8l.2,0l.1,1l.2,-.3l.2,-.3l.2,.8l.2,-.9l.2,.3l.2,-.6l.2,-.2l.2,-.9l.2,1.3l.2,.4l.2,-.1l.2,-.7l.2,-.2l.2,1.3l.2,-.6l.2,.4l.2,-.4l.2,.6l.1,-.8l.2,.2l.2,-.6l.2,.6l.2,-1l.2,2l.2,-.1l.2,-.3l.2,-.2l.2,-.6l.2,.2l.2,.8l.2,-1.5l.2,.4l.2,.3l.2,-.5l.2,.1l.2,.3l.2,.9l.1,-.6l.2,0l.2,-.4l.2,-.2l.2,.2l.2,.3l.2,.3l.2,-.3l.2,.4l.2,-.3l.2,.1l.2,.1l.2,-.8l.2,.5l.2,0l.2,.4l.2,-.4l.2,-.3l.1,.8l.2,-1.4l.2,.1l.2,.9l.2,-.1l.2,-.3l.2,-.2l.2,.9l.2,.8l.2,-1l.2,.4l.2,-.6l.2,-.2l.2,-1.3l.2,1l.2,0l.2,.4l.2,-.6l.2,.1l.1,1l.2,-.3l.2,-.6l.2,.7l.2,.5l.2,-.7l.2,-.3l.2,-.6l.2,1.3l.2,-.7l.2,-.4l.2,.8l.2,-.1l.2,.8l.2,-.1l.2,-1.4l.2,.5l.2,.1l.2,.6l.1,-1.9l.2,1.9l.2,.2l.2,-1.1l.2,-.3l.2,.7l.2,-.2l.2,-.3l.2,.6l.2,.4l.2,0l.2,-.4l.2,.5l.2,-1l.2,.3l.2,0l.2,-.1l.2,0l.2,-.2l.1,-.4l.2,.6l.2,-.3l.2,.5l.2,-1.1l.2,1l.2,.1l.2,-.4l.2,1.2l.2,-.8l.2,.5l.2,-2.3l.2,.2l.2,.2l.2,-.1l.2,-2.3l.2,-2.7l.2,-1.4M716,2018.4h0l.1,-.5l.2,-1.1M716.5,2020.4h0l.2,2.5l.2,1.9l.2,2.2l.2,-.3l.2,.4l.2,-.1l.2,-1.4l.2,-1l.2,-1.7l.2,-.7l.2,2.2l.2,.2l.2,1.9l.2,.9l.2,-.6l.2,1.4l.1,.4l.2,-.2l.2,.6l.2,-.5l.2,-.1l.2,1.3l.2,-1.6l.2,1l.2,.1l.2,-.3l.2,.1l.2,.6l.2,0l.2,.7l.2,-2l.2,1.9l.2,-1.9l.2,.9l.2,-.7l.1,.5l.2,-.5l.2,.3l.2,1.1l.2,-1.1l.2,.2l.2,.9l.2,-.1l.2,-.8l.2,-.4l.2,.7l.2,.3l.2,-.3l.2,-.7l.2,.6l.2,.5l.2,-.5l.2,-.4l.2,-.4l.1,1.1l.2,0l.2,.5l.2,.4l.2,-1l.2,-.5l.2,.4l.2,.5l.2,-.7l.2,-.7l.2,1.3l.2,-1.2l.2,0l.2,.4l.2,.5l.2,.4l.2,-.5l.2,.3l.2,.4l.1,-.7l.2,-.7l.2,1.2l.2,-.3l.2,-.1l.2,1.1l.2,-.4l.2,-.6l.2,.2l.2,-.8l.2,.5l.2,.2l.2,.8l.2,-1.3l.2,-.4l.2,1.4l.2,-1.1l.2,0l.2,.4l.1,.3l.2,-.3l.2,-.1l.2,-.8l.2,.8l.2,-1.1l.2,1.7l.2,.4l.2,-1.5l.2,1.3l.2,-1.2l.2,.4l.2,-.1l.2,.4l.2,.5l.2,-.6l.2,.2l.2,-1l.1,1.1l.2,-.4l.2,.6l.2,-.1l.2,-.9l.2,.8l.2,-.7l.2,.2l.2,-.5l.2,2.1l.2,-1.9l.2,.7l.2,-1l.2,-.9l.2,1.7l.2,.2l.2,-.5l.2,-.5l.2,.6l.1,.5l.2,0l.2,-.8l.2,.7l.2,-1.3l.2,1.2l.2,.1l.2,.1l.2,-.1l.2,-.4l.2,-.6l.2,.6l.2,-.3l.2,-.2l.2,.6l.2,0l.2,-.8l.2,.6l.2,-.1l.1,.1l.2,.4l.2,-.4l.2,.8l.2,-.3l.2,-.2l.2,-.4l.2,-.2l.2,.1l.2,1.2l.2,-.4l.2,-.8l.2,.7l.2,.4l.2,-1.4l.2,1l.2,0l.2,-.3l.2,-.2l.1,-.4l.2,-.2l.2,.9l.2,.2l.2,-.5l.2,-.7l.2,1.6l.2,-.8l.2,-.9l.2,1.3l.2,-.2l.2,-.9l.2,1l.2,-.5l.2,.1l.2,-.3l.2,.4l.2,.3l.2,-.1l.1,-.2l.2,-.7l.2,.7l.2,.5l.2,-2.2l.2,.3l.2,.5l.2,.7l.2,-.8l.2,1l.2,-.3l.2,.7l.2,-.9l.2,-.1l.2,.7l.2,-1.2l.2,.5l.2,.6l.2,0l.1,.2l.2,-1.2l.2,.3l.2,-.5l.2,-1.3M757.6,2023.6h0l.2,-1.1M758,2018.8h0l.2,-2.9l.2,1.3l.2,-.5l.2,2.1M759,2023.3h0l.2,2.3l.2,1l.2,.4l.2,.3l.2,-.2l.2,.8l.1,-2.6l.2,-.7l.2,-2.4l.2,-.6l.2,1.5l.2,1.9l.2,.3l.2,2.3l.2,.3l.2,.1l.2,1.6l.2,-.9l.2,.3l.2,.4l.2,.5l.2,-.5l.2,-.6l.2,.5l.2,-.3l.1,.3l.2,-.8l.2,.8l.2,-.4l.2,.8l.2,.2l.2,.5l.2,-.3l.2,-1.3l.2,.1l.2,.7l.2,-1l.2,.6l.2,.1l.2,-.5l.2,1.7l.2,0l.2,-.5l.2,-1.4l.1,.9l.2,-.5l.2,-.4l.2,.7l.2,-.1l.2,-.4l.2,.8l.2,-.4l.2,.5l.2,-.9l.2,.9l.2,-.4l.2,-.1l.2,1.5l.2,-.9l.2,-.4l.2,.2l.2,.1l.2,-1l.1,.3l.2,.3l.2,.7l.2,-.3l.2,-.7l.2,1.2l.2,-1.1l.2,-.2l.2,1l.2,.4l.2,-1.4l.2,.6l.2,-.7l.2,.5l.2,.8l.2,-.6l.2,-.1l.2,-.2l.2,.3l.1,-.9l.2,.6l.2,.4l.2,-.7l.2,.8l.2,-.8l.2,.4l.2,.3l.2,-.3l.2,.5l.2,.2l.2,-.6l.2,-.2l.2,-.2l.2,.5l.2,-.2l.2,-.7l.2,.7l.1,-.2l.2,.7l.2,-.5l.2,.6l.2,-.6l.2,.8l.2,-2.1l.2,.4l.2,1.2l.2,-.5l.2,1l.2,-1.1l.2,-.1l.2,-.1l.2,.1l.2,.2l.2,0l.2,.1l.2,-.2l.1,-.1l.2,1.1l.2,-.4l.2,-.6l.2,.6l.2,-.7l.2,.5l.2,-.2l.2,.3l.2,.1l.2,-1.3l.2,1l.2,-.8l.2,1.3l.2,-.5l.2,0l.2,-.4l.2,.6l.2,.1l.1,0l.2,-1l.2,.9l.2,0l.2,-.5l.2,.7l.2,-.5l.2,.5l.2,.5l.2,-1.6l.2,1.3l.2,-.3l.2,-.6l.2,.2l.2,.7l.2,-.4l.2,.5l.2,-.6l.2,.5l.1,-1.2l.2,1.3l.2,-.9l.2,-.3l.2,.7l.2,-.5l.2,.1l.2,-.4l.2,.9l.2,-.8l.2,.5l.2,.2l.2,-.2l.2,-.3l.2,1l.2,-1.4l.2,1.2l.2,-.5l.2,.6l.1,-.8l.2,0l.2,1.3l.2,-.3l.2,-.8l.2,-.7l.2,1l.2,.6l.2,-1.2l.2,.6l.2,-.1l.2,.2l.2,.1l.2,-.2l.2,.1l.2,-.3l.2,-.5l.2,.4l.2,-.1l.1,.5l.2,-.2l.2,-.8l.2,-.4l.2,.7l.2,.9l.2,-.9l.2,.8l.2,-.8l.2,.2l.2,.3l.2,-1.1l.2,.7l.2,-.2l.2,-.1l.2,.6l.2,-1.5l.2,.2l.2,-1.3l.1,-1l.2,-.8l.2,2.2l.2,-.1l.2,.6l.2,.6l.2,.4l.2,.1l.2,.3l.2,-.6l.2,.1l.2,-.2l.2,-.4l.2,.5l.2,-1.2l.2,-.4l.2,1.2l.2,.3l.2,0l.1,.2l.2,-.3l.2,1.5l.2,-.9l.2,.5l.2,-.5l.2,.8l.2,-.2l.2,.2l.2,-.2l.2,-1.4l.2,1l.2,.7l.2,-.6l.2,1.2l.2,-1.3l.2,.3l.2,.4l.2,-.1l.1,-.4l.2,.3l.2,-.6l.2,.7l.2,0l.2,-.4l.2,-.1l.2,.7l.2,.2l.2,-1.2l.2,.6l.2,.6l.2,-1.5l.2,1.4l.2,-.3l.2,.4l.2,-1.1l.2,.6l.2,.6l.1,-1l.2,-.3l.2,1.1l.2,0l.2,-1.2l.2,.3l.2,-.8l.2,.4l.2,.7l.2,.2l.2,-.2l.2,.2l.2,-.5l.2,.5l.2,-.5l.2,1.4l.2,-1.1l.2,-.2l.2,1.3l.1,-.4l.2,.1l.2,-1.1l.2,.4l.2,-.5l.2,.4l.2,.5l.2,-.6l.2,.1l.2,.3l.2,-.9l.2,.8l.2,-.6l.2,.2l.2,.1l.2,.4l.2,.2l.2,-1.2l.1,.5l.2,.4l.2,-.4l.2,-1l.2,1.2l.2,0l.2,.1l.2,-.8l.2,1l.2,-.1l.2,0l.2,-.5l.2,.7l.2,.7l.2,-.5l.2,-.5l.2,-.1l.2,.2l.2,-.4l.1,.1l.2,.4l.2,.6l.2,-1.4l.2,1.1l.2,-.7l.2,1l.2,-.8l.2,.2l.2,-.4l.2,.3l.2,0l.2,-.6l.2,.4l.2,-.1l.2,.6l.2,-.9l.2,.7l.2,-.3l.1,.5l.2,-.3l.2,-.1l.2,.8l.2,-.6l.2,-.2l.2,-.3l.2,.4l.2,0l.2,-.1l.2,.3l.2,0l.2,-.6l.2,.2l.2,-.1l.2,.4l.2,-.8l.2,.5l.2,-.2l.1,-1l.2,1.9l.2,-.4l.2,-.9l.2,.9l.2,.1l.2,.1l.2,-.4l.2,-.1l.2,0l.2,-.6l.2,1.6l.2,-1.2l.2,-.2l.2,-.1l.2,-.2l.2,.4l.2,.5l.2,-.5l.1,.9l.2,-.6l.2,-.1l.2,.4l.2,-.8l.2,1.2l.2,-.3l.2,-1l.2,.6l.2,-.6l.2,1l.2,.2l.2,-.3l.2,-.3l.2,.4l.2,-1.6l.2,.1l.2,1.2l.2,-.4l.1,.5l.2,-1.2l.2,.8l.2,-.4l.2,.7l.2,-.6l.2,.9l.2,-1.4l.2,.4l.2,.2l.2,-.4l.2,-.6l.2,.2l.2,.5l.2,-.5l.2,.9l.2,-.9l.2,-.8l.2,.4l.1,-1l.2,0l.2,-1.4M841.9,2022.1h0M842.1,2016.7h0M842.3,2010.3h0M842.5,2003.7h0M842.7,1996.9h0M842.9,1992.2h0M843.1,1995.9h0M843.3,2003.7h0M843.5,2010.7h0M843.7,2016.3h0M843.9,2021.4h0l.2,2.9l.2,.4l.2,.2l.2,-.3l.2,-.2l.1,-2.8l.2,-2.7M845.4,2015.6h0M845.6,2011.5h0l.2,-.6l.2,1.3M846.2,2015.9h0M846.4,2019.4h0M846.6,2024.6h0l.2,1.1l.2,.9l.2,.4l.2,.9l.2,.8l.2,.7l.2,1l.2,-1.5l.2,.4l.2,-1l.1,.2l.2,.8l.2,1l.2,0l.2,-.6l.2,.3l.2,-.3l.2,-1.5l.2,.2l.2,.3l.2,1.2l.2,-.2l.2,0l.2,-.6l.2,.3l.2,-.3l.2,.7l.2,-1l.2,1l.1,-.5l.2,.1l.2,.7l.2,-.9l.2,-.3l.2,-.1l.2,1.7l.2,-.8l.2,-.2l.2,.2l.2,.2l.2,-.3l.2,-.7l.2,1l.2,0l.2,.3l.2,-.4l.2,-1.3l.2,1.4l.1,-.2l.2,0l.2,.8l.2,-.5l.2,-1l.2,.1l.2,.5l.2,.2l.2,-.2l.2,.6l.2,0l.2,-.2l.2,-1.5l.2,.8l.2,.3l.2,.2l.2,.3l.2,-.6l.1,.2l.2,-.4l.2,1l.2,-.5l.2,-.5l.2,.8l.2,-.3l.2,.1l.2,.2l.2,-.9l.2,.7l.2,-.5l.2,.2l.2,.2l.2,-.2l.2,.3l.2,.4l.2,-.9l.2,.9l.1,-.8l.2,.6l.2,-1.6l.2,.8l.2,0l.2,.6l.2,-.3l.2,0l.2,0l.2,.3l.2,-.6l.2,0l.2,1l.2,-.9l.2,0l.2,-.3l.2,.2l.2,-.1l.2,.9l.1,.4l.2,-.6l.2,.2l.2,-.3l.2,-.1l.2,.5l.2,-1l.2,.4l.2,-.4l.2,.2l.2,-.2l.2,.7l.2,-.2l.2,-.3l.2,.3l.2,-.5l.2,.4l.2,-.5l.2,-.3l.1,.5l.2,.3l.2,.2l.2,-.6l.2,-.6l.2,1.2l.2,-.4l.2,.4l.2,.2l.2,-.2l.2,.3l.2,-1.2l.2,.6l.2,-.6l.2,.1l.2,.4l.2,-.1l.2,.4l.2,-.1l.1,-.5l.2,-.4l.2,1.7l.2,-.8l.2,-.2l.2,.4l.2,-1.1l.2,1.2l.2,-.4l.2,-.3l.2,.2l.2,.2l.2,.2l.2,-.3l.2,-.4l.2,.5l.2,-.1l.2,0l.2,.4l.1,.5l.2,-.4l.2,-.5l.2,-.1l.2,0l.2,.1l.2,-.7l.2,1.1l.2,-.1l.2,-.1l.2,.4l.2,-.3l.2,-.7l.2,.2l.2,.2l.2,-.1l.2,.3l.2,-.1l.2,.9l.1,-.8l.2,-.2l.2,-.6l.2,.7l.2,.1l.2,-.1l.2,.5l.2,-1l.2,-.3l.2,.7l.2,-.3l.2,.3l.2,.7l.2,-.2l.2,.4l.2,-1l.2,.6l.2,-.5l.2,.4l.1,-1.2l.2,.1l.2,.1l.2,.8l.2,.1l.2,-.1l.2,.9l.2,-.7l.2,-1.5l.2,.8l.2,.5l.2,.3l.2,-.3l.2,.1l.2,-.7l.2,.1l.2,.7l.2,-1.1l.2,.4l.1,.5l.2,-.2l.2,.4l.2,0l.2,-.7l.2,.3l.2,-.3l.2,1.2l.2,-.5l.2,0l.2,.5l.2,-1l.2,.8l.2,-1.6l.2,1.2l.2,0l.2,-.5l.2,.6l.2,.4l.1,-1.1l.2,.1l.2,.3l.2,.4l.2,-1l.2,.6l.2,0l.2,1l.2,-1.3l.2,.4l.2,-.1l.2,-.2l.2,.6l.2,-1l.2,.7l.2,-.2l.2,-.1l.2,.7l.2,-.8l.1,.3l.2,-.4l.2,.7l.2,-.5l.2,.1l.2,-.4l.2,.2l.2,.4l.2,.3l.2,0l.2,-.4l.2,.1l.2,-.2l.2,.2l.2,0l.2,-.2l.2,.8l.2,-.9l.1,-.1l.2,0l.2,-.3l.2,.6l.2,-.8l.2,1.4l.2,-.3l.2,-.2l.2,-1l.2,.3l.2,.9l.2,-.6l.2,.3l.2,-.1l.2,1l.2,-.6l.2,-1.2l.2,1.3l.2,-.6l.1,.9l.2,-.4l.2,.1l.2,-.6l.2,.3l.2,-.6l.2,1l.2,-.9l.2,.4l.2,-.3l.2,.5l.2,.8l.2,0l.2,-1.3l.2,.1l.2,.2l.2,0l.2,.3l.2,0l.1,.1l.2,-1.2l.2,1l.2,-.9l.2,1l.2,.4l.2,-1.8l.2,.8l.2,1.2l.2,-1.2l.2,.6l.2,.6l.2,-1l.2,.4l.2,0l.2,-.2l.2,-.1l.2,.8l.2,-1.3l.1,0l.2,.4l.2,0l.2,-.1l.2,-.4l.2,.7l.2,-.1l.2,-.2l.2,.8l.2,-.8l.2,-.1l.2,.4l.2,-1l.2,1.1l.2,-.7l.2,1l.2,.3l.2,-.3l.2,.1l.1,0l.2,-.7l.2,.3l.2,-.1l.2,.8l.2,-.2l.2,-.9l.2,.1l.2,0l.2,-.1l.2,0l.2,.2l.2,0l.2,-.1l.2,.5l.2,-.8l.2,.9l.2,-.4l.2,-.2l.1,.1l.2,.2l.2,.5l.2,-.8l.2,0l.2,.3l.2,-.5l.2,.2l.2,-.1l.2,.3l.2,.6l.2,-.6l.2,-.6l.2,.6l.2,-.4l.2,1.7l.2,-.7l.2,-1.1l.2,-.8l.1,2.3l.2,-1.5l.2,1l.2,-.7l.2,.4l.2,-.2l.2,.8l.2,-.3l.2,-1.1l.2,1.2l.2,-.5l.2,-.3l.2,.5l.2,-.3l.2,-.2l.2,-.2l.2,.4l.2,.7l.2,-1.3l.1,.3l.2,-.2l.2,.2l.2,-.7l.2,-.5l.2,.1l.2,-.1l.2,-1.7l.2,.9l.2,-1.8l.2,.2l.2,1.2l.2,1.4l.2,-.5l.2,.9l.2,-.2l.2,.8l.2,-.4l.2,1.1l.1,-.7l.2,0l.2,.1l.2,-.7l.2,.4l.2,-.3l.2,-1l.2,.7l.2,-.5l.2,-.2l.2,.8l.2,.4l.2,-.6l.2,1.1l.2,.3l.2,-.5l.2,-.2l.2,.4l.2,.5l.1,-1.6l.2,.9l.2,.4l.2,-.5l.2,.3l.2,.2l.2,-.5l.2,.5l.2,-.1l.2,-.2l.2,.1l.2,.4l.2,.5l.2,-.9l.2,.4l.2,.2l.2,-.7l.2,.2l.2,.6l.1,-.7l.2,.3l.2,.2l.2,.5l.2,-.9l.2,.1l.2,0l.2,-.4l.2,.8l.2,.4l.2,-1l.2,-.2l.2,1.3l.2,-1.2l.2,.1l.2,-.2l.2,.3l.2,.3l.1,-.5l.2,.3l.2,0l.2,-.8l.2,.9l.2,-.3l.2,.4l.2,-.5l.2,-.3l.2,.3l.2,.6l.2,-.9l.2,.6l.2,-.1l.2,-.3l.2,0l.2,.5l.2,-.4l.2,.1l.1,.7l.2,-.6l.2,-.3l.2,.6l.2,-.8l.2,.8l.2,-1.2l.2,.3l.2,.6l.2,-.3l.2,.1l.2,-.2l.2,.7l.2,-.4l.2,.3l.2,.2l.2,-.1l.2,.2l.2,-1.1l.1,1l.2,.4l.2,-.4l.2,0l.2,-.6l.2,-.9l.2,1.1l.2,.3l.2,-.9l.2,1l.2,-.7l.2,.6l.2,.3l.2,-.1l.2,-.7l.2,0l.2,.5l.2,-.8l.2,.8l.1,-.2l.2,-.6l.2,.6l.2,-.5l.2,.8l.2,-.4l.2,-.4l.2,-.1l.2,.3l.2,.5l.2,-.1l.2,-.1l.2,-.7l.2,.4l.2,.9l.2,-.3l.2,0l.2,-.2l.2,0l.1,-.5l.2,.3l.2,-.4l.2,.1l.2,1l.2,-.7l.2,1.2l.2,-1.3l.2,-.3l.2,.1" fill="none" stroke="#ff0000" stroke-width="7.5" stroke-linecap="round" stroke-linejoin="round"/><path d="M81,2028.6l4.1,0l4.1,0l4.1,0l4.1,0l4,0l4.1,0l4.1,0l4.1,.1l4.1,0l4.1,0l4.1,0l4.1,0l4.1,0l4,0l4.1,-.1l4.1,-.1l1.2,-.2l1.2,-.2l.5,-.2l.4,-.2l.4,-.2l.2,-.2l.2,-.2l.2,-.2l.2,-.4l.2,-.4l.2,-.5l.2,-.8l.2,-1.1l.2,-1.9l.2,-3.6l.2,-6.6l.2,-11l.2,-15.6l.1,-17.9l.2,-13l.2,-1.6l.2,7l.2,11.5l.2,14.6l.2,13.9l.2,10.6l.2,6.9l.2,4.1l.2,2.3l.2,1.3l.2,.8l.2,.6l.2,.4l.2,.3l.2,.3l.2,.2l.2,.2l.3,.3l.6,.2l.6,.2l1,.2l2.1,.2l4.1,.1l4.1,0l4.1,.1l4.1,0l4.1,0l4.1,0l4,0l4.1,0l4.1,0l4.1,0l4.1,0l4.1,0l4.1,0l4.1,0l4.1,-.1l4,0l3.4,-.2l3.1,-.2l1.9,-.2l1.2,-.2l.8,-.2l.6,-.2l.5,-.2l.4,-.2l.4,-.2l.4,-.2l.2,-.2l.4,-.3l.2,-.2l.2,-.2l.2,-.3l.2,-.3l.2,-.3l.2,-.3l.2,-.4l.1,-.5l.2,-.5l.2,-.6l.2,-.8l.2,-.8l.2,-1l.2,-1.2l.2,-1.5l.2,-1.8l.2,-2.3l.2,-3l.2,-3.8l.2,-5.5l.2,-8.6l.2,-15l.2,-27.7l.2,-49.2l.2,-78.2l.2,-105.4l.1,-110.1l.2,-64.8l.2,11.7l.2,50.4l.2,48l.2,48.6l.2,66.5l.2,73.9l.2,62.5l.2,44.5l.2,28l.2,16.2l.2,9.3l.2,5.7l.2,3.8l.2,2.8l.2,2.2l.2,1.7l.2,1.4l.1,1.2l.2,1l.2,.8l.2,.7l.2,.6l.2,.5l.2,.4l.2,.4l.2,.3l.2,.3l.2,.3l.2,.3l.2,.2l.2,.2l.4,.3l.4,.3l.3,.2l.4,.2l.4,.2l.6,.2l.8,.2l1,.2l1.1,.2l2,.2l3.3,.2l4.1,.1l4.1,.1l4.1,0l4,0l4.1,.1l4.1,0l4.1,0l4.1,0l4.1,-.1l1.2,-.2l.1,-.2l.2,-.3l.2,-.3l.2,-.3l.6,.2l.4,.2l.4,.3l.2,.2l.2,.2l.6,.2l4.1,0l3.1,-.2l1.5,-.2l1,-.2l.6,-.2l.4,-.2l.4,-.3l.2,-.2l.2,-.2l.2,-.2l.1,-.3l.2,-.4l.2,-.5l.2,-.7l.2,-.9l.2,-1.3l.2,-2.2l.2,-4l.2,-7.4l.2,-12.1l.2,-17.6l.2,-20.7l.2,-16.3l.2,-2.6l.2,9.8l.2,11.3l.2,6.8l.2,3.6l.2,6.4l.1,10.9l.2,11.8l.2,9.6l.2,6.7l.2,4l.2,2.3l.2,1.4l.2,.8l.2,.6l.2,.5l.2,.4l.2,.2l.2,.3l.2,.2l.4,.3l.4,.2l.3,.2l.8,.2l1,.2l2.1,.2l4.1,.1l4.1,.1l4.1,0l4.1,0l4.1,0l4.1,0l4.1,0l4.1,0l4,0l4.1,0l3.5,-.2l2.4,-.2l1.3,-.2l.6,-.2l.6,-.2l.4,-.2l.4,-.3l.2,-.2l.2,-.2l.2,-.2l.2,-.3l.2,-.3l.2,-.5l.1,-.5l.2,-.6l.2,-.9l.2,-1.2l.2,-1.8l.2,-3l.2,-5.5l.2,-9.8l.2,-16.3l.2,-23.3l.2,-27.2l.2,-21.4l.2,-2.5l.2,15.4l.2,18.4l.2,11.4l.2,2.6l.2,-.5l.1,5.2l.2,12.9l.2,14.8l.2,12.4l.2,8.7l.2,5.3l.2,3.1l.2,1.8l.2,1.1l.2,.8l.2,.5l.2,.5l.2,.4l.2,.3l.2,.2l.2,.2l.2,.2l.2,.2l.3,.2l.4,.2l.4,.2l.8,.2l1,.2l2.1,.2l4.1,.1l4.1,.1l4.1,0l4.1,0l4.1,.1l4.1,0l4,0l3.9,-.2l.4,-.2l2,.2l1.1,.2l4.1,-.1l2.6,-.2l.9,-.2l.6,-.2l.4,-.2l.2,-.2l.2,-.2l.2,-.4l.2,-.5l.2,-1l.2,-1.7l.2,-3l.2,-4.6l.2,-6.1l.2,-6.1l.2,-3.2l.1,1.9l.2,4.8l.2,4.5l.2,2.4l.4,-1l.2,-.2l.2,2l.2,3.4l.2,3.2l.2,2.4l.2,1.6l.2,.9l.2,.5l.2,.3l.2,.3l.4,.2l.3,.2l.6,.2l1.6,.2l4.1,.1l4.1,0l4.1,.1l4,0l4.1,0l4.1,0l4.1,-.1l4.1,0l4.1,-.1l1.5,-.2l1.6,-.2l1,-.2l.6,-.2l.4,-.2l.3,-.2l.2,-.2l.2,-.2l.2,-.2l.2,-.2l.2,-.3l.2,-.3l.2,-.4l.2,-.5l.2,-.7l.2,-.8l.2,-1l.2,-1.5l.2,-2.5l.2,-4.2l.2,-7.6l.2,-13.3l.2,-20.6l.1,-27.1l.2,-27.9l.2,-15.6l.2,7.4l.2,23.1l.2,23.3l.2,14.8l.2,3.8l.2,-5.2l.2,-7.8l.2,-1.6l.2,9.1l.2,14.8l.2,14.1l.2,10.7l.2,7l.2,4l.2,2.4l.2,1.4l.1,.9l.2,.6l.2,.6l.2,.4l.2,.3l.2,.3l.2,.2l.2,.2l.2,.2l.4,.2l.2,.2l.6,.2l.6,.2l.7,.2l1.4,.2l2.5,.2l4.1,.1l4.1,0l4.1,.1l4.1,0l4.1,0l4.1,-.1l.5,-.2l.4,-.2l.4,.2l1.8,.2l4.1,.1l4.1,.1l4,0l4.1,0l4.1,0l4.1,0l4.1,0l4.1,0l4.1,0l4.1,0l4.1,0l4,-.1l2.2,-.2l1.2,-.2l.7,-.2l.4,-.2l.4,-.3l.4,-.4l.2,-.3l.2,-.4l.2,-.5l.2,-.9l.2,-1.5l.2,-2.8l.2,-4.7l.2,-7.4l.2,-9.9l.1,-10.6l.2,-6.8l.2,1.5l.2,8.5l.2,10l.2,7.8l.2,4.4l.2,.6l.2,-2.3l.2,-4.1l.2,-3.7l.2,-.4l.2,3.7l.2,5.5l.2,5.1l.2,3.8l.2,2.4l.2,1.5l.2,.8l.1,.5l.2,.3l.2,.2l.2,.2l.2,.2l.4,.2l.6,.2l.8,.2l1.5,.2l4.1,.1l4.1,.1l4.1,0l4.1,0l4.1,0l4.1,0l1.7,-.2l1.4,.2l4.1,0l3.7,-.2l.8,-.2l.3,-.2l.2,-.3l.2,-.5l.2,-.9l.2,-1.3l.2,-1.9l.2,-1.9l.2,-1.4l.2,.2l.2,1.5l.2,1.9l.2,1.6l.2,1l.2,.4l.2,-.2l.2,-.6l.2,-.9l.2,-.7l.3,.7l.2,1.1l.2,.9l.2,.7l.2,.4l.2,.3l.4,.2l.6,.2l3.7,.2l4.1,0l4.1,0l4.1,0l4,0l4.1,0l4.1,0l4.1,-.1l2.9,-.2l1,-.2l.6,-.2l.4,-.2l.2,-.2l.2,-.2l.2,-.3l.2,-.5l.2,-.7l.1,-1.3l.2,-2.4l.2,-3.8l.2,-5.6l.2,-7l.2,-6.4l.2,-2.6l.2,3.1l.2,6.4l.2,6.6l.2,5l.2,3l.2,1.1l.2,-.6l.2,-2.1l.2,-3l.2,-3l.2,-1.3l.2,1.5l.1,3.3l.2,3.6l.2,2.8l.2,2l.2,1.2l.2,.6l.2,.4l.2,.3l.2,.2l.4,.2l.6,.2l.8,.2l2.5,.2l4.1,0l4.1,.1l4.1,0l4,0l4.1,0l2.8,-.2l1.5,.2l4.1,0l2.9,-.2l1,-.2l.4,-.3l.2,-.2l.2,-.5l.2,-.8l.2,-1.3l.2,-1.9l.2,-2.4l.2,-2.2l.1,-.9l.2,.9l.2,2.2l.2,2.3l.2,1.8l.2,1.2l.2,.5l.4,-.3l.2,-.8l.2,-1.1l.2,-1l.2,-.5l.2,.6l.2,1.1l.2,1.2l.2,1l.2,.6l.2,.5l.1,.2l.4,.2l.8,.2l4.1,.1l4.1,.1l4.1,0l4.1,0l4.1,0l4,0l4.1,0l4.1,-.1l2,-.2l.8,-.2l.3,-.3l.2,-.3l.2,-.6l.2,-.9l.2,-1.6l.2,-2.2l.2,-2.8l.2,-2.6l.2,-1.1l.2,1.1l.2,2.5l.2,2.7l.2,2.2l.2,1.5l.2,.8l.2,.2l.2,-.2l.2,-.6l.1,-1l.2,-1.3l.2,-1.2l.2,-.5l.2,.7l.2,1.3l.2,1.4l.2,1.1l.2,.8l.2,.5l.2,.3l.4,.2l.4,.2l1.7,.2l4.1,0l4.1,.1l4.1,0l4.1,0l4.1,0l4.1,-.2l1.5,.2l4.1,0l4.1,-.2l.6,-.2l.2,-.2l.2,-.4l.2,-.6l.2,-.8l.2,-.8l.1,-.7l.4,.7l.2,.8l.2,.8l.2,.5l.2,.4l.2,.2l.8,-.4l.2,-.4l.2,-.4l.2,-.3l.4,.4l.2,.4l.2,.4l.1,.3l.2,.2l.4,.2l4.1,.1l4.1,.1l4.1,0l4.1,0l4.1,0l4.1,0l4.1,-.1l4,-.1l1,-.2l.8,-.2l.6,-.3l.4,-.2l.2,-.2l.2,-.3l.2,-.4l.1,-.5l.2,-.9l.2,-1.6l.2,-2.8l.2,-4.5l.2,-6.3l.2,-7.7l.2,-6.9l.2,-2.7l.2,3.4l.2,7.1l.2,7.5l.2,6l.2,4l.2,2.4l.2,1.2l.2,.4l.2,-.2l.2,-1l.1,-1.9l.2,-2.9l.2,-3.6l.2,-3.4l.2,-1.6l.2,1.6l.2,3.5l.2,3.9l.2,3.2l.2,2.2l.2,1.4l.2,.8l.2,.5l.2,.3l.2,.2l.4,.2l.4,.2l.7,.2l1.6,.2l4.1,.1l4.1,0l4.1,.1l4,0l4.1,0l3,-.2l1.5,.2l4.1,0l4.1,0l4.1,0l4.1,.1l4.1,0l4,0l4.1,0l4.1,0l4.1,0l4.1,0l4.1,0l4.1,-.1l1.5,-.3l.4,-.5l.2,-.4l.2,-.7l.2,-.7l.2,-.6l.4,.3l.2,.7l.2,.7l.2,.6l.2,.3l.2,.3l.6,.2l.5,-.2l.2,-.2l.2,-.2l.2,-.4l.2,-.3l.2,-.2l.4,.3l.2,.4l.2,.3l.2,.3l.4,.2l.8,.2l4,0l4.1,.1l4.1,0l4.1,0l4.1,0l3.5,0" fill="none" stroke="#000" stroke-width="1.25" stroke-linejoin="round"/><g stroke="#008000" fill="none"><path d="M153.3,2077.5V2096" stroke-width="2.2"/><path d="M245.5,2077.5V2096" stroke-width="2.5"/><path d="M301.2,2077.5V2096" stroke-width="2.6"/><path d="M317.8,2077.5V2096" stroke-width="2.7"/><path d="M379.8,2077.5V2096M381,2077.5V2096" stroke-width="1.75"/><path d="M422.7,2077.5V2096M423.9,2077.5V2096" stroke-width="1.75"/><path d="M436.2,2077.5V2096M437.5,2077.5V2096" stroke-width="1.75"/><path d="M488.4,2077.5V2096M489.9,2077.5V2096" stroke-width="1.75"/><path d="M525.1,2077.5V2096M526.7,2077.5V2096" stroke-width="1.75"/><path d="M583.8,2077.5V2096M585.6,2077.5V2096" stroke-width="1.75"/><path d="M617.9,2077.5V2096M619.9,2077.5V2096" stroke-width="1.75"/><path d="M629.4,2077.5V2096M631.4,2077.5V2096" stroke-width="1.75"/><path d="M673.1,2077.5V2096M675.3,2077.5V2096" stroke-width="1.75"/><path d="M705.2,2077.5V2096M707.5,2077.5V2096" stroke-width="1.75"/><path d="M716.1,2077.5V2096M718.5,2077.5V2096" stroke-width="1.75"/><path d="M758.4,2077.5V2096M760.9,2077.5V2096" stroke-width="1.75"/><path d="M789.9,2077.5V2096M792.5,2077.5V2096" stroke-width="1.75"/><path d="M800.9,2077.5V2096M803.7,2077.5V2096" stroke-width="1.75"/><path d="M842.9,2077.5V2096M845.8,2077.5V2096" stroke-width="1.75"/><path d="M874.6,2077.5V2096M877.8,2077.5V2096" stroke-width="1.75"/><path d="M927.7,2077.5V2096M931.2,2077.5V2096" stroke-width="1.75"/></g><path d="M81,2125.8l.19,1.1l.2,3.6l.19,-3.1l.2,-2.2l.19,.9l.2,.9l.19,-2l.2,0l.19,3.8l.2,-3.1l.19,-2.7l.2,1.8l.19,.3l.2,.4l.19,-.4l.2,-1.3l.19,3.1l.19,-6.4l.2,2l.19,-3.3l.2,1.6l.19,-4.7l.2,2.9l.19,1.5l.2,-2l.19,-.9l.2,-.2l.19,-2.7l.2,-.8l.19,2l.2,0l.19,2.4l.2,-3.2l.19,2l.19,0l.2,.4l.19,-1.9l.2,4.2l.19,2.1l.2,1.4l.19,-.2l.2,1.4l.19,-2.2l.2,1.7l.19,.5l.2,2.3l.19,-2.4l.2,-.2l.19,.3l.2,0l.19,1.8l.19,1.2l.2,-.1l.19,2.5l.2,-4.4l.19,2.6l.2,-2.2l.19,2.1l.2,-1.5l.19,.2l.2,-2.6l.19,3.2l.2,-1.3l.19,.7l.2,1.3l.19,1.7l.2,-3.8l.19,1.2l.2,1.6l.19,-2.9l.19,.3l.2,.7l.19,-.6l.2,-2.5l.19,3.6l.2,.4l.19,-3.8l.2,4.7l.19,-.1l.2,1.6l.19,-2.3l.2,-1.1l.19,.2l.2,1.1l.19,.1l.2,-1.5l.19,.4l.19,-1.5l.2,3.8l.19,-2.6l.2,-.3l.19,1.7l.2,-2.5l.19,.1l.2,1.6l.19,-1.8l.2,1.1l.19,1.4l.2,.7l.19,-.4l.2,-1.9l.19,.5l.2,-.5l.19,-.2l.19,3.3l.2,-3.1l.19,-.6l.2,1.5l.19,-.4l.2,-2.7l.19,2.6l.2,-1.1l.19,1.3l.2,.3l.19,.3l.2,-2.2l.19,4.2l.2,-4.6l.19,1.4l.2,2.1l.19,-4.8l.19,1.2l.2,2.2l.19,0l.2,.1l.19,.4l.2,0l.19,-1.1l.2,1.8l.19,-1l.2,-1.5l.19,2l.2,1.1l.19,-2.3l.2,-.8l.19,.7l.2,-1.3l.19,-1.3l.19,3.6l.2,-1.7l.19,2.8l.2,-1.5l.19,-2.1l.2,2.8l.19,-.7l.2,-.8l.19,1.5l.2,-.8l.19,-3.4l.2,2.6l.19,1.9l.2,-1.4l.19,-.8l.2,.4l.19,.2l.19,-3.3l.2,3.5l.19,1.4l.2,-3.1l.19,1.6l.2,.2l.19,.5l.2,-3.7l.19,1.3l.2,1.2l.19,.7l.2,-.2l.19,-.5l.2,1l.19,.8l.2,-.9l.19,.4l.2,-1.7l.19,1.4l.19,-.7l.2,.2l.19,.7l.2,-.1l.19,1.5l.2,-4.9l.19,2.9l.2,-.3l.19,.6l.2,-.5l.19,.2l.2,1.2l.19,-.7l.2,-1.1l.19,.6l.2,0l.19,1.2l.19,-.6l.2,-1.9l.19,3.7l.2,-1.9l.19,-1.5l.2,-1.5l.19,.5l.2,3.2l.19,.8l.2,-2.9l.19,1.2l.2,-.1l.19,.1l.2,-.2l.19,-1.3l.2,.8l.19,-1.6l.19,1.6l.2,1.4l.19,-1.2l.2,-.2l.19,.3l.2,0l.19,.3l.2,2.4l.19,-.7l.2,-3.6l.19,1.3l.2,.1l.19,-.2l.2,-.2l.19,1.5l.2,-.4l.19,-.3l.19,.3l.2,-.6l.19,.2l.2,0l.19,2.9l.2,-.1l.19,-.8l.2,-.4l.19,-3.5l.2,3l.19,-.7l.2,-.7l.19,-.3l.2,1.4l.19,-1.7l.2,2.4l.19,1l.19,-1.5l.2,-1.2l.19,.1l.2,0l.19,.6l.2,-3.5l.19,2.4l.2,2l.19,-2.9l.2,3.8l.19,-1.4l.2,-.2l.19,-2.7l.2,2.4l.19,.2l.2,.6l.19,-.4l.19,-.2l.2,2.1l.19,-2.6l.2,1.4l.19,-1.5l.2,-.2l.19,.5l.2,-2.2l.19,.6l.2,-.9l.19,1.7l.2,-.1l.19,1.3l.2,-.5l.19,-.3l.2,.1l.19,.9l.19,1.3l.2,-2.2l.19,-1.2l.2,5.1l.19,-3.5l.2,.2l.19,-3.7l.2,2l.19,.7l.2,.1l.19,.2l.2,0l.19,2.1l.2,-1l.19,.4l.2,-1.2l.19,2.1l.2,-2.9l.19,.1l.19,2.9l.2,.2l.19,-.3l.2,-2.9l.19,-.6l.2,.1l.19,1l.2,-1.8l.19,1.8l.2,-.4l.19,0l.2,-.2l.19,-2.2l.2,3.1l.19,-1.4l.2,-.6l.19,1.3l.19,-.6l.2,-1.4l.19,1.3l.2,-.4l.19,-.4l.2,-1.1l.19,4.5l.2,-4l.19,1.6l.2,-1.1l.19,-.5l.2,2.8l.19,-1l.2,1.4l.19,1l.2,-3.4l.19,1.3l.19,-1.9l.2,1.8l.19,-1.5l.2,.1l.19,1.8l.2,1.1l.19,.6l.2,.8l.19,-2.8l.2,.3l.19,-1.2l.2,1.3l.19,.7l.2,-.2l.19,.1l.2,-3.1l.19,1.9l.19,.6l.2,-.3l.19,-.7l.2,4.1l.19,-5.7l.2,3l.19,2.9l.2,-3.8l.19,3.1l.2,-3.3l.19,1.2l.2,-.9l.19,-.1l.2,-2.5l.19,1l.2,-.1l.19,-2l.19,2.3l.2,-1.9l.19,-3.4l.2,-5.7l.19,0l.2,-3.7l.19,0l.2,-1.1l.19,1.1l.2,-.6l.19,3.9l.2,5.2l.19,3l.2,-.3l.19,1l.2,-.2l.19,-.8l.19,-1.3l.2,3.2l.19,-1.1l.2,1.3l.19,-.7l.2,-.1l.19,2.5l.2,-.5l.19,-2.2l.2,5.7l.19,-2.7l.2,-1.7l.19,1.7l.2,.6l.19,-.2l.2,.2l.19,-.2l.2,-1.9l.19,2.9l.19,-.7l.2,.6l.19,-.6l.2,1.7l.19,-3.8l.2,1.8l.19,1.8l.2,-.5l.19,-2.2l.2,.4l.19,1.7l.2,1.9l.19,-4.5l.2,2.1l.19,-1.8l.2,2l.19,-2.2l.19,1.5l.2,1l.19,2.2l.2,-2l.19,-.6l.2,-.4l.19,-2.7l.2,5l.19,-3.2l.2,0l.19,2.8l.2,2l.19,-2.8l.2,-1l.19,.6l.2,-.6l.19,-.3l.19,-.1l.2,1.5l.19,.2l.2,.5l.19,-1.6l.2,-2.1l.19,2.4l.2,.1l.19,1.8l.2,-1.9l.19,-.6l.2,1.6l.19,-1.6l.2,-.4l.19,-.1l.2,-.6l.19,3.8l.19,.9l.2,-3.9l.19,1.3l.2,-2.4l.19,4.4l.2,-1.2l.19,-1.3l.2,-.4l.19,2.4l.2,-3.3l.19,1l.2,3.6l.19,-3.6l.2,.3l.19,-.1l.2,-.4l.19,1.2l.19,-.3l.2,-1.6l.19,0l.2,2.7l.19,-.9l.2,0l.19,.4l.2,-.6l.19,-3.3l.2,1.6l.19,-.3l.2,1l.19,2.3l.2,-2.6l.19,-.9l.2,-2.5l.19,-1.7l.19,2.8l.2,.1l.19,-1.1l.2,4.3l.19,-7.2l.2,6.9l.19,-4l.2,.4l.19,.9l.2,.6l.19,1.8l.2,-2.9l.19,2.4l.2,-1.9l.19,2l.2,-1.6l.19,4.1l.19,.6l.2,-2l.19,-2.7l.2,3.6l.19,-1.4l.2,-.2l.19,1.9l.2,-.6l.19,-1.5l.2,.8l.19,-2.6l.2,3.7l.19,-.7l.2,-2.9l.19,.4l.2,1.6l.19,-2l.2,4.9l.19,-2.7l.19,1.5l.2,-.6l.19,.5l.2,-1.2l.19,-1l.2,.2l.19,.4l.2,0l.19,.2l.2,.6l.19,2.3l.2,-2.3l.19,-1.3l.2,3l.19,-2.9l.2,1.3l.19,.2l.19,-.6l.2,.9l.19,-1.9l.2,.8l.19,.2l.2,-1l.19,2.6l.2,-.8l.19,.7l.2,.8l.19,-1.6l.2,-.6l.19,-.2l.2,.3l.19,-.9l.2,.7l.19,-.5l.19,-.2l.2,.4l.19,.8l.2,0l.19,.5l.2,-.9l.19,-.9l.2,2l.19,-1.1l.2,.9l.19,-.5l.2,.3l.19,1.4l.2,-1.7l.19,-.4l.2,-2.1l.19,4.8l.19,-2.6l.2,1.2l.19,-1.8l.2,3.6l.19,-2.1l.2,-.8l.19,-.7l.2,-.2l.19,-1.5l.2,1.7l.19,-2.9l.2,4.8l.19,-3.6l.2,.1l.19,1l.2,-.5l.19,2.9l.19,-1.3l.2,.7l.19,-4.4l.2,3.9l.19,-1.7l.2,4.1l.19,-5.3l.2,-.2l.19,-.2l.2,3.3l.19,.1l.2,1.6l.19,-4.8l.2,3.6l.19,1.5l.2,-3.2l.19,-.3l.19,.8l.2,.2l.19,-.9l.2,.4l.19,-.5l.2,1.5l.19,-1.8l.2,-2.8l.19,2.1l.2,-.4l.19,-.5l.2,.9l.19,-.1l.2,-.9l.19,1.9l.2,2.2l.19,-2.4l.2,-1.8l.19,-4l.19,4.8l.2,-1.4l.19,-2l.2,1l.19,2.5l.2,-.9l.19,-1.7l.2,2.2l.19,-4.6l.2,1.9l.19,1.7l.2,-.1l.19,-3.5l.2,2.6l.19,-.5l.2,.3l.19,-2.2l.19,3.6l.2,.9l.19,-2.4l.2,-1.7l.19,6.9l.2,-2.5l.19,-.9l.2,-.6l.19,-.9l.2,.1l.19,1.8l.2,.3l.19,.8l.2,-2.8l.19,3.3l.2,-2l.19,.1l.19,.1l.2,1l.19,.9l.2,-2l.19,3.5l.2,-1l.19,-2.5l.2,-1.4l.19,-1.1l.2,-.8l.19,2.3l.2,-3.6l.19,-1.9l.2,1.4l.19,-3.7l.2,4.3l.19,-3.4l.19,2.2l.2,-2.9l.19,2.5l.2,-2l.19,0l.2,.2l.19,-.8l.2,-2.1l.19,.3l.2,6.9l.19,1.7l.2,-1.6l.19,3.2l.2,-3.3l.19,-1.8l.2,4.2l.19,-4.4l.19,4.2l.2,-2.3l.19,2.1l.2,2.4l.19,1l.2,-3.3l.19,3.2l.2,-.1l.19,.9l.2,-1.6l.19,1l.2,1.1l.19,-.7l.2,-.1l.19,2l.2,1.8l.19,-3.4l.19,-.4l.2,4.3l.19,-2.7l.2,.3l.19,-2.4l.2,.8l.19,.4l.2,-1l.19,2l.2,-3.2l.19,1.2l.2,1.7l.19,-.2l.2,-.6l.19,-2.1l.2,4.5l.19,-1.3l.19,-2.1l.2,1.1l.19,-.6l.2,.6l.19,2.5l.2,-2.2l.19,0l.2,2l.19,-2l.2,.1l.19,-.8l.2,3.7l.19,-2.4l.2,-.1l.19,-.5l.2,.5l.19,.7l.2,-2.1l.19,1.6l.19,-2.8l.2,4.7l.19,-3.6l.2,-.1l.19,.8l.2,.1l.19,.4l.2,1.2l.19,-.3l.2,-.9l.19,0l.2,1.4l.19,-2l.2,2.9l.19,-1.6l.2,-1.6l.19,.7l.19,-1.5l.2,4.5l.19,-5.5l.2,-.5l.19,3.3l.2,.8l.19,.3l.2,.1l.19,-1.7l.2,.4l.19,2.4l.2,-2l.19,.8l.2,-1.4l.19,-1.3l.2,2.3l.19,-3.8l.19,4.2l.2,-1.6l.19,.9l.2,1.2l.19,-1.2l.2,-.7l.19,-3.1l.2,2l.19,-.5l.2,2.1l.19,-.2l.2,-.9l.19,1.3l.2,.1l.19,-.8l.2,-2.1l.19,4.1l.19,-2.1l.2,1.3l.19,.2l.2,-.8l.19,-.2l.2,2.7l.19,-2.4l.2,1.4l.19,-2.8l.2,1.7l.19,2.5l.2,-2.5l.19,-.7l.2,0l.19,1.4l.2,-1.8l.19,.6l.19,-.4l.2,2.8l.19,-5.1l.2,4.6l.19,-.4l.2,2.8l.19,-2.8l.2,1.1l.19,-.3l.2,-2.9l.19,3l.2,-.4l.19,1.9l.2,-.7l.19,-1l.2,.7l.19,.8l.19,.3l.2,-1.5l.19,3.8l.2,-4.2l.19,.5l.2,4.5l.19,-.9l.2,-.1l.19,-3.2l.2,3.3l.19,13.6l.2,3.4l.19,-.4l.2,.2l.19,-3.2l.2,-2.2l.19,-5l.2,-4l.19,-5.9l.19,2.4l.2,.6l.19,-1.7l.2,-1.6l.19,-1.6l.2,3.1l.19,-1.3l.2,-.9l.19,1.9l.2,2l.19,-2.5l.2,.7l.19,-5.2l.2,7.8l.19,-4.2l.2,-1.7l.19,1.4l.19,-.8l.2,.1l.19,-1.7l.2,2.3l.19,-.9l.2,1.4l.19,-1.2l.2,1.3l.19,-3.3l.2,1.8l.19,1.7l.2,-4.7l.19,3.5l.2,-2.6l.19,3.4l.2,-3.8l.19,1.5l.19,2.6l.2,-4.2l.19,.9l.2,-1.5l.19,3.8l.2,-.2l.19,-1.4l.2,-3.3l.19,6.7l.2,-3.4l.19,1.8l.2,-4.8l.19,4.1l.2,-2.2l.19,3.5l.2,-1.6l.19,1.9l.19,-1.1l.2,-1.5l.19,-2.8l.2,4.6l.19,-1.7l.2,.2l.19,4.1l.2,-4.1l.19,-.7l.2,-1.3l.19,1.1l.2,.8l.19,3.3l.2,-6l.19,4.7l.2,-.5l.19,-2.8l.19,1.7l.2,-1.2l.19,-1.2l.2,.4l.19,1.5l.2,-.3l.19,-2l.2,.8l.19,2.2l.2,-3.3l.19,-.8l.2,3.2l.19,-.4l.2,1l.19,-1.8l.2,.6l.19,-1.2l.19,2.8l.2,-1.5l.19,.4l.2,.2l.19,.4l.2,-.5l.19,-.1l.2,-.5l.19,1.8l.2,-1.8l.19,-2.4l.2,-.7l.19,3.1l.2,1.7l.19,-2l.2,2.7l.19,-4.1l.19,2.7l.2,-1.6l.19,-1.8l.2,3.2l.19,-.2l.2,-2.5l.19,5l.2,-1.4l.19,-4.4l.2,4.5l.19,-.2l.2,-1.2l.19,0l.2,-.7l.19,-1l.2,2l.19,1.2l.2,-4.8l.19,2l.19,-1.3l.2,.1l.19,2.2l.2,-.3l.19,1.7l.2,-1.7l.19,.4l.2,-.3l.19,-1.3l.2,2.2l.19,2.2l.2,-.4l.19,-2.4l.2,-.4l.19,-.9l.2,1l.19,-.3l.19,1.9l.2,.5l.19,-2.4l.2,2l.19,-2l.2,.4l.19,-.2l.2,-.6l.19,2.1l.2,-.2l.19,-.4l.2,-2l.19,3.2l.2,-.3l.19,-.4l.2,.2l.19,-.5l.19,-1l.2,.3l.19,-.3l.2,1.3l.19,-.9l.2,.1l.19,-1.5l.2,3.4l.19,-1.7l.2,-1.7l.19,2.1l.2,.7l.19,-1.7l.2,2.7l.19,-1.8l.2,1.6l.19,-2.4l.19,-1.6l.2,1.2l.19,-1.3l.2,.6l.19,-2.1l.2,2.3l.19,1.2l.2,-.1l.19,0l.2,-.6l.19,1.1l.2,-1.4l.19,.9l.2,-1.6l.19,1.6l.2,-1.5l.19,-1.5l.19,3.6l.2,-.3l.19,1.3l.2,-1.9l.19,.5l.2,-.9l.19,3l.2,-2.8l.19,.2l.2,2l.19,-4l.2,2.3l.19,1.5l.2,-.9l.19,-.5l.2,-.6l.19,1.2l.19,-.8l.2,.9l.19,-1.9l.2,-.3l.19,.8l.2,-.1l.19,-.7l.2,1.1l.19,.7l.2,-1.5l.19,.9l.2,2.3l.19,-2.6l.2,-1.1l.19,3.3l.2,-3.1l.19,.6l.2,-.3l.19,2.1l.19,-1.1l.2,0l.19,-.2l.2,1l.19,-.1l.2,-1.2l.19,-1l.2,.6l.19,-2l.2,3.2l.19,.7l.2,-1.5l.19,3l.2,-3.9l.19,2.9l.2,-3.6l.19,2.3l.19,-.1l.2,.7l.19,.4l.2,-.2l.19,.3l.2,-1.7l.19,.2l.2,-.1l.19,-.3l.2,-1.1l.19,2.2l.2,-1.7l.19,1.1l.2,-2.6l.19,2.9l.2,-3.2l.19,3.8l.19,.6l.2,.7l.19,.7l.2,-1.2l.19,.7l.2,-2.9l.19,1.2l.2,.1l.19,.2l.2,-2.2l.19,.5l.2,-.4l.19,-1.6l.2,-.4l.19,3.9l.2,-1.2l.19,.4l.19,-1.1l.2,1.3l.19,-.6l.2,.5l.19,.5l.2,-.8l.19,-.3l.2,2.6l.19,-2.4l.2,-1.4l.19,2.1l.2,-1.9l.19,.9l.2,.5l.19,.4l.2,.4l.19,-.8l.19,.6l.2,-.5l.19,-1.5l.2,1.1l.19,1.7l.2,0l.19,-1.5l.2,2l.19,-1.6l.2,-.7l.19,.3l.2,-2.6l.19,3.2l.2,-2.5l.19,1l.2,2.5l.19,0l.19,.1l.2,-.8l.19,-3.3l.2,2.1l.19,3.7l.2,-3.1l.19,-2.3l.2,1.1l.19,3.2l.2,-2l.19,-2.6l.2,-.2l.19,1.6l.2,.1l.19,2.1l.2,1.2l.19,-3l.19,.9l.2,0l.19,0l.2,-.5l.19,.1l.2,.6l.19,-.4l.2,.9l.19,-1l.2,-.1l.19,1.7l.2,-1.8l.19,.1l.2,.2l.19,-1.2l.2,-1l.19,4.2l.2,-1.7l.19,.5l.19,1l.2,-2.4l.19,-.4l.2,2.8l.19,-3.1l.2,3.2l.19,-2.4l.2,.2l.19,-.8l.2,-4.4l.19,3.3l.2,1.4l.19,-5.7l.2,4.9l.19,-1.8l.2,-5.8l.19,3.8l.19,-1.3l.2,-8.4l.19,3.4l.2,-.3l.19,5.4l.2,1.5l.19,-1.4l.2,2.6l.19,1.9l.2,-3.9l.19,2.5l.2,1.5l.19,1.4l.2,-2.3l.19,-3.4l.2,2.6l.19,2l.19,-1.3l.2,1.6l.19,-.3l.2,-.3l.19,-.6l.2,-2.1l.19,2.3l.2,.7l.19,-.4l.2,-2.9l.19,2l.2,1l.19,.9l.2,-1.8l.19,1.9l.2,-.1l.19,-1.1l.19,1l.2,-1.4l.19,2.1l.2,-.4l.19,-.6l.2,-.8l.19,1.1l.2,.3l.19,2l.2,-2.7l.19,.9l.2,.6l.19,.7l.2,-2.3l.19,2.5l.2,-.5l.19,1.7l.19,-1.5l.2,-.5l.19,-.2l.2,1.2l.19,-.6l.2,0l.19,-2l.2,1.7l.19,.6l.2,.3l.19,.3l.2,-2.2l.19,-.9l.2,1.3l.19,.8l.2,.1l.19,-1.5l.19,3.6l.2,-3.1l.19,-2.8l.2,3.9l.19,1.7l.2,-3.5l.19,.3l.2,1.3l.19,1.4l.2,-3l.19,.6l.2,.9l.19,.8l.2,-.6l.19,2.1l.2,-2.5l.19,-.6l.2,2l.19,-1.4l.19,.7l.2,-.4l.19,-.2l.2,-.3l.19,-.6l.2,.8l.19,1.2l.2,-.2l.19,-1.6l.2,.1l.19,1.2l.2,-.1l.19,-1.8l.2,2.3l.19,-4l.2,2l.19,.5l.19,1.1l.2,-1.5l.19,-1.9l.2,3.7l.19,2.8l.2,-3.2l.19,-.9l.2,1.5l.19,-.1l.2,-1.3l.19,0l.2,.6l.19,-.2l.2,1l.19,-2.1l.2,-1.3l.19,1.5l.19,1.1l.2,-1.1l.19,1l.2,-.5l.19,1.7l.2,-.8l.19,-.4l.2,.9l.19,-1.2l.2,-.3l.19,.6l.2,-.6l.19,0l.2,-.8l.19,1.6l.2,-1.9l.19,1.2l.19,.4l.2,-.8l.19,-.8l.2,1.2l.19,.7l.2,-1.5l.19,2.5l.2,-.8l.19,-1.1l.2,2.2l.19,-1.9l.2,.9l.19,-1.3l.2,.6l.19,.3l.2,-.5l.19,-.1l.19,.7l.2,.5l.19,-2.3l.2,.7l.19,1.5l.2,-1.6l.19,.5l.2,-.9l.19,1l.2,-.2l.19,.1l.2,-.2l.19,2.6l.2,-2.6l.19,1l.2,2.2l.19,-2.4l.19,-1l.2,.7l.19,.6l.2,-1.2l.19,1.2l.2,-.3l.19,-.9l.2,0l.19,.5l.2,-2.8l.19,2.4l.2,-2.7l.19,3.7l.2,-.2l.19,.2l.2,-.4l.19,2.7l.19,-1l.2,-1.9l.19,.2l.2,-.1l.19,-2l.2,2.1l.19,.3l.2,0l.19,-2.7l.2,.2l.19,4.1l.2,-2.2l.19,.7l.2,-.5l.19,.8l.2,-.2l.19,-2.4l.2,.2l.19,2.4l.19,-3.7l.2,2.4l.19,-.8l.2,3.4l.19,-2.6l.2,.4l.19,.4l.2,1.8l.19,-1.5l.2,-.8l.19,-.3l.2,1.1l.19,1.1l.2,.6l.19,-2.5l.2,.6l.19,-.7l.19,2.2l.2,-.6l.19,-1.7l.2,-.7l.19,1l.2,.8l.19,-1.5l.2,1.8l.19,-3l.2,3.6l.19,-2.7l.2,.2l.19,-.2l.2,1.3l.19,-2.9l.2,.6l.19,2.1l.19,.3l.2,.6l.19,-2.6l.2,1l.19,0l.2,.4l.19,.6l.2,.2l.19,-1.3l.2,0l.19,-.3l.2,.5l.19,-.6l.2,1.3l.19,-.3l.2,-1.3l.19,1.5l.19,2.6l.2,-2.5l.19,-.4l.2,-1l.19,.5l.2,-1.7l.19,3.2l.2,-1.4l.19,.7l.2,1.4l.19,-4.1l.2,3.4l.19,-.9l.2,-2l.19,1.9l.2,-.2l.19,-2.5l.19,2.9l.2,1.6l.19,-1.4l.2,-.1l.19,-1.9l.2,-.9l.19,2.5l.2,.5l.19,-3.4l.2,2.9l.19,1.5l.2,-1.7l.19,1.2l.2,-.8l.19,-.5l.2,-1.1l.19,.6l.19,1.4l.2,-1.3l.19,2.6l.2,-1.4l.19,.1l.2,-3.1l.19,4.9l.2,-.7l.19,-1.5l.2,1.2l.19,-1.2l.2,-.7l.19,2.2l.2,-3.5l.19,2.4l.2,-.3l.19,.4l.2,-2.4l.19,2.1l.19,.2l.2,-.8l.19,.2l.2,-.9l.19,3.8l.2,-.9l.19,-2.3l.2,5l.19,-1.9l.2,6.1l.19,4.4l.2,-6.2l.19,-.7l.2,.9l.19,2.4l.2,-6.2l.19,1.9l.19,-3.1l.2,-3.3l.19,.4l.2,-2.2l.19,.6l.2,1.1l.19,4.4l.2,-4.4l.19,1.3l.2,0l.19,0l.2,-.4l.19,-.3l.2,4.2l.19,-5.8l.2,2.3l.19,.3l.19,-.5l.2,.6l.19,.2l.2,-.8l.19,1.7l.2,-1.4l.19,-.2l.2,1l.19,.2l.2,-.3l.19,-.5l.2,-1l.19,3l.2,-2.3l.19,0l.2,-.1l.19,1.3l.19,0l.2,-2.3l.19,.1l.2,1.2l.19,-.3l.2,.7l.19,-.5l.2,-2l.19,.2l.2,1.7l.19,-.2l.2,-1.4l.19,3.9l.2,-2.5l.19,.5l.2,-2.3l.19,2.3l.19,-1.9l.2,1.8l.19,-1.8l.2,4l.19,-1.8l.2,-.3l.19,-.6l.2,-.1l.19,.5l.2,-2.4l.19,3.7l.2,-.3l.19,-2.4l.2,1.2l.19,1l.2,.6l.19,-1.2l.19,.4l.2,-2.7l.19,.3l.2,3.9l.19,-2.8l.2,.3l.19,2.7l.2,-2.9l.19,.8l.2,-.6l.19,1.2l.2,-.4l.19,-.5l.2,-.8l.19,-3.5l.2,6.4l.19,-2.5l.19,-.3l.2,0l.19,2.2l.2,-2l.19,.5l.2,-.5l.19,.7l.2,-.7l.19,1.4l.2,-.7l.19,1.4l.2,-.4l.19,-2l.2,3.9l.19,-.8l.2,-2.3l.19,0l.2,0l.19,0l.19,-.8l.2,-2.1l.19,3.4l.2,-1.1l.19,.1l.2,-.8l.19,-.2l.2,.8l.19,-.5l.2,.1l.19,.7l.2,1.1l.19,-3.2l.2,-1.8l.19,3.3l.2,-4.3l.19,2.8l.19,2l.2,-.6l.19,-1.3l.2,1.9l.19,.8l.2,-3.1l.19,.1l.2,-.4l.19,-.8l.2,0l.19,1.2l.2,-2.7l.19,.6l.2,-.4l.19,2.4l.2,-1.1l.19,.9l.19,1l.2,.6l.19,-1.1l.2,1.5l.19,-3.6l.2,2.3l.19,-.7l.2,1.1l.19,-3.2l.2,4.6l.19,-1.6l.2,1.2l.19,.1l.2,-.2l.19,-.3l.2,.2l.19,1.5l.19,-.1l.2,-.8l.19,1.5l.2,-1.2l.19,.6l.2,.3l.19,-1l.2,-2l.19,1.7l.2,1.2l.19,2.3l.2,-4.3l.19,-.2l.2,1l.19,-.6l.2,3.5l.19,-3.3l.19,.4l.2,.8l.19,0l.2,2.6l.19,-3.4l.2,2.8l.19,-2.9l.2,.9l.19,1.2l.2,.3l.19,-.9l.2,-2l.19,2.4l.2,-.7l.19,1.8l.2,-4.8l.19,2.6l.19,-1.2l.2,-1.4l.19,2.4l.2,-.1l.19,0l.2,.2l.19,-1.1l.2,-1.1l.19,3.7l.2,-3.2l.19,1.7l.2,-1.1l.19,2.4l.2,-3.4l.19,2.3l.2,-1.8l.19,2.2l.2,-1.2l.19,-1.6l.19,1.6l.2,.6l.19,.1l.2,0l.19,0l.2,2l.19,.2l.2,-3.6l.19,-.2l.2,1.6l.19,2l.2,-1.6l.19,-.3l.2,-.7l.19,1.9l.2,-1.2l.19,.1l.19,.2l.2,.4l.19,.2l.2,-.4l.19,-.4l.2,.3l.19,-1.1l.2,.6l.19,-2.9l.2,1.6l.19,-.4l.2,4.6l.19,-3l.2,-.7l.19,.6l.2,.3l.19,-.4l.19,-.2l.2,.9l.19,-1.2l.2,-.3l.19,2.6l.2,-3.5l.19,3.6l.2,-1.1l.19,1.8l.2,-2.2l.19,.4l.2,1.4l.19,-1.7l.2,-.6l.19,-.7l.2,2.7l.19,-3.5l.19,1.4l.2,1.2l.19,-.1l.2,1.5l.19,-1.9l.2,-.2l.19,.2l.2,-1.9l.19,.9l.2,2.8l.19,-.7l.2,-2.2l.19,-.6l.2,2.8l.19,-1.8l.2,3.3l.19,-4.1l.19,2.6l.2,-2.4l.19,-1.5l.2,2.9l.19,.1l.2,1.8l.19,-1.9l.2,-1l.19,-2.3l.2,2l.19,.9l.2,-.8l.19,6.4l.2,-4.1l.19,-1.4l.2,1.1l.19,-2.4l.19,.7l.2,.4l.19,.4l.2,-.2l.19,-.3l.2,.1l.19,-.9l.2,.9l.19,-.8l.2,.6l.19,-.4l.2,-2.3l.19,3.3l.2,-.8l.19,-.7l.2,1l.19,-.9l.19,1.2l.2,.7l.19,-1.1l.2,1.3l.19,-2.7l.2,1.4l.19,.4l.2,-.6l.19,.8l.2,-.9l.19,-1l.2,.2l.19,.9l.2,-.2l.19,-.9l.2,2l.19,-.9l.2,-1.2l.19,2.4l.19,-1.1l.2,1.2l.19,-3.5l.2,2.9l.19,-.2l.2,-.2l.19,-2.6l.2,3.6l.19,-.6l.2,-1.4l.19,2.6l.2,-.3l.19,-1.2l.2,.7l.19,-1.4l.2,.4l.19,0l.19,-.2l.2,.5l.19,-3l.2,4.3l.19,-4l.2,3.7l.19,-1.3l.2,1.6l.19,.9l.2,-1.9l.19,-.3l.2,-.7l.19,2.3l.2,-2.6l.19,.6l.2,.7l.19,.6l.19,.4l.2,.1l.19,-2.5l.2,-1.2l.19,1.2l.2,1.2l.19,-.2l.2,-.2l.19,.1l.2,-1.3l.19,1.6l.2,1.5l.19,-1.5l.2,1.6l.19,-1.8l.2,1.6l.19,-3l.19,1.6l.2,.5l.19,-3l.2,2.7l.19,-.3l.2,.1l.19,-.2l.2,-.5l.19,.8l.2,-.4l.19,0l.2,-1.2l.19,2l.2,-2.4l.19,2.2l.2,-.3l.19,1.4l.19,-2.1l.2,-1.2l.19,.4l.2,.5l.19,.6l.2,.4l.19,-.6l.2,1.4l.19,-2.5l.2,2l.19,1.1l.2,-1.3l.19,.7l.2,-1.3l.19,.6l.2,-.3l.19,1.5l.19,-2.3l.2,1.5l.19,-.8l.2,1.3l.19,-.7l.2,-2.1l.19,.6l.2,.8l.19,-2.3l.2,3.6l.19,-1.1l.2,.5l.19,-.3l.2,.6l.19,-1.9l.2,1.2l.19,-.9l.2,1.5l.19,.8l.19,-1.8l.2,-.1l.19,.6l.2,.4l.19,-.7l.2,-.7l.19,1l.2,.8l.19,-.5l.2,-1.4l.19,.4l.2,-.4l.19,-.9l.2,3.4l.19,-1.3l.2,-.5l.19,-1l.19,1.2l.2,-.5l.19,.7l.2,-1l.19,3.3l.2,-4.1l.19,1.6l.2,1.1l.19,-.6l.2,-.8l.19,1l.2,-.9l.19,1.3l.2,-1.7l.19,1.5l.2,.6l.19,-1.8l.19,.3l.2,2.4l.19,-1.4l.2,-1.3l.19,.3l.2,-.4l.19,.1l.2,.1l.19,-1.2l.2,.3l.19,1.1l.2,.5l.19,2.6l.2,-2.7l.19,.4l.2,.1l.19,-1.4l.19,-.1l.2,-1.1l.19,3l.2,1l.19,-3.7l.2,3.6l.19,-1.4l.2,-.6l.19,-2l.2,1.9l.19,0l.2,1.1l.19,-2.4l.2,1.7l.19,-1.2l.2,1.7l.19,.3l.19,1.5l.2,-2.3l.19,-.3l.2,-1.3l.19,1.5l.2,-.5l.19,.1l.2,.3l.19,-.6l.2,-.4l.19,.2l.2,1l.19,-.1l.2,-.1l.19,-2.2l.2,1.3l.19,1.7l.19,-.4l.2,-.8l.19,-.9l.2,1.2l.19,-1.8l.2,2.1l.19,1l.2,1.9l.19,-3.2l.2,.7l.19,-1l.2,1.4l.19,-.4l.2,1l.19,-.8l.2,-1l.19,-.3l.19,1.7l.2,-.8l.19,-2.9l.2,5.6l.19,-2.1l.2,-1.4l.19,1.3l.2,-3.8l.19,1.9l.2,.6l.19,.5l.2,-.1l.19,-2.6l.2,-2.9l.19,7.7l.2,1.4l.19,-5.8l.2,-.8l.19,-.2l.19,-1.2l.2,2l.19,3.4l.2,-2.8l.19,1.7l.2,1.7l.19,-3.9l.2,-1.1l.19,3.3l.2,.5l.19,1.1l.2,.4l.19,-1.9l.2,.2l.19,1.4l.2,-4.9l.19,4.1l.19,-2.6l.2,.4l.19,1.6l.2,-1.5l.19,.9l.2,3.6l.19,-3.2l.2,.2l.19,-.9l.2,2.9l.19,-2.1l.2,0l.19,1.7l.2,-.3l.19,-.8l.2,-1.8l.19,2.5l.19,-.3l.2,-1.5l.19,1l.2,-.7l.19,-.5l.2,1l.19,-1.9l.2,3l.19,-1.3l.2,-.2l.19,-.4l.2,-.3l.19,-.9l.2,1.3l.19,.4l.2,.2l.19,.2l.19,-1.2l.2,1.6l.19,-.2l.2,-2.6l.19,2.4l.2,-3.6l.19,6l.2,-4l.19,-.4l.2,.6l.19,.8l.2,1l.19,-1.1l.2,0l.19,-.4l.2,-1.3l.19,1.7l.19,.2l.2,-.8l.19,-.1l.2,-1.6l.19,.8l.2,.9l.19,2.3l.2,-3.3l.19,.3l.2,1.3l.19,-.2l.2,-.7l.19,.5l.2,1.3l.19,-2.2l.2,-.6l.19,2.8l.19,-.6l.2,-.3l.19,-.1l.2,-.7l.19,1.7l.2,-1.4l.19,-1.5l.2,.9l.19,.1l.2,1.3l.19,-.5l.2,.5l.19,-.9l.2,-1l.19,.1l.2,1.3l.19,-2.6l.2,5l.19,-4.1l.19,4.8l.2,.2l.19,-3.2l.2,-.7l.19,.5l.2,2.8l.19,-2.3l.2,0l.19,1l.2,.1l.19,-1.3l.2,2l.19,-2.5l.2,1.4l.19,-.5l.2,-.8l.19,.3l.19,1.8l.2,-1.8l.19,1.6l.2,-.9l.19,-.6l.2,1l.19,-1.1l.2,.1l.19,1.7l.2,-1l.19,-1.8l.2,1.4l.19,-.6l.2,.3l.19,-.1l.2,-.1l.19,1.1l.19,-1l.2,1.6l.19,-3.2l.2,3.1l.19,.6l.2,-2.1l.19,1.7l.2,-1.4l.19,-.1l.2,-.4l.19,.6l.2,1.2l.19,-.2l.2,-1.2l.19,.6l.2,0l.19,-.4l.19,.1l.2,-1.2l.19,-.7l.2,-1.2l.19,3.3l.2,.3l.19,-.8l.2,-.4l.19,-.6l.2,1.5l.19,-3l.2,2.1l.19,.2l.2,-.8l.19,-1.8l.2,2.9l.19,1.9l.19,-2.2l.2,.1l.19,.7l.2,-.6l.19,-.4l.2,.6l.19,-.3l.2,1.9l.19,-1.3l.2,-2.9l.19,2.3l.2,-.3l.19,-.6l.2,1.5l.19,.7l.2,-.1l.19,-.9l.19,2.5l.2,-3.2l.19,.8l.2,1.6l.19,-1.4l.2,-2.8l.19,.1l.2,2.3l.19,1.9l.2,-3l.19,1.2l.2,-.2l.19,-1l.2,1.1l.19,1.7l.2,-1.5l.19,1.4l.19,-1.7l.2,.9l.19,-.9l.2,-3.5l.19,4.8l.2,-.8l.19,.5l.2,-1.7l.19,3.6l.2,-1.4l.19,-4.9l.2,3.7l.19,-.9l.2,.3l.19,.6l.2,-.9l.19,1.1l.2,.3l.19,-2.7l.19,1.9l.2,.9l.19,-1.3l.2,-1.9l.19,-.1l.2,.4l.19,2.7l.2,-1.4l.19,.7l.2,.4l.19,1.2l.2,-1.9l.19,.3l.2,.9l.19,-.2l.2,-.1l.19,1.1l.19,-3.3l.2,1.7l.19,-.7l.2,0l.19,2l.2,-2.6l.19,.7l.2,-.8l.19,1.6l.2,.2l.19,2.1l.2,-1.7l.19,-1.4l.2,.2l.19,2.8l.2,-1.7l.19,-2.6l.19,2.5l.2,-.3l.19,-.9l.2,0l.19,-.1l.2,.7l.19,1.9l.2,-2l.19,2l.2,0l.19,-2.8l.2,2.9l.19,-1.9l.2,1.5l.19,-.8l.2,-1.1l.19,-1.8l.19,3.7l.2,-1.2l.19,-2.4l.2,2.1l.19,.7l.2,-.8l.19,1.1l.2,-1.1l.19,-.4l.2,1.6l.19,-2.3l.2,1.5l.19,.1l.2,-1.4l.19,0l.2,.8l.19,2.4l.19,-1.6l.2,1.2l.19,-.4l.2,-1.3l.19,-.2l.2,.9l.19,-.6l.2,-1.5l.19,1.7l.2,-2.5l.19,-.2l.2,2.6l.19,2.5l.2,-3.8l.19,1l.2,-.2l.19,0l.19,-2.4l.2,2.1l.19,2l.2,-1l.19,-1.1l.2,.6l.19,-.3l.2,.5l.19,-2.9l.2,2.1l.19,-1.9l.2,1.7l.19,1.2l.2,-2.1l.19,-.2l.2,1.6l.19,-.9l.2,1l.19,1.5l.19,-4.4l.2,-.4l.19,5.2l.2,-1.6l.19,-1.5l.2,.9l.19,-1.3l.2,2l.19,-1.3l.2,2.7l.19,-3.2l.2,-.4l.19,1.6l.2,-1.8l.19,2.1l.2,-.5l.19,1.5l.19,-.5l.2,.2l.19,-.7l.2,-.3l.19,.1l.2,.7l.19,1.1l.2,-1.7l.19,.1l.2,-.3l.19,2l.2,-1.4l.19,1.2l.2,-3.1l.19,1.8l.2,-.1l.19,-.8l.19,.2l.2,1.6l.19,-1.1l.2,-1.4l.19,1.4l.2,-.4l.19,-1.3l.2,2.7l.19,.3l.2,-1.7l.19,1.3l.2,-.9l.19,-.4l.2,.5l.19,-3.1l.2,1.1l.19,1.8l.19,.3l.2,-.7l.19,1.2l.2,-.6l.19,-.1l.2,.1l.19,-.9l.2,.3l.19,1.2l.2,0l.19,1.9l.2,-1.4l.19,.3l.2,-.7l.19,-2.7l.2,6.4l.19,-4.6l.19,.1l.2,-.4l.19,-1.2l.2,1.3l.19,.5l.2,-.5l.19,-.8l.2,2.1l.19,-.4l.2,0l.19,-1.6l.2,3.5l.19,0l.2,-2.9l.19,0l.2,-.1l.19,2.9l.19,-2l.2,.3l.19,.3l.2,-.8l.19,-2.3l.2,1.3l.19,1.2l.2,-2.1l.19,1.3l.2,1.5l.19,-1.3l.2,.1l.19,1.2l.2,-1.2l.19,-2l.2,3.9l.19,-.9l.19,.7l.2,-.6l.19,-2.9l.2,1.6l.19,-.6l.2,.5l.19,1.4l.2,-1.5l.19,.7l.2,.9l.19,-2.9l.2,1.8l.19,.3l.2,-1.6l.19,3.5l.2,-2.9l.19,0l.2,1.4l.19,1.5l.19,-2.9l.2,2.4l.19,-.4l.2,-1.5l.19,.2l.2,.1l.19,-.5l.2,-1.2l.19,1.7l.2,-1.5l.19,1.8l.2,-1l.19,1.4l.2,-.4l.19,-.3l.2,-1.7l.19,4l.19,.3l.2,-3.2l.19,1l.2,1.6l.19,-1.8l.2,-.5l.19,-.4l.2,1.3l.19,-3.1l.2,2.2l.19,2.5l.2,-.9l.19,-1.5l.2,-.6l.19,-2.1l.2,4.1l.19,-1.4l.19,-.2l.2,-5.3l.19,4.1l.2,2.9l.19,-8.9l.2,3.4l.19,.1l.2,2.8l.19,1.7l.2,-3.6l.19,3.5l.2,1.1l.19,1.8l.2,-2.6l.19,-4.3l.2,5.2l.19,-5.8l.19,4.6l.2,-2l.19,2.1l.2,-2l.19,2.7l.2,-2.9l.19,-.8l.2,2.3l.19,1.9l.2,-2.9l.19,.8l.2,.4l.19,-2.3l.2,3.2l.19,.3l.2,-3.9l.19,2.3l.19,-1.6l.2,3l.19,-1.6l.2,.2l.19,1.2l.2,-.7l.19,-1.2l.2,.9l.19,.9l.2,-.1l.19,-1l.2,.6l.19,-1.7l.2,.9l.19,1.3l.2,-.7l.19,2.2l.19,-2.1l.2,1.2l.19,-.9l.2,-.9l.19,-1.4l.2,3.2l.19,.5l.2,-1.2l.19,-1.1l.2,-2l.19,.8l.2,1.3l.19,-1l.2,.3l.19,-.1l.2,1l.19,.2l.2,.2l.19,0l.19,1.6l.2,-2.2l.19,.4l.2,2l.19,-1.6l.2,-.3l.19,.2l.2,-.2l.19,-1.6l.2,2l.19,-2.3l.2,2.7l.19,.4l.2,1.6l.19,-2.5l.2,2.3l.19,-2.5l.19,.3l.2,.9l.19,-1.5l.2,1.9l.19,-3l.2,.7l.19,2.6l.2,-2.9l.19,1.6l.2,-.5l.19,-.3l.2,-.1l.19,-.3l.2,-.5l.19,2.5l.2,-2.3l.19,.7l.19,-.2l.2,.1l.19,2.4l.2,-3.1l.19,.3l.2,.4l.19,-.6l.2,.7l.19,.3l.2,.2l.19,-2l.2,.4l.19,.2l.2,1.5l.19,-1.1l.2,-.4l.19,.6l.19,.1l.2,-.3l.19,.8l.2,-1.1l.19,.4l.2,.9l.19,-1.7l.2,2l.19,-1l.2,1l.19,-.2l.2,1.2l.19,-1.7l.2,0l.19,-.2l.2,-.5l.19,.1l.19,.1l.2,0l.19,.5l.2,-1.4l.19,3.3l.2,.7l.19,-2.2l.2,-1.7l.19,4l.2,-2.1l.19,-2.1l.2,1.3l.19,-2l.2,3.2l.19,-.7l.2,-3.5l.19,4.4l.19,-1.3l.2,-1.4l.19,0l.2,1.5l.19,0l.2,-.4l.19,-1.9l.2,1.3l.19,.4l.2,.9l.19,-1.6l.2,3l.19,-4.3l.2,3.2l.19,-1.3l.2,.9l.19,-.4l.19,-.2l.2,0l.19,1.8l.2,.4l.19,-1.9l.2,-.3l.19,-.1l.2,.6l.19,1.1l.2,1l.19,-2.5l.2,-3.5l.19,3l.2,3.4l.19,-3.1l.2,.6l.19,.2l.2,-.6l.19,-1.7l.19,5.1l.2,-5l.19,.6l.2,.7l.19,1.4l.2,.1l.19,-.5l.2,-1.1l.19,-1.5l.2,2.6l.19,-.5l.2,-.3l.19,-.1l.2,0l.19,3l.2,-2.7l.19,-2.3l.19,2.7l.2,-2.3l.19,2.1l.2,0l.19,-.6l.2,2.3l.19,-3.8l.2,2.5l.19,-.5l.2,.1l.19,-1.2l.2,2.3l.19,-1.9l.2,.1l.19,1.1l.2,1.2l.19,-1.2l.19,-1.2l.2,-.5l.19,1.3l.2,-1.2l.19,2.4l.2,-2.4l.19,1.6l.2,.1l.19,.3l.2,1.2l.19,-.4l.2,0l.19,-1.3l.2,-1.8l.19,-1.6l.2,1.9l.19,1.5l.19,-1.6l.2,.4l.19,1.4l.2,-2.7l.19,1.8l.2,-.2l.19,.9l.2,2.8l.19,-3.9l.2,.2l.19,-.8l.2,2.6l.19,-2.2l.2,2.1l.19,-1.9l.2,.7l.19,.1l.19,-.1l.2,-.5l.19,-1.9l.2,4l.19,-1l.2,-2.5l.19,1.1l.2,1.8l.19,-2.3l.2,-.9l.19,3l.2,.7l.19,-.3l.2,-1.4l.19,.9l.2,-1.4l.19,1.2l.19,1.4l.2,-.2l.19,-2.7l.2,1.3l.19,-1.2l.2,2.1l.19,-1l.2,-.1l.19,.5l.2,-1l.19,2.7l.2,-4.1l.19,2.1l.2,-2l.19,1.3l.2,.9l.19,-1l.2,1.2l.19,-.1l.19,-2l.2,-1.7l.19,3.3l.2,.3l.19,-1.2l.2,.9l.19,.3l.2,-.4l.19,-1.2l.2,1.3l.19,-1.2l.2,-1.2l.19,3l.2,-.2l.19,-1.5l.2,.4l.19,.8l.19,.2l.2,-.2l.19,-.4l.2,-.1l.19,-.5l.2,.8l.19,-3.4l.2,4.4l.19,-3.8l.2,.9l.19,1.8l.2,-.5l.19,.9l.2,-1.5l.19,3.5l.2,-2.5l.19,.7l.19,1l.2,-2.4l.19,-1.9l.2,2.3l.19,1.8l.2,-.8l.19,-1.5l.2,.7l.19,-.1l.2,1.5l.19,-1.4l.2,1.2l.19,-.6l.2,.6l.19,-.4l.2,.3l.19,-1.2l.19,-.3l.2,-2.1l.19,.8l.2,4.6l.19,-3.3l.2,-.4l.19,.5l.2,.8l.19,-.4l.2,-1.9l.19,1.3l.2,1l.19,.3l.2,-.4l.19,1.2l.2,-1.5l.19,-1.5l.19,.8l.2,1.2l.19,-1.6l.2,-.9l.19,1.7l.2,.2l.19,.4l.2,-.4l.19,.5l.2,-1.4l.19,.2l.2,-1l.19,1l.2,2l.19,-2l.2,.7l.19,1.8l.19,-3l.2,1l.19,.1l.2,-.6l.19,1.4l.2,-1l.19,0l.2,-1.8l.19,2.2l.2,2.1l.19,-.2l.2,-3.6l.19,1.1l.2,1.4l.19,-1l.2,0l.19,-.4l.19,1.5l.2,-1.2l.19,-2l.2,2.5l.19,-1.4l.2,1l.19,2.5l.2,-2.8l.19,.5l.2,1l.19,-1.4l.2,.2l.19,.6l.2,-.9l.19,-.5l.2,.3l.19,.8l.2,-1.4l.19,3.3l.19,-.9l.2,-1.4l.19,.6l.2,-.3l.19,.3l.2,-1.8l.19,2.3l.2,-.9l.19,.2l.2,1.4l.19,-.2l.2,-.5l.19,-1.3l.2,.9l.19,-.3l.2,-.1l.19,0l.19,1.7l.2,-.5l.19,-.1l.2,-.7l.19,-1.1l.2,.9l.19,-.5l.2,.8l.19,-.4l.2,1.8l.19,-.2l.2,-.7l.19,.3l.2,-1.1l.19,.5l.2,-.3l.19,0l.19,-.4l.2,-1.2l.19,2l.2,.3l.19,-.9l.2,-.4l.19,.2l.2,-.3l.19,2.5l.2,-1.1l.19,.5l.2,-1.8l.19,.8l.2,-3.8l.19,1.2l.2,1.9l.19,-3.5l.19,4.7l.2,-1.5l.19,.5l.2,3.7l.19,-4l.2,1.7l.19,-2.6l.2,.7l.19,-.3l.2,1.9l.19,-1.2l.2,-.3l.19,.5l.2,.5l.19,-3.3l.2,2.8l.19,-.4l.19,1.7l.2,-3.9l.19,1.9l.2,2.2l.19,-1.2l.2,-1.1l.19,1.5l.2,-1.6l.19,.2l.2,.5l.19,-1.3l.2,1.6l.19,.2l.2,-2.9l.19,2.8l.2,-1.3l.19,-1l.19,1.5l.2,-.6l.19,-.9l.2,1.8l.19,.1l.2,.2l.19,-.5l.2,.2l.19,-1l.2,3l.19,-2.2l.2,-1.1l.19,1.1l.2,2l.19,-1.6l.2,2l.19,-2.5l.2,1.3l.19,-.2l.19,1.1l.2,-1.9l.19,-.1l.2,0l.19,-.6l.2,3.4l.19,-3.3l.2,.1l.19,1.7l.2,-2.6l.19,-.3l.2,2.3l.19,-.7l.2,.2l.19,-.1l.2,-.2l.19,1l.19,-1l.2,-.4l.19,-.9l.2,1.7l.19,-2.2l.2,2.3l.19,.2l.2,.2l.19,-2.9l.2,2.4l.19,.2l.2,-.4l.19,-1.4l.2,-1.1l.19,2.1l.2,2l.19,-1.6l.19,1.3l.2,-.8l.19,-1.9l.2,1.4l.19,1.2l.2,-1.8l.19,3l.2,-4.2l.19,-.4l.2,2.8l.19,.6l.2,-1.4l.19,.3l.2,.3l.19,-1.9l.2,1.5l.19,.2l.19,-.5l.2,.4l.19,-.3l.2,.1l.19,.9l.2,-1.7l.19,1.8l.2,0l.19,-2.7l.2,.4l.19,2.5l.2,-3.8l.19,3l.2,2.1l.19,0l.2,-1.3l.19,-1.8l.19,1.6l.2,.6l.19,1.1l.2,-2.2l.19,-.1l.2,-.3l.19,.9l.2,1.4l.19,-3.2l.2,.8l.19,-.4l.2,2.3l.19,-1.6l.2,-.5l.19,.7l.2,-1.5l.19,3.4l.19,-.9l.2,-2.2l.19,.7l.2,.2l.19,-.6l.2,.4l.19,0l.2,1.5l.19,-3.1l.2,2.9l.19,-.6l.2,-2.8l.19,1.5l.2,.5l.19,-.8l.2,.8l.19,.9l.19,-.5l.2,2.2l.19,-2.8l.2,0l.19,-.1l.2,-1.4l.19,-.5l.2,2.6l.19,0l.2,-.9l.19,-.2l.2,0l.19,1.2l.2,-.4l.19,1.6l.2,.2l.19,-2.8l.2,3.3l.19,-3.8l.19,3.1l.2,.6l.19,-2.3l.2,2.5l.19,-2.2l.2,-.8l.19,.1l.2,.2l.19,1.7l.2,-1.3l.19,.1l.2,-.7l.19,.6l.2,-.2l.19,1.8l.2,-1.4l.19,-.3l.19,-.9l.2,2.3l.19,-2.4l.2,3.2l.19,-2l.2,-.6l.19,1.2l.2,-.5l.19,.8l.2,-.7l.19,-.6l.2,.8l.19,1.1l.2,-1.2l.19,.4l.2,-3.3l.19,5l.19,-2.5l.2,-2.3l.19,-.3l.2,3.1l.19,-.3l.2,2.7l.19,-6.1l.2,5.5l.19,-2.4l.2,1.3l.19,-2.5l.2,1.4l.19,-1.4l.2,2.5l.19,2l.2,-3.2l.19,.5l.19,-2.8l.2,2.7l.19,.3l.2,-.7l.19,1.5l.2,-1.1l.19,-.9l.2,3.1l.19,-3.6l.2,.2l.19,-.1l.2,5.9l.19,-5l.2,1l.19,2.3l.2,-4.6l.19,-1l.19,1l.2,2.1l.19,-2.1l.2,1.9l.19,-.9l.2,.1l.19,-.7l.2,1.2l.19,.3l.2,-.4l.19,-1.9l.2,1.4l.19,.4l.2,-.1l.19,2.7l.2,-1.2l.19,-2.7l.19,0l.2,2.1l.19,-.9l.2,-2.3l.19,2.1l.2,1.8l.19,-1.5l.2,-1l.19,1.5l.2,-1.2l.19,.3l.2,-1.5l.19,1l.2,.5l.19,1l.2,1.7l.19,-5.2l.2,3.4l.19,-.3l.19,-.5l.2,.7l.19,2.3l.2,-2.2l.19,-1l.2,1.6l.19,1.2l.2,-3.7l.19,1.8l.2,.8l.19,-3.4l.2,2.3l.19,-.9l.2,3.1l.19,-3.3l.2,1.3l.19,1.4l.19,-1.5l.2,.5l.19,-2.4l.2,1.4l.19,.4l.2,-2.1l.19,.8l.2,1.3l.19,-1.3l.2,3l.19,.4l.2,-2.3l.19,2.3l.2,-3.7l.19,2.9l.2,.4l.19,-1l.19,-2l.2,.5l.19,1.8l.2,-2.8l.19,2.3l.2,.2l.19,-.3l.2,-.2l.19,-.3l.2,-.8l.19,2.8l.2,-1.9l.19,-.9l.2,.2l.19,1.8l.2,-1l.19,-2l.19,1.7l.2,-.9l.19,2.8l.2,-.3l.19,.2l.2,-2.1l.19,-.3l.2,-.7l.19,1.2l.2,.1l.19,.8l.2,0l.19,-1.5l.2,1.2l.19,-2.9l.2,2.8l.19,1.2l.19,-1.5l.2,-.2l.19,1.5l.2,-1.6l.19,1.7l.2,-.3l.19,-.6l.2,1.3l.19,-1.8l.2,2.6l.19,-1.8l.2,1.2l.19,-1.9l.2,0l.19,-.4l.2,-.5l.19,-.1l.19,1.5l.2,-1l.19,.1l.2,.8l.19,-.9l.2,-.7l.19,1l.2,.3l.19,-.3l.2,-2.7l.19,4.9l.2,-.9l.19,-1.2l.2,-.4l.19,-1.7l.2,1.6l.19,.1l.19,-.1l.2,1.5l.19,-.6l.2,-1.9l.19,1.4l.2,1.7l.19,-1.8l.2,.1l.19,2.9l.2,-2.7l.19,1l.2,-1.9l.19,2.9l.2,-2.2l.19,-1.8l.2,2.9l.19,-1.3l.2,1.8l.19,-.3l.19,-.7l.2,-1.1l.19,1.7l.2,-1l.19,-.2l.2,-1.2l.19,3l.2,-1l.19,-.9l.2,1.2l.19,-1.4l.2,.3l.19,1.2l.2,1.2l.19,-2.6l.2,-.9l.19,.9l.19,0l.2,1.5l.19,1.2l.2,-2.3l.19,-1.3l.2,.9l.19,.2l.2,1l.19,-1.6l.2,-.3l.19,.3l.2,-1.1l.19,3.6l.2,-.9l.19,-5l.2,3.7l.19,1.2l.19,.2l.2,-.1l.19,-.6l.2,-.1l.19,.9l.2,.9l.19,-2l.2,1l.19,.5l.2,-1.7l.19,.9l.2,-3l.19,.1l.2,1.7l.19,1.2l.2,-1.5l.19,-1.4l.19,1.3l.2,-1l.19,3.1l.2,-2l.19,-.5l.2,1.6l.19,2.2l.2,-1.3l.19,-2.2l.2,.6l.19,2.8l.2,-1.4l.19,-1.4l.2,0l.19,.4l.2,-.4l.19,-.5l.19,.9l.2,.6l.19,-1l.2,-.5l.19,1.5l.2,-1.8l.19,2.1l.2,-1.1l.19,-.8l.2,2.6l.19,-1.5l.2,-1.2l.19,-1.6l.2,4l.19,-2.1l.2,1l.19,-1.1l.19,.4l.2,.3l.19,-.3l.2,.6l.19,.1l.2,-.2l.19,0l.2,1.8l.19,-3.8l.2,1.3l.19,1.4l.2,-.2l.19,.6l.2,1.8l.19,-3.6l.2,-2.1l.19,.3l.2,1.6l.19,.6l.19,-.6l.2,1.4l.19,-.7l.2,1.4l.19,-1.1l.2,.2l.19,-2.5l.2,2.1l.19,-.2l.2,1.3l.19,-1.9l.2,2.3l.19,-.2l.2,-1.4l.19,.5l.2,0l.19,1.8l.19,.7l.2,-1.8l.19,-.9l.2,-.9l.19,1.4l.2,-.8l.19,.4l.2,-.3l.19,.6l.2,-.2l.19,1.3l.2,-1.2l.19,-.4l.2,2.1l.19,-3l.2,.6l.19,.8l.19,-.1l.2,-1l.19,2.9l.2,-2.2l.19,1l.2,-3.2l.19,2.8l.2,-.4l.19,-.4l.2,-.3l.19,1.4l.2,-.6l.19,-.2l.2,-.2l.19,.3l.2,.1l.19,-2.3l.19,2l.2,1l.19,-1l.2,1.7l.19,-1.9l.2,1l.19,.1l.2,-.2l.19,-1.8l.2,1.7l.19,1.7l.2,-3.7l.19,1.9l.2,.7l.19,-.6l.2,-1.5l.19,1.5l.19,-1.2l.2,.8l.19,-.5l.2,.4l.19,-.1l.2,-1.4l.19,1.3l.2,2.4l.19,-2.2l.2,-2l.19,2.8l.2,-.4l.19,.1l.2,-1.1l.19,0l.2,1l.19,-3l.19,.8l.2,2.5l.19,-1.1l.2,-1.1l.19,1.5l.2,.5l.19,-.2l.2,-1.1l.19,.2l.2,.7l.19,-1.2l.2,-.4l.19,1.1l.2,2.6l.19,-3.2l.2,.8l.19,-.3l.19,1.9l.2,-2.1l.19,1.8l.2,.5l.19,-1.8l.2,.5l.19,-2.9l.2,3.2l.19,-2.1l.2,1.6l.19,-.6l.2,.3l.19,-1.9l.2,2.3l.19,.2l.2,-1.3l.19,-.5l.2,1.4l.19,-.6l.19,1.2l.2,-1.1l.19,.7l.2,0l.19,-1l.2,.4l.19,.4l.2,-.5l.19,-1l.2,2.7l.19,-3.3l.2,3l.19,-1.8l.2,1.2l.19,.2l.2,-1.3l.19,1l.19,-1.1l.2,-.9l.19,2.8l.2,-1.6l.19,.7l.2,-.3l.19,-.5l.2,-.9l.19,1l.2,-.1l.19,.3l.2,.8l.19,.1l.2,-1.1l.19,1l.2,-2.3l.19,2.3l.19,-1l.2,2.8l.19,-1.9l.2,-.2l.19,-.1l.2,-.3l.19,-.7l.2,-.2l.19,1.7l.2,-1.1l.19,.2l.2,-.5l.19,.1l.2,.1l.19,-1.4l.2,-.1l.19,1l.19,.1l.2,1.4l.19,-3.1l.2,2.1l.19,.5l.2,.3l.19,-.7l.2,.8l.19,-1.1l.2,.8l.19,0l.2,-.7l.19,1.1l.2,-.2l.19,-1l.2,.4l.19,1.2l.19,-2l.2,1.5l.19,-2.2l.2,1.3l.19,.6l.2,.5l.19,-1.3l.2,1.8l.19,-1.7l.2,-.9l.19,1.6l.2,-2.8l.19,4.3l.2,-3.8l.19,4l.2,-2l.19,-.1l.19,.4l.2,.4l.19,-.3l.2,1.6l.19,-2.5l.2,3.4l.19,-3.5l.2,.7l.19,-.9l.2,1l.19,.1l.2,.9l.19,1.5l.2,-2.7l.19,1.6l.2,-.5l.19,-.8l.2,.6l.19,-.9l.19,-.2l.2,.5l.19,-2.1l.2,1.8l.19,2.4l.2,-1.4l.19,-.7l.2,0l.19,.6l.2,-2l.19,.5l.2,2l.19,-1.8l.2,1.6l.19,-2.1l.2,-1.2l.19,2.6l.19,.4l.2,.8l.19,-1.2l.2,.9l.19,-2.4l.2,1.5l.19,-.6l.2,1.3l.19,2.1l.2,-3.2l.19,.1l.2,-2l.19,4.6l.2,-4.7l.19,2.8l.2,-.7l.19,-.5l.19,-.8l.2,2.8l.19,-3.4l.2,2.9l.19,-.9l.2,.6l.19,-1.6l.2,-.2l.19,3.6l.2,-4.3l.19,1.3l.2,2.2l.19,.5l.2,-2.8l.19,1.2l.2,.8l.19,-3.3l.19,2.8l.2,-.6l.19,.1l.2,-1.2l.19,1.2l.2,-1.5l.19,1.3l.2,-.9l.19,1.2l.2,.1l.19,-1.4l.2,1.1l.19,-.3l.2,-.7l.19,-2l.2,3.6l.19,-.9l.19,-.9l.2,.8l.19,-.9l.2,.7l.19,.6l.2,.1l.19,-.1l.2,.7l.19,-3.5l.2,1.4l.19,.9l.2,.7l.19,-1.8l.2,3.3l.19,-2.7l.2,.6l.19,.7l.19,-2.4l.2,.6l.19,1.4l.2,.3l.19,.9l.2,-3l.19,2.7l.2,-.2l.19,-3.3l.2,2l.19,0l.2,.8l.19,-2.4l.2,-.4l.19,2.4l.2,.2l.19,-.7l.19,.4l.2,2.2l.19,-1.9l.2,-.4l.19,-2.6l.2,3.8l.19,-.6l.2,-1.7l.19,1.9l.2,-1.4l.19,.9l.2,-3l.19,2.7l.2,-3.2l.19,2l.2,2.3l.19,.1l.2,-.9l.19,2.1l.19,-3.7l.2,1.5l.19,0l.2,1.3l.19,-1.4l.2,.4l.19,1.5l.2,0l.19,-2.8l.2,3.5l.19,-1.8l.2,.7l.19,-2.6l.2,.9l.19,-.3l.2,-.9l.19,-.6l.19,4.1l.2,-.3l.19,-2.2l.2,-2.6l.19,-.6l.2,2.3l.19,-3.1l.2,-.2l.19,3.1l.2,-2.4l.19,1.3l.2,-.1l.19,5.4l.2,-.1l.19,-5.3l.2,.2l.19,-.6l.19,-.1l.2,.4l.19,5.8l.2,-5.2l.19,2.6l.2,-1.1l.19,1.4l.2,.3l.19,-.8l.2,-.1l.19,.9l.2,-.2l.19,-1l.2,.1l.19,0l.2,-.3l.19,.5l.19,-1l.2,2.1l.19,-.1l.2,-.1l.19,-.1l.2,-.3l.19,-1.1l.2,2.6l.19,-3.8l.2,2.3l.19,1.3l.2,-2.1l.19,-.3l.2,2.2l.19,-.6l.2,-1.2l.19,.2l.19,-1.1l.2,1l.19,2.3l.2,-2.5l.19,1.2l.2,-1.1l.19,.2l.2,-.4l.19,-.4l.2,0l.19,-.2l.2,-1.3l.19,4.9l.2,-1.6l.19,-.7l.2,.4l.19,.5l.19,-1.4l.2,-2.6l.19,1.8l.2,.3l.19,-.2l.2,-.3l.19,1.7l.2,1.5l.19,-1.5l.2,-1.5l.19,1.1l.2,-.3l.19,1.6l.2,-1.8l.19,.6l.2,-.7l.19,-.2l.2,.9l.19,-1l.19,-.9l.2,-.3l.19,.3l.2,2.7l.19,-2.4l.2,2.2l.19,-.6l.2,-.5l.19,-.4l.2,.1l.19,.1l.2,.7l.19,.8l.2,-1.3l.19,-2.1l.2,3.1l.19,.3l.19,-1.3l.2,.8l.19,-2.3l.2,.3l.19,-1.2l.2,2.8l.19,1.5l.2,-.9l.19,-1.8l.2,3.8l.19,-.5l.2,-3.6l.19,2.1l.2,-.1l.19,.1l.2,-.1l.19,-.3l.19,-1.1l.2,1l.19,-.6l.2,.2l.19,.5l.2,-2.5l.19,2.3l.2,-1.3l.19,1.1l.2,.4l.19,-.3l.2,0l.19,-.7l.2,1.8l.19,-2.4l.2,.6l.19,.5l.19,-1.1l.2,2.2l.19,-1.5l.2,0l.19,-.6l.2,3.3l.19,-2.1l.2,.1l.19,.7l.2,-2.2l.19,1.8l.2,-3.2l.19,2.9l.2,1.4l.19,.2l.2,-2.5l.19,2.9l.19,-1.6l.2,.9l.19,-3.4l.2,2.9l.19,-1.4l.2,.5l.19,-.1l.2,.6l.19,.6l.2,-1.7l.19,.4l.2,1.5l.19,-4l.2,.9l.19,2.1l.2,.3l.19,.9l.19,-1.2l.2,-1.5l.19,3.1l.2,-1.7l.19,-1l.2,.3l.19,-.2l.2,.2l.19,-.5l.2,2.5l.19,-3.8l.2,1.9l.19,2.5l.2,-3.5l.19,-.1l.2,1.7l.19,-.8l.19,-.3l.2,2.6l.19,-2.7l.2,1.9l.19,1.3l.2,-2.2l.19,.8l.2,-.1l.19,-1l.2,0l.19,.7l.2,1.1l.19,.7l.2,-2.6l.19,.1l.2,-1.2l.19,2.1l.2,-2.7l.19,1.8l.19,-.2l.2,.7l.19,-2l.2,3.6l.19,-1.7l.2,-.7l.19,3l.2,-.9l.19,-.6l.2,-2.7l.19,2.3l.2,.3l.19,-.8l.2,-.7l.19,.7l.2,-.3l.19,0l.19,-.2l.2,0l.19,.4l.2,.4l.19,-2.1l.2,2.3l.19,1.4l.2,-1.9l.19,-.4l.2,1.9l.19,-1.6l.2,2.2l.19,-4.1l.2,1.6l.19,1.8l.2,-1.3l.19,-2.5l.19,2.1l.2,-.3l.19,1.5l.2,-1.5l.19,3.3l.2,-2.7l.19,1l.2,-2.9l.19,2.4l.2,-1.1l.19,-.5l.2,.1l.19,1.5l.2,-1.3l.19,.3l.2,.7l.19,0l.19,.7l.2,-.5l.19,-.9l.2,.1l.19,2.1l.2,-1.8l.19,-.5l.2,2.2l.19,-.3l.2,-3.4l.19,1.7l.2,0l.19,-1.3l.2,4.3l.19,-2.5l.2,.7l.19,-2.9l.19,2.4l.2,.8l.19,-.5l.2,-.9l.19,-1.8l.2,1.7l.19,-1.5l.2,3.7l.19,-1.8l.2,-.4l.19,.2l.2,.9l.19,-1.5l.2,.3l.19,-1.2l.2,-.3l.19,4.2l.19,-2.4l.2,2l.19,-1.6l.2,.4l.19,.7l.2,-1.8l.19,1.5l.2,1.5l.19,-1.8l.2,-.6l.19,-1.1l.2,1.5l.19,-.7l.2,1.6l.19,.3l.2,.5l.19,-2.5l.2,-.2l.19,-.8l.19,.8l.2,2.3l.19,-1.8l.2,-.2l.19,2.7l.2,-1.5l.19,-1.9l.2,2.8l.19,-.7l.2,-1l.19,-1.1l.2,.5l.19,-1.4l.2,1.7l.19,-1.9l.2,1.3l.19,.3l.19,-.1l.2,.9l.19,1.6l.2,-1.4l.19,2.2l.2,-2.9l.19,1.9l.2,-2.3l.19,.2l.2,.2l.19,.1l.2,.8l.19,-3.5l.2,2.8l.19,-1.2l.2,.7l.19,-.7l.19,2.8l.2,-3.1l.19,-1.2l.2,3.9l.19,-1.6l.2,-.2l.19,-.2l.2,-1.4l.19,-.7l.2,4.3l.19,-1.3l.2,.2l.19,-.4l.2,.2l.19,.9l.2,.1l.19,-.7l.19,-.7l.2,2.8l.19,-2l.2,-.6l.19,-.4l.2,.3l.19,-1.3l.2,.9l.19,.9l.2,0l.19,-.9l.2,2.2l.19,-1l.2,-1.6l.19,1.2l.2,-.4l.19,2.4l.19,-.8l.2,-1.3l.19,0l.2,0l.19,.2l.2,-2.8l.19,5.2l.2,-2.8l.19,.9l.2,-.5l.19,0l.2,0l.19,-1.1l.2,.8l.19,-.7l.2,-.6l.19,1.3l.19,1.6l.2,-.6l.19,-1.1l.2,.7l.19,.7l.2,-1.4l.19,2.1l.2,-2l.19,-1.5l.2,1.1l.19,.7l.2,-1l.19,1.3l.2,-2.8l.19,1.5l.2,-.4l.19,-.8l.19,2.6l.2,-1.1l.19,1.4l.2,.8l.19,.1l.2,-2.1l.19,1.1l.2,-2.7l.19,0l.2,4.4l.19,-3l.2,1.9l.19,-1.9l.2,.3l.19,-3.3l.2,2.8l.19,-.2l.2,0l.19,2.7l.19,-.3l.2,-.8l.19,-.4l.2,.2l.19,-2.2l.2,.2l.19,.7l.2,-1.4l.19,.9l.2,.1l.19,.8l.2,.1l.19,.1l.2,.6l.19,-2.3l.2,1.3l.19,1.5l.19,1.1l.2,-1.8l.19,.6l.2,-1l.19,-2.4l.2,1.6l.19,2.3l.2,-1.9l.19,.2l.2,.1l.19,0l.2,.3l.19,1.5l.2,-3l.19,-.5l.2,.2l.19,1.6l.19,-.5l.2,.5l.19,-1.8l.2,2l.19,-.6l.2,.3l.19,-.5l.2,-1l.19,3.5l.2,-2.2l.19,.5l.2,-.4l.19,-.1l.2,2.3l.19,-2.1l.2,.4l.19,-.3l.19,.7l.2,-.5l.19,-.3l.2,-.6l.19,1l.2,.6l.19,-.9l.2,-.5l.19,-1.2l.2,.7l.19,.9l.2,.2l.19,-2l.2,1.8l.19,.3l.2,-.3l.19,-1.5l.19,.4l.2,-1.3l.19,2.7l.2,-1.1l.19,3.6l.2,-2.7l.19,-.8l.2,1.4l.19,.9l.2,-2.4l.19,.9l.2,-1.5l.19,.8l.2,.6l.19,-1.2l.2,.5l.19,.9l.19,2.2l.2,-1.9l.19,.4l.2,-1.9l.19,.2l.2,0l.19,2.1l.2,-1.1l.19,.4l.2,-1.6l.19,1.6l.2,-3.1l.19,3.1l.2,.3l.19,.8l.2,-2.7l.19,-.1l.2,1.2l.19,.4l.19,.1l.2,1.7l.19,-2.7l.2,.9l.19,.3l.2,-.8l.19,.3l.2,-.1l.19,.2l.2,1.2l.19,-1.4l.2,-1.7l.19,2.2l.2,-.3l.19,.3l.2,.6l.19,-1.5l.19,.4l.2,.4l.19,-.7l.2,2.1l.19,-2l.2,1.6l.19,-1.1l.2,.6l.19,-.2l.2,1l.19,-1.5l.2,.4l.19,-.7l.2,0l.19,-.8l.2,1.3l.19,0l.19,.1l.2,-2.7l.19,3.1l.2,-1l.19,1.3l.2,-.6l.19,.7l.2,-1.7l.19,-.5l.2,1.6l.19,-1l.2,.2l.19,.5l.2,0l.19,-.7l.2,-.2l.19,1.6" fill="none" stroke="#0000ff" stroke-width="0.8" stroke-linejoin="round"/><path d="M81,1529.1H957.2V2168.8H81ZM81,1562.7h-12M81,1630h-12M81,1697.4h-12M81,1764.7h-12M81,1832.1h-12M81,1899.4h-12M81,1966.7h-12M81,2034.1h-12M81,2101.4h-12M81,2168.8h-12M81,1529.1h-6.8M81,1596.4h-6.8M81,1663.8h-6.8M81,1731.1h-6.8M81,1798.5h-6.8M81,1865.8h-6.8M81,1933.1h-6.8M81,2000.5h-6.8M81,2067.8h-6.8M81,2135.2h-6.8M81,2168.8v12M227,2168.8v12M373.1,2168.8v12M519.1,2168.8v12M665.1,2168.8v12M811.2,2168.8v12M957.2,2168.8v12M154,2168.8v6.8M300.1,2168.8v6.8M446.1,2168.8v6.8M592.1,2168.8v6.8M738.2,2168.8v6.8M884.2,2168.8v6.8" fill="none" stroke="#000" stroke-width="2.5" stroke-linejoin="miter"/></g>
<g><clipPath id="ci5"><rect x="594.2" y="14.8" width="336" height="205.4"/></clipPath><path clip-path="url(#ci5)" d="M590.8,140h0M596.5,139.7h0M602.1,140.6h0M607.7,139.6h0M613.3,139.6h0M618.9,140.1h0M624.5,139.1h0M630.1,139h0M635.7,139.1h0M641.4,138.7h0M647,138.1h0M652.6,138.1h0M658.2,137.6h0M663.8,137.2h0M669.4,135.5h0M675,134.5h0M680.6,132.7h0M686.3,127.8h0M691.9,115.9h0M697.5,96.9h0M703.1,66.8h0M708.7,35.7h0M714.3,23.1h0M719.9,40.9h0M725.5,71.3h0M731.1,94.1h0M736.8,105.2h0M742.4,98h0M748,86.4h0M753.6,78.7h0M759.2,85.7h0M764.8,101.3h0M770.4,116.8h0M776,127.3h0M781.7,133.1h0M787.3,136.1h0M792.9,137.5h0M798.5,138.8h0M804.1,138.9h0M809.7,139.9h0M815.3,139.7h0M820.9,139.9h0M826.6,140.3h0M832.2,140.6h0M837.8,140.8h0M843.4,141.3h0M849,141.4h0M854.6,141.3h0M860.2,141.1h0M865.8,141.3h0M871.4,141.9h0M877.1,141.6h0M882.7,141.1h0M888.3,141.4h0M893.9,141.5h0M899.5,142.2h0M905.1,141.8h0M910.7,142.7h0M916.3,142.2h0M922,142h0M927.6,141.9h0M933.2,142.4h0" fill="none" stroke="#ff0000" stroke-width="7.3" stroke-linecap="round"/><path clip-path="url(#ci5)" d="M590.8,140.5L596.5,140.5L602.1,140.4L607.7,140.4L613.3,140.3L618.9,140.2L624.5,140.1L630.1,139.9L635.7,139.8L641.4,139.5L647,139.2L652.6,138.9L658.2,138.4L663.8,137.7L669.4,136.8L675,135.4L680.6,133L686.3,127.9L691.9,117.2L697.5,97.3L703.1,67.8L708.7,36.7L714.3,24.1L719.9,41.8L725.5,71.6L731.1,94.6L736.8,103.4L742.4,98.8L748,87.1L753.6,79.4L759.2,86.1L764.8,102.2L770.4,117.5L776,128L781.7,133.8L787.3,136.7L792.9,138.1L798.5,139L804.1,139.6L809.7,140.1L815.3,140.5L820.9,140.8L826.6,141L832.2,141.2L837.8,141.4L843.4,141.5L849,141.7L854.6,141.8L860.2,141.9L865.8,142L871.4,142.1L877.1,142.2L882.7,142.3L888.3,142.3L893.9,142.4L899.5,142.5L905.1,142.5L910.7,142.6L916.3,142.6L922,142.7L927.6,142.7L933.2,142.8" fill="none" stroke="#000" stroke-width="1.15" stroke-linejoin="round"/><path d="M710.4,182.6V196M716.7,182.6V196M753.8,182.6V196M759.9,182.6V196" stroke="#159015" stroke-width="1.15" fill="none"/><path clip-path="url(#ci5)" d="M594.2,213.4L596.5,213.5L602.1,213.1L607.7,213.3L613.3,213L618.9,213.3L624.5,214.1L630.1,213.1L635.7,213.8L641.4,212.9L647,212.8L652.6,213.4L658.2,213.6L663.8,213.7L669.4,213.1L675,214L680.6,212.3L686.3,213.9L691.9,212.7L697.5,212.6L703.1,213.1L708.7,212.3L714.3,213L719.9,215.7L725.5,214.5L731.1,213.9L736.8,215.5L742.4,213.5L748,211.7L753.6,213L759.2,215.2L764.8,211.1L770.4,212.5L776,213.1L781.7,213.4L787.3,213.4L792.9,213.2L798.5,213.2L804.1,213.1L809.7,213.3L815.3,213.8L820.9,213.1L826.6,213.2L832.2,213L837.8,213.5L843.4,212.6L849,213.6L854.6,213.1L860.2,213.3L865.8,213.4L871.4,213.1L877.1,213.4L882.7,214L888.3,213.6L893.9,213.2L899.5,212.7L905.1,213.7L910.7,213.3L916.3,212.9L922,213.1L927.6,213.4L933.2,213.7" fill="none" stroke="#1414ff" stroke-width="1" stroke-linejoin="round"/><path d="M594.2,14.8H930.2V220.2H594.2ZM594.2,29.2h-5M594.2,58.6h-5M594.2,88h-5M594.2,117.4h-5M594.2,146.8h-5M594.2,176.2h-5M594.2,205.6h-5M621.6,220.2v5M761.9,220.2v5M902.2,220.2v5M691.8,220.2v3M832,220.2v3" fill="none" stroke="#303030" stroke-width="1.6"/></g>
<g><clipPath id="ci7"><rect x="567" y="774" width="376.2" height="203.7"/></clipPath><path clip-path="url(#ci7)" d="M566.6,889.9h0M572.9,889h0M579.1,889h0M585.4,888.9h0M591.7,888.3h0M597.9,888.2h0M604.2,887.9h0M610.5,886.9h0M616.7,887.3h0M623,886.6h0M629.3,885.3h0M635.5,884.5h0M641.8,883.4h0M648.1,881.4h0M654.3,878.9h0M660.6,874.9h0M666.9,870.1h0M673.1,861.2h0M679.4,847.1h0M685.7,824.9h0M691.9,799.4h0M698.2,783.9h0M704.5,796.3h0M710.7,821.4h0M717,839.4h0M723.3,850.7h0M729.6,850.9h0M735.8,845.2h0M742.1,836.8h0M748.4,830.9h0M754.6,838.7h0M760.9,853.5h0M767.2,864.3h0M773.4,872.9h0M779.7,877h0M786,880.6h0M792.2,882.6h0M798.5,885h0M804.8,886.2h0M811,886.3h0M817.3,887.3h0M823.6,887.5h0M829.8,888.2h0M836.1,888.1h0M842.4,888h0M848.6,888.2h0M854.9,889.2h0M861.2,890h0M867.4,889.5h0M873.7,889.3h0M880,890.3h0M886.3,889.8h0M892.5,889.9h0M898.8,890h0M905.1,889.9h0M911.3,889.9h0M917.6,889.6h0M923.9,890.3h0M930.1,890.2h0M936.4,890.7h0M942.7,890.2h0M948.9,889.7h0" fill="none" stroke="#ff0000" stroke-width="7.2" stroke-linecap="round"/><path clip-path="url(#ci7)" d="M566.6,889.7L572.9,889.6L579.1,889.4L585.4,889.2L591.7,888.9L597.9,888.6L604.2,888.3L610.5,887.9L616.7,887.4L623,886.7L629.3,886L635.5,884.9L641.8,883.6L648.1,881.9L654.3,879.4L660.6,875.8L666.9,870.3L673.1,861.5L679.4,847.4L685.7,825.8L691.9,799.2L698.2,784.2L704.5,796.8L710.7,821.1L717,839.8L723.3,849.6L729.6,851.4L735.8,846.4L742.1,836.8L748.4,831.5L754.6,839.4L760.9,853.5L767.2,865.3L773.4,873.1L779.7,878.1L786,881.3L792.2,883.4L798.5,884.9L804.8,886L811,886.8L817.3,887.4L823.6,888L829.8,888.4L836.1,888.7L842.4,889L848.6,889.2L854.9,889.5L861.2,889.6L867.4,889.8L873.7,889.9L880,890L886.3,890.1L892.5,890.2L898.8,890.3L905.1,890.4L911.3,890.5L917.6,890.5L923.9,890.6L930.1,890.6L936.4,890.7L942.7,890.7L948.9,890.7" fill="none" stroke="#000" stroke-width="1.15" stroke-linejoin="round"/><path d="M696.7,930.2V942.5M704.2,930.2V942.5M745.6,930.2V942.5M752.8,930.2V942.5" stroke="#159015" stroke-width="1.15" fill="none"/><path clip-path="url(#ci7)" d="M567,970.5L572.9,970L579.1,970.6L585.4,970.7L591.7,970.8L597.9,970.8L604.2,970.6L610.5,970.8L616.7,970.1L623,970.6L629.3,970.5L635.5,970.1L641.8,970.1L648.1,970.6L654.3,970.4L660.6,970.3L666.9,970.6L673.1,970L679.4,971.2L685.7,970.8L691.9,972L698.2,970.8L704.5,971.7L710.7,970.7L717,972.7L723.3,970.1L729.6,971.3L735.8,970.3L742.1,970L748.4,969.1L754.6,972.5L760.9,970.2L767.2,970.7L773.4,970.5L779.7,969.9L786,970.3L792.2,970.6L798.5,970.6L804.8,970.7L811,970.4L817.3,970.4L823.6,970.9L829.8,970.4L836.1,970.7L842.4,970.1L848.6,970.5L854.9,970L861.2,970.6L867.4,970.6L873.7,970.4L880,970.2L886.3,970.3L892.5,970.8L898.8,970.4L905.1,970.5L911.3,970.6L917.6,970.7L923.9,970L930.1,970.6L936.4,970.7L942.7,970.3L948.9,970.5" fill="none" stroke="#1414ff" stroke-width="1" stroke-linejoin="round"/><path d="M567,774H943.2V977.7H567ZM567,774h-5M567,798.1h-5M567,822.1h-5M567,846.2h-5M567,870.3h-5M567,894.4h-5M567,918.4h-5M567,942.5h-5M567,966.6h-5M598.3,977.7v5M755,977.7v5M911.7,977.7v5M676.6,977.7v3M833.4,977.7v3" fill="none" stroke="#303030" stroke-width="1.6"/></g>
<g><clipPath id="ci9"><rect x="580.9" y="1539.8" width="362.7" height="210"/></clipPath><path clip-path="url(#ci9)" d="M576.7,1654.9h0M582.8,1654.7h0M588.8,1654.2h0M594.9,1654.3h0M601,1653.9h0M607,1653.5h0M613.1,1652.7h0M619.1,1652.5h0M625.2,1651.9h0M631.2,1650.8h0M637.3,1650.1h0M643.4,1648.9h0M649.4,1646.2h0M655.5,1643.1h0M661.5,1638.6h0M667.6,1630h0M673.7,1617.1h0M679.7,1595.7h0M685.8,1569.4h0M691.8,1552.7h0M697.9,1562.9h0M703.9,1586.8h0M710,1606.1h0M716.1,1617.6h0M722.1,1616.9h0M728.2,1610.6h0M734.2,1601.4h0M740.3,1599.3h0M746.3,1609.8h0M752.4,1623.3h0M758.5,1634.6h0M764.5,1642.4h0M770.6,1644.9h0M776.6,1648.2h0M782.7,1650.3h0M788.8,1651.7h0M794.8,1653h0M800.9,1653.7h0M806.9,1654.4h0M813,1654.9h0M819,1654.6h0M825.1,1655.2h0M831.2,1655.3h0M837.2,1655.8h0M843.3,1655.8h0M849.3,1655.7h0M855.4,1656.9h0M861.5,1656.3h0M867.5,1656.3h0M873.6,1656.9h0M879.6,1656.3h0M885.7,1656.6h0M891.7,1656.7h0M897.8,1656.3h0M903.9,1656.1h0M909.9,1657.1h0M916,1657h0M922,1657h0M928.1,1657.6h0M934.1,1657.1h0M940.2,1658h0M946.3,1656.9h0" fill="none" stroke="#ff0000" stroke-width="7.1" stroke-linecap="round"/><path clip-path="url(#ci9)" d="M576.7,1655.3L582.8,1655.2L588.8,1655L594.9,1654.7L601,1654.4L607,1654.1L613.1,1653.6L619.1,1653.1L625.2,1652.4L631.2,1651.5L637.3,1650.3L643.4,1648.7L649.4,1646.5L655.5,1643.3L661.5,1638.3L667.6,1630.2L673.7,1617L679.7,1596.4L685.8,1569.8L691.8,1552.6L697.9,1563.1L703.9,1587.2L710,1606.2L716.1,1615.9L722.1,1617.1L728.2,1611.1L734.2,1601.7L740.3,1599.6L746.3,1610.4L752.4,1624.5L758.5,1635.1L764.5,1641.9L770.6,1646.2L776.6,1648.9L782.7,1650.7L788.8,1652.1L794.8,1653L800.9,1653.8L806.9,1654.4L813,1654.8L819,1655.2L825.1,1655.6L831.2,1655.8L837.2,1656.1L843.3,1656.3L849.3,1656.5L855.4,1656.6L861.5,1656.8L867.5,1656.9L873.6,1657L879.6,1657.1L885.7,1657.2L891.7,1657.3L897.8,1657.4L903.9,1657.5L909.9,1657.5L916,1657.6L922,1657.7L928.1,1657.7L934.1,1657.8L940.2,1657.8L946.3,1657.9" fill="none" stroke="#000" stroke-width="1.15" stroke-linejoin="round"/><path d="M690.6,1695.7V1709.1M697.3,1695.7V1709.1M737.6,1695.7V1709.1M744.2,1695.7V1709.1" stroke="#159015" stroke-width="1.15" fill="none"/><path clip-path="url(#ci9)" d="M580.9,1735L582.8,1734.3L588.8,1734.1L594.9,1733.7L601,1734.3L607,1734.3L613.1,1734.8L619.1,1733.5L625.2,1733.7L631.2,1734.1L637.3,1734.2L643.4,1734.5L649.4,1734.3L655.5,1735.2L661.5,1734.4L667.6,1733.5L673.7,1734.8L679.7,1734L685.8,1733.7L691.8,1732L697.9,1733.3L703.9,1732.9L710,1734.2L716.1,1735.7L722.1,1735.8L728.2,1734.6L734.2,1733.9L740.3,1734.4L746.3,1732.4L752.4,1734.2L758.5,1735.1L764.5,1734.2L770.6,1734.2L776.6,1734.7L782.7,1733.8L788.8,1734.2L794.8,1734.3L800.9,1733.8L806.9,1734L813,1734.1L819,1734.1L825.1,1734.2L831.2,1734.5L837.2,1734.6L843.3,1733.9L849.3,1733.9L855.4,1734L861.5,1734.1L867.5,1733.9L873.6,1733.9L879.6,1734.1L885.7,1733.9L891.7,1734L897.8,1734.3L903.9,1734L909.9,1734.5L916,1734.8L922,1734L928.1,1734.3L934.1,1733.7L940.2,1734.5L946.3,1733.9" fill="none" stroke="#1414ff" stroke-width="1" stroke-linejoin="round"/><path d="M580.9,1539.8H943.6V1749.8H580.9ZM580.9,1553h-5M580.9,1579.8h-5M580.9,1606.7h-5M580.9,1633.5h-5M580.9,1660.4h-5M580.9,1687.2h-5M580.9,1714.1h-5M580.9,1741h-5M610.7,1749.8v5M762.1,1749.8v5M913.5,1749.8v5M686.4,1749.8v3M837.8,1749.8v3" fill="none" stroke="#1c1c1c" stroke-width="1.4"/></g>
<g style="filter:grayscale(1)">
<text transform="translate(55.45,675.70) scale(0.9300,1)" font-family="Liberation Serif" font-weight="normal" font-style="normal" font-size="30" letter-spacing="0.000">15</text>
<text transform="translate(201.40,675.70) scale(0.9300,1)" font-family="Liberation Serif" font-weight="normal" font-style="normal" font-size="30" letter-spacing="0.000">30</text>
<text transform="translate(347.23,675.70) scale(0.9300,1)" font-family="Liberation Serif" font-weight="normal" font-style="normal" font-size="30" letter-spacing="0.000">45</text>
<text transform="translate(492.25,675.70) scale(0.9300,1)" font-family="Liberation Serif" font-weight="normal" font-style="normal" font-size="30" letter-spacing="0.000">60</text>
<text transform="translate(637.27,675.70) scale(0.9300,1)" font-family="Liberation Serif" font-weight="normal" font-style="normal" font-size="30" letter-spacing="0.000">75</text>
<text transform="translate(783.10,675.70) scale(0.9300,1)" font-family="Liberation Serif" font-weight="normal" font-style="normal" font-size="30" letter-spacing="0.000">90</text>
<text transform="translate(920.68,675.70) scale(0.9300,1)" font-family="Liberation Serif" font-weight="normal" font-style="normal" font-size="30" letter-spacing="0.000">105</text>
<text transform="translate(33.70,452.81) rotate(-90) scale(0.9700,1)" font-family="Liberation Serif" font-weight="bold" font-style="normal" font-size="39.4" letter-spacing="-1.021">Intensity (a.u.)</text>
<text transform="translate(467.52,731.00) scale(0.8410,1)" font-family="Liberation Serif" font-weight="bold" font-style="italic" font-size="40" stroke="#000" stroke-width="0.88" stroke-linejoin="round">2</text>
<text transform="translate(486.02,731.00) scale(1.1189,1)" font-family="Liberation Serif" font-weight="bold" font-style="italic" font-size="40">θ</text>
<text transform="translate(508.97,731.00) scale(0.8718,1)" font-family="Liberation Serif" font-weight="normal" font-style="normal" font-size="38" stroke="#000" stroke-width="0.46" stroke-linejoin="round">(</text>
<text transform="translate(520.06,731.00) scale(1.0522,1)" font-family="Liberation Serif" font-weight="normal" font-style="normal" font-size="38">°</text>
<text transform="translate(533.33,731.00) scale(1.0974,1)" font-family="Liberation Serif" font-weight="normal" font-style="normal" font-size="38" stroke="#000" stroke-width="0.46" stroke-linejoin="round">)</text>
<text transform="translate(709.19,386.10) scale(0.9087,1)" font-family="Liberation Sans" font-weight="bold" font-style="italic" font-size="41" stroke="#000" stroke-width="1" stroke-linejoin="round">x</text>
<text transform="translate(736.78,385.50) scale(0.9854,1)" font-family="Liberation Sans" font-weight="bold" font-style="normal" font-size="41" stroke="#000" stroke-width="1.2" stroke-linejoin="round">=</text>
<text transform="translate(767.61,385.80) scale(0.9247,1)" font-family="Liberation Sans" font-weight="bold" font-style="normal" font-size="40.5" stroke="#000" stroke-width="1.1" stroke-linejoin="round">0</text>
<text transform="translate(786.75,385.80) scale(0.8174,1)" font-family="Liberation Sans" font-weight="bold" font-style="normal" font-size="40.5" stroke="#000" stroke-width="1.1" stroke-linejoin="round">.</text>
<text transform="translate(796.15,385.80) scale(0.8987,1)" font-family="Liberation Sans" font-weight="bold" font-style="normal" font-size="40.5" stroke="#000" stroke-width="1.1" stroke-linejoin="round">0</text>
<text transform="translate(815.28,385.80) scale(0.8779,1)" font-family="Liberation Sans" font-weight="bold" font-style="normal" font-size="40.5" stroke="#000" stroke-width="1.1" stroke-linejoin="round">0</text>
<text transform="translate(61.45,1440.60) scale(0.9300,1)" font-family="Liberation Serif" font-weight="normal" font-style="normal" font-size="30" letter-spacing="0.000">15</text>
<text transform="translate(208.68,1440.60) scale(0.9300,1)" font-family="Liberation Serif" font-weight="normal" font-style="normal" font-size="30" letter-spacing="0.000">30</text>
<text transform="translate(355.80,1440.60) scale(0.9300,1)" font-family="Liberation Serif" font-weight="normal" font-style="normal" font-size="30" letter-spacing="0.000">45</text>
<text transform="translate(502.10,1440.60) scale(0.9300,1)" font-family="Liberation Serif" font-weight="normal" font-style="normal" font-size="30" letter-spacing="0.000">60</text>
<text transform="translate(648.40,1440.60) scale(0.9300,1)" font-family="Liberation Serif" font-weight="normal" font-style="normal" font-size="30" letter-spacing="0.000">75</text>
<text transform="translate(795.52,1440.60) scale(0.9300,1)" font-family="Liberation Serif" font-weight="normal" font-style="normal" font-size="30" letter-spacing="0.000">90</text>
<text transform="translate(934.38,1440.60) scale(0.9300,1)" font-family="Liberation Serif" font-weight="normal" font-style="normal" font-size="30" letter-spacing="0.000">105</text>
<text transform="translate(38.40,1218.01) rotate(-90) scale(0.9700,1)" font-family="Liberation Serif" font-weight="bold" font-style="normal" font-size="39.4" letter-spacing="-0.773">Intensity (a.u.)</text>
<text transform="translate(477.62,1495.20) scale(0.8410,1)" font-family="Liberation Serif" font-weight="bold" font-style="italic" font-size="40" stroke="#000" stroke-width="0.88" stroke-linejoin="round">2</text>
<text transform="translate(496.12,1495.20) scale(1.1189,1)" font-family="Liberation Serif" font-weight="bold" font-style="italic" font-size="40">θ</text>
<text transform="translate(519.07,1495.20) scale(0.8718,1)" font-family="Liberation Serif" font-weight="normal" font-style="normal" font-size="38" stroke="#000" stroke-width="0.46" stroke-linejoin="round">(</text>
<text transform="translate(530.16,1495.20) scale(1.0522,1)" font-family="Liberation Serif" font-weight="normal" font-style="normal" font-size="38">°</text>
<text transform="translate(543.43,1495.20) scale(1.0974,1)" font-family="Liberation Serif" font-weight="normal" font-style="normal" font-size="38" stroke="#000" stroke-width="0.46" stroke-linejoin="round">)</text>
<text transform="translate(682.40,1148.00) scale(0.9126,1)" font-family="Liberation Sans" font-weight="bold" font-style="italic" font-size="41" stroke="#000" stroke-width="1" stroke-linejoin="round">x</text>
<text transform="translate(709.58,1147.40) scale(0.9805,1)" font-family="Liberation Sans" font-weight="bold" font-style="normal" font-size="41" stroke="#000" stroke-width="1.2" stroke-linejoin="round">=</text>
<text transform="translate(739.39,1147.70) scale(0.9403,1)" font-family="Liberation Sans" font-weight="bold" font-style="normal" font-size="40.5" stroke="#000" stroke-width="1.1" stroke-linejoin="round">0</text>
<text transform="translate(758.85,1147.70) scale(0.8174,1)" font-family="Liberation Sans" font-weight="bold" font-style="normal" font-size="40.5" stroke="#000" stroke-width="1.1" stroke-linejoin="round">.</text>
<text transform="translate(769.72,1147.70) scale(0.6316,1)" font-family="Liberation Sans" font-weight="bold" font-style="normal" font-size="40.5" stroke="#000" stroke-width="1.1" stroke-linejoin="round">1</text>
<text transform="translate(788.08,1147.70) scale(0.8938,1)" font-family="Liberation Sans" font-weight="bold" font-style="normal" font-size="40.5" stroke="#000" stroke-width="1.1" stroke-linejoin="round">5</text>
<text transform="translate(67.05,2209.50) scale(0.9300,1)" font-family="Liberation Serif" font-weight="normal" font-style="normal" font-size="30" letter-spacing="0.000">15</text>
<text transform="translate(213.67,2209.50) scale(0.9300,1)" font-family="Liberation Serif" font-weight="normal" font-style="normal" font-size="30" letter-spacing="0.000">30</text>
<text transform="translate(360.17,2209.50) scale(0.9300,1)" font-family="Liberation Serif" font-weight="normal" font-style="normal" font-size="30" letter-spacing="0.000">45</text>
<text transform="translate(505.85,2209.50) scale(0.9300,1)" font-family="Liberation Serif" font-weight="normal" font-style="normal" font-size="30" letter-spacing="0.000">60</text>
<text transform="translate(651.53,2209.50) scale(0.9300,1)" font-family="Liberation Serif" font-weight="normal" font-style="normal" font-size="30" letter-spacing="0.000">75</text>
<text transform="translate(798.03,2209.50) scale(0.9300,1)" font-family="Liberation Serif" font-weight="normal" font-style="normal" font-size="30" letter-spacing="0.000">90</text>
<text transform="translate(936.28,2209.50) scale(0.9300,1)" font-family="Liberation Serif" font-weight="normal" font-style="normal" font-size="30" letter-spacing="0.000">105</text>
<text transform="translate(43.40,1982.21) rotate(-90) scale(0.9700,1)" font-family="Liberation Serif" font-weight="bold" font-style="normal" font-size="39.4" letter-spacing="-0.993">Intensity (a.u.)</text>
<text transform="translate(480.92,2265.60) scale(0.8410,1)" font-family="Liberation Serif" font-weight="bold" font-style="italic" font-size="40" stroke="#000" stroke-width="0.88" stroke-linejoin="round">2</text>
<text transform="translate(499.42,2265.60) scale(1.1189,1)" font-family="Liberation Serif" font-weight="bold" font-style="italic" font-size="40">θ</text>
<text transform="translate(522.37,2265.60) scale(0.8718,1)" font-family="Liberation Serif" font-weight="normal" font-style="normal" font-size="38" stroke="#000" stroke-width="0.46" stroke-linejoin="round">(</text>
<text transform="translate(533.46,2265.60) scale(1.0522,1)" font-family="Liberation Serif" font-weight="normal" font-style="normal" font-size="38">°</text>
<text transform="translate(546.73,2265.60) scale(1.0974,1)" font-family="Liberation Serif" font-weight="normal" font-style="normal" font-size="38" stroke="#000" stroke-width="0.46" stroke-linejoin="round">)</text>
<text transform="translate(700.04,1892.20) scale(0.9398,1)" font-family="Liberation Sans" font-weight="bold" font-style="italic" font-size="41" stroke="#000" stroke-width="1" stroke-linejoin="round">x</text>
<text transform="translate(728.42,1891.60) scale(0.9610,1)" font-family="Liberation Sans" font-weight="bold" font-style="normal" font-size="41" stroke="#000" stroke-width="1.2" stroke-linejoin="round">=</text>
<text transform="translate(758.39,1891.90) scale(0.9403,1)" font-family="Liberation Sans" font-weight="bold" font-style="normal" font-size="40.5" stroke="#000" stroke-width="1.1" stroke-linejoin="round">0</text>
<text transform="translate(777.95,1891.90) scale(0.8174,1)" font-family="Liberation Sans" font-weight="bold" font-style="normal" font-size="40.5" stroke="#000" stroke-width="1.1" stroke-linejoin="round">.</text>
<text transform="translate(788.20,1891.90) scale(0.9050,1)" font-family="Liberation Sans" font-weight="bold" font-style="normal" font-size="40.5" stroke="#000" stroke-width="1.1" stroke-linejoin="round">3</text>
<text transform="translate(806.81,1891.90) scale(0.9247,1)" font-family="Liberation Sans" font-weight="bold" font-style="normal" font-size="40.5" stroke="#000" stroke-width="1.1" stroke-linejoin="round">0</text>
<text transform="translate(603.17,242.60) scale(1.0000,1)" font-family="Liberation Serif" font-weight="normal" font-style="normal" font-size="21" letter-spacing="0.000">56.5</text>
<text transform="translate(743.48,242.60) scale(1.0000,1)" font-family="Liberation Serif" font-weight="normal" font-style="normal" font-size="21" letter-spacing="0.000">57.0</text>
<text transform="translate(883.78,242.60) scale(1.0000,1)" font-family="Liberation Serif" font-weight="normal" font-style="normal" font-size="21" letter-spacing="0.000">57.5</text>
<text transform="translate(579.90,185.72) rotate(-90) scale(0.9600,1)" font-family="Liberation Serif" font-weight="bold" font-style="normal" font-size="20.7" letter-spacing="-0.544">Intensity (a.u.)</text>
<text transform="translate(741.43,278.80) scale(0.9000,1)" font-family="Liberation Serif" font-weight="bold" font-style="italic" font-size="20.3" stroke="#000" stroke-width="0.45" stroke-linejoin="round">2</text>
<text transform="translate(750.70,278.80) scale(1.2000,1)" font-family="Liberation Serif" font-weight="bold" font-style="italic" font-size="20.3">θ</text>
<text transform="translate(764.24,278.80) scale(0.8462,1)" font-family="Liberation Serif" font-weight="normal" font-style="normal" font-size="26" stroke="#000" stroke-width="0.31" stroke-linejoin="round">(</text>
<text transform="translate(770.94,278.80) scale(1.0065,1)" font-family="Liberation Serif" font-weight="normal" font-style="normal" font-size="26">°</text>
<text transform="translate(780.29,278.80) scale(0.8148,1)" font-family="Liberation Serif" font-weight="normal" font-style="normal" font-size="26" stroke="#000" stroke-width="0.31" stroke-linejoin="round">)</text>
<text transform="translate(833.83,57.00) scale(0.9700,1)" font-family="Liberation Serif" font-weight="normal" font-style="normal" font-size="25" letter-spacing="-0.681">(3 1 2)</text>
<text transform="translate(833.83,84.80) scale(0.9700,1)" font-family="Liberation Serif" font-weight="normal" font-style="normal" font-size="25" letter-spacing="-0.681">(2 0 4)</text>
<text transform="translate(582.05,999.10) scale(0.9400,1)" font-family="Liberation Serif" font-weight="normal" font-style="normal" font-size="19.8" letter-spacing="0.000">56.5</text>
<text transform="translate(738.63,999.10) scale(0.9400,1)" font-family="Liberation Serif" font-weight="normal" font-style="normal" font-size="19.8" letter-spacing="0.000">57.0</text>
<text transform="translate(895.45,999.10) scale(0.9400,1)" font-family="Liberation Serif" font-weight="normal" font-style="normal" font-size="19.8" letter-spacing="0.000">57.5</text>
<text transform="translate(552.10,944.12) rotate(-90) scale(0.9600,1)" font-family="Liberation Serif" font-weight="bold" font-style="normal" font-size="20.7" letter-spacing="-0.544">Intensity (a.u.)</text>
<text transform="translate(731.72,1032.50) scale(0.8700,1)" font-family="Liberation Serif" font-weight="bold" font-style="italic" font-size="20.3" stroke="#000" stroke-width="0.45" stroke-linejoin="round">2</text>
<text transform="translate(741.16,1032.50) scale(1.2526,1)" font-family="Liberation Serif" font-weight="bold" font-style="italic" font-size="20.3">θ</text>
<text transform="translate(755.05,1032.50) scale(0.9231,1)" font-family="Liberation Serif" font-weight="normal" font-style="normal" font-size="26" stroke="#000" stroke-width="0.31" stroke-linejoin="round">(</text>
<text transform="translate(762.42,1032.50) scale(0.9419,1)" font-family="Liberation Serif" font-weight="normal" font-style="normal" font-size="26">°</text>
<text transform="translate(771.13,1032.50) scale(0.8889,1)" font-family="Liberation Serif" font-weight="normal" font-style="normal" font-size="26" stroke="#000" stroke-width="0.31" stroke-linejoin="round">)</text>
<text transform="translate(830.83,824.70) scale(0.9700,1)" font-family="Liberation Serif" font-weight="normal" font-style="normal" font-size="25" letter-spacing="-0.630">(3 1 2)</text>
<text transform="translate(830.83,853.00) scale(0.9700,1)" font-family="Liberation Serif" font-weight="normal" font-style="normal" font-size="25" letter-spacing="-0.630">(2 0 4)</text>
<text transform="translate(594.40,1770.60) scale(0.9400,1)" font-family="Liberation Serif" font-weight="normal" font-style="normal" font-size="19.8" letter-spacing="0.000">56.5</text>
<text transform="translate(745.73,1770.60) scale(0.9400,1)" font-family="Liberation Serif" font-weight="normal" font-style="normal" font-size="19.8" letter-spacing="0.000">57.0</text>
<text transform="translate(897.30,1770.60) scale(0.9400,1)" font-family="Liberation Serif" font-weight="normal" font-style="normal" font-size="19.8" letter-spacing="0.000">57.5</text>
<text transform="translate(566.10,1723.22) rotate(-90) scale(0.9600,1)" font-family="Liberation Serif" font-weight="bold" font-style="normal" font-size="23.4" letter-spacing="-0.508">Intensity (a.u.)</text>
<text transform="translate(737.63,1804.70) scale(0.9182,1)" font-family="Liberation Serif" font-weight="bold" font-style="italic" font-size="22.6" stroke="#000" stroke-width="0.5" stroke-linejoin="round">2</text>
<text transform="translate(748.85,1804.70) scale(1.2667,1)" font-family="Liberation Serif" font-weight="bold" font-style="italic" font-size="22.6">θ</text>
<text transform="translate(763.37,1804.70) scale(0.9077,1)" font-family="Liberation Serif" font-weight="normal" font-style="normal" font-size="26" stroke="#000" stroke-width="0.31" stroke-linejoin="round">(</text>
<text transform="translate(770.77,1804.70) scale(0.9806,1)" font-family="Liberation Serif" font-weight="normal" font-style="normal" font-size="26">°</text>
<text transform="translate(780.12,1804.70) scale(0.9037,1)" font-family="Liberation Serif" font-weight="normal" font-style="normal" font-size="26" stroke="#000" stroke-width="0.31" stroke-linejoin="round">)</text>
<text transform="translate(843.13,1582.20) scale(0.9700,1)" font-family="Liberation Serif" font-weight="normal" font-style="normal" font-size="25" letter-spacing="-0.475">(3 1 2)</text>
<text transform="translate(843.13,1610.40) scale(0.9700,1)" font-family="Liberation Serif" font-weight="normal" font-style="normal" font-size="25" letter-spacing="-0.475">(2 0 4)</text>
</g>
</svg>
</body></html>
